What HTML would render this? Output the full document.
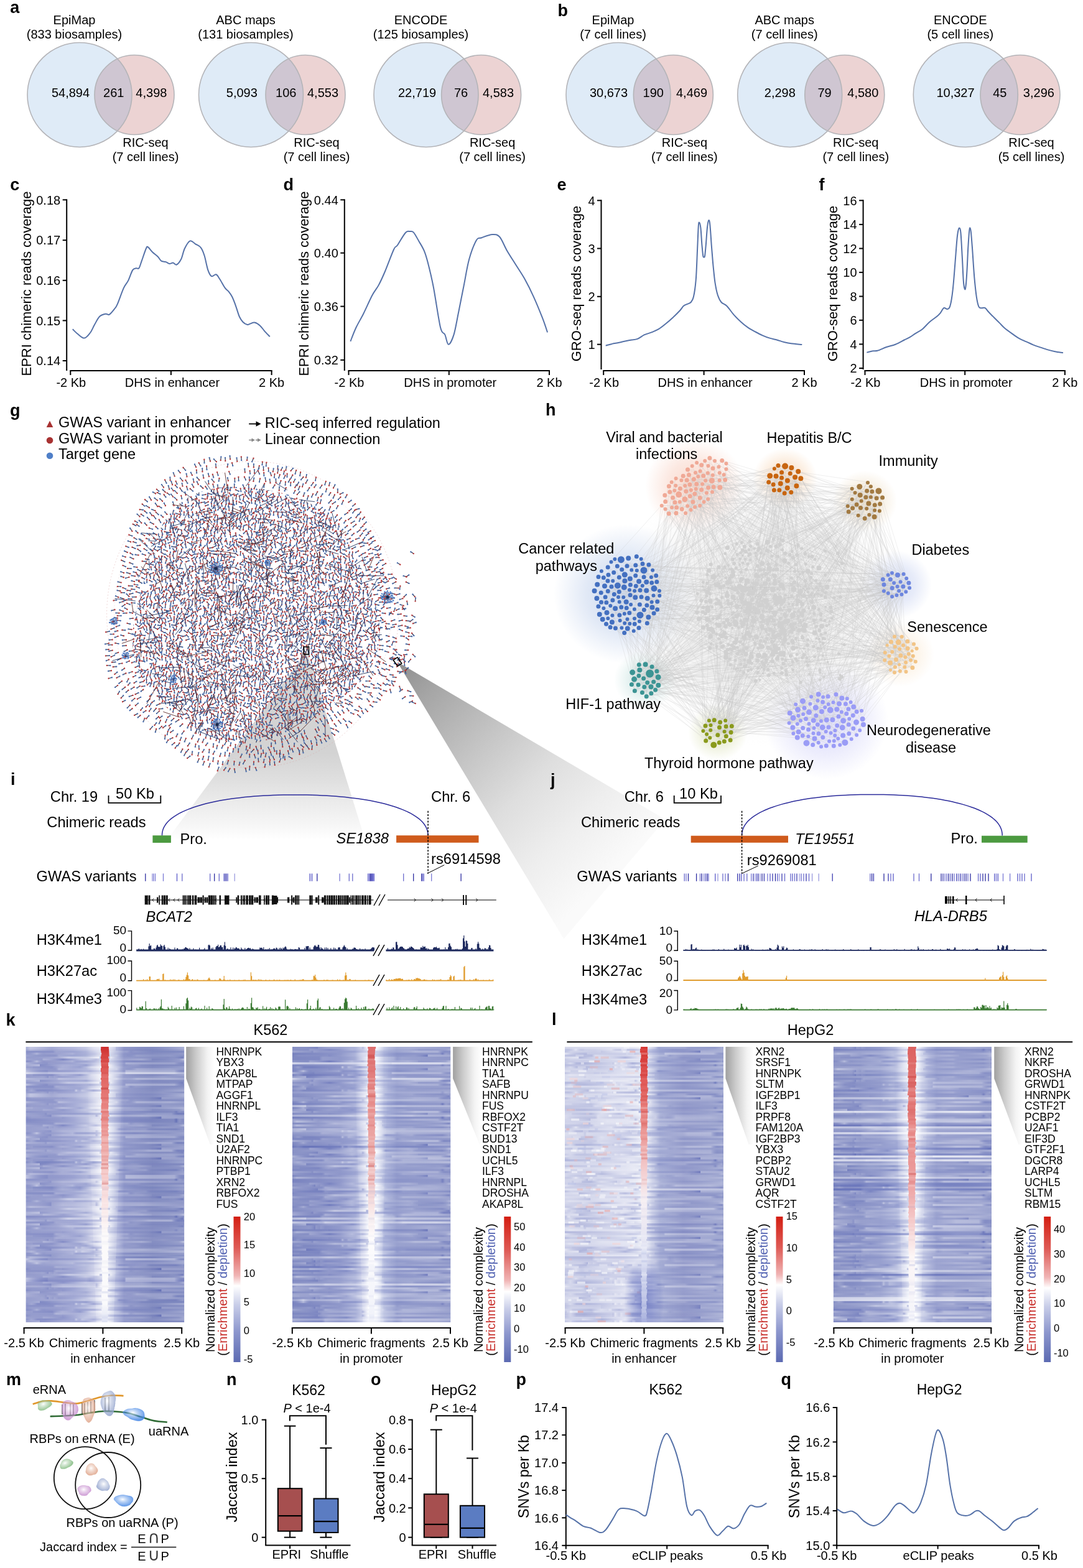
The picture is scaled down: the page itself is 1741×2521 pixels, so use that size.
<!DOCTYPE html>
<html><head><meta charset="utf-8"><title>Figure</title><style>html,body{margin:0;padding:0;background:#fff;}svg{display:block;}</style></head><body>
<svg width="1741" height="2521" viewBox="0 0 1741 2521" font-family='"Liberation Sans", Arial, Helvetica, sans-serif' font-size="20" fill="#000"><defs><linearGradient id="cone1" gradientUnits="userSpaceOnUse" x1="0" y1="1047" x2="0" y2="1350"><stop offset="0" stop-color="#d4d4d4"/><stop offset="0.54" stop-color="#d3d3d3"/><stop offset="0.68" stop-color="#dfdfdf"/><stop offset="0.8" stop-color="#ebebeb"/><stop offset="0.92" stop-color="#f6f6f6"/><stop offset="1" stop-color="#fff"/></linearGradient><linearGradient id="cone2" gradientUnits="userSpaceOnUse" x1="639" y1="1064" x2="985" y2="1400"><stop offset="0" stop-color="#8e8e8e"/><stop offset="0.15" stop-color="#a6a6a6"/><stop offset="0.4" stop-color="#c6c6c6"/><stop offset="0.6" stop-color="#dedede"/><stop offset="0.8" stop-color="#eeeeee"/><stop offset="1" stop-color="#fafafa"/></linearGradient><pattern id="dbA" patternUnits="userSpaceOnUse" width="144" height="126"><path d="M4.1 0.9L3.2 6.1M4.1 126.9L3.2 132.1M3.6 5.5L0.5 8.9M147.6 5.5L144.5 8.9M-0.7 13.3L4.7 14.8M143.3 13.3L148.7 14.8M2.1 17.4L4.8 21.2M3.4 23.3L1.6 28.3M147.4 23.3L145.6 28.3M0.6 31.3L5.3 32.4M144.6 31.3L149.3 32.4M-0.3 42.4L4.2 38.9M143.7 42.4L148.2 38.9M6.2 43.3L1.5 44M150.2 43.3L145.5 44M4 48.2L4.8 53.2M0.1 53.6L5.1 57M144.1 53.6L149.1 57M2 60.6L3.9 65.7M1.1 65.9L2.6 71M145.1 65.9L146.6 71M0.6 75.8L2.6 71.1M144.6 75.8L146.6 71.1M5.7 80.7L1.5 84.1M149.7 80.7L145.5 84.1M2.9 84.2L3 88.9M3.8 96.5L4.1 101.4M4.7 101.9L0.7 105.8M148.7 101.9L144.7 105.8M4.3 113L-0.1 112.3M148.3 113L143.9 112.3M2.3 119.8L6.1 116.3M2.7 120L5.8 124.7M2.7 -6L5.8 -1.3M13 8.9L8.2 5.7M5.9 15.3L10.4 14.1M6.9 37.8L8.5 42.8M9.7 42L5.9 45.7M10.2 55.4L10.5 60.6M7.9 67.3L7.8 72.2M9.1 79.9L7.6 85M10.5 87.5L4.6 87.2M10.7 90.8L8.8 95.4M8.6 95.8L13 99.4M6.3 105.1L11.4 105.8M7.9 107.9L9.3 113.3M10.1 114.2L9.5 119.4M10.2 118.7L11.1 124.3M10.2 -7.3L11.1 -1.7M14.2 5.7L17.7 1.5M14.2 131.7L17.7 127.5M18.7 10.6L14.3 6.6M11.7 12.6L14.8 16.1M11.1 21.2L15.9 19.4M17.1 29.6L14.3 34.3M16.7 36L16.6 40.7M14.8 42.9L13 47.8M13.9 47.5L14.6 52.2M11.2 59L15.4 57.2M14.3 61.3L12.4 65.5M14.9 67.6L14.8 73.3M14.4 70.6L15.8 76.1M14.2 82.1L18.8 82.6M15.7 85.1L16.1 90.8M15.3 90.4L15.5 95.4M13.9 96.3L18.9 98.6M15.1 100.8L13.3 106M11.5 110.7L16.1 108.5M13.7 115.9L17.9 118.2M19.9 1.1L22.3 5.8M19.9 127.1L22.3 131.8M20.3 11.4L24.3 8.8M20.3 16.5L24.6 13.7M21.6 19.4L23.6 24.7M22.1 29.1L17.4 28M21.4 36.5L21 31.5M19.1 42.9L20.6 47.4M22.8 53.2L19.7 57.4M22.4 59.2L19.7 64M21.2 67.2L22.6 71.9M19.6 75.9L22.1 70.8M22.5 80.6L21.2 84.9M21.5 84.4L21.1 90.1M20.8 90.3L18 94.7M22.4 102L20.5 96.7M19.5 108.3L20.7 103.7M23.2 107.3L21.6 111.7M20.5 114.9L19.8 120.4M22.6 120.2L20.7 124.6M22.6 -5.8L20.7 -1.4M26.2 1.6L24.6 5.8M26.2 127.6L24.6 131.8M29.9 8.8L24.8 8.8M29 12.3L25.9 16.8M26.1 17.4L28 22.6M25.4 24.5L26.6 30.1M26.4 29.6L26.4 34.3M26.5 36.5L30 39.5M28.7 46.1L27.2 41.7M26.5 46.8L28.2 52.3M28.4 52.5L26.8 58M27.9 67.1L28.9 72.9M27.2 79.2L28.8 84.4M29.1 83.1L27 87.7M27.4 89.4L28.4 94.1M29.3 101.2L27.4 96.3M25.7 101.5L27.3 106.3M28.9 108.3L28.1 113.2M28.5 116.7L23.5 118.4M24.9 125.6L27.5 121.1M24.9 -0.4L27.5 -4.9M32.7 2L36.1 6.5M34.6 7.9L34.7 12.9M36.7 12.3L32.8 15.3M34.2 24.3L33.9 18.5M36.8 28.7L31.5 28.7M35 30.9L32.1 34.6M31.7 34.5L31.7 39.9M32 48.3L32.5 53.3M32.5 59.3L30.7 53.6M34.2 64.6L32.8 60.1M36.2 70.3L32.9 66.7M31.3 71.6L31.2 77.3M31.7 83.4L34.9 79M34.1 83.1L33.8 88M30.9 96.3L34.3 91.8M35.1 97.1L29.6 99.5M35.3 113.1L33.7 108.6M34.5 115.4L35 121.3M32.4 123.8L33.9 119.5M36.6 0.8L38.8 6.2M36.6 126.8L38.8 132.2M40.5 7.3L37.1 11.2M40.6 11.6L39.2 16.2M37.2 24.4L38.4 28.9M38.2 29.1L36.5 33.8M42.9 39.1L37.5 40M42.1 46.5L36.8 45.3M35.3 52L41 51.2M40.3 62.8L36 65M39.7 67.2L40.9 71.8M42.4 76L37 74.1M39.7 82.9L37.8 78.5M40.6 83.7L36.9 86.8M42.6 96.5L39 92.6M40 95.2L40.9 99.7M41.5 101.3L39.8 106.8M42.3 111.4L37.7 108.3M38.7 124.8L41.8 121.1M38.7 -1.2L41.8 -4.9M46.6 0.2L45.7 5.6M46.6 126.2L45.7 131.6M46 8.7L43.3 12.7M44.9 11.3L42.8 15.9M45 19.3L45.3 24.9M44.2 23.8L45.9 28.4M45.4 43L45.8 37.3M44.9 45.8L46.2 41M46.8 50.8L41.5 53.4M42.3 57.2L46.8 55.6M46.4 61.5L45.7 66.4M49.4 70L43.5 71.2M43.9 71.5L44.1 76.8M46.5 82L41.3 81M44.9 85.9L48 89.9M46.6 90.6L46.8 95.3M45.6 100.9L41.2 97.8M44.9 100.6L43.5 106.4M45.1 109.7L46.3 114.7M46.2 112.4L44.9 118.2M46.1 125.2L44.5 119.5M46.1 -0.8L44.5 -6.5M47.8 2.7L52.5 4.2M49.5 6.8L49.8 11.9M52.2 13.9L51.9 19.6M52.1 18.9L48.8 22.9M52.9 23.4L51.7 28.7M53.4 29.5L51.8 34.1M47.1 37.4L52.4 38.8M51.7 42.7L53.4 48.2M53 47.2L51.6 52.1M51.9 53.2L52.4 58.5M51.8 65L48.5 61.2M47.7 67.6L53 67.9M52.5 74.8L47 76.5M49.2 79.4L52.3 83.6M53.2 92.5L52 96.9M50.6 96.8L51.2 102.4M52.2 104.7L47.4 106.8M50 115.1L52.1 110.3M48.4 117.3L52.7 113.6M53.5 124.4L48.9 125.2M53.5 -1.6L48.9 -0.8M59.8 4.5L54.7 3.8M55.8 9.1L60.3 9.7M54.5 13.9L56.7 18M55.4 21.4L60 23.6M53.2 24L57.8 26.5M56.1 30.7L55.3 36.6M55.8 36.3L59.2 40.6M58.2 43.3L59.4 48.8M58.1 48.4L56.3 53.2M56.3 56.2L55 60.7M58.6 64.7L57.6 60.2M56.1 71.8L56.5 66M59.3 71.2L57.2 76.3M55.5 78.6L57.4 83M56.4 85.9L54.9 91.1M59.4 90.1L58.1 94.9M60 95.5L56.6 99.4M57 100.9L56.8 106M55.3 108.7L57.1 113.7M57.3 115.3L59.4 120.8M54 124.2L59 121.5M54 -1.8L59 -4.5M62.7 4L60.5 -0.1M62.7 130L60.5 125.9M62.9 10.7L62 16M61.1 22.5L62.2 17.5M60.6 29.5L66.3 27.7M61.3 31.6L61.3 36.8M62 34.9L63.6 40.4M65.1 47.4L64.3 41.7M60.2 48.6L62.4 53.9M62.1 53.6L62.9 59.4M65.7 60L62.2 63.7M61.6 72.9L61.8 78.2M62.6 77.5L60.9 82.7M61 88.1L61.4 82.5M62.6 90.7L60.5 95.5M62.3 94.5L61.7 100.4M63.8 108.6L61.9 114M61.2 116.2L64.3 120.8M62.8 121L63.5 125.6M62.8 -5L63.5 -0.4M70.6 2.3L66.8 5.4M67 8.2L70.5 11.9M68.6 12.2L67.5 18.1M71.1 19.4L66.6 19.5M70.8 23.3L69.2 27.9M69.8 29.3L68.4 34.8M71.7 36.7L69.2 42.1M69.1 44.1L71.9 48.7M68.2 53.3L72 49.1M68 53.2L68.9 57.8M72 61.8L69.1 66.1M68.6 66.1L72.5 68.4M70.7 76.2L65 77.2M68 78L69.4 83.7M66.6 85L70.3 87.8M68.8 90.9L65.8 94.8M68.4 95.9L71.1 101.1M68.3 102L66.5 107.3M68.2 109.1L66.5 113.3M66.3 114.5L68.8 119.3M68.2 126.8L70.1 122.7M68.2 0.8L70.1 -3.3M74 7.9L72.5 13.5M78.4 12.9L73.5 14.6M77.4 17.8L75.2 23.1M77.9 26.9L73.4 30.4M73.2 30.8L73.8 36.1M71.9 40.7L76.4 39.6M76.6 44.3L76.7 49M74.8 47.6L75.7 53.4M75.4 54.9L73.7 59.9M70.9 61.7L75.6 62.6M75.3 68L76.2 73.6M73.5 73.1L74.2 78.2M74.8 79.8L74.1 85.4M74.8 84.8L77.6 88.7M76.2 92.5L70.7 93.2M73.5 96.1L74.3 101.4M72.7 101.5L73.9 106.4M73.6 114.5L75.6 110.3M75.9 113.5L77.4 118.8M74.3 121.6L78.5 125.1M74.3 -4.4L78.5 -0.9M83.7 1.4L78.5 3.3M83.7 127.4L78.5 129.3M81.5 6.5L83.1 11.8M81.7 14L80 18.5M80.2 22L84.4 20.6M82.1 31.3L82.3 25.6M76.7 30.9L82.1 32.7M81 36.7L83 41M79.6 41.8L79.2 46.9M81.4 54.5L80.2 49M79.7 53.1L79 58.5M80.4 64.6L80 59M84.5 70.8L78.9 69.4M80.5 75.9L83 71.8M83.3 78L81 83.6M79.6 84.4L81 89.5M81 92.5L81.4 97.1M82.1 100.1L78.4 95.9M82.1 102.7L83 107.5M82.4 114.9L81.3 120M80.1 125.2L83.7 121.3M80.1 -0.8L83.7 -4.7M85.8 -0.2L88.2 4.4M85.8 125.8L88.2 130.4M83.5 13L89.2 13.8M88.3 17.8L86.4 22.2M87.1 23.2L84.3 28M88.1 38.4L83.7 39.7M86.8 48.8L87.4 54.3M84 54.6L88.7 55.9M83.4 68.3L88.6 70M89.3 72.5L85.4 75.6M83.9 82.4L87.8 79.4M88 85.8L84.4 90M88 90L86.3 94.4M91 104.6L86.3 106.6M86.5 109.6L85.8 114.9M88.5 115.9L87.5 120.5M89.3 123.8L85.8 119.4M91.4 -0.5L92.2 5.3M91.4 125.5L92.2 131.3M94.2 10.8L90.1 7.6M94.2 23.3L91.6 27.8M90.8 31.4L95.8 33.8M88.8 40.7L94.2 38.2M92 41.3L91.3 46.4M92.2 49.8L92.1 54.4M93.5 68.4L89.1 71M93.4 77.2L94.4 71.9M92.4 78.2L91.1 83.9M91.5 84.6L91.6 89.8M92.8 93.1L96.2 89.8M90.8 101L91.8 106.3M89.5 112.7L93.5 110.6M92 114L92.7 119.4M95.9 123.2L92.6 120M98.8 4.9L98.4 10.6M102 20.7L98 24M97.9 25.1L102.5 26.4M98.6 29.5L99.4 34.1M102.7 38.9L97.8 40.8M96.7 41.6L97.9 47.4M96.3 51.1L100.4 53.3M102.5 58.5L97.4 59M98.3 65.2L99.9 60.5M102.4 66.6L99.1 70.2M97.3 77.6L99.1 72M99.1 84.5L97.2 79.6M100.2 86.2L98.3 91M99.5 90.5L97.3 95.4M101.2 107L96.9 104.2M102.2 112.1L97.7 110M96.2 116.1L101.8 118M99.7 121.1L98.6 126.4M99.7 -4.9L98.6 0.4M109.2 3.5L104.2 1.1M109.2 129.5L104.2 127.1M102.4 7.7L104.3 12.4M108.5 16L104.3 14.4M105.2 16.9L104.4 21.9M105.7 28.6L106.8 24.1M108.4 33.7L104.4 29.7M106.6 40.4L105.7 35M103.9 42.4L103.1 47.4M102.7 49L106.4 52.5M105.7 60.6L107.3 54.9M103.2 60.9L103.2 66.8M104.9 66.8L105.7 72M107 74.2L104.1 79M106.5 83.3L104 78.8M108.9 87.6L104.2 88.9M102.9 95.9L103.5 90.6M107.1 98.2L103.7 101.7M104.2 118.2L105.2 113.2M103.4 126.5L106 122.2M103.4 0.5L106 -3.8M109.2 3.8L112.9 1.1M109.2 129.8L112.9 127.1M111.3 12.4L112.7 17.2M113.9 22.7L108.7 21.6M111.2 23L112.2 27.5M111.8 29.7L112.1 35.4M111.3 36.5L113.8 40.9M111.8 45.9L108.3 41.2M113.1 52.6L108.9 49.6M106.5 64.2L112 63.1M112 65L113.4 70.6M110.4 73.3L110 79.2M111.3 82.3L108.5 77M111.7 83.2L112.1 87.8M111.5 89.3L111.6 95.1M108.4 97.5L110.7 102.9M109.6 102.3L112.2 107.4M108.7 111.1L114 110.6M112.6 113.3L111.6 118.9M115.3 124.2L110 123.2M115.3 -1.8L110 -2.8M115.5 -0.2L115.1 5.8M115.5 125.8L115.1 131.8M115.7 6.4L120.1 9.1M115.9 12.3L114.6 17.7M115.7 17.3L115.5 22.2M115.4 25.6L116.6 31M115.9 30.3L114.6 35M117.3 34.8L115.8 40.2M116.6 47.2L115.6 42M116.2 48.5L116.6 53M117.3 61.9L115.6 67.5M119.4 67.9L115.9 72M118.8 73.7L118.6 79M117.6 77.2L113.5 81.3M119.8 84.9L116.8 88.3M113.5 91.4L117.3 95.3M115.6 97.3L117.3 102.8M117 103.7L116.2 108.3M114.5 112L119.7 112M117.7 118.4L116.1 113.8M117.3 120.1L113.5 123.7M124.8 4L119.4 1.8M124.8 130L119.4 127.8M126 12.4L121.5 8.9M120.4 13.2L124.3 16.5M123.5 18.4L122 23.4M124.8 25.5L124.5 31M123.5 37.1L123.5 42.2M124.9 46.2L119.5 44.1M122.3 49.3L122.6 54.4M123.3 61.2L125 55.7M122.7 62.1L124.6 66.9M120 69.5L122.5 65.7M124.3 72L122.5 77.2M121.1 78.1L124.5 81.7M124 83.1L122.1 87.3M122.2 89.4L121.5 95.1M120.6 98.8L126.4 99.9M125 106L123.9 101.3M123.3 108L126.1 112.1M121.6 113.7L122.6 118.4M120.6 119.4L122.3 123.6M128.9 10.2L130 5.7M129.1 13.2L130.1 18.8M127.5 23.6L131.4 21.3M128.1 26.4L133.3 27.4M129.9 29.8L128.5 34.7M129.6 39.5L125.8 35.3M128.2 42.8L126.8 47.4M129.3 48L129.7 52.5M130.1 61.1L130.8 56.2M129.4 59.4L126.9 63.5M127.1 66.8L130.1 71M131.2 73.5L130.2 79.3M128.1 78.9L127.4 84.8M131.1 84.6L130.4 89.4M129.4 97.2L129.8 91.6M130.4 99.4L125.3 101.6M131.6 103.7L127 104.1M129.2 107.6L131 112.4M131.7 115L126.5 117.3M128.5 120.6L129.1 125.8M128.5 -5.4L129.1 -0.2M137.2 4.7L134.1 0.3M137.2 130.7L134.1 126.3M135.1 5.2L134.3 10.1M133.8 11.1L135.6 16M135 20L133.6 24.3M133.6 25.8L136.6 30.9M133.1 31L134.6 35.4M135.9 38.7L132.5 42M131.6 44.2L135.1 48.6M134.1 50.2L138.7 49.4M132.1 60.1L135.2 65M134.7 64.7L133.7 70.6M136.4 70.8L136 76M135.6 78.1L137 82.9M134.5 83.4L134.7 88.4M137.5 91.8L132.9 92.6M134.1 95L134.2 100.2M136 101.4L136.5 106M135.9 109.8L135.6 115.7M135.9 113.1L135.5 118.2M137.8 123.4L132.2 122.8M140 -1L139.1 4.4M140 125L139.1 130.4M142.1 13.6L141.6 18.9M-1.9 13.6L-2.4 18.9M142.5 17.3L139.5 21.5M-1.5 17.3L-4.5 21.5M139.3 26.3L141.2 30.8M140.8 33.9L144.7 31.7M-3.2 33.9L0.7 31.7M141.3 35.4L139.5 40.3M140.6 41.7L142.3 47.2M-3.4 41.7L-1.7 47.2M140.5 48.3L142.9 53.2M-3.5 48.3L-1.1 53.2M140.4 55.6L143 60.4M-3.6 55.6L-1 60.4M144.6 62.4L140.6 60.2M0.6 62.4L-3.4 60.2M144.3 70.9L138.8 69.4M0.3 70.9L-5.2 69.4M140.8 73.3L137.7 78.2M140 78.6L143.7 81.9M-4 78.6L-0.3 81.9M140.4 91.3L138.1 95.8M142.7 94.8L140.3 100.2M-1.3 94.8L-3.7 100.2M143 103.9L141.2 108.4M-1 103.9L-2.8 108.4M141.8 109.4L139.6 113.4M140.3 114.5L139.7 119.9M142.8 120.3L138.1 123.6M-1.2 120.3L-5.9 123.6" stroke="#2b3350" stroke-width="1.2" fill="none"/><path d="M4.1 0.9h0M4.1 126.9h0M3.6 5.5h0M147.6 5.5h0M-0.7 13.3h0M143.3 13.3h0M2.1 17.4h0M3.4 23.3h0M147.4 23.3h0M0.6 31.3h0M144.6 31.3h0M-0.3 42.4h0M143.7 42.4h0M6.2 43.3h0M150.2 43.3h0M4 48.2h0M0.1 53.6h0M144.1 53.6h0M2 60.6h0M1.1 65.9h0M145.1 65.9h0M0.6 75.8h0M144.6 75.8h0M5.7 80.7h0M149.7 80.7h0M2.9 84.2h0M3.8 96.5h0M4.7 101.9h0M148.7 101.9h0M4.3 113h0M148.3 113h0M2.3 119.8h0M2.7 120h0M2.7 -6h0M13 8.9h0M5.9 15.3h0M6.9 37.8h0M9.7 42h0M10.2 55.4h0M7.9 67.3h0M9.1 79.9h0M10.5 87.5h0M10.7 90.8h0M8.6 95.8h0M6.3 105.1h0M7.9 107.9h0M10.1 114.2h0M10.2 118.7h0M10.2 -7.3h0M14.2 5.7h0M14.2 131.7h0M18.7 10.6h0M11.7 12.6h0M11.1 21.2h0M17.1 29.6h0M16.7 36h0M14.8 42.9h0M13.9 47.5h0M11.2 59h0M14.3 61.3h0M14.9 67.6h0M14.4 70.6h0M14.2 82.1h0M15.7 85.1h0M15.3 90.4h0M13.9 96.3h0M15.1 100.8h0M11.5 110.7h0M13.7 115.9h0M19.9 1.1h0M19.9 127.1h0M20.3 11.4h0M20.3 16.5h0M21.6 19.4h0M22.1 29.1h0M21.4 36.5h0M19.1 42.9h0M22.8 53.2h0M22.4 59.2h0M21.2 67.2h0M19.6 75.9h0M22.5 80.6h0M21.5 84.4h0M20.8 90.3h0M22.4 102h0M19.5 108.3h0M23.2 107.3h0M20.5 114.9h0M22.6 120.2h0M22.6 -5.8h0M26.2 1.6h0M26.2 127.6h0M29.9 8.8h0M29 12.3h0M26.1 17.4h0M25.4 24.5h0M26.4 29.6h0M26.5 36.5h0M28.7 46.1h0M26.5 46.8h0M28.4 52.5h0M27.9 67.1h0M27.2 79.2h0M29.1 83.1h0M27.4 89.4h0M29.3 101.2h0M25.7 101.5h0M28.9 108.3h0M28.5 116.7h0M24.9 125.6h0M24.9 -0.4h0M32.7 2h0M34.6 7.9h0M36.7 12.3h0M34.2 24.3h0M36.8 28.7h0M35 30.9h0M31.7 34.5h0M32 48.3h0M32.5 59.3h0M34.2 64.6h0M36.2 70.3h0M31.3 71.6h0M31.7 83.4h0M34.1 83.1h0M30.9 96.3h0M35.1 97.1h0M35.3 113.1h0M34.5 115.4h0M32.4 123.8h0M36.6 0.8h0M36.6 126.8h0M40.5 7.3h0M40.6 11.6h0M37.2 24.4h0M38.2 29.1h0M42.9 39.1h0M42.1 46.5h0M35.3 52h0M40.3 62.8h0M39.7 67.2h0M42.4 76h0M39.7 82.9h0M40.6 83.7h0M42.6 96.5h0M40 95.2h0M41.5 101.3h0M42.3 111.4h0M38.7 124.8h0M38.7 -1.2h0M46.6 0.2h0M46.6 126.2h0M46 8.7h0M44.9 11.3h0M45 19.3h0M44.2 23.8h0M45.4 43h0M44.9 45.8h0M46.8 50.8h0M42.3 57.2h0M46.4 61.5h0M49.4 70h0M43.9 71.5h0M46.5 82h0M44.9 85.9h0M46.6 90.6h0M45.6 100.9h0M44.9 100.6h0M45.1 109.7h0M46.2 112.4h0M46.1 125.2h0M46.1 -0.8h0M47.8 2.7h0M49.5 6.8h0M52.2 13.9h0M52.1 18.9h0M52.9 23.4h0M53.4 29.5h0M47.1 37.4h0M51.7 42.7h0M53 47.2h0M51.9 53.2h0M51.8 65h0M47.7 67.6h0M52.5 74.8h0M49.2 79.4h0M53.2 92.5h0M50.6 96.8h0M52.2 104.7h0M50 115.1h0M48.4 117.3h0M53.5 124.4h0M53.5 -1.6h0M59.8 4.5h0M55.8 9.1h0M54.5 13.9h0M55.4 21.4h0M53.2 24h0M56.1 30.7h0M55.8 36.3h0M58.2 43.3h0M58.1 48.4h0M56.3 56.2h0M58.6 64.7h0M56.1 71.8h0M59.3 71.2h0M55.5 78.6h0M56.4 85.9h0M59.4 90.1h0M60 95.5h0M57 100.9h0M55.3 108.7h0M57.3 115.3h0M54 124.2h0M54 -1.8h0M62.7 4h0M62.7 130h0M62.9 10.7h0M61.1 22.5h0M60.6 29.5h0M61.3 31.6h0M62 34.9h0M65.1 47.4h0M60.2 48.6h0M62.1 53.6h0M65.7 60h0M61.6 72.9h0M62.6 77.5h0M61 88.1h0M62.6 90.7h0M62.3 94.5h0M63.8 108.6h0M61.2 116.2h0M62.8 121h0M62.8 -5h0M70.6 2.3h0M67 8.2h0M68.6 12.2h0M71.1 19.4h0M70.8 23.3h0M69.8 29.3h0M71.7 36.7h0M69.1 44.1h0M68.2 53.3h0M68 53.2h0M72 61.8h0M68.6 66.1h0M70.7 76.2h0M68 78h0M66.6 85h0M68.8 90.9h0M68.4 95.9h0M68.3 102h0M68.2 109.1h0M66.3 114.5h0M68.2 126.8h0M68.2 0.8h0M74 7.9h0M78.4 12.9h0M77.4 17.8h0M77.9 26.9h0M73.2 30.8h0M71.9 40.7h0M76.6 44.3h0M74.8 47.6h0M75.4 54.9h0M70.9 61.7h0M75.3 68h0M73.5 73.1h0M74.8 79.8h0M74.8 84.8h0M76.2 92.5h0M73.5 96.1h0M72.7 101.5h0M73.6 114.5h0M75.9 113.5h0M74.3 121.6h0M74.3 -4.4h0M83.7 1.4h0M83.7 127.4h0M81.5 6.5h0M81.7 14h0M80.2 22h0M82.1 31.3h0M76.7 30.9h0M81 36.7h0M79.6 41.8h0M81.4 54.5h0M79.7 53.1h0M80.4 64.6h0M84.5 70.8h0M80.5 75.9h0M83.3 78h0M79.6 84.4h0M81 92.5h0M82.1 100.1h0M82.1 102.7h0M82.4 114.9h0M80.1 125.2h0M80.1 -0.8h0M85.8 -0.2h0M85.8 125.8h0M83.5 13h0M88.3 17.8h0M87.1 23.2h0M88.1 38.4h0M86.8 48.8h0M84 54.6h0M83.4 68.3h0M89.3 72.5h0M83.9 82.4h0M88 85.8h0M88 90h0M91 104.6h0M86.5 109.6h0M88.5 115.9h0M89.3 123.8h0M91.4 -0.5h0M91.4 125.5h0M94.2 10.8h0M94.2 23.3h0M90.8 31.4h0M88.8 40.7h0M92 41.3h0M92.2 49.8h0M93.5 68.4h0M93.4 77.2h0M92.4 78.2h0M91.5 84.6h0M92.8 93.1h0M90.8 101h0M89.5 112.7h0M92 114h0M95.9 123.2h0M98.8 4.9h0M102 20.7h0M97.9 25.1h0M98.6 29.5h0M102.7 38.9h0M96.7 41.6h0M96.3 51.1h0M102.5 58.5h0M98.3 65.2h0M102.4 66.6h0M97.3 77.6h0M99.1 84.5h0M100.2 86.2h0M99.5 90.5h0M101.2 107h0M102.2 112.1h0M96.2 116.1h0M99.7 121.1h0M99.7 -4.9h0M109.2 3.5h0M109.2 129.5h0M102.4 7.7h0M108.5 16h0M105.2 16.9h0M105.7 28.6h0M108.4 33.7h0M106.6 40.4h0M103.9 42.4h0M102.7 49h0M105.7 60.6h0M103.2 60.9h0M104.9 66.8h0M107 74.2h0M106.5 83.3h0M108.9 87.6h0M102.9 95.9h0M107.1 98.2h0M104.2 118.2h0M103.4 126.5h0M103.4 0.5h0M109.2 3.8h0M109.2 129.8h0M111.3 12.4h0M113.9 22.7h0M111.2 23h0M111.8 29.7h0M111.3 36.5h0M111.8 45.9h0M113.1 52.6h0M106.5 64.2h0M112 65h0M110.4 73.3h0M111.3 82.3h0M111.7 83.2h0M111.5 89.3h0M108.4 97.5h0M109.6 102.3h0M108.7 111.1h0M112.6 113.3h0M115.3 124.2h0M115.3 -1.8h0M115.5 -0.2h0M115.5 125.8h0M115.7 6.4h0M115.9 12.3h0M115.7 17.3h0M115.4 25.6h0M115.9 30.3h0M117.3 34.8h0M116.6 47.2h0M116.2 48.5h0M117.3 61.9h0M119.4 67.9h0M118.8 73.7h0M117.6 77.2h0M119.8 84.9h0M113.5 91.4h0M115.6 97.3h0M117 103.7h0M114.5 112h0M117.7 118.4h0M117.3 120.1h0M124.8 4h0M124.8 130h0M126 12.4h0M120.4 13.2h0M123.5 18.4h0M124.8 25.5h0M123.5 37.1h0M124.9 46.2h0M122.3 49.3h0M123.3 61.2h0M122.7 62.1h0M120 69.5h0M124.3 72h0M121.1 78.1h0M124 83.1h0M122.2 89.4h0M120.6 98.8h0M125 106h0M123.3 108h0M121.6 113.7h0M120.6 119.4h0M128.9 10.2h0M129.1 13.2h0M127.5 23.6h0M128.1 26.4h0M129.9 29.8h0M129.6 39.5h0M128.2 42.8h0M129.3 48h0M130.1 61.1h0M129.4 59.4h0M127.1 66.8h0M131.2 73.5h0M128.1 78.9h0M131.1 84.6h0M129.4 97.2h0M130.4 99.4h0M131.6 103.7h0M129.2 107.6h0M131.7 115h0M128.5 120.6h0M128.5 -5.4h0M137.2 4.7h0M137.2 130.7h0M135.1 5.2h0M133.8 11.1h0M135 20h0M133.6 25.8h0M133.1 31h0M135.9 38.7h0M131.6 44.2h0M134.1 50.2h0M132.1 60.1h0M134.7 64.7h0M136.4 70.8h0M135.6 78.1h0M134.5 83.4h0M137.5 91.8h0M134.1 95h0M136 101.4h0M135.9 109.8h0M135.9 113.1h0M137.8 123.4h0M140 -1h0M140 125h0M142.1 13.6h0M-1.9 13.6h0M142.5 17.3h0M-1.5 17.3h0M139.3 26.3h0M140.8 33.9h0M-3.2 33.9h0M141.3 35.4h0M140.6 41.7h0M-3.4 41.7h0M140.5 48.3h0M-3.5 48.3h0M140.4 55.6h0M-3.6 55.6h0M144.6 62.4h0M0.6 62.4h0M144.3 70.9h0M0.3 70.9h0M140.8 73.3h0M140 78.6h0M-4 78.6h0M140.4 91.3h0M142.7 94.8h0M-1.3 94.8h0M143 103.9h0M-1 103.9h0M141.8 109.4h0M140.3 114.5h0M142.8 120.3h0M-1.2 120.3h0" stroke="#bb3a3a" stroke-width="2.4" fill="none" stroke-linecap="round"/><path d="M3.2 6.1h0M3.2 132.1h0M0.5 8.9h0M144.5 8.9h0M4.7 14.8h0M148.7 14.8h0M4.8 21.2h0M1.6 28.3h0M145.6 28.3h0M5.3 32.4h0M149.3 32.4h0M4.2 38.9h0M148.2 38.9h0M1.5 44h0M145.5 44h0M4.8 53.2h0M5.1 57h0M149.1 57h0M3.9 65.7h0M2.6 71h0M146.6 71h0M2.6 71.1h0M146.6 71.1h0M1.5 84.1h0M145.5 84.1h0M3 88.9h0M4.1 101.4h0M0.7 105.8h0M144.7 105.8h0M-0.1 112.3h0M143.9 112.3h0M6.1 116.3h0M5.8 124.7h0M5.8 -1.3h0M8.2 5.7h0M10.4 14.1h0M8.5 42.8h0M5.9 45.7h0M10.5 60.6h0M7.8 72.2h0M7.6 85h0M4.6 87.2h0M8.8 95.4h0M13 99.4h0M11.4 105.8h0M9.3 113.3h0M9.5 119.4h0M11.1 124.3h0M11.1 -1.7h0M17.7 1.5h0M17.7 127.5h0M14.3 6.6h0M14.8 16.1h0M15.9 19.4h0M14.3 34.3h0M16.6 40.7h0M13 47.8h0M14.6 52.2h0M15.4 57.2h0M12.4 65.5h0M14.8 73.3h0M15.8 76.1h0M18.8 82.6h0M16.1 90.8h0M15.5 95.4h0M18.9 98.6h0M13.3 106h0M16.1 108.5h0M17.9 118.2h0M22.3 5.8h0M22.3 131.8h0M24.3 8.8h0M24.6 13.7h0M23.6 24.7h0M17.4 28h0M21 31.5h0M20.6 47.4h0M19.7 57.4h0M19.7 64h0M22.6 71.9h0M22.1 70.8h0M21.2 84.9h0M21.1 90.1h0M18 94.7h0M20.5 96.7h0M20.7 103.7h0M21.6 111.7h0M19.8 120.4h0M20.7 124.6h0M20.7 -1.4h0M24.6 5.8h0M24.6 131.8h0M24.8 8.8h0M25.9 16.8h0M28 22.6h0M26.6 30.1h0M26.4 34.3h0M30 39.5h0M27.2 41.7h0M28.2 52.3h0M26.8 58h0M28.9 72.9h0M28.8 84.4h0M27 87.7h0M28.4 94.1h0M27.4 96.3h0M27.3 106.3h0M28.1 113.2h0M23.5 118.4h0M27.5 121.1h0M27.5 -4.9h0M36.1 6.5h0M34.7 12.9h0M32.8 15.3h0M33.9 18.5h0M31.5 28.7h0M32.1 34.6h0M31.7 39.9h0M32.5 53.3h0M30.7 53.6h0M32.8 60.1h0M32.9 66.7h0M31.2 77.3h0M34.9 79h0M33.8 88h0M34.3 91.8h0M29.6 99.5h0M33.7 108.6h0M35 121.3h0M33.9 119.5h0M38.8 6.2h0M38.8 132.2h0M37.1 11.2h0M39.2 16.2h0M38.4 28.9h0M36.5 33.8h0M37.5 40h0M36.8 45.3h0M41 51.2h0M36 65h0M40.9 71.8h0M37 74.1h0M37.8 78.5h0M36.9 86.8h0M39 92.6h0M40.9 99.7h0M39.8 106.8h0M37.7 108.3h0M41.8 121.1h0M41.8 -4.9h0M45.7 5.6h0M45.7 131.6h0M43.3 12.7h0M42.8 15.9h0M45.3 24.9h0M45.9 28.4h0M45.8 37.3h0M46.2 41h0M41.5 53.4h0M46.8 55.6h0M45.7 66.4h0M43.5 71.2h0M44.1 76.8h0M41.3 81h0M48 89.9h0M46.8 95.3h0M41.2 97.8h0M43.5 106.4h0M46.3 114.7h0M44.9 118.2h0M44.5 119.5h0M44.5 -6.5h0M52.5 4.2h0M49.8 11.9h0M51.9 19.6h0M48.8 22.9h0M51.7 28.7h0M51.8 34.1h0M52.4 38.8h0M53.4 48.2h0M51.6 52.1h0M52.4 58.5h0M48.5 61.2h0M53 67.9h0M47 76.5h0M52.3 83.6h0M52 96.9h0M51.2 102.4h0M47.4 106.8h0M52.1 110.3h0M52.7 113.6h0M48.9 125.2h0M48.9 -0.8h0M54.7 3.8h0M60.3 9.7h0M56.7 18h0M60 23.6h0M57.8 26.5h0M55.3 36.6h0M59.2 40.6h0M59.4 48.8h0M56.3 53.2h0M55 60.7h0M57.6 60.2h0M56.5 66h0M57.2 76.3h0M57.4 83h0M54.9 91.1h0M58.1 94.9h0M56.6 99.4h0M56.8 106h0M57.1 113.7h0M59.4 120.8h0M59 121.5h0M59 -4.5h0M60.5 -0.1h0M60.5 125.9h0M62 16h0M62.2 17.5h0M66.3 27.7h0M61.3 36.8h0M63.6 40.4h0M64.3 41.7h0M62.4 53.9h0M62.9 59.4h0M62.2 63.7h0M61.8 78.2h0M60.9 82.7h0M61.4 82.5h0M60.5 95.5h0M61.7 100.4h0M61.9 114h0M64.3 120.8h0M63.5 125.6h0M63.5 -0.4h0M66.8 5.4h0M70.5 11.9h0M67.5 18.1h0M66.6 19.5h0M69.2 27.9h0M68.4 34.8h0M69.2 42.1h0M71.9 48.7h0M72 49.1h0M68.9 57.8h0M69.1 66.1h0M72.5 68.4h0M65 77.2h0M69.4 83.7h0M70.3 87.8h0M65.8 94.8h0M71.1 101.1h0M66.5 107.3h0M66.5 113.3h0M68.8 119.3h0M70.1 122.7h0M70.1 -3.3h0M72.5 13.5h0M73.5 14.6h0M75.2 23.1h0M73.4 30.4h0M73.8 36.1h0M76.4 39.6h0M76.7 49h0M75.7 53.4h0M73.7 59.9h0M75.6 62.6h0M76.2 73.6h0M74.2 78.2h0M74.1 85.4h0M77.6 88.7h0M70.7 93.2h0M74.3 101.4h0M73.9 106.4h0M75.6 110.3h0M77.4 118.8h0M78.5 125.1h0M78.5 -0.9h0M78.5 3.3h0M78.5 129.3h0M83.1 11.8h0M80 18.5h0M84.4 20.6h0M82.3 25.6h0M82.1 32.7h0M83 41h0M79.2 46.9h0M80.2 49h0M79 58.5h0M80 59h0M78.9 69.4h0M83 71.8h0M81 83.6h0M81 89.5h0M81.4 97.1h0M78.4 95.9h0M83 107.5h0M81.3 120h0M83.7 121.3h0M83.7 -4.7h0M88.2 4.4h0M88.2 130.4h0M89.2 13.8h0M86.4 22.2h0M84.3 28h0M83.7 39.7h0M87.4 54.3h0M88.7 55.9h0M88.6 70h0M85.4 75.6h0M87.8 79.4h0M84.4 90h0M86.3 94.4h0M86.3 106.6h0M85.8 114.9h0M87.5 120.5h0M85.8 119.4h0M92.2 5.3h0M92.2 131.3h0M90.1 7.6h0M91.6 27.8h0M95.8 33.8h0M94.2 38.2h0M91.3 46.4h0M92.1 54.4h0M89.1 71h0M94.4 71.9h0M91.1 83.9h0M91.6 89.8h0M96.2 89.8h0M91.8 106.3h0M93.5 110.6h0M92.7 119.4h0M92.6 120h0M98.4 10.6h0M98 24h0M102.5 26.4h0M99.4 34.1h0M97.8 40.8h0M97.9 47.4h0M100.4 53.3h0M97.4 59h0M99.9 60.5h0M99.1 70.2h0M99.1 72h0M97.2 79.6h0M98.3 91h0M97.3 95.4h0M96.9 104.2h0M97.7 110h0M101.8 118h0M98.6 126.4h0M98.6 0.4h0M104.2 1.1h0M104.2 127.1h0M104.3 12.4h0M104.3 14.4h0M104.4 21.9h0M106.8 24.1h0M104.4 29.7h0M105.7 35h0M103.1 47.4h0M106.4 52.5h0M107.3 54.9h0M103.2 66.8h0M105.7 72h0M104.1 79h0M104 78.8h0M104.2 88.9h0M103.5 90.6h0M103.7 101.7h0M105.2 113.2h0M106 122.2h0M106 -3.8h0M112.9 1.1h0M112.9 127.1h0M112.7 17.2h0M108.7 21.6h0M112.2 27.5h0M112.1 35.4h0M113.8 40.9h0M108.3 41.2h0M108.9 49.6h0M112 63.1h0M113.4 70.6h0M110 79.2h0M108.5 77h0M112.1 87.8h0M111.6 95.1h0M110.7 102.9h0M112.2 107.4h0M114 110.6h0M111.6 118.9h0M110 123.2h0M110 -2.8h0M115.1 5.8h0M115.1 131.8h0M120.1 9.1h0M114.6 17.7h0M115.5 22.2h0M116.6 31h0M114.6 35h0M115.8 40.2h0M115.6 42h0M116.6 53h0M115.6 67.5h0M115.9 72h0M118.6 79h0M113.5 81.3h0M116.8 88.3h0M117.3 95.3h0M117.3 102.8h0M116.2 108.3h0M119.7 112h0M116.1 113.8h0M113.5 123.7h0M119.4 1.8h0M119.4 127.8h0M121.5 8.9h0M124.3 16.5h0M122 23.4h0M124.5 31h0M123.5 42.2h0M119.5 44.1h0M122.6 54.4h0M125 55.7h0M124.6 66.9h0M122.5 65.7h0M122.5 77.2h0M124.5 81.7h0M122.1 87.3h0M121.5 95.1h0M126.4 99.9h0M123.9 101.3h0M126.1 112.1h0M122.6 118.4h0M122.3 123.6h0M130 5.7h0M130.1 18.8h0M131.4 21.3h0M133.3 27.4h0M128.5 34.7h0M125.8 35.3h0M126.8 47.4h0M129.7 52.5h0M130.8 56.2h0M126.9 63.5h0M130.1 71h0M130.2 79.3h0M127.4 84.8h0M130.4 89.4h0M129.8 91.6h0M125.3 101.6h0M127 104.1h0M131 112.4h0M126.5 117.3h0M129.1 125.8h0M129.1 -0.2h0M134.1 0.3h0M134.1 126.3h0M134.3 10.1h0M135.6 16h0M133.6 24.3h0M136.6 30.9h0M134.6 35.4h0M132.5 42h0M135.1 48.6h0M138.7 49.4h0M135.2 65h0M133.7 70.6h0M136 76h0M137 82.9h0M134.7 88.4h0M132.9 92.6h0M134.2 100.2h0M136.5 106h0M135.6 115.7h0M135.5 118.2h0M132.2 122.8h0M139.1 4.4h0M139.1 130.4h0M141.6 18.9h0M-2.4 18.9h0M139.5 21.5h0M-4.5 21.5h0M141.2 30.8h0M144.7 31.7h0M0.7 31.7h0M139.5 40.3h0M142.3 47.2h0M-1.7 47.2h0M142.9 53.2h0M-1.1 53.2h0M143 60.4h0M-1 60.4h0M140.6 60.2h0M-3.4 60.2h0M138.8 69.4h0M-5.2 69.4h0M137.7 78.2h0M143.7 81.9h0M-0.3 81.9h0M138.1 95.8h0M140.3 100.2h0M-3.7 100.2h0M141.2 108.4h0M-2.8 108.4h0M139.6 113.4h0M139.7 119.9h0M138.1 123.6h0M-5.9 123.6h0" stroke="#4a6fb0" stroke-width="2.4" fill="none" stroke-linecap="round"/></pattern><radialGradient id="gl_viral"><stop offset="0" stop-color="#f9d6c9" stop-opacity="0.95"/><stop offset="0.55" stop-color="#f9d6c9" stop-opacity="0.55"/><stop offset="1" stop-color="#f9d6c9" stop-opacity="0"/></radialGradient><radialGradient id="gl_hep"><stop offset="0" stop-color="#f8dcc0" stop-opacity="0.95"/><stop offset="0.55" stop-color="#f8dcc0" stop-opacity="0.55"/><stop offset="1" stop-color="#f8dcc0" stop-opacity="0"/></radialGradient><radialGradient id="gl_imm"><stop offset="0" stop-color="#f1e4cf" stop-opacity="0.95"/><stop offset="0.55" stop-color="#f1e4cf" stop-opacity="0.55"/><stop offset="1" stop-color="#f1e4cf" stop-opacity="0"/></radialGradient><radialGradient id="gl_cancer"><stop offset="0" stop-color="#c8d6ee" stop-opacity="0.95"/><stop offset="0.55" stop-color="#c8d6ee" stop-opacity="0.55"/><stop offset="1" stop-color="#c8d6ee" stop-opacity="0"/></radialGradient><radialGradient id="gl_diab"><stop offset="0" stop-color="#d4dcf4" stop-opacity="0.95"/><stop offset="0.55" stop-color="#d4dcf4" stop-opacity="0.55"/><stop offset="1" stop-color="#d4dcf4" stop-opacity="0"/></radialGradient><radialGradient id="gl_sen"><stop offset="0" stop-color="#fbeedd" stop-opacity="0.95"/><stop offset="0.55" stop-color="#fbeedd" stop-opacity="0.55"/><stop offset="1" stop-color="#fbeedd" stop-opacity="0"/></radialGradient><radialGradient id="gl_hif"><stop offset="0" stop-color="#d2e8e6" stop-opacity="0.95"/><stop offset="0.55" stop-color="#d2e8e6" stop-opacity="0.55"/><stop offset="1" stop-color="#d2e8e6" stop-opacity="0"/></radialGradient><radialGradient id="gl_thy"><stop offset="0" stop-color="#e4e8c8" stop-opacity="0.95"/><stop offset="0.55" stop-color="#e4e8c8" stop-opacity="0.55"/><stop offset="1" stop-color="#e4e8c8" stop-opacity="0"/></radialGradient><radialGradient id="gl_neuro"><stop offset="0" stop-color="#dcdcfa" stop-opacity="0.95"/><stop offset="0.55" stop-color="#dcdcfa" stop-opacity="0.55"/><stop offset="1" stop-color="#dcdcfa" stop-opacity="0"/></radialGradient><radialGradient id="hhaze"><stop offset="0" stop-color="#e6e6e6" stop-opacity="0.9"/><stop offset="0.6" stop-color="#ececec" stop-opacity="0.6"/><stop offset="1" stop-color="#f4f4f4" stop-opacity="0"/></radialGradient><linearGradient id="nz0"><stop offset="0.000" stop-color="#fff" stop-opacity="0.11"/><stop offset="0.087" stop-color="#fff" stop-opacity="0.33"/><stop offset="0.090" stop-color="#2838a0" stop-opacity="0.21"/><stop offset="0.133" stop-color="#2838a0" stop-opacity="0.13"/><stop offset="0.230" stop-color="#fff" stop-opacity="0.10"/><stop offset="0.381" stop-color="#2838a0" stop-opacity="0.25"/><stop offset="0.531" stop-color="#fff" stop-opacity="0.10"/><stop offset="0.599" stop-color="#2838a0" stop-opacity="0.07"/><stop offset="0.624" stop-color="#2838a0" stop-opacity="0.09"/><stop offset="0.700" stop-color="#fff" stop-opacity="0.03"/><stop offset="0.729" stop-color="#2838a0" stop-opacity="0.05"/><stop offset="1.000" stop-color="#2838a0" stop-opacity="0.02"/></linearGradient><linearGradient id="nz1"><stop offset="0.000" stop-color="#fff" stop-opacity="0.20"/><stop offset="0.008" stop-color="#2838a0" stop-opacity="0.02"/><stop offset="0.204" stop-color="#fff" stop-opacity="0.11"/><stop offset="0.269" stop-color="#fff" stop-opacity="0.48"/><stop offset="0.403" stop-color="#fff" stop-opacity="0.21"/><stop offset="0.462" stop-color="#fff" stop-opacity="0.33"/><stop offset="0.469" stop-color="#2838a0" stop-opacity="0.33"/><stop offset="0.529" stop-color="#2838a0" stop-opacity="0.23"/><stop offset="0.534" stop-color="#fff" stop-opacity="0.30"/><stop offset="0.606" stop-color="#2838a0" stop-opacity="0.07"/><stop offset="0.774" stop-color="#fff" stop-opacity="0.05"/><stop offset="0.900" stop-color="#fff" stop-opacity="0.01"/><stop offset="0.990" stop-color="#2838a0" stop-opacity="0.26"/><stop offset="1.000" stop-color="#fff" stop-opacity="0.07"/></linearGradient><linearGradient id="nz2"><stop offset="0.000" stop-color="#fff" stop-opacity="0.48"/><stop offset="0.136" stop-color="#2838a0" stop-opacity="0.22"/><stop offset="0.143" stop-color="#2838a0" stop-opacity="0.10"/><stop offset="0.381" stop-color="#2838a0" stop-opacity="0.12"/><stop offset="0.405" stop-color="#2838a0" stop-opacity="0.25"/><stop offset="0.617" stop-color="#2838a0" stop-opacity="0.07"/><stop offset="0.632" stop-color="#fff" stop-opacity="0.37"/><stop offset="0.937" stop-color="#fff" stop-opacity="0.37"/><stop offset="1.000" stop-color="#2838a0" stop-opacity="0.05"/></linearGradient><linearGradient id="nz3"><stop offset="0.000" stop-color="#fff" stop-opacity="0.01"/><stop offset="0.096" stop-color="#fff" stop-opacity="0.05"/><stop offset="0.144" stop-color="#2838a0" stop-opacity="0.25"/><stop offset="0.146" stop-color="#fff" stop-opacity="0.06"/><stop offset="0.174" stop-color="#2838a0" stop-opacity="0.06"/><stop offset="0.178" stop-color="#fff" stop-opacity="0.06"/><stop offset="0.208" stop-color="#2838a0" stop-opacity="0.08"/><stop offset="0.408" stop-color="#fff" stop-opacity="0.16"/><stop offset="0.561" stop-color="#fff" stop-opacity="0.08"/><stop offset="0.600" stop-color="#2838a0" stop-opacity="0.04"/><stop offset="0.608" stop-color="#2838a0" stop-opacity="0.02"/><stop offset="0.747" stop-color="#fff" stop-opacity="0.05"/><stop offset="0.864" stop-color="#fff" stop-opacity="0.22"/><stop offset="1.000" stop-color="#fff" stop-opacity="0.10"/></linearGradient><linearGradient id="nz4"><stop offset="0.000" stop-color="#2838a0" stop-opacity="0.13"/><stop offset="0.038" stop-color="#2838a0" stop-opacity="0.01"/><stop offset="0.181" stop-color="#2838a0" stop-opacity="0.07"/><stop offset="0.226" stop-color="#2838a0" stop-opacity="0.05"/><stop offset="0.230" stop-color="#2838a0" stop-opacity="0.11"/><stop offset="0.373" stop-color="#fff" stop-opacity="0.03"/><stop offset="0.534" stop-color="#2838a0" stop-opacity="0.22"/><stop offset="0.771" stop-color="#2838a0" stop-opacity="0.03"/><stop offset="0.814" stop-color="#2838a0" stop-opacity="0.13"/><stop offset="0.854" stop-color="#2838a0" stop-opacity="0.33"/><stop offset="0.857" stop-color="#fff" stop-opacity="0.21"/><stop offset="1.000" stop-color="#fff" stop-opacity="0.17"/></linearGradient><linearGradient id="nz5"><stop offset="0.000" stop-color="#2838a0" stop-opacity="0.10"/><stop offset="0.070" stop-color="#fff" stop-opacity="0.40"/><stop offset="0.127" stop-color="#2838a0" stop-opacity="0.05"/><stop offset="0.291" stop-color="#fff" stop-opacity="0.12"/><stop offset="0.293" stop-color="#fff" stop-opacity="0.18"/><stop offset="0.321" stop-color="#2838a0" stop-opacity="0.12"/><stop offset="0.431" stop-color="#2838a0" stop-opacity="0.25"/><stop offset="0.477" stop-color="#2838a0" stop-opacity="0.16"/><stop offset="0.685" stop-color="#2838a0" stop-opacity="0.15"/><stop offset="0.896" stop-color="#fff" stop-opacity="0.07"/><stop offset="1.000" stop-color="#fff" stop-opacity="0.19"/></linearGradient><linearGradient id="nz6"><stop offset="0.000" stop-color="#2838a0" stop-opacity="0.13"/><stop offset="0.172" stop-color="#2838a0" stop-opacity="0.19"/><stop offset="0.193" stop-color="#fff" stop-opacity="0.11"/><stop offset="0.345" stop-color="#2838a0" stop-opacity="0.08"/><stop offset="0.640" stop-color="#fff" stop-opacity="0.13"/><stop offset="0.665" stop-color="#2838a0" stop-opacity="0.10"/><stop offset="0.667" stop-color="#2838a0" stop-opacity="0.06"/><stop offset="0.694" stop-color="#fff" stop-opacity="0.06"/><stop offset="0.965" stop-color="#2838a0" stop-opacity="0.01"/><stop offset="1.000" stop-color="#2838a0" stop-opacity="0.00"/></linearGradient><linearGradient id="nz7"><stop offset="0.000" stop-color="#2838a0" stop-opacity="0.18"/><stop offset="0.264" stop-color="#2838a0" stop-opacity="0.07"/><stop offset="0.417" stop-color="#fff" stop-opacity="0.05"/><stop offset="0.511" stop-color="#2838a0" stop-opacity="0.26"/><stop offset="0.806" stop-color="#2838a0" stop-opacity="0.09"/><stop offset="0.851" stop-color="#2838a0" stop-opacity="0.07"/><stop offset="0.933" stop-color="#2838a0" stop-opacity="0.04"/><stop offset="0.950" stop-color="#2838a0" stop-opacity="0.35"/><stop offset="0.978" stop-color="#fff" stop-opacity="0.03"/><stop offset="0.990" stop-color="#2838a0" stop-opacity="0.05"/><stop offset="1.000" stop-color="#fff" stop-opacity="0.07"/></linearGradient><linearGradient id="nz8"><stop offset="0.000" stop-color="#fff" stop-opacity="0.02"/><stop offset="0.295" stop-color="#fff" stop-opacity="0.11"/><stop offset="0.369" stop-color="#fff" stop-opacity="0.22"/><stop offset="0.398" stop-color="#fff" stop-opacity="0.08"/><stop offset="0.557" stop-color="#fff" stop-opacity="0.08"/><stop offset="0.588" stop-color="#2838a0" stop-opacity="0.26"/><stop offset="0.757" stop-color="#fff" stop-opacity="0.14"/><stop offset="0.794" stop-color="#2838a0" stop-opacity="0.04"/><stop offset="0.948" stop-color="#2838a0" stop-opacity="0.14"/><stop offset="0.992" stop-color="#fff" stop-opacity="0.13"/><stop offset="1.000" stop-color="#2838a0" stop-opacity="0.02"/></linearGradient><linearGradient id="nz9"><stop offset="0.000" stop-color="#fff" stop-opacity="0.28"/><stop offset="0.184" stop-color="#2838a0" stop-opacity="0.10"/><stop offset="0.208" stop-color="#fff" stop-opacity="0.27"/><stop offset="0.463" stop-color="#2838a0" stop-opacity="0.02"/><stop offset="0.573" stop-color="#fff" stop-opacity="0.27"/><stop offset="0.626" stop-color="#2838a0" stop-opacity="0.00"/><stop offset="0.700" stop-color="#fff" stop-opacity="0.29"/><stop offset="0.844" stop-color="#fff" stop-opacity="0.26"/><stop offset="0.913" stop-color="#fff" stop-opacity="0.29"/><stop offset="0.998" stop-color="#fff" stop-opacity="0.14"/><stop offset="1.000" stop-color="#fff" stop-opacity="0.33"/></linearGradient><linearGradient id="nz10"><stop offset="0.000" stop-color="#fff" stop-opacity="0.01"/><stop offset="0.036" stop-color="#fff" stop-opacity="0.00"/><stop offset="0.047" stop-color="#2838a0" stop-opacity="0.08"/><stop offset="0.166" stop-color="#2838a0" stop-opacity="0.20"/><stop offset="0.230" stop-color="#fff" stop-opacity="0.13"/><stop offset="0.342" stop-color="#2838a0" stop-opacity="0.22"/><stop offset="0.414" stop-color="#fff" stop-opacity="0.20"/><stop offset="0.583" stop-color="#fff" stop-opacity="0.10"/><stop offset="0.588" stop-color="#fff" stop-opacity="0.09"/><stop offset="0.634" stop-color="#2838a0" stop-opacity="0.02"/><stop offset="1.000" stop-color="#fff" stop-opacity="0.21"/></linearGradient><linearGradient id="nz11"><stop offset="0.000" stop-color="#fff" stop-opacity="0.26"/><stop offset="0.114" stop-color="#fff" stop-opacity="0.05"/><stop offset="0.126" stop-color="#2838a0" stop-opacity="0.09"/><stop offset="0.137" stop-color="#fff" stop-opacity="0.14"/><stop offset="0.174" stop-color="#fff" stop-opacity="0.03"/><stop offset="0.354" stop-color="#2838a0" stop-opacity="0.10"/><stop offset="0.535" stop-color="#2838a0" stop-opacity="0.29"/><stop offset="0.545" stop-color="#2838a0" stop-opacity="0.23"/><stop offset="0.743" stop-color="#fff" stop-opacity="0.20"/><stop offset="0.776" stop-color="#fff" stop-opacity="0.32"/><stop offset="0.919" stop-color="#fff" stop-opacity="0.31"/><stop offset="0.960" stop-color="#2838a0" stop-opacity="0.16"/><stop offset="1.000" stop-color="#2838a0" stop-opacity="0.11"/></linearGradient><linearGradient id="nz12"><stop offset="0.000" stop-color="#fff" stop-opacity="0.07"/><stop offset="0.013" stop-color="#fff" stop-opacity="0.06"/><stop offset="0.097" stop-color="#2838a0" stop-opacity="0.04"/><stop offset="0.111" stop-color="#fff" stop-opacity="0.18"/><stop offset="0.235" stop-color="#2838a0" stop-opacity="0.26"/><stop offset="0.377" stop-color="#fff" stop-opacity="0.20"/><stop offset="0.444" stop-color="#2838a0" stop-opacity="0.21"/><stop offset="0.497" stop-color="#2838a0" stop-opacity="0.08"/><stop offset="0.682" stop-color="#fff" stop-opacity="0.14"/><stop offset="0.731" stop-color="#fff" stop-opacity="0.21"/><stop offset="0.793" stop-color="#fff" stop-opacity="0.06"/><stop offset="0.795" stop-color="#2838a0" stop-opacity="0.03"/><stop offset="0.967" stop-color="#fff" stop-opacity="0.12"/><stop offset="1.000" stop-color="#fff" stop-opacity="0.43"/></linearGradient><linearGradient id="nz13"><stop offset="0.000" stop-color="#2838a0" stop-opacity="0.10"/><stop offset="0.035" stop-color="#fff" stop-opacity="0.12"/><stop offset="0.072" stop-color="#2838a0" stop-opacity="0.18"/><stop offset="0.124" stop-color="#2838a0" stop-opacity="0.21"/><stop offset="0.296" stop-color="#2838a0" stop-opacity="0.06"/><stop offset="0.317" stop-color="#fff" stop-opacity="0.44"/><stop offset="0.327" stop-color="#fff" stop-opacity="0.05"/><stop offset="0.335" stop-color="#2838a0" stop-opacity="0.03"/><stop offset="0.354" stop-color="#fff" stop-opacity="0.22"/><stop offset="0.427" stop-color="#2838a0" stop-opacity="0.30"/><stop offset="0.606" stop-color="#2838a0" stop-opacity="0.02"/><stop offset="0.829" stop-color="#fff" stop-opacity="0.04"/><stop offset="1.000" stop-color="#fff" stop-opacity="0.27"/></linearGradient><linearGradient id="nz14"><stop offset="0.000" stop-color="#fff" stop-opacity="0.14"/><stop offset="0.029" stop-color="#fff" stop-opacity="0.45"/><stop offset="0.164" stop-color="#fff" stop-opacity="0.08"/><stop offset="0.212" stop-color="#fff" stop-opacity="0.17"/><stop offset="0.435" stop-color="#fff" stop-opacity="0.17"/><stop offset="0.566" stop-color="#2838a0" stop-opacity="0.01"/><stop offset="0.567" stop-color="#2838a0" stop-opacity="0.13"/><stop offset="0.648" stop-color="#2838a0" stop-opacity="0.07"/><stop offset="1.000" stop-color="#fff" stop-opacity="0.32"/></linearGradient><linearGradient id="nz15"><stop offset="0.000" stop-color="#fff" stop-opacity="0.01"/><stop offset="0.160" stop-color="#2838a0" stop-opacity="0.22"/><stop offset="0.166" stop-color="#fff" stop-opacity="0.03"/><stop offset="0.233" stop-color="#fff" stop-opacity="0.24"/><stop offset="0.370" stop-color="#fff" stop-opacity="0.18"/><stop offset="0.396" stop-color="#fff" stop-opacity="0.11"/><stop offset="0.435" stop-color="#2838a0" stop-opacity="0.05"/><stop offset="0.446" stop-color="#2838a0" stop-opacity="0.30"/><stop offset="0.478" stop-color="#fff" stop-opacity="0.07"/><stop offset="0.612" stop-color="#fff" stop-opacity="0.16"/><stop offset="0.734" stop-color="#fff" stop-opacity="0.30"/><stop offset="0.992" stop-color="#fff" stop-opacity="0.13"/><stop offset="1.000" stop-color="#fff" stop-opacity="0.23"/></linearGradient><linearGradient id="hk1" x1="0" y1="0" x2="1" y2="0"><stop offset="0.000" stop-color="#969dcd"/><stop offset="0.200" stop-color="#9da3d0"/><stop offset="0.300" stop-color="#a6acd6"/><stop offset="0.380" stop-color="#babfdf"/><stop offset="0.440" stop-color="#d8daed"/><stop offset="0.475" stop-color="#eeeff7"/><stop offset="0.500" stop-color="#f5f5f9"/><stop offset="0.520" stop-color="#ebedf6"/><stop offset="0.560" stop-color="#c4c9e4"/><stop offset="0.620" stop-color="#989fcd"/><stop offset="0.800" stop-color="#828bc0"/><stop offset="1.000" stop-color="#868fc3"/></linearGradient><clipPath id="chk1"><rect x="41.4" y="1683" width="255" height="443"/></clipPath><rect id="rhk1" x="41.4" width="255" height="3.4"/><linearGradient id="hk1h" x1="0" y1="0" x2="1" y2="0"><stop offset="0.000" stop-color="#fff" stop-opacity="0"/><stop offset="0.350" stop-color="#fff" stop-opacity="0.3"/><stop offset="0.500" stop-color="#fff" stop-opacity="0.4"/><stop offset="0.650" stop-color="#fff" stop-opacity="0.3"/><stop offset="1.000" stop-color="#fff" stop-opacity="0"/></linearGradient><linearGradient id="hk1s" x1="0" y1="0" x2="0" y2="1"><stop offset="0.000" stop-color="#cd2d2d"/><stop offset="0.040" stop-color="#da4b48"/><stop offset="0.120" stop-color="#e26966"/><stop offset="0.250" stop-color="#e98c8a"/><stop offset="0.380" stop-color="#f0b2b0"/><stop offset="0.500" stop-color="#f6d2d2"/><stop offset="0.600" stop-color="#faebeb"/><stop offset="0.680" stop-color="#fcfafa"/><stop offset="0.930" stop-color="#fafafc"/><stop offset="1.000" stop-color="#dee2f3"/></linearGradient><path id="phk1" d="M162.2 1683H162.2V1686.1H162V1689.2H162.4V1692.4H163.2V1695.5H162.5V1698.6H162V1701.7H162.4V1704.8H162.1V1708H162.4V1711.1H162.5V1714.2H163V1717.3H162V1720.4H161.9V1723.6H162.9V1726.7H162.5V1729.8H162.7V1732.9H161.9V1736H162.8V1739.2H162.6V1742.3H162.4V1745.4H163.4V1748.5H162.4V1751.6H162.8V1754.8H162.8V1757.9H162.3V1761H162.4V1764.1H162.2V1767.2H163.4V1770.4H163.6V1773.5H162.9V1776.6H162.6V1779.7H162.5V1782.8H162.7V1786H162.3V1789.1H163.7V1792.2H162.8V1795.3H163V1798.4H162.1V1801.5H163V1804.7H162.7V1807.8H162.9V1810.9H162.7V1814H163.1V1817.1H162.8V1820.3H163.1V1823.4H163.2V1826.5H162.2V1829.6H162.9V1832.7H163.2V1835.9H163.1V1839H162.2V1842.1H163.2V1845.2H163.2V1848.3H162.4V1851.5H162.4V1854.6H163V1857.7H163.1V1860.8H163.1V1863.9H163.2V1867.1H163.3V1870.2H162.8V1873.3H162.9V1876.4H162.3V1879.5H163V1882.7H162.9V1885.8H162.4V1888.9H163.2V1892H163.3V1895.1H163.7V1898.3H163.7V1901.4H163.8V1904.5H163.2V1907.6H163.4V1910.7H164.1V1913.9H163.7V1917H163.6V1920.1H164.1V1923.2H163V1926.3H163V1929.5H163.5V1932.6H163.4V1935.7H163.7V1938.8H162.6V1941.9H163.1V1945.1H163.4V1948.2H163.6V1951.3H162.7V1954.4H163.5V1957.5H162.8V1960.7H163.3V1963.8H163V1966.9H162.9V1970H163.4V1973.1H163.6V1976.3H163.4V1979.4H163.5V1982.5H163.7V1985.6H163.5V1988.7H163V1991.9H163.5V1995H163.1V1998.1H163.5V2001.2H164V2004.3H163.5V2007.5H163.9V2010.6H163.3V2013.7H164.3V2016.8H163.2V2019.9H163.7V2023H164.1V2026.2H163.5V2029.3H163.9V2032.4H163.8V2035.5H163.3V2038.6H162.8V2041.8H164.4V2044.9H163.8V2048H164V2051.1H164.3V2054.2H164.2V2057.4H164.4V2060.5H163.8V2063.6H164.1V2066.7H163.3V2069.8H164.3V2073H163.5V2076.1H163.6V2079.2H163.3V2082.3H162.9V2085.4H163.7V2088.6H163.8V2091.7H163.8V2094.8H164.3V2097.9H163.7V2101H164.3V2104.2H163.2V2107.3H163.9V2110.4H163.5V2113.5H163.5V2116.6H163.6V2119.8H163.7V2122.9H163.7V2126H172.8V2122.9H173.3V2119.8H173.3V2116.6H173.7V2113.5H172.7V2110.4H172.7V2107.3H173.5V2104.2H173.9V2101H172.7V2097.9H173.3V2094.8H173.3V2091.7H174.1V2088.6H173.9V2085.4H173.3V2082.3H173.1V2079.2H174.4V2076.1H173.2V2073H174.3V2069.8H173.6V2066.7H174.2V2063.6H173.4V2060.5H174V2057.4H173.6V2054.2H174V2051.1H174V2048H174.1V2044.9H174V2041.8H173.5V2038.6H174V2035.5H173.8V2032.4H173.6V2029.3H173.8V2026.2H173.7V2023H174.5V2019.9H173.7V2016.8H173.9V2013.7H173.3V2010.6H174.1V2007.5H174.5V2004.3H174.2V2001.2H174.6V1998.1H173.4V1995H173.6V1991.9H174.4V1988.7H173.3V1985.6H174.7V1982.5H173.4V1979.4H172.9V1976.3H173.2V1973.1H174.3V1970H173.8V1966.9H174.4V1963.8H173.5V1960.7H173.8V1957.5H174.4V1954.4H174.1V1951.3H173.9V1948.2H174V1945.1H173.4V1941.9H174V1938.8H174.2V1935.7H174.5V1932.6H174.1V1929.5H173.6V1926.3H173.6V1923.2H174.2V1920.1H173.6V1917H174.2V1913.9H174.4V1910.7H175V1907.6H173.3V1904.5H174.3V1901.4H174.2V1898.3H174.4V1895.1H174.6V1892H173.9V1888.9H173.9V1885.8H174.3V1882.7H174.7V1879.5H174V1876.4H174.9V1873.3H174V1870.2H174.2V1867.1H174V1863.9H174.3V1860.8H174.5V1857.7H175.3V1854.6H174.7V1851.5H174.7V1848.3H174.6V1845.2H174.5V1842.1H174.3V1839H174.4V1835.9H174.3V1832.7H173.9V1829.6H174V1826.5H174.8V1823.4H174.2V1820.3H173.6V1817.1H174.5V1814H173.8V1810.9H174.5V1807.8H173.7V1804.7H174.1V1801.5H174.8V1798.4H173.8V1795.3H175.6V1792.2H174.7V1789.1H174.7V1786H173.9V1782.8H174.2V1779.7H174.5V1776.6H174.1V1773.5H174.8V1770.4H174.6V1767.2H174.7V1764.1H174.6V1761H174.4V1757.9H175.6V1754.8H175.5V1751.6H174.1V1748.5H174.7V1745.4H175.3V1742.3H174.5V1739.2H174.4V1736H174.4V1732.9H174.3V1729.8H174.6V1726.7H174.3V1723.6H174.5V1720.4H174.5V1717.3H174.8V1714.2H174.1V1711.1H174.1V1708H175.3V1704.8H175.3V1701.7H174.3V1698.6H175.6V1695.5H175.4V1692.4H175.3V1689.2H175.1V1686.1H174.8V1683Z"/><rect id="qhk1" x="161.4" width="14.5" height="3.3"/><clipPath id="khk1"><use href="#phk1"/></clipPath><linearGradient id="hk2" x1="0" y1="0" x2="1" y2="0"><stop offset="0.000" stop-color="#868fc4"/><stop offset="0.300" stop-color="#929acb"/><stop offset="0.400" stop-color="#aab1d8"/><stop offset="0.460" stop-color="#dcdff1"/><stop offset="0.485" stop-color="#feffff"/><stop offset="0.510" stop-color="#ffffff"/><stop offset="0.535" stop-color="#f2f5fc"/><stop offset="0.580" stop-color="#bbc2e1"/><stop offset="0.660" stop-color="#9aa2cf"/><stop offset="1.000" stop-color="#9098c9"/></linearGradient><clipPath id="chk2"><rect x="469.8" y="1683" width="254.7" height="443"/></clipPath><rect id="rhk2" x="469.8" width="254.7" height="3.4"/><linearGradient id="hk2h" x1="0" y1="0" x2="1" y2="0"><stop offset="0.000" stop-color="#fff" stop-opacity="0"/><stop offset="0.350" stop-color="#fff" stop-opacity="0.3"/><stop offset="0.500" stop-color="#fff" stop-opacity="0.4"/><stop offset="0.650" stop-color="#fff" stop-opacity="0.3"/><stop offset="1.000" stop-color="#fff" stop-opacity="0"/></linearGradient><linearGradient id="hk2s" x1="0" y1="0" x2="0" y2="1"><stop offset="0.000" stop-color="#de6e6e"/><stop offset="0.200" stop-color="#e68c8a"/><stop offset="0.400" stop-color="#eeb4b2"/><stop offset="0.520" stop-color="#f4d2d2"/><stop offset="0.620" stop-color="#faf0f0"/><stop offset="0.700" stop-color="#fdfcfd"/><stop offset="1.000" stop-color="#f0f2fa"/></linearGradient><path id="phk2" d="M591.2 1683H591.2V1686.1H592V1689.2H591.1V1692.4H591.4V1695.5H591.2V1698.6H591.4V1701.7H591.2V1704.8H590.8V1708H591.4V1711.1H590.4V1714.2H592V1717.3H591.4V1720.4H591.1V1723.6H592.1V1726.7H591.1V1729.8H590.8V1732.9H591.8V1736H591.9V1739.2H592.1V1742.3H591.2V1745.4H590.9V1748.5H591.3V1751.6H591V1754.8H591.1V1757.9H591.8V1761H591.1V1764.1H591.8V1767.2H592.1V1770.4H592.3V1773.5H591.6V1776.6H590.7V1779.7H592V1782.8H591.3V1786H591.5V1789.1H591.4V1792.2H591.5V1795.3H591.5V1798.4H592.6V1801.5H592.1V1804.7H592.5V1807.8H591.2V1810.9H591.7V1814H590.8V1817.1H591.9V1820.3H592V1823.4H591.8V1826.5H591.7V1829.6H592.2V1832.7H591.4V1835.9H592.3V1839H591.4V1842.1H591.7V1845.2H592V1848.3H591.8V1851.5H591.8V1854.6H592.4V1857.7H592.5V1860.8H592V1863.9H591.6V1867.1H591.3V1870.2H592.8V1873.3H591.9V1876.4H592.3V1879.5H592.3V1882.7H591.5V1885.8H591.3V1888.9H592.9V1892H591.7V1895.1H591.6V1898.3H591.7V1901.4H592.3V1904.5H592.1V1907.6H592.2V1910.7H592.3V1913.9H592.4V1917H591.9V1920.1H591.5V1923.2H592V1926.3H592V1929.5H591.7V1932.6H591.7V1935.7H591.8V1938.8H592V1941.9H591.8V1945.1H592.1V1948.2H592.1V1951.3H592.5V1954.4H592.2V1957.5H591.7V1960.7H592.7V1963.8H592.6V1966.9H592V1970H591.9V1973.1H592.1V1976.3H593.1V1979.4H592.7V1982.5H592.3V1985.6H591.9V1988.7H591.6V1991.9H592.3V1995H593V1998.1H592.1V2001.2H591.8V2004.3H591.5V2007.5H592.5V2010.6H591.6V2013.7H593.3V2016.8H593.1V2019.9H592.5V2023H592.6V2026.2H592.4V2029.3H591.9V2032.4H592.5V2035.5H592.6V2038.6H592.7V2041.8H591.5V2044.9H592.6V2048H591.8V2051.1H591.8V2054.2H591.9V2057.4H592.7V2060.5H592V2063.6H591.9V2066.7H592.6V2069.8H591.5V2073H593V2076.1H591.9V2079.2H592.3V2082.3H592.6V2085.4H592.7V2088.6H592.4V2091.7H592.7V2094.8H592.9V2097.9H592.7V2101H593.5V2104.2H592.9V2107.3H592.8V2110.4H592.1V2113.5H593.1V2116.6H593.6V2119.8H592.7V2122.9H593.1V2126H601.8V2122.9H601.4V2119.8H601.7V2116.6H601.8V2113.5H601.8V2110.4H602.2V2107.3H601.4V2104.2H601.8V2101H602.2V2097.9H601.9V2094.8H602.7V2091.7H602.5V2088.6H601V2085.4H600.8V2082.3H602.1V2079.2H602V2076.1H601.9V2073H601.9V2069.8H602.8V2066.7H602.3V2063.6H602.2V2060.5H602.3V2057.4H601.7V2054.2H601.7V2051.1H602.1V2048H601.3V2044.9H602V2041.8H601.3V2038.6H602.8V2035.5H601.4V2032.4H601.6V2029.3H602.9V2026.2H601.7V2023H601.5V2019.9H601.9V2016.8H602.1V2013.7H602.1V2010.6H601.7V2007.5H602V2004.3H601.5V2001.2H602.7V1998.1H602.4V1995H601.3V1991.9H602.2V1988.7H601.9V1985.6H601.6V1982.5H602.7V1979.4H602.4V1976.3H602.5V1973.1H602.8V1970H601.4V1966.9H602.7V1963.8H602.3V1960.7H602V1957.5H601.7V1954.4H602V1951.3H602.6V1948.2H603.3V1945.1H601.8V1941.9H602.3V1938.8H603V1935.7H602.3V1932.6H601.9V1929.5H601.7V1926.3H602.3V1923.2H602.1V1920.1H603V1917H603.2V1913.9H602.7V1910.7H602.7V1907.6H603.4V1904.5H602V1901.4H601.7V1898.3H602.1V1895.1H603.1V1892H602.6V1888.9H602.7V1885.8H602.7V1882.7H603.3V1879.5H602.9V1876.4H601.7V1873.3H602.7V1870.2H602.4V1867.1H603.2V1863.9H601.9V1860.8H602.9V1857.7H602.9V1854.6H603.6V1851.5H602.7V1848.3H602.6V1845.2H602.5V1842.1H602V1839H602.3V1835.9H602.2V1832.7H602.8V1829.6H603.3V1826.5H603.2V1823.4H602.6V1820.3H602.8V1817.1H602.9V1814H603.5V1810.9H602.4V1807.8H603V1804.7H602.6V1801.5H602.9V1798.4H601.9V1795.3H602.4V1792.2H603.4V1789.1H603.3V1786H603.1V1782.8H603.1V1779.7H603V1776.6H603.1V1773.5H602.8V1770.4H603.3V1767.2H603.4V1764.1H603.4V1761H603.4V1757.9H603.4V1754.8H602.4V1751.6H602.8V1748.5H602.3V1745.4H603.5V1742.3H603.1V1739.2H602.8V1736H603.6V1732.9H603V1729.8H603.4V1726.7H603.2V1723.6H602.9V1720.4H604V1717.3H603.3V1714.2H603.1V1711.1H603.2V1708H603.3V1704.8H602.3V1701.7H602.5V1698.6H602.2V1695.5H602.8V1692.4H602.9V1689.2H603.2V1686.1H604.2V1683Z"/><rect id="qhk2" x="590.2" width="14" height="3.3"/><clipPath id="khk2"><use href="#phk2"/></clipPath><linearGradient id="hl1" x1="0" y1="0" x2="1" y2="0"><stop offset="0.000" stop-color="#d1d4ea"/><stop offset="0.200" stop-color="#d5d8ec"/><stop offset="0.380" stop-color="#dfe1f1"/><stop offset="0.460" stop-color="#e8eaf5"/><stop offset="0.500" stop-color="#f2f2f8"/><stop offset="0.530" stop-color="#dbdeef"/><stop offset="0.600" stop-color="#adb4d8"/><stop offset="0.750" stop-color="#939aca"/><stop offset="1.000" stop-color="#98a0cd"/></linearGradient><clipPath id="chl1"><rect x="908" y="1683" width="255" height="443"/></clipPath><rect id="rhl1" x="908" width="255" height="3.4"/><linearGradient id="hl1h" x1="0" y1="0" x2="1" y2="0"><stop offset="0.000" stop-color="#fff" stop-opacity="0"/><stop offset="0.350" stop-color="#fff" stop-opacity="0.2"/><stop offset="0.500" stop-color="#fff" stop-opacity="0.3"/><stop offset="0.650" stop-color="#fff" stop-opacity="0.2"/><stop offset="1.000" stop-color="#fff" stop-opacity="0"/></linearGradient><rect id="sphl15" width="5" height="3.4"/><rect id="sphl19" width="9" height="3.4"/><rect id="sphl113" width="13" height="3.4"/><radialGradient id="hl1b"><stop offset="0" stop-color="#4050b0" stop-opacity="0.7"/><stop offset="1" stop-color="#4050b0" stop-opacity="0"/></radialGradient><linearGradient id="hl1s" x1="0" y1="0" x2="0" y2="1"><stop offset="0.000" stop-color="#d73734"/><stop offset="0.120" stop-color="#e15a58"/><stop offset="0.280" stop-color="#e88784"/><stop offset="0.420" stop-color="#f2c3c4"/><stop offset="0.550" stop-color="#f6eef2"/><stop offset="0.750" stop-color="#e1e4f4"/><stop offset="1.000" stop-color="#aab2de"/></linearGradient><path id="phl1" d="M1030.1 1683H1030.1V1686.1H1029V1689.2H1028.9V1692.4H1029.9V1695.5H1030.6V1698.6H1030.4V1701.7H1029.7V1704.8H1029V1708H1030.2V1711.1H1029.7V1714.2H1030.4V1717.3H1030V1720.4H1030.3V1723.6H1030V1726.7H1029V1729.8H1029.8V1732.9H1030V1736H1029.3V1739.2H1030.7V1742.3H1029.6V1745.4H1029.6V1748.5H1030.2V1751.6H1029.9V1754.8H1030.8V1757.9H1029.8V1761H1030.4V1764.1H1029.9V1767.2H1029.3V1770.4H1030.1V1773.5H1029.8V1776.6H1030V1779.7H1029.9V1782.8H1029.7V1786H1030.4V1789.1H1030.2V1792.2H1030.3V1795.3H1030.3V1798.4H1029.2V1801.5H1029.7V1804.7H1030.6V1807.8H1030.7V1810.9H1030.5V1814H1030.3V1817.1H1030V1820.3H1029.4V1823.4H1030V1826.5H1029.4V1829.6H1030.2V1832.7H1030.9V1835.9H1030.3V1839H1029.4V1842.1H1030.5V1845.2H1030V1848.3H1030.1V1851.5H1030.8V1854.6H1029.4V1857.7H1030.7V1860.8H1030.9V1863.9H1031V1867.1H1030.4V1870.2H1030.2V1873.3H1030V1876.4H1030V1879.5H1031.1V1882.7H1030.2V1885.8H1030.3V1888.9H1030.6V1892H1030.3V1895.1H1031.4V1898.3H1030.9V1901.4H1031.2V1904.5H1030.2V1907.6H1030.4V1910.7H1030.6V1913.9H1029.8V1917H1030.6V1920.1H1030.5V1923.2H1029.6V1926.3H1030.9V1929.5H1030V1932.6H1030.1V1935.7H1031V1938.8H1030.1V1941.9H1030.3V1945.1H1030.7V1948.2H1031V1951.3H1030.8V1954.4H1030.5V1957.5H1030.1V1960.7H1031.4V1963.8H1030.9V1966.9H1031V1970H1031.3V1973.1H1030.6V1976.3H1031.2V1979.4H1030.2V1982.5H1030.2V1985.6H1030.9V1988.7H1031.1V1991.9H1030.6V1995H1031.7V1998.1H1031.5V2001.2H1030V2004.3H1030.1V2007.5H1031.8V2010.6H1030.7V2013.7H1030.8V2016.8H1030.9V2019.9H1031.6V2023H1031V2026.2H1031.2V2029.3H1031.3V2032.4H1031.3V2035.5H1031.6V2038.6H1030.9V2041.8H1031.3V2044.9H1031.3V2048H1030.9V2051.1H1032.1V2054.2H1030.4V2057.4H1030.3V2060.5H1031V2063.6H1031.3V2066.7H1031.7V2069.8H1031.3V2073H1031.4V2076.1H1031V2079.2H1031.1V2082.3H1031.3V2085.4H1031.5V2088.6H1031.4V2091.7H1031.8V2094.8H1031.3V2097.9H1031.1V2101H1032.1V2104.2H1031.1V2107.3H1031.5V2110.4H1031.3V2113.5H1030.4V2116.6H1031.3V2119.8H1031.2V2122.9H1031.5V2126H1039.8V2122.9H1039.2V2119.8H1039.6V2116.6H1039.2V2113.5H1040V2110.4H1039.1V2107.3H1038.5V2104.2H1039.5V2101H1039.8V2097.9H1039.3V2094.8H1039.2V2091.7H1040.6V2088.6H1039.5V2085.4H1039.3V2082.3H1039.8V2079.2H1040.2V2076.1H1040.4V2073H1039V2069.8H1040.1V2066.7H1039V2063.6H1040.4V2060.5H1039.4V2057.4H1039.4V2054.2H1039.7V2051.1H1040.2V2048H1039.2V2044.9H1039.7V2041.8H1039.7V2038.6H1039.7V2035.5H1040.6V2032.4H1039.5V2029.3H1040.4V2026.2H1039.8V2023H1040V2019.9H1039.3V2016.8H1039V2013.7H1039.6V2010.6H1039.8V2007.5H1039.8V2004.3H1039.9V2001.2H1040.4V1998.1H1040V1995H1039.1V1991.9H1040.2V1988.7H1039.5V1985.6H1039.5V1982.5H1039.7V1979.4H1039.7V1976.3H1039.7V1973.1H1040.6V1970H1039.9V1966.9H1040.9V1963.8H1040.1V1960.7H1039.8V1957.5H1039.6V1954.4H1040V1951.3H1040.1V1948.2H1039.7V1945.1H1040.4V1941.9H1039.9V1938.8H1040.5V1935.7H1039.8V1932.6H1039.8V1929.5H1040.9V1926.3H1040V1923.2H1040.4V1920.1H1040.3V1917H1040.3V1913.9H1040.8V1910.7H1040V1907.6H1040V1904.5H1040V1901.4H1040.3V1898.3H1040.3V1895.1H1039.7V1892H1040.6V1888.9H1040.5V1885.8H1040.2V1882.7H1040.3V1879.5H1040.3V1876.4H1040.6V1873.3H1040.6V1870.2H1040.4V1867.1H1040.4V1863.9H1040.9V1860.8H1040.6V1857.7H1040.3V1854.6H1040.1V1851.5H1040.8V1848.3H1039.6V1845.2H1041V1842.1H1040.5V1839H1040.4V1835.9H1041V1832.7H1040.7V1829.6H1040.5V1826.5H1040.6V1823.4H1040.7V1820.3H1039.6V1817.1H1040.1V1814H1040.9V1810.9H1040.5V1807.8H1040.6V1804.7H1041V1801.5H1040.4V1798.4H1041V1795.3H1041.1V1792.2H1040.9V1789.1H1041.4V1786H1041.1V1782.8H1040.8V1779.7H1040.9V1776.6H1041.3V1773.5H1040.6V1770.4H1040.4V1767.2H1040.9V1764.1H1041.4V1761H1040.1V1757.9H1041V1754.8H1041.8V1751.6H1041.7V1748.5H1040.6V1745.4H1040.6V1742.3H1041.3V1739.2H1040.8V1736H1040.3V1732.9H1040.3V1729.8H1041V1726.7H1041V1723.6H1041.2V1720.4H1040.4V1717.3H1041.3V1714.2H1040.1V1711.1H1041.1V1708H1041V1704.8H1040.7V1701.7H1041.6V1698.6H1041V1695.5H1041.6V1692.4H1040.8V1689.2H1041V1686.1H1041V1683Z"/><rect id="qhl1" x="1028.7" width="13.5" height="3.3"/><clipPath id="khl1"><use href="#phl1"/></clipPath><linearGradient id="hl2" x1="0" y1="0" x2="1" y2="0"><stop offset="0.000" stop-color="#8e96c7"/><stop offset="0.300" stop-color="#9aa2cf"/><stop offset="0.400" stop-color="#b2b9dc"/><stop offset="0.460" stop-color="#dfe2f2"/><stop offset="0.490" stop-color="#ffffff"/><stop offset="0.520" stop-color="#fcfdff"/><stop offset="0.560" stop-color="#cbd0e8"/><stop offset="0.650" stop-color="#9fa6d1"/><stop offset="1.000" stop-color="#929aca"/></linearGradient><clipPath id="chl2"><rect x="1339.6" y="1683" width="254.5" height="443"/></clipPath><rect id="rhl2" x="1339.6" width="254.5" height="3.4"/><linearGradient id="hl2h" x1="0" y1="0" x2="1" y2="0"><stop offset="0.000" stop-color="#fff" stop-opacity="0"/><stop offset="0.350" stop-color="#fff" stop-opacity="0.3"/><stop offset="0.500" stop-color="#fff" stop-opacity="0.4"/><stop offset="0.650" stop-color="#fff" stop-opacity="0.3"/><stop offset="1.000" stop-color="#fff" stop-opacity="0"/></linearGradient><linearGradient id="hl2s" x1="0" y1="0" x2="0" y2="1"><stop offset="0.000" stop-color="#dc6260"/><stop offset="0.250" stop-color="#e5807e"/><stop offset="0.500" stop-color="#eda2a2"/><stop offset="0.660" stop-color="#f6d2d2"/><stop offset="0.760" stop-color="#fcf6f6"/><stop offset="1.000" stop-color="#f4f5fb"/></linearGradient><path id="phl2" d="M1460 1683H1460V1686.1H1459.4V1689.2H1459.2V1692.4H1459V1695.5H1459.5V1698.6H1459.5V1701.7H1460V1704.8H1459.6V1708H1459.2V1711.1H1460.1V1714.2H1459.9V1717.3H1459.5V1720.4H1460.3V1723.6H1459.8V1726.7H1459.8V1729.8H1459.4V1732.9H1460.4V1736H1460V1739.2H1459.6V1742.3H1460V1745.4H1459.5V1748.5H1460.4V1751.6H1460V1754.8H1459.4V1757.9H1458.9V1761H1460.8V1764.1H1459.9V1767.2H1460.3V1770.4H1460V1773.5H1459.6V1776.6H1458.9V1779.7H1459.2V1782.8H1458.9V1786H1460.2V1789.1H1459.2V1792.2H1459.3V1795.3H1459.5V1798.4H1460.1V1801.5H1459.5V1804.7H1460.8V1807.8H1460.2V1810.9H1460.5V1814H1460.2V1817.1H1460.3V1820.3H1459.8V1823.4H1459.5V1826.5H1459.7V1829.6H1460.7V1832.7H1459.8V1835.9H1460.2V1839H1460.2V1842.1H1460.5V1845.2H1459.7V1848.3H1459.1V1851.5H1460.1V1854.6H1460.9V1857.7H1460V1860.8H1460V1863.9H1459.9V1867.1H1459.9V1870.2H1460V1873.3H1460.8V1876.4H1460.9V1879.5H1460.2V1882.7H1460.4V1885.8H1460.5V1888.9H1460.8V1892H1461.1V1895.1H1460.1V1898.3H1461.2V1901.4H1460.3V1904.5H1459.5V1907.6H1459.9V1910.7H1459.7V1913.9H1460.8V1917H1460.8V1920.1H1460.4V1923.2H1460.8V1926.3H1460.9V1929.5H1460.4V1932.6H1460.8V1935.7H1460.9V1938.8H1459.7V1941.9H1460.9V1945.1H1460.6V1948.2H1460V1951.3H1461V1954.4H1460.2V1957.5H1460.9V1960.7H1459.9V1963.8H1460.5V1966.9H1460.8V1970H1459.9V1973.1H1460.6V1976.3H1461V1979.4H1461V1982.5H1461.3V1985.6H1460.9V1988.7H1460.1V1991.9H1460.3V1995H1460.6V1998.1H1460.5V2001.2H1460.3V2004.3H1460.2V2007.5H1460.3V2010.6H1460.8V2013.7H1460.8V2016.8H1461.7V2019.9H1461.4V2023H1460.8V2026.2H1461.8V2029.3H1461.7V2032.4H1461.3V2035.5H1460.2V2038.6H1460.2V2041.8H1461.1V2044.9H1460.9V2048H1460.5V2051.1H1460.9V2054.2H1460.7V2057.4H1460.8V2060.5H1461V2063.6H1461.7V2066.7H1461.4V2069.8H1460.9V2073H1461.3V2076.1H1461.1V2079.2H1461V2082.3H1461.3V2085.4H1461.8V2088.6H1461.3V2091.7H1461.4V2094.8H1461.1V2097.9H1460.7V2101H1461.2V2104.2H1461.9V2107.3H1461.9V2110.4H1461.1V2113.5H1461.5V2116.6H1460.8V2119.8H1460.9V2122.9H1461.3V2126H1471.2V2122.9H1470.4V2119.8H1470.1V2116.6H1470.4V2113.5H1469.7V2110.4H1471V2107.3H1471V2104.2H1471V2101H1470V2097.9H1469.5V2094.8H1470.5V2091.7H1469.8V2088.6H1471.2V2085.4H1470.1V2082.3H1470.3V2079.2H1471.4V2076.1H1470.5V2073H1470V2069.8H1470.3V2066.7H1470.7V2063.6H1469.8V2060.5H1470.8V2057.4H1471.3V2054.2H1470.5V2051.1H1470.6V2048H1471V2044.9H1470.1V2041.8H1470.8V2038.6H1470.7V2035.5H1471.3V2032.4H1470.6V2029.3H1471.1V2026.2H1470V2023H1470.4V2019.9H1471.2V2016.8H1471.2V2013.7H1470.7V2010.6H1470.8V2007.5H1470.9V2004.3H1471.4V2001.2H1471.1V1998.1H1471.2V1995H1471.1V1991.9H1471.1V1988.7H1471.8V1985.6H1470.6V1982.5H1470.6V1979.4H1470.6V1976.3H1471.1V1973.1H1470.9V1970H1470.8V1966.9H1471.3V1963.8H1471.1V1960.7H1470.8V1957.5H1470.8V1954.4H1471.1V1951.3H1471V1948.2H1470.8V1945.1H1471.9V1941.9H1470.9V1938.8H1470.8V1935.7H1471V1932.6H1471.8V1929.5H1471V1926.3H1471.2V1923.2H1470.9V1920.1H1471.6V1917H1470.9V1913.9H1471.4V1910.7H1471.2V1907.6H1471.3V1904.5H1471.1V1901.4H1471.5V1898.3H1472V1895.1H1471.7V1892H1472.1V1888.9H1472.5V1885.8H1471.7V1882.7H1471.9V1879.5H1471.8V1876.4H1471.8V1873.3H1471.9V1870.2H1471V1867.1H1471V1863.9H1471.6V1860.8H1472.4V1857.7H1471.5V1854.6H1470.6V1851.5H1471.6V1848.3H1472.2V1845.2H1471V1842.1H1471.7V1839H1472.7V1835.9H1471.5V1832.7H1471.8V1829.6H1471.7V1826.5H1471.2V1823.4H1471.5V1820.3H1472.1V1817.1H1472.3V1814H1472.2V1810.9H1472.7V1807.8H1472.2V1804.7H1471.9V1801.5H1472.5V1798.4H1471.2V1795.3H1471.6V1792.2H1471.5V1789.1H1471.4V1786H1471.7V1782.8H1471.4V1779.7H1471.7V1776.6H1472.4V1773.5H1471.9V1770.4H1472.4V1767.2H1471.2V1764.1H1472.2V1761H1472V1757.9H1471.7V1754.8H1471.4V1751.6H1472.4V1748.5H1471.2V1745.4H1472.7V1742.3H1473V1739.2H1471.6V1736H1472.4V1732.9H1472.8V1729.8H1472.8V1726.7H1472V1723.6H1472V1720.4H1472V1717.3H1472.5V1714.2H1472.6V1711.1H1472.4V1708H1473.3V1704.8H1472.8V1701.7H1472.9V1698.6H1472.4V1695.5H1472.3V1692.4H1472V1689.2H1472.1V1686.1H1472.9V1683Z"/><rect id="qhl2" x="1458.4" width="15" height="3.3"/><clipPath id="khl2"><use href="#phl2"/></clipPath><linearGradient id="wk1" x1="0" y1="0" x2="1" y2="0"><stop offset="0.000" stop-color="#a0a0a0"/><stop offset="0.350" stop-color="#cbcbcb"/><stop offset="0.750" stop-color="#f3f3f3"/><stop offset="1.000" stop-color="#ffffff"/></linearGradient><linearGradient id="wk2" x1="0" y1="0" x2="1" y2="0"><stop offset="0.000" stop-color="#a0a0a0"/><stop offset="0.350" stop-color="#cbcbcb"/><stop offset="0.750" stop-color="#f3f3f3"/><stop offset="1.000" stop-color="#ffffff"/></linearGradient><linearGradient id="wl1" x1="0" y1="0" x2="1" y2="0"><stop offset="0.000" stop-color="#a0a0a0"/><stop offset="0.350" stop-color="#cbcbcb"/><stop offset="0.750" stop-color="#f3f3f3"/><stop offset="1.000" stop-color="#ffffff"/></linearGradient><linearGradient id="wl2" x1="0" y1="0" x2="1" y2="0"><stop offset="0.000" stop-color="#a0a0a0"/><stop offset="0.350" stop-color="#cbcbcb"/><stop offset="0.750" stop-color="#f3f3f3"/><stop offset="1.000" stop-color="#ffffff"/></linearGradient><linearGradient id="cb1" x1="0" y1="0" x2="0" y2="1"><stop offset="0.000" stop-color="#d41e12"/><stop offset="0.214" stop-color="#de5a55"/><stop offset="0.405" stop-color="#f0b4b4"/><stop offset="0.476" stop-color="#ffffff"/><stop offset="0.607" stop-color="#c8cde8"/><stop offset="0.790" stop-color="#8c96cd"/><stop offset="1.000" stop-color="#5c6ab2"/></linearGradient><linearGradient id="cb2" x1="0" y1="0" x2="0" y2="1"><stop offset="0.000" stop-color="#d41e12"/><stop offset="0.232" stop-color="#de5a55"/><stop offset="0.438" stop-color="#f0b4b4"/><stop offset="0.515" stop-color="#ffffff"/><stop offset="0.636" stop-color="#c8cde8"/><stop offset="0.806" stop-color="#8c96cd"/><stop offset="1.000" stop-color="#5c6ab2"/></linearGradient><linearGradient id="cb3" x1="0" y1="0" x2="0" y2="1"><stop offset="0.000" stop-color="#d41e12"/><stop offset="0.211" stop-color="#de5a55"/><stop offset="0.399" stop-color="#f0b4b4"/><stop offset="0.470" stop-color="#ffffff"/><stop offset="0.603" stop-color="#c8cde8"/><stop offset="0.788" stop-color="#8c96cd"/><stop offset="1.000" stop-color="#5c6ab2"/></linearGradient><linearGradient id="cb4" x1="0" y1="0" x2="0" y2="1"><stop offset="0.000" stop-color="#d41e12"/><stop offset="0.221" stop-color="#de5a55"/><stop offset="0.416" stop-color="#f0b4b4"/><stop offset="0.490" stop-color="#ffffff"/><stop offset="0.617" stop-color="#c8cde8"/><stop offset="0.796" stop-color="#8c96cd"/><stop offset="1.000" stop-color="#5c6ab2"/></linearGradient><radialGradient id="bg1" cx="0.45" cy="0.4" r="0.65"><stop offset="0" stop-color="#fff" stop-opacity="0.7"/><stop offset="0.55" stop-color="#8cc08a" stop-opacity="0.55"/><stop offset="1" stop-color="#8cc08a" stop-opacity="0.95"/></radialGradient><radialGradient id="bp1" cx="0.45" cy="0.4" r="0.65"><stop offset="0" stop-color="#fff" stop-opacity="0.7"/><stop offset="0.55" stop-color="#c890d0" stop-opacity="0.55"/><stop offset="1" stop-color="#c890d0" stop-opacity="0.95"/></radialGradient><radialGradient id="bo1" cx="0.45" cy="0.4" r="0.65"><stop offset="0" stop-color="#fff" stop-opacity="0.7"/><stop offset="0.55" stop-color="#e0a88e" stop-opacity="0.55"/><stop offset="1" stop-color="#e0a88e" stop-opacity="0.95"/></radialGradient><radialGradient id="bb1" cx="0.45" cy="0.4" r="0.65"><stop offset="0" stop-color="#fff" stop-opacity="0.7"/><stop offset="0.55" stop-color="#98a8d0" stop-opacity="0.55"/><stop offset="1" stop-color="#98a8d0" stop-opacity="0.95"/></radialGradient><radialGradient id="bu1" cx="0.45" cy="0.4" r="0.65"><stop offset="0" stop-color="#fff" stop-opacity="0.7"/><stop offset="0.55" stop-color="#4a8ae6" stop-opacity="0.55"/><stop offset="1" stop-color="#4a8ae6" stop-opacity="0.95"/></radialGradient><radialGradient id="bg2" cx="0.45" cy="0.4" r="0.65"><stop offset="0" stop-color="#fff" stop-opacity="0.7"/><stop offset="0.55" stop-color="#8cc08a" stop-opacity="0.55"/><stop offset="1" stop-color="#8cc08a" stop-opacity="0.95"/></radialGradient><radialGradient id="bo2" cx="0.45" cy="0.4" r="0.65"><stop offset="0" stop-color="#fff" stop-opacity="0.7"/><stop offset="0.55" stop-color="#e0a88e" stop-opacity="0.55"/><stop offset="1" stop-color="#e0a88e" stop-opacity="0.95"/></radialGradient><radialGradient id="bb2" cx="0.45" cy="0.4" r="0.65"><stop offset="0" stop-color="#fff" stop-opacity="0.7"/><stop offset="0.55" stop-color="#98a8d0" stop-opacity="0.55"/><stop offset="1" stop-color="#98a8d0" stop-opacity="0.95"/></radialGradient><radialGradient id="bp2" cx="0.45" cy="0.4" r="0.65"><stop offset="0" stop-color="#fff" stop-opacity="0.7"/><stop offset="0.55" stop-color="#c890d0" stop-opacity="0.55"/><stop offset="1" stop-color="#c890d0" stop-opacity="0.95"/></radialGradient><radialGradient id="bu2" cx="0.45" cy="0.4" r="0.65"><stop offset="0" stop-color="#fff" stop-opacity="0.7"/><stop offset="0.55" stop-color="#4a8ae6" stop-opacity="0.55"/><stop offset="1" stop-color="#4a8ae6" stop-opacity="0.95"/></radialGradient></defs><rect width="100%" height="100%" fill="#fff"/><path d="M493 1047L268.8 1350L586.9 1350Z" fill="url(#cone1)"/>
<path d="M638.5 1064L906.3 1509.6L1069.5 1317.5Z" fill="url(#cone2)"/>
<path d="M607.7 988L610.3 1006.8L610.3 1025.8L607.3 1044.7L601.3 1062.7L592.5 1079.3L581.2 1094.3L568.2 1107.3L554.2 1118.7L539.9 1128.6L525.6 1137.7L511.6 1146.4L497.8 1154.9L483.9 1163.5L469.7 1171.9L454.9 1179.8L439.3 1186.6L423 1191.7L406 1194.7L388.7 1195.3L371.5 1193.4L354.7 1189.2L338.4 1183.2L322.7 1175.6L307.7 1166.9L293.1 1157.3L279.1 1146.9L265.5 1135.5L252.7 1123.1L241 1109.4L230.8 1094.3L222.6 1077.8L216.8 1060.3L213.6 1042.1L212.9 1023.8L214.4 1005.6L217.4 988L221.5 971L225.9 954.6L230.3 938.6L234.5 922.4L238.7 906.1L243.2 889.3L248.5 872.2L255.2 855.1L263.9 838.7L274.7 823.7L287.7 810.5L302.6 799.9L319 791.9L336.2 786.7L353.9 783.8L371.6 782.8L388.9 783.3L406 784.7L422.8 786.8L439.3 789.6L455.7 793.2L471.9 797.9L487.7 804L502.8 811.8L517 821.5L530 832.8L541.5 845.6L551.7 859.6L560.7 874.2L568.8 889.3L576.4 904.5L583.6 920.1L590.7 936L597.3 952.6L603.2 969.9Z" fill="url(#dbA)"/>
<ellipse cx="406" cy="988" rx="234.4" ry="246.2" fill="none" stroke="#d89a9a" stroke-width="0.8" stroke-dasharray="2 3" opacity="0.5"/>
<ellipse cx="406" cy="988" rx="222.5" ry="233.8" fill="none" stroke="#d89a9a" stroke-width="0.8" stroke-dasharray="2 3" opacity="0.3"/>
<path d="M483.5 1105.5L497.1 1101M448.9 1076.6L428.3 1109M396.3 985.8L372.2 1013.7M542.1 868.3L527.3 884M244.3 1083L259.9 1085.1M374.6 834.5L374.2 798.7M526.7 1036.5L537.7 1034.9M505.1 1053.1L516.5 1062.7M240.5 913.5L239.5 901.8M603.5 1018.4L613 1030.3M365.1 1072.7L336.3 1059.1M319.5 1116.8L317.3 1145M576.3 982.4L570.3 1019.6M371.1 1023.9L382.9 993.3M579.1 938.6L602.1 931.2M471.1 926.3L471.3 960.7M395.5 781.4L417.4 751.9M389.1 972.5L382.9 941.3M406.1 906.2L425.6 938.6M535.1 1053.4L500.2 1046.1M551.5 1079L550.9 1062M493.5 1015.1L481.1 1023.5M391.9 984.6L389.5 1005.5M530.7 1032.7L549.8 1063.8M234.8 1029.1L255.9 1024.7M469.8 1009.6L489.3 986.7M365.9 1189.3L336.5 1170.7M587.1 995.8L569.7 1030.7M464.7 1064.7L481.5 1091.7M448.1 1138.4L461.6 1159.6M434.8 944.3L424.7 941.5M395.3 931.8L378.4 960.1M455.5 828.5L466.8 833.7M369.6 892.3L331.6 889.4M476.5 816.3L468.2 808M374.3 1068.6L405.4 1088.8M407.1 982.2L417.5 1010.5M553 884L584.5 870.1M445.5 1099.5L427.7 1124.7M507 876.5L529.9 873.3M222.8 928.3L218.1 919.4M437.3 836.3L413 833.4M345.9 993.2L331.7 984.5M407.4 989.9L381.3 1004.6M414.3 862.5L436.9 851.1M306.2 939L297.4 905.6M516 844.5L496.2 850.6M339.1 1115.4L337.4 1099.2M518.9 981.8L506.5 995.1M377.1 948.6L361.7 984.7M243.1 878.5L274.5 861.7M371.4 834.2L374.4 813.1M597.7 957.8L575.5 974.5M446.9 1025.3L442.1 1035.3M474.7 1039L461.1 1038.1M316.2 946.2L292 974.3M296.1 1126.1L256.9 1131.3M429 931.6L433 919.1M526.3 958.2L539 957.7M338.3 905.7L318.1 888M343.8 795.2L329.4 773.6M380.5 940.9L384.1 974.4M564 925.5L562.9 914.7M489.6 986.5L473.9 989.3M475.1 1084.9L473.5 1114.2M459.8 823.8L440.4 822.7M231.8 979.7L221.3 970.3M491 1011.1L466.2 988.7M591.8 958L606.6 931.2M465.1 798.4L475.2 814.2M516.5 851.8L548.2 872.4M459.5 1169L478.7 1193.3M542.2 966L554.9 1002.5M522.5 1153.6L523 1184.5M274.7 846.6L294.8 840.6M526.7 1110.6L541.4 1096M333.4 1104.1L321.3 1085.5M397.6 926.4L383.1 918.6M375.9 1074.7L390.8 1070.1M352.7 812.5L363.9 837.4M400.9 863.2L393.5 885.9M543.3 1099.4L555.9 1110.3M499.8 1128.2L516.1 1127.7M528.3 943.9L548.1 934.7M394.6 827.1L364 847.5M482.6 1017.9L456.2 1024.4M466.5 1054L479.8 1033.9M480.6 1066.9L503.6 1070.1M452.3 906.4L473.1 928.1M544.4 890.9L511.5 881.1M512.6 922.4L522 942.1M350.4 955.7L355.7 994.4M475.6 1154.3L450 1174.6M346.7 801.3L336.4 803.1M414.4 806.5L424.1 786.2M362.3 1036.8L370.8 1027M498.1 1031.8L494.8 1013.8M256.8 956.5L251.4 983.6M298.8 1059.2L328 1076.7M410.2 989.9L406.1 969.1M251.5 867.6L239.7 857M394.4 1062.7L390.1 1052.3M295.4 1131.7L276.3 1134.7M570.1 1072.7L577.1 1085.6M324.6 1162.4L318.8 1179.5M578.1 925.6L616.9 925.7M241.5 1007.9L239.3 1029.8M505.2 1024.6L510.4 996.2M437.8 901.1L456.8 891.8M380 968.9L381.2 949.4M402.7 905.2L440.6 892.7M545.5 1053.9L563.6 1088.6M364.9 1162.9L370 1135.8M313.1 983.7L289.9 1001.7M321.8 1041.4L337.8 1041.1M566.2 1086.9L600.5 1079.4M350.6 868.8L341.9 860.6M461.5 903.9L425 893.8M602.8 1021L613.7 1020.5M430.9 1101.4L459 1095.8M469.9 1004.7L459.2 967.8M320.5 1176.2L351.9 1188.5M476.5 1138.2L478.1 1159.5M503.5 1002.4L487.9 990.2M413.6 930.8L394.3 958.9M433.9 1125L443.6 1120.9M357.1 1011.9L367.8 1006.7M409.5 809.6L424.3 778.3M536 1054.9L555.6 1020.5M317.2 1079.7L303 1047.3M302.2 1123.8L268.4 1131M483.9 1174.8L464.1 1187.5M421.1 1087.7L436.1 1103.1M302.3 1107.6L306.7 1126.9M437.8 1169.3L437.1 1187M397 929.2L416.6 898.1M314.5 995.5L309 1018.2M342 791.7L365.2 802.4M449.3 1009.4L433.7 1017.2M402.9 961.1L429.6 957.7M378.2 1006.8L367.2 1004.4M431.4 1065.2L433.2 1076.3M465.7 877.6L449.7 883.3M383.8 1095.7L364.1 1123.7M488 1004.2L479.6 994.3M510.2 888.8L513.6 919.7M427.5 932.1L430 912.8M541.2 1013.2L542.1 988.5M535.1 847.1L525.2 848.8M262.1 893.4L255 904.1M515.3 1026.8L530.1 1055.1M413.1 873L441.6 847.6M342.8 797.8L350.3 813.6M544.6 1018.9L525 1021.9M281.4 1005.8L291.7 988.1M257.3 1093.5L274.9 1098.2M238.9 1002.1L254.4 1032.2M351 1139.6L317.2 1145.7M376.7 1035.5L384 1018.7M445.5 803.6L412.7 823.5M499 984.5L484.7 985.3M585 948L583.3 965.1M476.2 1022.9L495.7 1006.8M311.6 1102.6L318.8 1128.2M331.8 1150.1L345 1113.1M512.5 1110.7L492.5 1083.9M440.5 802.5L420.3 812.7M435 918.9L417.4 933.3M356.1 962.5L338.5 951M282.7 865.4L271.9 833.3M222.4 1034.9L253.8 1032M461.5 787.8L442.3 775.9M471.8 909.3L485.2 912.2M249.5 891L222.2 866M289.2 1030.9L283.9 1064M292.7 957.3L305.3 949.2M326.1 935.5L327.5 913.5M418.1 1079L404.7 1091.3M589.4 917.8L581.9 895.2M291.7 843.8L303.4 820M543.3 1087.1L565.5 1067.5M290.8 1002.2L302.9 977.4M526.6 908.6L564.4 919.9M478.9 916.2L493.3 904.1M334.6 831.4L299.7 846.2M246.4 1052.7L232.4 1031.6M250.9 858.9L226.7 856.8M319.4 809.5L292.6 789.5M546 942.3L562.7 966.9M359.6 801.5L339.7 819M532.3 1005.9L538.6 979.5M584.6 899L562.7 913.4M504 1135.8L514.4 1100.9M387.3 1144L376.8 1160.6M419.8 1015L398.1 1009.5M242.4 1001.7L268.7 982.8M312.8 1103.9L279 1106.7M507.9 982.7L516.4 971M273.5 848.9L291.5 851.6M419.4 888.3L407 864.5M310.7 1105.4L299 1076.2M334.2 1036.8L361.1 1059.7M441.6 811.2L462.1 800.2M363.9 1033.7L354.8 1038M289.6 1141.8L313.1 1113.9M453.1 920.3L475.9 922.9M274.1 957.6L293.8 955.9M394.2 819.2L368.8 837M216.3 1051.6L180.4 1062.5M324.4 849.4L302.5 825.9M375.8 1064.1L386.6 1052.1M418.4 1054.3L428.9 1088.4M463.1 1008.9L460.4 1042.2M286.8 898.4L305.3 881.5M413.7 855.3L422.2 844.7M404.2 1088.9L371.4 1084.8M364.8 1110.2L354.1 1075.2M440.9 942.1L429.6 937M462.7 851.7L442.7 843.1M249.9 870.1L238.2 869.4M481.2 803.5L505.9 806.6M291.2 929.1L294 938.8M284 900.1L266.2 910.8M385.6 840.7L401.3 807.4M488.6 1052.2L473.1 1037.6M564.3 928.7L580.7 921.8M526.2 842.9L511.4 839.6M334.7 1181.2L327.7 1170.7M449.6 1002.9L462.2 1005M535.8 858.2L513.9 844.4M529.8 846.2L508.7 836.5M540 848.6L533.8 824.7M293.6 1072.6L255.4 1073.7M391.8 1004.2L387.1 1016.5M379.3 912.1L353.4 912.1M301.9 913.9L288.3 943.1M343.6 937.7L314.3 963.4M473.5 1035.3L483 1017.7M343.6 875.8L356.7 865.5M365.2 1129.5L357.4 1096.7M395.5 866.9L410.1 887.1M441.1 1169.6L455.4 1189.4M410.3 1042.7L435 1013.1M233.2 994.1L212.5 982.3M234 991.1L269.9 983.6M217.8 966.2L184.5 962.4M336.9 1096.4L361.8 1101.8M530.8 974.4L558.8 973.6M458.6 1050.1L465 1042M460.2 1123.5L446.8 1122.1M547.1 1011.2L522.9 1041.7M281.6 1020.7L294.5 1004.1M472 828.6L454.9 818.9M409.6 895.1L381.5 874.9M467.8 882.4L466.8 907.6M274.3 1120.5L253.6 1120.6M491.2 906.5L462.8 917.4" stroke="#26345e" stroke-width="0.9" fill="none"/>
<path d="M359.6 829.2L387.2 853.7M472.2 976.5L461.5 995.2M602.6 1007.5L599.3 1027.2M293.6 1104.7L286.6 1068.1M458 1074.2L478.4 1070.3M374.8 933.4L374.4 950.4M377.2 1133.5L356.3 1122.7M454.1 906.5L423.7 929.8M549.8 1131L539.7 1130M318.6 926.3L314.2 963.2M440.9 1191.6L421.4 1179.8M378.3 1101.2L377 1133.1M214.4 984.9L211.6 968.8M300.3 923.3L333.8 904.8M542.1 863.1L556.3 854.4M303.3 1052.7L267.8 1037.9M455.9 888.1L472.9 884.8M431.3 840.9L417.8 840.2M486.5 1080.1L522.1 1062.4M341.4 1068.9L379.5 1057.5M369.2 856.4L369.9 839.1M486.9 1155.4L462.9 1162.7M241.6 890.7L224.9 924M372.1 821L385.2 824.8M521.4 1096.4L506.4 1095.4M274 937.2L278 949.2M294.7 1073.3L298.5 1095M373 815.9L396.8 827.1M235.3 979.8L256.6 1001.7M579.6 1056.4L599.9 1086.3M336.3 1175.3L355.9 1174.9M421.2 875.9L425.1 845M541.4 1065.3L528.4 1039.3M550.9 852.7L544 864M345 1118.6L329.8 1145M489 1043.5L484.6 1058.9M447.5 926.6L480.5 934.6M349 851.9L325.4 828.4M343.6 954.3L325 953.4M248.6 993.3L227.4 994.1M324.3 1160.5L312.4 1179.6M339.8 939L355.5 964.4M273.8 959.3L286.8 935.6M341.3 962.2L375.3 955.7M218.7 1043.9L255.9 1051.8M514.6 871.8L523.2 859.2M377.5 1135.9L370.2 1173M392.6 991.4L396.3 975.9M336.2 1144.2L351.3 1154.4M288.9 1153.4L262.3 1144.3M307 1169.4L313.9 1139.8M364.1 992.8L373.9 1006.2M394.1 1006.9L370.8 1016.2M533.4 1023L517.3 1019.1M313.8 1101.5L317.5 1128.4M344.9 978L371.8 989.6M241 1013.3L239.6 1000.4M411.8 958.3L381.3 971.1M433.3 1170.4L451.8 1180.5M310.9 1094.4L308.7 1078.4M365.5 799.2L346.7 796.5M381.7 1175L388.5 1197.2M299.5 814.3L276.9 811.6M435 946.1L457.8 951M312.1 1031.1L309.2 1019.5M290.4 1145.2L278.1 1134.7M476.3 1142.8L464.7 1138.4M370.2 925.3L359.5 894.9M359.5 1022.8L344 1021.3M521.5 1095.5L554 1082.3M268.9 906.3L280.6 915.1M445 990L445.5 1008.6M506.4 1142.8L497.5 1117.8M326.6 1091.2L353.3 1078.9M463 1142.5L463.3 1173M346.8 984L336 991.4M549 1037.1L569.9 1055.7M484.5 876.3L515 859.5M285.8 1026.5L272.1 1039.5M312.5 1088.4L300.6 1081.8M299.2 863.8L285.6 860.1M499.9 1074.6L523.9 1097.7M330.2 859L337.7 828.5M579.3 1057.2L558 1059.8M406.9 1122.2L419.7 1141.4M226.8 1056.3L224.5 1018.6M583.3 944.7L594 944.1M558.1 925.1L565.9 910.7M391 943.6L402.2 975.7M273.3 925.6L249.9 939.6M364.9 913.5L351.7 921M332.6 1129.2L345.7 1118.3M485.8 1082.6L458.3 1108.2M479.3 934.4L464.8 928.4M512.2 913L514 885.9M484.8 1120.1L469.6 1102.5M486.4 841L459.1 834.9M525 1085.8L508.6 1079.2M325.1 898.5L332.4 920.2M380.4 890.5L347.6 885.1M589.5 1042.2L620.3 1064.1M484.7 834.2L468.7 817.9M464.5 1168.5L476.1 1180.3M328.9 937L348.5 931.6M536.5 1112.7L526 1105M512.3 896.7L503.4 876.2M577 1076.7L542 1094.4M503.2 1101.8L494.9 1095.3M317.1 800L307.5 805.4M398.6 1177.4L388.2 1147.2M476.6 1066L455.5 1052.9M389.4 899.9L423.8 913.1M352.4 854.8L363.2 820.5M553.1 1070.8L516.8 1076.9M331.1 1024.5L320.6 1045.1M254.5 1098.1L235.9 1131.6M323.9 1041L341 1055.3M356.7 1125.1L375.4 1112.1M328.1 1078.8L318.4 1076M286.3 883.6L282.5 903.6M492.5 879L490.8 891.5M308.1 1163.5L303.2 1151.2M360.2 1138.1L377.1 1148.5M498 923.8L489.9 935.9M336.1 1084.7L306.7 1105.1M432.3 919.3L426.9 955.4M488.1 1058.4L498.9 1029.6M280.8 1127.5L295.7 1148.7M396 876.9L428.4 868.7M382.5 1019.4L391.3 995M507.8 1149.7L480 1178.2M321.2 868.6L309.5 872.5M567 1017.3L548.9 1023.9M226.9 910.8L242.8 926.9M388.8 881L412 887M556.5 982.2L564.6 998.4M313.3 825.9L340.4 820M434.9 918.3L401.3 900.5M289.2 921.6L274.3 913.2M499.6 912.2L507.2 921.9M548.6 967.4L559.5 929.8M421.5 875.5L382.3 870.9M486.8 1159.5L464.3 1174M523.2 1072.9L513.7 1083M528.9 974.3L498.8 979.6M369.5 831L343.7 837M313.7 976.2L312.8 947.3M310.3 1042.8L315.1 1030.4M353.9 1000.1L333.5 1011.1M518.2 1088.1L525.2 1096.7M488.4 1053.3L481.4 1070M330.1 912.4L365.9 928.7M366.7 793.8L361.5 759.9M365.5 1123.6L374.3 1097.6M525.3 851.1L516.1 869.2M516.1 1045.9L524.8 1076.3M425.1 978.9L448.1 964.2M446.5 1130.7L439.8 1138.1M519.4 984.4L536.4 984.8M406.5 1018.6L421 1031.8M249.8 911.1L260.8 945.2M488.5 854.8L478.9 863.6M300.3 1058.1L283.5 1038.6M369.4 1008.1L390.6 974.6M424.4 1096.4L399.3 1066.8M504.4 1100.4L544.3 1097.8M522.6 924.9L511.1 910.4M591.6 916.5L601.1 894.3M423.9 892.5L443 859.5M353 963L351.6 995.3M214.6 1027.9L195.9 1034.5M293.4 1056.3L331.7 1048.6M594.8 1019.1L586.9 1012.7" stroke="#5a2a2a" stroke-width="0.9" fill="none"/>
<path d="M347 914L358 913.7M347 914L356.6 916.7M347 914L354.6 917.2M347 914L352.7 918.6M347 914L352.4 922.3M347 914L349.7 923.5M347 914L347.4 923.4M347 914L345.9 922.5M347 914L342.9 925M347 914L342.9 919.9M347 914L341.1 919.6M347 914L338.4 918.3M347 914L335.7 916.8M347 914L339.4 913.6M347 914L336.6 912.4M347 914L337.9 909M347 914L341.5 909.1M347 914L340.5 904.8M347 914L344.5 907M347 914L344.8 902.7M347 914L348 906.1M347 914L351.6 903.3M347 914L353.5 906M347 914L353 909.3M347 914L356.8 908.8M347 914L354.6 911.9M623 960L632.7 960.7M623 960L629.8 961.1M623 960L632.3 965.5M623 960L630.2 967.6M623 960L628.2 967.5M623 960L625.6 967.6M623 960L623.6 968.6M623 960L621.4 969.4M623 960L617.4 969M623 960L617.8 964.6M623 960L614.9 963.9M623 960L614.4 961.5M623 960L613.3 960.8M623 960L612.3 957.9M623 960L613.9 954.6M623 960L617.3 954.3M623 960L618.4 951.4M623 960L620.9 952.5M623 960L622.8 950.3M623 960L624.5 952.9M623 960L627.7 951.8M623 960L628 954M623 960L630.1 956.8M623 960L630.8 958.4M349 1165L356.9 1164.3M349 1165L357.5 1168.2M349 1165L356.8 1169.1M349 1165L354 1171.1M349 1165L352.1 1172.5M349 1165L350.8 1173.6M349 1165L348.5 1172.2M349 1165L345 1172.3M349 1165L343.2 1171.7M349 1165L342.7 1169.1M349 1165L343.1 1166.7M349 1165L342.8 1165.2M349 1165L340.1 1161.4M349 1165L343.5 1161.2M349 1165L344.7 1159.3M349 1165L345.9 1157M349 1165L347.9 1156.1M349 1165L349.9 1155.7M349 1165L352.8 1156.8M349 1165L353.9 1160M349 1165L355.2 1160.9M349 1165L357.9 1161.6M183 999L187.8 999.2M183 999L188 1001.7M183 999L185.8 1002.4M183 999L183.4 1003.9M183 999L181.5 1002.9M183 999L179.3 1002.7M183 999L177.4 1000.6M183 999L177.4 997.1M183 999L179.2 996M183 999L181.1 995M183 999L183.2 994.2M183 999L186.5 994.8M183 999L186.7 996.9M202 1054L205.7 1054.3M202 1054L206.8 1057M202 1054L205.7 1058.5M202 1054L202.4 1058.5M202 1054L200.3 1058.8M202 1054L197.7 1057.7M202 1054L197.7 1054.7M202 1054L196.6 1053.2M202 1054L198.2 1050.5M202 1054L200.4 1050.6M202 1054L202.9 1049.6M202 1054L205.3 1049.1M202 1054L206.4 1051.3M279 1092L283.9 1091.6M279 1092L282.4 1094M279 1092L282.1 1097M279 1092L279.3 1097.5M279 1092L276.7 1096.8M279 1092L274.8 1095.7M279 1092L274 1092.9M279 1092L275.1 1090.9M279 1092L275.6 1089.2M279 1092L277.4 1086.8M279 1092L279.5 1086M279 1092L280.8 1088.7M279 1092L282.3 1090.1M520 1000L523.7 1000.3M520 1000L524 1002.5M520 1000L521.7 1003.9M520 1000L519.5 1003.9M520 1000L517.4 1002.5M520 1000L516.2 1001.1M520 1000L516.8 999.3M520 1000L517 996.5M520 1000L519.5 996.9M520 1000L521.6 997.2M520 1000L522.7 998.5M430 905L433.3 905.1M430 905L433.3 906.9M430 905L431.4 908.6M430 905L429.5 908.8M430 905L427.7 907.7M430 905L426.7 905.7M430 905L426 904.1M430 905L427 901.7M430 905L429 900.8M430 905L431.9 900.5M430 905L433.2 902.8" stroke="#2a4a8a" stroke-width="0.8" fill="none"/>
<path d="M611 989.1L606.5 990.1M607.6 998.1L612.2 998.1M609.1 1010.8L614.2 1009.1M609.6 1029L614.1 1027.8M610.3 1037.6L615.6 1038M610 1044.2L615.1 1044.5M611.4 1056L606.9 1054M610.7 1064.2L605.8 1064.3M607.6 1072.7L603.7 1070.4M603 1083.8L599.1 1080.7M596.9 1090.7L593.3 1087M594.5 1095L588.5 1095M583.3 1100.8L586.6 1104.3M575.3 1105.7L579.2 1108.5M562.5 1118.7L565.6 1122.5M554.7 1124.7L559.3 1126M546.5 1127L550.3 1129.5M543.9 1135.6L539.6 1132M532.3 1138.1L530.2 1132.7M522.7 1137.4L527.1 1140.6M517.5 1140.8L520.4 1144.2M513.4 1148.5L510.4 1143.5M507.6 1153.6L504.1 1149M497.2 1153.2L499.1 1157.4M492.8 1157.1L492.2 1162.4M479.3 1169.8L481 1175.1M472 1174.9L475.6 1178.4M466.9 1185.2L464.7 1180M457.8 1183.5L459.2 1187.8M453.4 1193.2L452.4 1188.1M442.2 1190.7L442.9 1195.4M436 1200L436.2 1194.8M419.7 1203.6L419.4 1198.8M411.5 1200.3L413.1 1205.2M401.5 1202.7L402.2 1196.9M396.4 1200L395.6 1205.4M385.4 1200.1L387.8 1195.3M378.6 1197.1L378.2 1201.9M370.4 1199L371.2 1194.4M363.9 1191.8L361.2 1197M353.4 1188.5L352.3 1193.5M347.5 1190.4L349 1185.4M338.5 1188L338.2 1183.4M330.6 1186.5L331.8 1181.4M321.9 1181.5L322.9 1176.3M314.8 1179L316.4 1173.3M307 1168.4L307.2 1174.1M303 1165.7L301.4 1170.3M293.4 1164L289.4 1167.8M287.4 1157.2L282.5 1160.6M279.4 1155.1L275.5 1158.7M269.7 1153.3L273.3 1150.7M255.7 1140L261.4 1139.3M256.9 1131.4L251.8 1133.9M244.2 1129.5L248 1126.8M240.8 1119.5L243.9 1116.2M228 1103.6L232.5 1103M230.6 1095.6L225 1097.2M227.8 1087.9L223.5 1089.6M217.9 1081.8L222.6 1080.1M217.5 1072.9L222.6 1070.7M211.9 1065.5L216.4 1064M209.7 1056.6L214.4 1053.7M213.4 1046.4L208 1046.9M206.7 1018L212.4 1019.5M211.6 1012.1L206.4 1011.4M204.5 1002.1L209.2 1003.3M213.8 994.1L208.7 994.6M213 985.7L208.5 984.8M211.5 969L216.7 969.5M218.8 959.8L212.8 959.9M218.9 951.4L224.4 953.2M219.1 943.2L223.9 945.3M222.9 934.8L228 937.6M228.1 928.6L232.3 930.7M233.1 923.2L228.3 920.4M235.1 915.9L229.6 915.5M235.7 905.9L240.2 907.9M234.2 898.6L239.3 899.8M242.7 891.1L238.7 888.8M245.6 885.3L241.6 883M243 872.2L247.1 874.9M246.8 865L251.2 869.1M251.6 859.8L246.5 856.7M250.4 846.7L253.7 850M255.7 835.4L258.2 840M262.2 831.5L258.9 828.4M268.4 826.9L265.1 823.1M279.6 812.7L277.9 807.1M284.3 803.7L280.5 799.9M291.3 797L292.3 801.8M298.6 795.8L297.4 791.2M305.7 785.7L310.1 789.6M326.4 785L322.4 781.2M330.3 782.2L333 786.3M342.3 778.5L343.6 783.3M350.5 785L349.8 779.8M359.6 783.2L361 778.7M365.8 779.7L366.8 785M376.6 783.8L376.8 778.5M392.9 785.1L390.5 779.8M399.7 778.9L399.9 784.1M408.6 785.8L410.9 780.4M425.2 777.5L424.2 783.2M441.7 779.7L438.8 784.4M448.7 788.6L449.1 783M459.8 784.2L457.6 789.2M474.5 788.6L472.3 792.9M477.7 795.1L481.5 790.8M487.7 797.7L489.5 792.4M495.6 797.2L494 802.5M510.9 808.1L508 812M513.8 819.8L517.9 815.9M519.3 824.5L522.6 819.6M526.2 829.6L527.9 825.2M531.7 836.5L532.6 832M538.2 840.9L541.8 836.3M544.5 842.5L544.8 847M547.3 854.3L551 851.1M555.4 860.5L559.2 857.5M562.8 865.6L558.1 867.5M563.6 871.6L567.5 869.3M566 882.2L571.3 879.5M576.1 885.8L571.8 888.2M581.2 891.9L577.4 894.3M582.4 901.5L586.8 900.4M585.6 908.5L590 905.8M594.2 915.9L588.7 917.2M590.2 925.7L595.4 923.4M592.5 930.9L597.1 930.6M598.3 938.6L602.9 940.1M599.7 948L603.7 944.7M601.4 956.3L606.8 955.4M608.2 964.4L604 967.3M603.7 971.8L608.9 972.9M611.3 982.6L606.8 980.7M620.7 1002.5L625.6 1003.1M620.4 1010.7L626.3 1011.1M625.4 1023.1L620.9 1021.9M621.6 1031.9L625.9 1030.1M626.9 1039.8L622 1038.6M624.5 1048.6L619 1047M616.1 1065.8L621 1068.3M618.5 1076.8L614 1074.6M613.3 1085.5L609.5 1082.6M601.2 1101.6L596.7 1099.2M588.1 1103.6L593.9 1104.8M583.2 1110.6L587.4 1112.7M574.3 1115.6L580.2 1116.6M571.7 1120.9L575.7 1124.2M565.9 1129.6L561.4 1127.9M555.5 1130.6L560.8 1133M551.8 1136.7L548 1133.7M532 1140.4L535.4 1145.1M526.5 1146.9L530.2 1150.8M522.1 1154.8L520.3 1150.6M514.7 1156L517.2 1160.1M508.2 1159.3L511.6 1162.4M489.9 1179.4L489.1 1174.4M486.1 1185L484.4 1179.7M477.2 1187.6L478 1182.9M461.4 1190.1L463.9 1195.4M454.3 1200.8L453.9 1195.9M441.5 1207.7L440.1 1202.3M433.5 1206.1L431.2 1201.6M423.6 1210.9L422.9 1206.3M414.4 1206.5L415 1211.8M407.9 1205L404 1209.1M398.4 1206.1L396.4 1211.3M383 1209.2L383.4 1204M375.3 1203.8L374.5 1208.8M366.6 1201.7L365.5 1207M358.4 1198.5L356.5 1202.8M349.3 1198.6L348.3 1203.6M342.7 1201.1L343.2 1196M330.9 1198.4L333.6 1194.8M325.5 1193.5L327.6 1188.6M317.8 1192.8L319.7 1188M308.2 1187.7L310.7 1182.5M295.7 1175.5L292.4 1180.1M271.8 1166.7L275.6 1163.6M266.2 1161.2L268.1 1156.6M256.6 1154.2L260.5 1151.4M256.1 1143.1L251.9 1147.1M250.9 1139L247.1 1143.6M240.2 1135.8L242.7 1131.3M240.8 1123.8L236.5 1127.7M230.3 1108.8L226.7 1111.5M224.9 1103.1L220.3 1106M215.6 1098.1L219.4 1095.6M214 1088.2L218.1 1086.3M212.6 1080L207.5 1081.7M207.9 1062.8L203.4 1064.7M200.3 1056.3L206 1054.6M204.6 1044.8L199.6 1047.5M202.9 1037.9L197.2 1038.4M202.9 1028.7L196.9 1029M198.9 1022.3L194.3 1021.1M196.4 1012.9L201.2 1013.3M203.7 985.6L198.3 985.9M204.5 979.7L200.5 977.5M204 970L208.8 971.8M211.7 963.3L206.3 962.6M208.2 955.3L213.5 953.9M211.3 947.2L216.5 947.6M215.9 939.5L221.3 940.5M223.8 933.2L219.1 932.5M220.4 923.4L224.3 925.9M226 918.1L221.4 915.8M228.7 902.3L233.8 902.6M233.9 892.6L228.8 890.8M231.6 882.2L236.1 885M232.7 873.4L236.3 877.7M235.2 865.8L240 867.3M240.4 860.3L236.3 857.8M239.9 849L245.1 850.8M246.9 842.6L241.6 839.8M246.8 829.1L250.2 833.9M250.7 823.6L254.7 827.3M255.4 814L259.5 816.5M265.9 813L263.8 808.9M278.1 798.6L275.1 794.6M284.8 793.1L280.9 788.9M289.3 784.6L292.4 789.4M300 782.1L301.5 787.4M311.3 783.4L308.8 778.7M318.7 778.8L316.7 774.4M335.5 777.9L335.1 773M344.1 775.1L340.5 770.6M352.5 768.9L351.7 773.6M366.8 772.9L365.9 768.3M377.4 769L377.5 774.8M383.4 766.9L383.6 772.7M392.9 766.7L395 771.6M401 771.9L400.8 767.2M407.4 773.8L408.3 768.7M418.1 769.5L417 774.7M427.2 774.1L426.4 768.2M434.5 776.4L433.6 770.6M443.7 776.1L443.4 770.3M451.6 772.9L449.7 777.8M459 774.6L458.6 779.7M467.4 775.8L467.1 780.7M474.2 783.8L476.6 779.4M481.8 782.1L479.7 787.2M503.2 794.1L501 799.1M511.6 799.9L510.2 805.1M514.6 809.3L516.2 803.8M531.1 814.7L529.2 820M532.4 823.7L536.7 821.1M542 828L539.1 831.7M545.7 836L548.8 832.7M555.7 836.9L553.2 840.8M558.2 845.3L554.7 848.2M563.6 851.3L559.8 853.9M569 857.6L565.6 860.8M571.9 866.9L577.3 865.2M577.6 874.3L582.8 872.2M579.8 879.1L585 877.2M587.4 888.6L582.7 890.5M590.8 894.6L585.8 896.7M596.2 900.4L591.4 904M591.7 911.5L597.4 911.6M597.7 919.6L602.7 917.5M603.7 925.3L598.4 927.7M609.3 940.5L604.3 943.4M612.3 949.3L607.4 949.2M611.1 961L615.8 959.2M615.2 967.8L610.4 968.2M617.2 975.5L613.2 978.4M619.4 986.3L614.6 985.6M629.3 998.4L634.4 996.5M636.6 1003.7L631.5 1004.5M636.7 1026.5L631.7 1024.4M637.4 1032.1L632.8 1031.5M637.4 1044.5L632.6 1043.5M632.3 1050.6L636.5 1053M632 1058.6L627.6 1059.9M626.3 1070.3L631.2 1072.5M626 1077.2L621 1075.5M620.5 1087.9L614.8 1086.3M612 1102L607 1099M600.7 1106.1L605.3 1106.4M596.7 1114.1L591.8 1114.1M577.6 1121.8L581.9 1124.1M562.1 1131.4L566.5 1135.4M560.5 1142.7L557.8 1138.9M552.7 1146.2L550.1 1141.9M546.8 1149.2L543.1 1145M538.1 1149.4L541.1 1153.5M534.3 1158.7L531.8 1154.4M527.6 1162.8L525.4 1157.4M522 1167.8L519.1 1163.7M512.8 1173.7L511 1169.1M507 1172.5L509.7 1177.6M494.2 1187.7L492 1183.1M487.4 1185.8L488.6 1191.3M472.9 1200.1L473.2 1195.3M465 1199.8L466.5 1205.2M450 1206.6L450.7 1212.4M444.9 1212.1L444.6 1207.3M434.9 1209L436.4 1214.2M426.6 1216.6L427.7 1211M420.3 1211.6L419.1 1217.1M408.9 1213.3L410.6 1218.4M401.2 1212.7L401.2 1217.4M386.6 1217.6L388.8 1212.7M369.2 1210.9L368.3 1215.4M361.5 1215.2L362 1209.8M353.4 1216L354.9 1211.5M342.6 1212.5L344.8 1207.9M336.5 1205L336.1 1210M325.5 1209.2L327.9 1205.3M320 1204.4L319.7 1199.2M314.6 1196.4L313.9 1200.8M301.8 1199.3L304.8 1194.8M298.8 1187.3L296.7 1192.4M289.5 1190.2L291.4 1185.7M283.4 1184.3L285.4 1180.1M274.1 1177.4L278.4 1174.4M273.5 1169.7L270.8 1173.8M262 1170L266.4 1166.8M258 1158.3L255.8 1163.2M255 1152.3L251 1155.8M240 1143.4L242.7 1139.2M234.6 1136.4L237.8 1133.1M220.9 1123.7L226.1 1121M217.6 1116.3L222.5 1113.9M215.6 1104.7L210.8 1107.7M205.9 1101.6L208.8 1097.9M206.6 1091.5L204.2 1096.2M202.4 1082.5L197.7 1084.6M200.1 1074.5L196 1077.5M196.4 1066.5L191.3 1067.2M194.3 1058.9L188.9 1061.2M190.1 1049.1L185.6 1050.6M185.3 1034L190.5 1034.9M189.6 1023L184.8 1024.8M189.2 1014.2L184.7 1015.4M186.8 1007.5L192.2 1005.5M188.5 997L193.7 998M188.8 990L194.6 990M197.9 982.8L192.5 980.8M200.8 971.9L196.5 975M203.7 964.4L198.7 966.4M207.4 958.9L203.5 955M204.4 949.2L209.6 949.7M206.8 941.8L212.8 942.2M216 935L211.5 933.7M217.1 926.4L211.5 925.4M219.2 920.8L214.6 919.5M220.3 912L215.3 911.3M222.5 892.5L217.6 891.8M221.4 883L226.1 886.5M225.3 876.8L220.4 877.3M229.5 869.9L224.6 866.7M232.3 861.1L227.1 858.2M235.8 844.4L232.6 841M240.3 835.5L236.9 832M244.4 828.7L241.1 824.2M249.4 821L244.1 819.1M253.1 814.2L249.8 809.2M261.1 805.7L257.1 801.9M263.6 795.3L266.5 799.3M268.6 792.6L272.5 795.4M278.7 789L275.8 785M281.8 780.2L284.8 783.7M293.5 781.6L292.6 777.1M298.4 772L301.4 777M311.6 775.2L310.7 770.3M320.2 771.7L316.6 767.5M327.3 768.5L326.5 763.8M336 766.1L334.8 761.5M341.8 762.7L343.2 767.5M349.1 759.2L350.6 764.2M368.2 758.2L369.8 762.5M393.8 759.4L393.4 753.9M401.6 757L402.1 761.6M409.1 760.8L409 755.3M415 757.3L417.1 762.1M424.2 759.9L424.4 764.8M436.1 764.6L434.6 759.9M441.5 762.2L440.9 767.7M449.8 763.3L448.1 768.2M458.6 764.5L456.4 769.1M466.5 770.1L463.8 774.9M472.1 775.1L474.4 770.6M477.5 780.4L480.1 775.4M486.1 782.5L487.4 778.1M497.4 784.3L494.5 789M510.3 790.7L507.6 795.9M516 798.2L518.5 794M532.5 804.5L528.5 808.7M534.5 810.1L539.1 807M543.3 813.1L541 817.6M559 824.3L554.3 827.3M560.2 835.3L564.5 832.1M564.5 841.1L569.6 838M572.3 843.2L567.9 846.9M578.7 852.1L574.4 855.4M578.9 861.7L582.7 857.3M583.7 868.3L586.5 864.1M591.1 873.3L585.3 873.3M595.9 881.7L592.1 884.2M593.2 890.5L598.6 889.5M598.8 896.8L594.6 899.1M602.4 915.2L606.8 912.2M605.2 919.9L610.5 919.1M610.9 929.5L606.2 931.8M613.2 935.8L608.1 937.2M615.3 942.4L611.1 945.6M617.3 962.9L623 963.4M621 968.8L626.7 968.4M622 978L627.3 977M631.7 987.1L626.1 985.6M646.8 997.2L641.9 998.2M646.4 1005.4L640.7 1006.7M646.8 1014L641.9 1011.9M649.7 1023.2L644.5 1022.5M645.3 1054.1L640.8 1052.1M644.8 1060.6L639.1 1061.1M639.1 1068L634 1066.8M631.8 1085.4L627.1 1084.6M621.6 1091.8L625.4 1094.5M616.1 1098.4L620.2 1101.3M612.3 1108.3L608.5 1106M595.2 1116.9L598.6 1120.4M593.4 1127.8L590.2 1123.6M577.2 1135.7L581.2 1139.4M576.1 1143.3L570.6 1141.1M568.6 1148L564 1146M552.1 1155.9L555.7 1159.7M544.2 1158.4L547.9 1162.9M537.6 1163.8L540.5 1167.6M536.3 1172.4L531.7 1170.6M523.6 1183.3L520.2 1179.6M510.7 1182L514.9 1184.5M506.4 1185L508.8 1190.1M500.9 1195.9L499.9 1191.2M492.8 1198.6L489.2 1194.2M488 1201.3L483.8 1197.8M478.6 1202.6L481 1207.5M469.3 1203.7L471.2 1208.8M463 1207.2L464.2 1212.3M455.7 1213.1L455.1 1218.6M449.3 1211.4L449.8 1217M440.9 1221.2L438.7 1216.2M434.1 1221.9L432.5 1216.6M423.7 1225.8L424.6 1221M415.6 1224.6L415.1 1219.4M408 1224.7L407.7 1229.3M393.7 1222.7L390.9 1228M384.5 1230.1L385.5 1225.6M376.6 1224.2L376.2 1229.6M367 1222.9L365.5 1228.3M357.7 1229.1L358.3 1224.6M350.7 1223.5L350.1 1228.3M342.3 1224L343.2 1218.4M334.6 1221.9L335.6 1216.2M327.1 1216.3L325.7 1221M318.2 1215.1L319.4 1210.1M308.6 1213.4L309.2 1208.4M302.9 1204.9L300.1 1208.4M288.5 1194.6L286.1 1198.6M277.5 1186.2L273.4 1188.2M269.8 1175.9L268.8 1181.1M259.9 1167.9L256.2 1171.6M248.5 1165.9L251.4 1162.2M235.4 1155.2L239.3 1150.7M234.6 1142.6L230.5 1145.2M226.2 1141.8L229 1138.2M217.9 1134.2L222 1130.6M216.5 1122.9L212 1126.8M213.5 1117.9L207.8 1119.8M206.4 1109.8L202.7 1113M201.2 1104.8L196.5 1108.4M196 1095.1L191.3 1098.7M187.6 1089.8L192.4 1087.3M184.4 1083.9L188.4 1080.8M181.8 1072.2L187.2 1071.8M180 1064.8L185.5 1064.4M178.7 1056L184.1 1053.5M180.8 1045.6L175.2 1046.9M180.4 1036.7L174.6 1037M180.6 1028.5L175.7 1028.8M182.8 1019.5L177.6 1019.6M178.4 1011.6L183.7 1009.6M186.6 1002.7L181.3 1002.5M189 993.7L183.7 992.9M191.5 985.7L186.5 985.5M197.5 967.2L192.3 968.8M198.9 962.9L193.6 961.1M194.7 952.8L200 952.9M197.4 944.9L202.1 946.8M207.4 928L202 929.5M209.2 922.4L203.7 920.6M205.1 913.9L210.8 914.1M208.3 904.6L213.4 906.8M214.5 898.5L209.3 896.1M209.4 889.3L213.3 891.7M212.5 879.8L217.5 881.9M214.1 871.1L218.9 872.6M215.4 864.6L219.6 867.1M221.5 856.8L218.3 853.4M219.9 843.2L223.6 845.9M227.4 840.8L223.8 836.8M226.8 826.7L230.8 829.6M232.3 821.5L236.1 824.8M240 816.2L234.9 813.1M253 804.4L248.5 800.7M252.8 791.9L257.5 794.3M265.7 791.3L261.6 787.3M272.2 786.6L270.7 780.9M277.1 779.2L275.3 774M282.6 773.8L284.6 778.2M293.6 773.2L289.9 768.6M300.5 766.2L299.6 761.8M308.9 763.9L306.8 759.7M315.9 755.8L316.1 760.4M325.4 758.2L325.2 753.2M332.1 749.2L332.5 755M347.3 751.8L346.8 746.1M365.5 750.8L366.3 746.3M373 744.2L374.2 748.8M399.5 750.3L399 745.1M407.8 751.3L407.9 746.2M416.8 748.9L415.4 754.4M423.6 756.3L423.5 750.5M431.5 752.5L431.7 757.8M438.8 758.3L439.7 753.5M446.2 760.5L447.4 754.7M456.9 757.5L456 762.2M461.6 761.8L461.5 766.8M470.4 763.7L467.9 768.5M487.6 767L484 771.2M491.5 776.7L494.3 771.6M503.6 776L500.4 780.6M505.3 783.5L507.9 779.5M517.5 780.1L514.6 784.5M525 785.9L523.7 790.6M531.4 792.1L529 796.1M537.9 795.4L535.6 800.7M547.5 799.3L543.9 802.9M551.8 805L549.5 810.5M561.2 821.3L564.9 818.2M570.4 820.2L567.1 824.6M572.4 832.1L575.6 827.4M579.2 833.4L577.6 838.1M583.5 845.7L579.9 848.7M584.4 853.7L588.4 850.8M592.6 857.8L588.6 860.7M596.9 865.8L592.6 867.8M593.4 876L597.5 873.1M599.4 883.2L604.4 884M607.6 890.8L603 892M609.5 896.4L604.4 896.2M605.4 908L609 904.1M615.1 914L611 916.1M616.7 920.4L612.2 922.8M620.6 928.6L616.3 931.2M624.2 934.3L619.2 936.9M621.2 946.8L626 945.4M625.6 955.7L629.8 953.8M628.6 963L634 961.5M634.4 970.7L639.6 968.8M637.1 981L641.6 979.1M644.7 987.3L639.4 987.7M649.4 990.1L654 990.6M652.8 997.9L658.7 998.6M651.3 1006.5L656 1007.8M657.4 1017.4L652.4 1016M656.7 1028.5L653 1025.5M657.9 1036.3L652.9 1035.4M656.1 1045.3L651.2 1045.2M649.1 1052.8L654 1052.2M647.4 1059.8L651.4 1063.5M639.4 1079.4L645 1080M636.7 1089.1L631.7 1088.5M634.9 1095.8L629.4 1095.1M626.9 1101.8L622.1 1099.8M621.3 1111.4L616.5 1110.2M613.8 1118.3L609.7 1114.6M611.1 1125.2L606.5 1122.3M600.2 1128.3L605.6 1129M595.1 1133.5L599.1 1136.2M590.8 1143.9L587.5 1140.1M581.7 1143L584 1147.1M575 1149.1L579.2 1153M565.1 1162.6L561.2 1159.7M556.7 1165L559 1169.8M539.9 1173.4L544.2 1176.6M538 1181.7L533.4 1178.2M527.2 1182.7L529.6 1187.4M521.9 1187.7L524.6 1192.1M515.3 1189.5L517.2 1194.4M509.4 1197.9L508.9 1193.1M501.4 1204.7L501.9 1199.1M496.8 1204.3L493.6 1199.5M486.4 1204.4L487.5 1210.3M481.5 1212.8L481.3 1207M469.5 1219.5L464.5 1216.4M458 1221.2L457.6 1216.5M449.3 1224.9L451.2 1219.6M441.7 1229.9L441.2 1224.9M433.6 1224.4L433.8 1229.5M425.5 1233.3L426.5 1228.9M410.6 1234.1L412.4 1238.6M401.4 1232.3L401.1 1237.7M394.7 1235.2L395.7 1240.3M376.8 1236.3L377.8 1241.8M369.6 1235.6L367 1240.3M360 1238.3L362.9 1234.2M349.7 1239.3L351.7 1233.7M335.8 1233.1L337.6 1227.8M328.4 1224.5L326.4 1229.7M319.9 1220.1L317.6 1225.4M301.2 1218.9L305.4 1215.7M298.8 1209.5L296.1 1214.6M293.5 1204.4L290.9 1209.4M281.7 1202.8L284.2 1198.9M280.6 1194.2L276.7 1197.4M270.4 1189.8L267.9 1193.8M265.6 1182.3L265 1187.9M251.2 1172L249.8 1177M241.3 1172.6L245.1 1168.1M232.6 1154.9L230.4 1160.3M225.5 1150.2L221.7 1153.5M216.2 1149.9L221.1 1147.4M212.6 1139.3L208.7 1142.2M208.8 1133.8L204.7 1138.1M197.1 1128.2L201.3 1126.1M194.7 1122.2L198.2 1118.3M189.5 1116.1L192 1111.6M189.1 1102.1L185.1 1104.9M174.6 1090.8L179.9 1089.2M178.9 1078.3L174.1 1078.9M171.8 1069.9L177.2 1070M175.1 1060.5L170.9 1062.2M170 1054.4L176 1054.1M174.9 1044.2L170.3 1044.4M174.9 1034.3L169.1 1035.5M170.2 1016.3L175.8 1015M181.5 999.6L176.2 1000.9M184.5 980.3L179.3 981.6M182.6 965.5L187.3 964.7M190.3 960.2L186 958.3M193.3 950.2L188.6 949.3M188.9 942.9L194.1 943M194.7 936.6L189.6 935.4M198.8 928.3L194.4 926.8M199 921L194.3 919.2M197.5 909.1L201.9 911M195.1 900.6L200.4 903.1M201.7 895.5L197.1 894M204.8 888.1L200.1 885.9M202.3 878.2L206.7 879.9M210.1 871.2L205.8 869.7M207.4 860L212.4 861.6M212.4 854L209.1 849.2M213.7 842.6L218.4 845.1M216.9 837.7L221 840.1M224.6 830.4L220.5 826.6M224.7 819.2L229.9 819.8M228.7 810.5L232.3 813.6M233 803.3L236.9 806.5M243 803.9L240.1 798.9M250 793.5L245.9 791.2M251.9 786.6L255.3 789.8M263 783.5L259.9 779.1M265.1 771.5L267.6 776.7M273.6 772.2L273.4 767.5M280.7 765.6L278.7 760.1M289.7 760.1L286.8 756.5M294.5 751.7L298.2 756.1M315.1 750.9L313 746.5M319.7 744.2L322.6 749.1M328.3 738.7L328.5 744.3M338 741.5L336.6 736M347.9 742.3L343.8 738.2M354.7 740.1L355.4 734.5M362.3 741L362 735.9M370.1 738.3L369.5 732.9M381.3 741.7L380.5 736.3M387.8 734.4L388.2 740.1M397.1 740L397.6 735.1M407.5 736.8L405.2 742.2M421.9 742.6L421.5 747.3M428.3 743.7L427.7 749.3M446.5 754.3L446.6 749.3M451.8 756L453.9 751.8M459.4 756L460.5 750.5M467.5 756.9L471 752.9M476.1 756.2L474.6 761.7M483.1 759.2L482.2 764.7M491.9 767.7L492.9 763.1M508 767.5L507.1 772.6M523.8 774L522.3 779.2M529 780.7L530.2 775.9M536 784.5L538.5 779.4M542.8 791.9L542.9 786.5M546.7 794.5L551.4 792.2M557.7 795.5L555.4 800M560.4 807.4L564.7 804.4M571 810.3L567 813.6M572.2 819.2L577.4 817.9M579.8 823.2L577.3 827M585.8 831.5L582.8 835M585.2 843L588.8 839.4M595.8 853.6L591.7 856M595.5 865.4L600.4 862.7M603 869.1L598.5 871M608 877.5L602.8 880.3M610.8 883.2L606.5 885.3M608.2 893.2L612.4 890.6M615.7 900.2L611.1 901.3M620.1 906L615.1 908.9M630.1 923.2L624.4 923.5M625.9 930.8L630.7 929.3M636.4 935.5L631.3 938.3M640.5 945.5L634.5 945.4M637 956.4L642.6 954.8M647.5 962.3L642.7 963.8M648.7 973.8L643.5 972.1M647 979.3L652.1 978.4M652.5 1077.5L656.1 1073.7M618.5 962.5L618.5 967.7M608.8 961.4L613.9 962.2M652.8 935.7L657.5 937.9M608.4 1062.8L610.1 1067.7M633.3 982.9L635 978M666.9 959.4L663.4 955.5M659.3 999.2L663.5 996.1M649.4 959.7L653.1 956M643.3 907.8L638.9 905.1M659.8 1009.4L654.7 1009.9M632.6 1102.4L629.9 1097.9M619.8 968.6L616.4 972.6M663.6 1052.1L667.2 1055.8M664.8 890.1L660.4 887.3M634.6 1058.3L629.9 1060.5M609.7 1013.3L611.9 1008.6M654.2 966.6L655.1 971.7M651.4 1077.9L652.4 1083M663 1127.1L658.3 1129.2M626.6 1058.6L631.3 1056.4M618.9 953.2L616.5 957.7M653.6 927.5L648.6 925.9M634.9 1045.1L638.1 1049.1M667.7 1131L662.9 1129M652.9 927.2L657.3 924.4M638 1071.8L641.5 1068M627.1 1108.5L628.5 1113.5M604.4 1007.1L608.6 1004.1M664.3 1118.9L659.1 1118.6M662.1 1018L665.4 1022M647.1 1079.7L642.4 1082M643.4 942.2L642.5 947.4M634 1007.8L628.9 1008.8M612.2 879.2L609.4 883.6M650 1064.5L650.4 1069.7M619.9 1006.8L622.3 1011.5M642.2 1103.6L643.8 1108.5M641.9 1062.8L641.9 1057.6M650.2 1055.1L649.5 1060.2M655.4 1110.4L660.3 1112.1M662.3 989.3L666.7 992M610.5 1081.6L608.2 1076.9M615.6 997L612.3 993M667.6 966.6L668.1 961.4M619.1 927.5L621.8 931.9M631.7 1032.1L630 1037M613 933.3L617.4 936M619.8 959L614.6 958.9M619 999L614.2 1000.9M663.9 1002.4L668.7 1000.7M636.9 930.9L632.5 928.1M611.8 921.1L616.4 923.5M651.3 1120.3L647 1123.2M628.9 984.2L625.8 988.4M647 975.9L650 980.1M656.9 1023L662.1 1023.2M660.1 1060.1L656.9 1064.2M646.8 1108.6L642.6 1111.6M634.7 955.4L629.8 953.7" stroke="#2b3350" stroke-width="1.2" fill="none"/><path d="M611 989.1h0M607.6 998.1h0M609.1 1010.8h0M609.6 1029h0M610.3 1037.6h0M610 1044.2h0M611.4 1056h0M610.7 1064.2h0M607.6 1072.7h0M603 1083.8h0M596.9 1090.7h0M594.5 1095h0M583.3 1100.8h0M575.3 1105.7h0M562.5 1118.7h0M554.7 1124.7h0M546.5 1127h0M543.9 1135.6h0M532.3 1138.1h0M522.7 1137.4h0M517.5 1140.8h0M513.4 1148.5h0M507.6 1153.6h0M497.2 1153.2h0M492.8 1157.1h0M479.3 1169.8h0M472 1174.9h0M466.9 1185.2h0M457.8 1183.5h0M453.4 1193.2h0M442.2 1190.7h0M436 1200h0M419.7 1203.6h0M411.5 1200.3h0M401.5 1202.7h0M396.4 1200h0M385.4 1200.1h0M378.6 1197.1h0M370.4 1199h0M363.9 1191.8h0M353.4 1188.5h0M347.5 1190.4h0M338.5 1188h0M330.6 1186.5h0M321.9 1181.5h0M314.8 1179h0M307 1168.4h0M303 1165.7h0M293.4 1164h0M287.4 1157.2h0M279.4 1155.1h0M269.7 1153.3h0M255.7 1140h0M256.9 1131.4h0M244.2 1129.5h0M240.8 1119.5h0M228 1103.6h0M230.6 1095.6h0M227.8 1087.9h0M217.9 1081.8h0M217.5 1072.9h0M211.9 1065.5h0M209.7 1056.6h0M213.4 1046.4h0M206.7 1018h0M211.6 1012.1h0M204.5 1002.1h0M213.8 994.1h0M213 985.7h0M211.5 969h0M218.8 959.8h0M218.9 951.4h0M219.1 943.2h0M222.9 934.8h0M228.1 928.6h0M233.1 923.2h0M235.1 915.9h0M235.7 905.9h0M234.2 898.6h0M242.7 891.1h0M245.6 885.3h0M243 872.2h0M246.8 865h0M251.6 859.8h0M250.4 846.7h0M255.7 835.4h0M262.2 831.5h0M268.4 826.9h0M279.6 812.7h0M284.3 803.7h0M291.3 797h0M298.6 795.8h0M305.7 785.7h0M326.4 785h0M330.3 782.2h0M342.3 778.5h0M350.5 785h0M359.6 783.2h0M365.8 779.7h0M376.6 783.8h0M392.9 785.1h0M399.7 778.9h0M408.6 785.8h0M425.2 777.5h0M441.7 779.7h0M448.7 788.6h0M459.8 784.2h0M474.5 788.6h0M477.7 795.1h0M487.7 797.7h0M495.6 797.2h0M510.9 808.1h0M513.8 819.8h0M519.3 824.5h0M526.2 829.6h0M531.7 836.5h0M538.2 840.9h0M544.5 842.5h0M547.3 854.3h0M555.4 860.5h0M562.8 865.6h0M563.6 871.6h0M566 882.2h0M576.1 885.8h0M581.2 891.9h0M582.4 901.5h0M585.6 908.5h0M594.2 915.9h0M590.2 925.7h0M592.5 930.9h0M598.3 938.6h0M599.7 948h0M601.4 956.3h0M608.2 964.4h0M603.7 971.8h0M611.3 982.6h0M620.7 1002.5h0M620.4 1010.7h0M625.4 1023.1h0M621.6 1031.9h0M626.9 1039.8h0M624.5 1048.6h0M616.1 1065.8h0M618.5 1076.8h0M613.3 1085.5h0M601.2 1101.6h0M588.1 1103.6h0M583.2 1110.6h0M574.3 1115.6h0M571.7 1120.9h0M565.9 1129.6h0M555.5 1130.6h0M551.8 1136.7h0M532 1140.4h0M526.5 1146.9h0M522.1 1154.8h0M514.7 1156h0M508.2 1159.3h0M489.9 1179.4h0M486.1 1185h0M477.2 1187.6h0M461.4 1190.1h0M454.3 1200.8h0M441.5 1207.7h0M433.5 1206.1h0M423.6 1210.9h0M414.4 1206.5h0M407.9 1205h0M398.4 1206.1h0M383 1209.2h0M375.3 1203.8h0M366.6 1201.7h0M358.4 1198.5h0M349.3 1198.6h0M342.7 1201.1h0M330.9 1198.4h0M325.5 1193.5h0M317.8 1192.8h0M308.2 1187.7h0M295.7 1175.5h0M271.8 1166.7h0M266.2 1161.2h0M256.6 1154.2h0M256.1 1143.1h0M250.9 1139h0M240.2 1135.8h0M240.8 1123.8h0M230.3 1108.8h0M224.9 1103.1h0M215.6 1098.1h0M214 1088.2h0M212.6 1080h0M207.9 1062.8h0M200.3 1056.3h0M204.6 1044.8h0M202.9 1037.9h0M202.9 1028.7h0M198.9 1022.3h0M196.4 1012.9h0M203.7 985.6h0M204.5 979.7h0M204 970h0M211.7 963.3h0M208.2 955.3h0M211.3 947.2h0M215.9 939.5h0M223.8 933.2h0M220.4 923.4h0M226 918.1h0M228.7 902.3h0M233.9 892.6h0M231.6 882.2h0M232.7 873.4h0M235.2 865.8h0M240.4 860.3h0M239.9 849h0M246.9 842.6h0M246.8 829.1h0M250.7 823.6h0M255.4 814h0M265.9 813h0M278.1 798.6h0M284.8 793.1h0M289.3 784.6h0M300 782.1h0M311.3 783.4h0M318.7 778.8h0M335.5 777.9h0M344.1 775.1h0M352.5 768.9h0M366.8 772.9h0M377.4 769h0M383.4 766.9h0M392.9 766.7h0M401 771.9h0M407.4 773.8h0M418.1 769.5h0M427.2 774.1h0M434.5 776.4h0M443.7 776.1h0M451.6 772.9h0M459 774.6h0M467.4 775.8h0M474.2 783.8h0M481.8 782.1h0M503.2 794.1h0M511.6 799.9h0M514.6 809.3h0M531.1 814.7h0M532.4 823.7h0M542 828h0M545.7 836h0M555.7 836.9h0M558.2 845.3h0M563.6 851.3h0M569 857.6h0M571.9 866.9h0M577.6 874.3h0M579.8 879.1h0M587.4 888.6h0M590.8 894.6h0M596.2 900.4h0M591.7 911.5h0M597.7 919.6h0M603.7 925.3h0M609.3 940.5h0M612.3 949.3h0M611.1 961h0M615.2 967.8h0M617.2 975.5h0M619.4 986.3h0M629.3 998.4h0M636.6 1003.7h0M636.7 1026.5h0M637.4 1032.1h0M637.4 1044.5h0M632.3 1050.6h0M632 1058.6h0M626.3 1070.3h0M626 1077.2h0M620.5 1087.9h0M612 1102h0M600.7 1106.1h0M596.7 1114.1h0M577.6 1121.8h0M562.1 1131.4h0M560.5 1142.7h0M552.7 1146.2h0M546.8 1149.2h0M538.1 1149.4h0M534.3 1158.7h0M527.6 1162.8h0M522 1167.8h0M512.8 1173.7h0M507 1172.5h0M494.2 1187.7h0M487.4 1185.8h0M472.9 1200.1h0M465 1199.8h0M450 1206.6h0M444.9 1212.1h0M434.9 1209h0M426.6 1216.6h0M420.3 1211.6h0M408.9 1213.3h0M401.2 1212.7h0M386.6 1217.6h0M369.2 1210.9h0M361.5 1215.2h0M353.4 1216h0M342.6 1212.5h0M336.5 1205h0M325.5 1209.2h0M320 1204.4h0M314.6 1196.4h0M301.8 1199.3h0M298.8 1187.3h0M289.5 1190.2h0M283.4 1184.3h0M274.1 1177.4h0M273.5 1169.7h0M262 1170h0M258 1158.3h0M255 1152.3h0M240 1143.4h0M234.6 1136.4h0M220.9 1123.7h0M217.6 1116.3h0M215.6 1104.7h0M205.9 1101.6h0M206.6 1091.5h0M202.4 1082.5h0M200.1 1074.5h0M196.4 1066.5h0M194.3 1058.9h0M190.1 1049.1h0M185.3 1034h0M189.6 1023h0M189.2 1014.2h0M186.8 1007.5h0M188.5 997h0M188.8 990h0M197.9 982.8h0M200.8 971.9h0M203.7 964.4h0M207.4 958.9h0M204.4 949.2h0M206.8 941.8h0M216 935h0M217.1 926.4h0M219.2 920.8h0M220.3 912h0M222.5 892.5h0M221.4 883h0M225.3 876.8h0M229.5 869.9h0M232.3 861.1h0M235.8 844.4h0M240.3 835.5h0M244.4 828.7h0M249.4 821h0M253.1 814.2h0M261.1 805.7h0M263.6 795.3h0M268.6 792.6h0M278.7 789h0M281.8 780.2h0M293.5 781.6h0M298.4 772h0M311.6 775.2h0M320.2 771.7h0M327.3 768.5h0M336 766.1h0M341.8 762.7h0M349.1 759.2h0M368.2 758.2h0M393.8 759.4h0M401.6 757h0M409.1 760.8h0M415 757.3h0M424.2 759.9h0M436.1 764.6h0M441.5 762.2h0M449.8 763.3h0M458.6 764.5h0M466.5 770.1h0M472.1 775.1h0M477.5 780.4h0M486.1 782.5h0M497.4 784.3h0M510.3 790.7h0M516 798.2h0M532.5 804.5h0M534.5 810.1h0M543.3 813.1h0M559 824.3h0M560.2 835.3h0M564.5 841.1h0M572.3 843.2h0M578.7 852.1h0M578.9 861.7h0M583.7 868.3h0M591.1 873.3h0M595.9 881.7h0M593.2 890.5h0M598.8 896.8h0M602.4 915.2h0M605.2 919.9h0M610.9 929.5h0M613.2 935.8h0M615.3 942.4h0M617.3 962.9h0M621 968.8h0M622 978h0M631.7 987.1h0M646.8 997.2h0M646.4 1005.4h0M646.8 1014h0M649.7 1023.2h0M645.3 1054.1h0M644.8 1060.6h0M639.1 1068h0M631.8 1085.4h0M621.6 1091.8h0M616.1 1098.4h0M612.3 1108.3h0M595.2 1116.9h0M593.4 1127.8h0M577.2 1135.7h0M576.1 1143.3h0M568.6 1148h0M552.1 1155.9h0M544.2 1158.4h0M537.6 1163.8h0M536.3 1172.4h0M523.6 1183.3h0M510.7 1182h0M506.4 1185h0M500.9 1195.9h0M492.8 1198.6h0M488 1201.3h0M478.6 1202.6h0M469.3 1203.7h0M463 1207.2h0M455.7 1213.1h0M449.3 1211.4h0M440.9 1221.2h0M434.1 1221.9h0M423.7 1225.8h0M415.6 1224.6h0M408 1224.7h0M393.7 1222.7h0M384.5 1230.1h0M376.6 1224.2h0M367 1222.9h0M357.7 1229.1h0M350.7 1223.5h0M342.3 1224h0M334.6 1221.9h0M327.1 1216.3h0M318.2 1215.1h0M308.6 1213.4h0M302.9 1204.9h0M288.5 1194.6h0M277.5 1186.2h0M269.8 1175.9h0M259.9 1167.9h0M248.5 1165.9h0M235.4 1155.2h0M234.6 1142.6h0M226.2 1141.8h0M217.9 1134.2h0M216.5 1122.9h0M213.5 1117.9h0M206.4 1109.8h0M201.2 1104.8h0M196 1095.1h0M187.6 1089.8h0M184.4 1083.9h0M181.8 1072.2h0M180 1064.8h0M178.7 1056h0M180.8 1045.6h0M180.4 1036.7h0M180.6 1028.5h0M182.8 1019.5h0M178.4 1011.6h0M186.6 1002.7h0M189 993.7h0M191.5 985.7h0M197.5 967.2h0M198.9 962.9h0M194.7 952.8h0M197.4 944.9h0M207.4 928h0M209.2 922.4h0M205.1 913.9h0M208.3 904.6h0M214.5 898.5h0M209.4 889.3h0M212.5 879.8h0M214.1 871.1h0M215.4 864.6h0M221.5 856.8h0M219.9 843.2h0M227.4 840.8h0M226.8 826.7h0M232.3 821.5h0M240 816.2h0M253 804.4h0M252.8 791.9h0M265.7 791.3h0M272.2 786.6h0M277.1 779.2h0M282.6 773.8h0M293.6 773.2h0M300.5 766.2h0M308.9 763.9h0M315.9 755.8h0M325.4 758.2h0M332.1 749.2h0M347.3 751.8h0M365.5 750.8h0M373 744.2h0M399.5 750.3h0M407.8 751.3h0M416.8 748.9h0M423.6 756.3h0M431.5 752.5h0M438.8 758.3h0M446.2 760.5h0M456.9 757.5h0M461.6 761.8h0M470.4 763.7h0M487.6 767h0M491.5 776.7h0M503.6 776h0M505.3 783.5h0M517.5 780.1h0M525 785.9h0M531.4 792.1h0M537.9 795.4h0M547.5 799.3h0M551.8 805h0M561.2 821.3h0M570.4 820.2h0M572.4 832.1h0M579.2 833.4h0M583.5 845.7h0M584.4 853.7h0M592.6 857.8h0M596.9 865.8h0M593.4 876h0M599.4 883.2h0M607.6 890.8h0M609.5 896.4h0M605.4 908h0M615.1 914h0M616.7 920.4h0M620.6 928.6h0M624.2 934.3h0M621.2 946.8h0M625.6 955.7h0M628.6 963h0M634.4 970.7h0M637.1 981h0M644.7 987.3h0M649.4 990.1h0M652.8 997.9h0M651.3 1006.5h0M657.4 1017.4h0M656.7 1028.5h0M657.9 1036.3h0M656.1 1045.3h0M649.1 1052.8h0M647.4 1059.8h0M639.4 1079.4h0M636.7 1089.1h0M634.9 1095.8h0M626.9 1101.8h0M621.3 1111.4h0M613.8 1118.3h0M611.1 1125.2h0M600.2 1128.3h0M595.1 1133.5h0M590.8 1143.9h0M581.7 1143h0M575 1149.1h0M565.1 1162.6h0M556.7 1165h0M539.9 1173.4h0M538 1181.7h0M527.2 1182.7h0M521.9 1187.7h0M515.3 1189.5h0M509.4 1197.9h0M501.4 1204.7h0M496.8 1204.3h0M486.4 1204.4h0M481.5 1212.8h0M469.5 1219.5h0M458 1221.2h0M449.3 1224.9h0M441.7 1229.9h0M433.6 1224.4h0M425.5 1233.3h0M410.6 1234.1h0M401.4 1232.3h0M394.7 1235.2h0M376.8 1236.3h0M369.6 1235.6h0M360 1238.3h0M349.7 1239.3h0M335.8 1233.1h0M328.4 1224.5h0M319.9 1220.1h0M301.2 1218.9h0M298.8 1209.5h0M293.5 1204.4h0M281.7 1202.8h0M280.6 1194.2h0M270.4 1189.8h0M265.6 1182.3h0M251.2 1172h0M241.3 1172.6h0M232.6 1154.9h0M225.5 1150.2h0M216.2 1149.9h0M212.6 1139.3h0M208.8 1133.8h0M197.1 1128.2h0M194.7 1122.2h0M189.5 1116.1h0M189.1 1102.1h0M174.6 1090.8h0M178.9 1078.3h0M171.8 1069.9h0M175.1 1060.5h0M170 1054.4h0M174.9 1044.2h0M174.9 1034.3h0M170.2 1016.3h0M181.5 999.6h0M184.5 980.3h0M182.6 965.5h0M190.3 960.2h0M193.3 950.2h0M188.9 942.9h0M194.7 936.6h0M198.8 928.3h0M199 921h0M197.5 909.1h0M195.1 900.6h0M201.7 895.5h0M204.8 888.1h0M202.3 878.2h0M210.1 871.2h0M207.4 860h0M212.4 854h0M213.7 842.6h0M216.9 837.7h0M224.6 830.4h0M224.7 819.2h0M228.7 810.5h0M233 803.3h0M243 803.9h0M250 793.5h0M251.9 786.6h0M263 783.5h0M265.1 771.5h0M273.6 772.2h0M280.7 765.6h0M289.7 760.1h0M294.5 751.7h0M315.1 750.9h0M319.7 744.2h0M328.3 738.7h0M338 741.5h0M347.9 742.3h0M354.7 740.1h0M362.3 741h0M370.1 738.3h0M381.3 741.7h0M387.8 734.4h0M397.1 740h0M407.5 736.8h0M421.9 742.6h0M428.3 743.7h0M446.5 754.3h0M451.8 756h0M459.4 756h0M467.5 756.9h0M476.1 756.2h0M483.1 759.2h0M491.9 767.7h0M508 767.5h0M523.8 774h0M529 780.7h0M536 784.5h0M542.8 791.9h0M546.7 794.5h0M557.7 795.5h0M560.4 807.4h0M571 810.3h0M572.2 819.2h0M579.8 823.2h0M585.8 831.5h0M585.2 843h0M595.8 853.6h0M595.5 865.4h0M603 869.1h0M608 877.5h0M610.8 883.2h0M608.2 893.2h0M615.7 900.2h0M620.1 906h0M630.1 923.2h0M625.9 930.8h0M636.4 935.5h0M640.5 945.5h0M637 956.4h0M647.5 962.3h0M648.7 973.8h0M647 979.3h0M652.5 1077.5h0M618.5 962.5h0M608.8 961.4h0M652.8 935.7h0M608.4 1062.8h0M633.3 982.9h0M666.9 959.4h0M659.3 999.2h0M649.4 959.7h0M643.3 907.8h0M659.8 1009.4h0M632.6 1102.4h0M619.8 968.6h0M663.6 1052.1h0M664.8 890.1h0M634.6 1058.3h0M609.7 1013.3h0M654.2 966.6h0M651.4 1077.9h0M663 1127.1h0M626.6 1058.6h0M618.9 953.2h0M653.6 927.5h0M634.9 1045.1h0M667.7 1131h0M652.9 927.2h0M638 1071.8h0M627.1 1108.5h0M604.4 1007.1h0M664.3 1118.9h0M662.1 1018h0M647.1 1079.7h0M643.4 942.2h0M634 1007.8h0M612.2 879.2h0M650 1064.5h0M619.9 1006.8h0M642.2 1103.6h0M641.9 1062.8h0M650.2 1055.1h0M655.4 1110.4h0M662.3 989.3h0M610.5 1081.6h0M615.6 997h0M667.6 966.6h0M619.1 927.5h0M631.7 1032.1h0M613 933.3h0M619.8 959h0M619 999h0M663.9 1002.4h0M636.9 930.9h0M611.8 921.1h0M651.3 1120.3h0M628.9 984.2h0M647 975.9h0M656.9 1023h0M660.1 1060.1h0M646.8 1108.6h0M634.7 955.4h0" stroke="#bb3a3a" stroke-width="2.4" fill="none" stroke-linecap="round"/><path d="M606.5 990.1h0M612.2 998.1h0M614.2 1009.1h0M614.1 1027.8h0M615.6 1038h0M615.1 1044.5h0M606.9 1054h0M605.8 1064.3h0M603.7 1070.4h0M599.1 1080.7h0M593.3 1087h0M588.5 1095h0M586.6 1104.3h0M579.2 1108.5h0M565.6 1122.5h0M559.3 1126h0M550.3 1129.5h0M539.6 1132h0M530.2 1132.7h0M527.1 1140.6h0M520.4 1144.2h0M510.4 1143.5h0M504.1 1149h0M499.1 1157.4h0M492.2 1162.4h0M481 1175.1h0M475.6 1178.4h0M464.7 1180h0M459.2 1187.8h0M452.4 1188.1h0M442.9 1195.4h0M436.2 1194.8h0M419.4 1198.8h0M413.1 1205.2h0M402.2 1196.9h0M395.6 1205.4h0M387.8 1195.3h0M378.2 1201.9h0M371.2 1194.4h0M361.2 1197h0M352.3 1193.5h0M349 1185.4h0M338.2 1183.4h0M331.8 1181.4h0M322.9 1176.3h0M316.4 1173.3h0M307.2 1174.1h0M301.4 1170.3h0M289.4 1167.8h0M282.5 1160.6h0M275.5 1158.7h0M273.3 1150.7h0M261.4 1139.3h0M251.8 1133.9h0M248 1126.8h0M243.9 1116.2h0M232.5 1103h0M225 1097.2h0M223.5 1089.6h0M222.6 1080.1h0M222.6 1070.7h0M216.4 1064h0M214.4 1053.7h0M208 1046.9h0M212.4 1019.5h0M206.4 1011.4h0M209.2 1003.3h0M208.7 994.6h0M208.5 984.8h0M216.7 969.5h0M212.8 959.9h0M224.4 953.2h0M223.9 945.3h0M228 937.6h0M232.3 930.7h0M228.3 920.4h0M229.6 915.5h0M240.2 907.9h0M239.3 899.8h0M238.7 888.8h0M241.6 883h0M247.1 874.9h0M251.2 869.1h0M246.5 856.7h0M253.7 850h0M258.2 840h0M258.9 828.4h0M265.1 823.1h0M277.9 807.1h0M280.5 799.9h0M292.3 801.8h0M297.4 791.2h0M310.1 789.6h0M322.4 781.2h0M333 786.3h0M343.6 783.3h0M349.8 779.8h0M361 778.7h0M366.8 785h0M376.8 778.5h0M390.5 779.8h0M399.9 784.1h0M410.9 780.4h0M424.2 783.2h0M438.8 784.4h0M449.1 783h0M457.6 789.2h0M472.3 792.9h0M481.5 790.8h0M489.5 792.4h0M494 802.5h0M508 812h0M517.9 815.9h0M522.6 819.6h0M527.9 825.2h0M532.6 832h0M541.8 836.3h0M544.8 847h0M551 851.1h0M559.2 857.5h0M558.1 867.5h0M567.5 869.3h0M571.3 879.5h0M571.8 888.2h0M577.4 894.3h0M586.8 900.4h0M590 905.8h0M588.7 917.2h0M595.4 923.4h0M597.1 930.6h0M602.9 940.1h0M603.7 944.7h0M606.8 955.4h0M604 967.3h0M608.9 972.9h0M606.8 980.7h0M625.6 1003.1h0M626.3 1011.1h0M620.9 1021.9h0M625.9 1030.1h0M622 1038.6h0M619 1047h0M621 1068.3h0M614 1074.6h0M609.5 1082.6h0M596.7 1099.2h0M593.9 1104.8h0M587.4 1112.7h0M580.2 1116.6h0M575.7 1124.2h0M561.4 1127.9h0M560.8 1133h0M548 1133.7h0M535.4 1145.1h0M530.2 1150.8h0M520.3 1150.6h0M517.2 1160.1h0M511.6 1162.4h0M489.1 1174.4h0M484.4 1179.7h0M478 1182.9h0M463.9 1195.4h0M453.9 1195.9h0M440.1 1202.3h0M431.2 1201.6h0M422.9 1206.3h0M415 1211.8h0M404 1209.1h0M396.4 1211.3h0M383.4 1204h0M374.5 1208.8h0M365.5 1207h0M356.5 1202.8h0M348.3 1203.6h0M343.2 1196h0M333.6 1194.8h0M327.6 1188.6h0M319.7 1188h0M310.7 1182.5h0M292.4 1180.1h0M275.6 1163.6h0M268.1 1156.6h0M260.5 1151.4h0M251.9 1147.1h0M247.1 1143.6h0M242.7 1131.3h0M236.5 1127.7h0M226.7 1111.5h0M220.3 1106h0M219.4 1095.6h0M218.1 1086.3h0M207.5 1081.7h0M203.4 1064.7h0M206 1054.6h0M199.6 1047.5h0M197.2 1038.4h0M196.9 1029h0M194.3 1021.1h0M201.2 1013.3h0M198.3 985.9h0M200.5 977.5h0M208.8 971.8h0M206.3 962.6h0M213.5 953.9h0M216.5 947.6h0M221.3 940.5h0M219.1 932.5h0M224.3 925.9h0M221.4 915.8h0M233.8 902.6h0M228.8 890.8h0M236.1 885h0M236.3 877.7h0M240 867.3h0M236.3 857.8h0M245.1 850.8h0M241.6 839.8h0M250.2 833.9h0M254.7 827.3h0M259.5 816.5h0M263.8 808.9h0M275.1 794.6h0M280.9 788.9h0M292.4 789.4h0M301.5 787.4h0M308.8 778.7h0M316.7 774.4h0M335.1 773h0M340.5 770.6h0M351.7 773.6h0M365.9 768.3h0M377.5 774.8h0M383.6 772.7h0M395 771.6h0M400.8 767.2h0M408.3 768.7h0M417 774.7h0M426.4 768.2h0M433.6 770.6h0M443.4 770.3h0M449.7 777.8h0M458.6 779.7h0M467.1 780.7h0M476.6 779.4h0M479.7 787.2h0M501 799.1h0M510.2 805.1h0M516.2 803.8h0M529.2 820h0M536.7 821.1h0M539.1 831.7h0M548.8 832.7h0M553.2 840.8h0M554.7 848.2h0M559.8 853.9h0M565.6 860.8h0M577.3 865.2h0M582.8 872.2h0M585 877.2h0M582.7 890.5h0M585.8 896.7h0M591.4 904h0M597.4 911.6h0M602.7 917.5h0M598.4 927.7h0M604.3 943.4h0M607.4 949.2h0M615.8 959.2h0M610.4 968.2h0M613.2 978.4h0M614.6 985.6h0M634.4 996.5h0M631.5 1004.5h0M631.7 1024.4h0M632.8 1031.5h0M632.6 1043.5h0M636.5 1053h0M627.6 1059.9h0M631.2 1072.5h0M621 1075.5h0M614.8 1086.3h0M607 1099h0M605.3 1106.4h0M591.8 1114.1h0M581.9 1124.1h0M566.5 1135.4h0M557.8 1138.9h0M550.1 1141.9h0M543.1 1145h0M541.1 1153.5h0M531.8 1154.4h0M525.4 1157.4h0M519.1 1163.7h0M511 1169.1h0M509.7 1177.6h0M492 1183.1h0M488.6 1191.3h0M473.2 1195.3h0M466.5 1205.2h0M450.7 1212.4h0M444.6 1207.3h0M436.4 1214.2h0M427.7 1211h0M419.1 1217.1h0M410.6 1218.4h0M401.2 1217.4h0M388.8 1212.7h0M368.3 1215.4h0M362 1209.8h0M354.9 1211.5h0M344.8 1207.9h0M336.1 1210h0M327.9 1205.3h0M319.7 1199.2h0M313.9 1200.8h0M304.8 1194.8h0M296.7 1192.4h0M291.4 1185.7h0M285.4 1180.1h0M278.4 1174.4h0M270.8 1173.8h0M266.4 1166.8h0M255.8 1163.2h0M251 1155.8h0M242.7 1139.2h0M237.8 1133.1h0M226.1 1121h0M222.5 1113.9h0M210.8 1107.7h0M208.8 1097.9h0M204.2 1096.2h0M197.7 1084.6h0M196 1077.5h0M191.3 1067.2h0M188.9 1061.2h0M185.6 1050.6h0M190.5 1034.9h0M184.8 1024.8h0M184.7 1015.4h0M192.2 1005.5h0M193.7 998h0M194.6 990h0M192.5 980.8h0M196.5 975h0M198.7 966.4h0M203.5 955h0M209.6 949.7h0M212.8 942.2h0M211.5 933.7h0M211.5 925.4h0M214.6 919.5h0M215.3 911.3h0M217.6 891.8h0M226.1 886.5h0M220.4 877.3h0M224.6 866.7h0M227.1 858.2h0M232.6 841h0M236.9 832h0M241.1 824.2h0M244.1 819.1h0M249.8 809.2h0M257.1 801.9h0M266.5 799.3h0M272.5 795.4h0M275.8 785h0M284.8 783.7h0M292.6 777.1h0M301.4 777h0M310.7 770.3h0M316.6 767.5h0M326.5 763.8h0M334.8 761.5h0M343.2 767.5h0M350.6 764.2h0M369.8 762.5h0M393.4 753.9h0M402.1 761.6h0M409 755.3h0M417.1 762.1h0M424.4 764.8h0M434.6 759.9h0M440.9 767.7h0M448.1 768.2h0M456.4 769.1h0M463.8 774.9h0M474.4 770.6h0M480.1 775.4h0M487.4 778.1h0M494.5 789h0M507.6 795.9h0M518.5 794h0M528.5 808.7h0M539.1 807h0M541 817.6h0M554.3 827.3h0M564.5 832.1h0M569.6 838h0M567.9 846.9h0M574.4 855.4h0M582.7 857.3h0M586.5 864.1h0M585.3 873.3h0M592.1 884.2h0M598.6 889.5h0M594.6 899.1h0M606.8 912.2h0M610.5 919.1h0M606.2 931.8h0M608.1 937.2h0M611.1 945.6h0M623 963.4h0M626.7 968.4h0M627.3 977h0M626.1 985.6h0M641.9 998.2h0M640.7 1006.7h0M641.9 1011.9h0M644.5 1022.5h0M640.8 1052.1h0M639.1 1061.1h0M634 1066.8h0M627.1 1084.6h0M625.4 1094.5h0M620.2 1101.3h0M608.5 1106h0M598.6 1120.4h0M590.2 1123.6h0M581.2 1139.4h0M570.6 1141.1h0M564 1146h0M555.7 1159.7h0M547.9 1162.9h0M540.5 1167.6h0M531.7 1170.6h0M520.2 1179.6h0M514.9 1184.5h0M508.8 1190.1h0M499.9 1191.2h0M489.2 1194.2h0M483.8 1197.8h0M481 1207.5h0M471.2 1208.8h0M464.2 1212.3h0M455.1 1218.6h0M449.8 1217h0M438.7 1216.2h0M432.5 1216.6h0M424.6 1221h0M415.1 1219.4h0M407.7 1229.3h0M390.9 1228h0M385.5 1225.6h0M376.2 1229.6h0M365.5 1228.3h0M358.3 1224.6h0M350.1 1228.3h0M343.2 1218.4h0M335.6 1216.2h0M325.7 1221h0M319.4 1210.1h0M309.2 1208.4h0M300.1 1208.4h0M286.1 1198.6h0M273.4 1188.2h0M268.8 1181.1h0M256.2 1171.6h0M251.4 1162.2h0M239.3 1150.7h0M230.5 1145.2h0M229 1138.2h0M222 1130.6h0M212 1126.8h0M207.8 1119.8h0M202.7 1113h0M196.5 1108.4h0M191.3 1098.7h0M192.4 1087.3h0M188.4 1080.8h0M187.2 1071.8h0M185.5 1064.4h0M184.1 1053.5h0M175.2 1046.9h0M174.6 1037h0M175.7 1028.8h0M177.6 1019.6h0M183.7 1009.6h0M181.3 1002.5h0M183.7 992.9h0M186.5 985.5h0M192.3 968.8h0M193.6 961.1h0M200 952.9h0M202.1 946.8h0M202 929.5h0M203.7 920.6h0M210.8 914.1h0M213.4 906.8h0M209.3 896.1h0M213.3 891.7h0M217.5 881.9h0M218.9 872.6h0M219.6 867.1h0M218.3 853.4h0M223.6 845.9h0M223.8 836.8h0M230.8 829.6h0M236.1 824.8h0M234.9 813.1h0M248.5 800.7h0M257.5 794.3h0M261.6 787.3h0M270.7 780.9h0M275.3 774h0M284.6 778.2h0M289.9 768.6h0M299.6 761.8h0M306.8 759.7h0M316.1 760.4h0M325.2 753.2h0M332.5 755h0M346.8 746.1h0M366.3 746.3h0M374.2 748.8h0M399 745.1h0M407.9 746.2h0M415.4 754.4h0M423.5 750.5h0M431.7 757.8h0M439.7 753.5h0M447.4 754.7h0M456 762.2h0M461.5 766.8h0M467.9 768.5h0M484 771.2h0M494.3 771.6h0M500.4 780.6h0M507.9 779.5h0M514.6 784.5h0M523.7 790.6h0M529 796.1h0M535.6 800.7h0M543.9 802.9h0M549.5 810.5h0M564.9 818.2h0M567.1 824.6h0M575.6 827.4h0M577.6 838.1h0M579.9 848.7h0M588.4 850.8h0M588.6 860.7h0M592.6 867.8h0M597.5 873.1h0M604.4 884h0M603 892h0M604.4 896.2h0M609 904.1h0M611 916.1h0M612.2 922.8h0M616.3 931.2h0M619.2 936.9h0M626 945.4h0M629.8 953.8h0M634 961.5h0M639.6 968.8h0M641.6 979.1h0M639.4 987.7h0M654 990.6h0M658.7 998.6h0M656 1007.8h0M652.4 1016h0M653 1025.5h0M652.9 1035.4h0M651.2 1045.2h0M654 1052.2h0M651.4 1063.5h0M645 1080h0M631.7 1088.5h0M629.4 1095.1h0M622.1 1099.8h0M616.5 1110.2h0M609.7 1114.6h0M606.5 1122.3h0M605.6 1129h0M599.1 1136.2h0M587.5 1140.1h0M584 1147.1h0M579.2 1153h0M561.2 1159.7h0M559 1169.8h0M544.2 1176.6h0M533.4 1178.2h0M529.6 1187.4h0M524.6 1192.1h0M517.2 1194.4h0M508.9 1193.1h0M501.9 1199.1h0M493.6 1199.5h0M487.5 1210.3h0M481.3 1207h0M464.5 1216.4h0M457.6 1216.5h0M451.2 1219.6h0M441.2 1224.9h0M433.8 1229.5h0M426.5 1228.9h0M412.4 1238.6h0M401.1 1237.7h0M395.7 1240.3h0M377.8 1241.8h0M367 1240.3h0M362.9 1234.2h0M351.7 1233.7h0M337.6 1227.8h0M326.4 1229.7h0M317.6 1225.4h0M305.4 1215.7h0M296.1 1214.6h0M290.9 1209.4h0M284.2 1198.9h0M276.7 1197.4h0M267.9 1193.8h0M265 1187.9h0M249.8 1177h0M245.1 1168.1h0M230.4 1160.3h0M221.7 1153.5h0M221.1 1147.4h0M208.7 1142.2h0M204.7 1138.1h0M201.3 1126.1h0M198.2 1118.3h0M192 1111.6h0M185.1 1104.9h0M179.9 1089.2h0M174.1 1078.9h0M177.2 1070h0M170.9 1062.2h0M176 1054.1h0M170.3 1044.4h0M169.1 1035.5h0M175.8 1015h0M176.2 1000.9h0M179.3 981.6h0M187.3 964.7h0M186 958.3h0M188.6 949.3h0M194.1 943h0M189.6 935.4h0M194.4 926.8h0M194.3 919.2h0M201.9 911h0M200.4 903.1h0M197.1 894h0M200.1 885.9h0M206.7 879.9h0M205.8 869.7h0M212.4 861.6h0M209.1 849.2h0M218.4 845.1h0M221 840.1h0M220.5 826.6h0M229.9 819.8h0M232.3 813.6h0M236.9 806.5h0M240.1 798.9h0M245.9 791.2h0M255.3 789.8h0M259.9 779.1h0M267.6 776.7h0M273.4 767.5h0M278.7 760.1h0M286.8 756.5h0M298.2 756.1h0M313 746.5h0M322.6 749.1h0M328.5 744.3h0M336.6 736h0M343.8 738.2h0M355.4 734.5h0M362 735.9h0M369.5 732.9h0M380.5 736.3h0M388.2 740.1h0M397.6 735.1h0M405.2 742.2h0M421.5 747.3h0M427.7 749.3h0M446.6 749.3h0M453.9 751.8h0M460.5 750.5h0M471 752.9h0M474.6 761.7h0M482.2 764.7h0M492.9 763.1h0M507.1 772.6h0M522.3 779.2h0M530.2 775.9h0M538.5 779.4h0M542.9 786.5h0M551.4 792.2h0M555.4 800h0M564.7 804.4h0M567 813.6h0M577.4 817.9h0M577.3 827h0M582.8 835h0M588.8 839.4h0M591.7 856h0M600.4 862.7h0M598.5 871h0M602.8 880.3h0M606.5 885.3h0M612.4 890.6h0M611.1 901.3h0M615.1 908.9h0M624.4 923.5h0M630.7 929.3h0M631.3 938.3h0M634.5 945.4h0M642.6 954.8h0M642.7 963.8h0M643.5 972.1h0M652.1 978.4h0M656.1 1073.7h0M618.5 967.7h0M613.9 962.2h0M657.5 937.9h0M610.1 1067.7h0M635 978h0M663.4 955.5h0M663.5 996.1h0M653.1 956h0M638.9 905.1h0M654.7 1009.9h0M629.9 1097.9h0M616.4 972.6h0M667.2 1055.8h0M660.4 887.3h0M629.9 1060.5h0M611.9 1008.6h0M655.1 971.7h0M652.4 1083h0M658.3 1129.2h0M631.3 1056.4h0M616.5 957.7h0M648.6 925.9h0M638.1 1049.1h0M662.9 1129h0M657.3 924.4h0M641.5 1068h0M628.5 1113.5h0M608.6 1004.1h0M659.1 1118.6h0M665.4 1022h0M642.4 1082h0M642.5 947.4h0M628.9 1008.8h0M609.4 883.6h0M650.4 1069.7h0M622.3 1011.5h0M643.8 1108.5h0M641.9 1057.6h0M649.5 1060.2h0M660.3 1112.1h0M666.7 992h0M608.2 1076.9h0M612.3 993h0M668.1 961.4h0M621.8 931.9h0M630 1037h0M617.4 936h0M614.6 958.9h0M614.2 1000.9h0M668.7 1000.7h0M632.5 928.1h0M616.4 923.5h0M647 1123.2h0M625.8 988.4h0M650 980.1h0M662.1 1023.2h0M656.9 1064.2h0M642.6 1111.6h0M629.8 953.7h0" stroke="#4a6fb0" stroke-width="2.4" fill="none" stroke-linecap="round"/>
<path d="M358 913.7h0M356.6 916.7h0M354.6 917.2h0M352.7 918.6h0M352.4 922.3h0M349.7 923.5h0M347.4 923.4h0M345.9 922.5h0M342.9 925h0M342.9 919.9h0M341.1 919.6h0M338.4 918.3h0M335.7 916.8h0M339.4 913.6h0M336.6 912.4h0M337.9 909h0M341.5 909.1h0M340.5 904.8h0M344.5 907h0M344.8 902.7h0M348 906.1h0M351.6 903.3h0M353.5 906h0M353 909.3h0M356.8 908.8h0M354.6 911.9h0M632.7 960.7h0M629.8 961.1h0M632.3 965.5h0M630.2 967.6h0M628.2 967.5h0M625.6 967.6h0M623.6 968.6h0M621.4 969.4h0M617.4 969h0M617.8 964.6h0M614.9 963.9h0M614.4 961.5h0M613.3 960.8h0M612.3 957.9h0M613.9 954.6h0M617.3 954.3h0M618.4 951.4h0M620.9 952.5h0M622.8 950.3h0M624.5 952.9h0M627.7 951.8h0M628 954h0M630.1 956.8h0M630.8 958.4h0M356.9 1164.3h0M357.5 1168.2h0M356.8 1169.1h0M354 1171.1h0M352.1 1172.5h0M350.8 1173.6h0M348.5 1172.2h0M345 1172.3h0M343.2 1171.7h0M342.7 1169.1h0M343.1 1166.7h0M342.8 1165.2h0M340.1 1161.4h0M343.5 1161.2h0M344.7 1159.3h0M345.9 1157h0M347.9 1156.1h0M349.9 1155.7h0M352.8 1156.8h0M353.9 1160h0M355.2 1160.9h0M357.9 1161.6h0M187.8 999.2h0M188 1001.7h0M185.8 1002.4h0M183.4 1003.9h0M181.5 1002.9h0M179.3 1002.7h0M177.4 1000.6h0M177.4 997.1h0M179.2 996h0M181.1 995h0M183.2 994.2h0M186.5 994.8h0M186.7 996.9h0M205.7 1054.3h0M206.8 1057h0M205.7 1058.5h0M202.4 1058.5h0M200.3 1058.8h0M197.7 1057.7h0M197.7 1054.7h0M196.6 1053.2h0M198.2 1050.5h0M200.4 1050.6h0M202.9 1049.6h0M205.3 1049.1h0M206.4 1051.3h0M283.9 1091.6h0M282.4 1094h0M282.1 1097h0M279.3 1097.5h0M276.7 1096.8h0M274.8 1095.7h0M274 1092.9h0M275.1 1090.9h0M275.6 1089.2h0M277.4 1086.8h0M279.5 1086h0M280.8 1088.7h0M282.3 1090.1h0M523.7 1000.3h0M524 1002.5h0M521.7 1003.9h0M519.5 1003.9h0M517.4 1002.5h0M516.2 1001.1h0M516.8 999.3h0M517 996.5h0M519.5 996.9h0M521.6 997.2h0M522.7 998.5h0M433.3 905.1h0M433.3 906.9h0M431.4 908.6h0M429.5 908.8h0M427.7 907.7h0M426.7 905.7h0M426 904.1h0M427 901.7h0M429 900.8h0M431.9 900.5h0M433.2 902.8h0" stroke="#4f7fc8" stroke-width="2.4" fill="none" stroke-linecap="round"/>
<circle cx="347" cy="914" r="2.5" fill="#1a2a4a"/>
<circle cx="623" cy="960" r="2.5" fill="#1a2a4a"/>
<circle cx="349" cy="1165" r="2.5" fill="#1a2a4a"/>
<rect x="488.5" y="1040" width="8" height="12" fill="none" stroke="#000" stroke-width="1.6"/>
<rect x="-4" y="-6" width="8" height="12" fill="none" stroke="#000" stroke-width="1.6" transform="translate(639 1064) rotate(-35)"/>
<path d="M74.7 687.1L80 676.5L85.3 687.1Z" fill="#a83232"/>
<circle cx="80" cy="708" r="5.3" fill="#a83232"/>
<circle cx="80" cy="732.7" r="5.3" fill="#4f7fc8"/>
<text x="94" y="687.1" font-size="23.5">GWAS variant in enhancer</text>
<text x="94" y="713.2" font-size="23.5">GWAS variant in promoter</text>
<text x="94" y="737.8" font-size="23.5">Target gene</text>
<line x1="400.2" y1="681.5" x2="414" y2="681.5" stroke="#000" stroke-width="1.8"/>
<path d="M419.6 681.5L411.5 677.3L411.5 685.7Z" fill="#000"/>
<line x1="400.2" y1="707.5" x2="406" y2="707.5" stroke="#888" stroke-width="1.6"/>
<path d="M410 707.5L404.5 704.6L404.5 710.4Z" fill="#888"/>
<line x1="411" y1="707.5" x2="415" y2="707.5" stroke="#888" stroke-width="1.6"/>
<path d="M419.6 707.5L414 704.6L414 710.4Z" fill="#888"/>
<text x="425.8" y="687.9" font-size="23.5">RIC-seq inferred regulation</text>
<text x="425.8" y="713.5" font-size="23.5">Linear connection</text>
<ellipse cx="1117" cy="782" rx="80" ry="76" fill="url(#gl_viral)"/>
<ellipse cx="1262" cy="770" rx="52" ry="49.4" fill="url(#gl_hep)"/>
<ellipse cx="1390" cy="806" rx="52" ry="49.4" fill="url(#gl_imm)"/>
<ellipse cx="1008" cy="955" rx="118" ry="112.1" fill="url(#gl_cancer)"/>
<ellipse cx="1440" cy="940" rx="58" ry="55.1" fill="url(#gl_diab)"/>
<ellipse cx="1447" cy="1052" rx="55" ry="52.2" fill="url(#gl_sen)"/>
<ellipse cx="1037" cy="1093" rx="50" ry="47.5" fill="url(#gl_hif)"/>
<ellipse cx="1154" cy="1177" rx="48" ry="45.6" fill="url(#gl_thy)"/>
<ellipse cx="1328" cy="1158" rx="100" ry="95" fill="url(#gl_neuro)"/>
<ellipse cx="1228" cy="975" rx="235" ry="225" fill="url(#hhaze)"/>
<path d="M1046 1114L1107 763M1231 1061L1058 1088M1451 943L1026 1086M1028 1077L1347 1187M1040 961L1353 1122M1248 1049L1164 1176M1438 1039L1290 1182M1257 1059L1437 1081M1051 946L1363 1139M1119 778L1134 1167M1014 972L1266 998M1275 1179L1053 1109M1119 778L1420 940M1445 1068L1369 802M1026 1100L1364 1164M1008 1010L1153 1181M1473 1042L1247 765M1281 1164L1027 1068M1326 1137L1391 799M1146 1015L1355 1182M1434 945L1175 1177M1048 1072L1315 1193M1125 812L1473 1042M1015 1100L1420 940M1235 1020L1456 1064M1218 926L1265 784M1394 775L1262 1061M1208 964L1133 740M1348 1152L1134 1167M1215 922L1286 1158M1212 944L1015 1100M1193 893L1441 957M995 928L1156 1169M1355 1158L1244 787M1437 1023L1019 1092M1322 1169L1142 1174M1394 775L1142 1174M1434 945L1156 1169M1170 908L1035 1104M1140 736L1445 949M1254 979L1447 935M1442 943L1019 1092M1068 796L1311 1150M1462 945L1105 813M1287 951L977 934M1120 744L1464 1061M977 912L1046 1114M1245 1004L1019 1092M1278 767L1266 998M1250 946L1004 934M1021 960L1115 770M1086 769L1364 822M1462 945L1105 813M1322 1169L1063 813M974 1003L1446 1043M1418 800L1134 772M1462 945L1093 785M1119 778L1406 820M1039 1119L977 950M1252 1021L1142 1165M1282 1141L1449 955M1271 1015L1167 1167M1134 1167L1446 1079M1153 1181L1412 789M1069 818L1352 1144M1451 943L995 989M1164 1176L1447 935M1156 760L1371 1150M1445 1068L1244 1025M1348 1131L1413 821M1302 1131L1466 1046M1406 812L1354 1169M1055 1079L1430 1065M1256 759L1456 951M1247 963L1156 1169M1015 916L1307 1158M1272 929L1056 979M1155 966L1079 816M1437 1023L1110 819M1104 772L1237 764M1252 787L1027 934M1046 927L1433 921M1364 1164L1233 885M1173 1043L1156 1169M955 949L1157 1161M1305 894L1272 752M1300 946L1015 1100M1051 985L1449 1023M1344 1116L1261 793M1166 1158L1328 1157M1014 972L1311 1150M1314 954L1026 1086M1272 752L968 995M1210 1006L1035 1104M1275 1011L1130 1175M1256 768L1473 1042M1452 923L1235 775M1466 1073L1161 1021M1235 775L1399 782M981 974L1141 1186M1352 1144L1175 1177M1298 951L1247 765M1112 749L1311 1137M1034 1090L1287 968M999 915L1390 833M1166 929L1326 1137M1130 936L1420 940M1243 866L1429 1054M1138 802L1235 775M1184 1027L1134 1167M1457 930L1167 745M1433 921L1362 813M1020 1110L1462 945M1164 1176L1434 945M1134 1167L1458 1031M1244 1047L1101 780M1439 1072L1244 787M1350 1085L1034 1090M1247 765L1107 763M1271 791L1026 1100M1110 787L1167 1167M1003 1017L1420 940M1027 1068L1086 769M1030 959L1430 1065M1133 740L1230 1032M1434 959L1339 1129M1133 986L1420 940M1434 1048L1322 1054M1281 957L1316 1179M982 903L1142 1174M1035 927L1469 1035M1032 1113L1422 1061M1271 791L1035 916M1213 1033L1105 754M1451 943L1381 782M1215 925L1393 789M1093 785L1456 1080M1120 744L1292 1052M1383 816L1462 945M1027 1068L1139 1158M1163 763L1459 1042M1079 816L1369 785M1168 952L1056 967M1202 984L1427 953M1239 1043L1283 758M1244 787L1420 950M1272 957L1406 812M1393 789L1466 1073M1379 828L1261 988M1163 763L1433 921M1394 775L984 964M1129 778L1350 1197M1460 937L1413 821M1452 923L983 1000M1251 748L1125 812M1237 764L1308 1170M1027 1068L1376 1161M1102 789L1278 767M1186 952L1406 820M1322 1128L1130 1175M1254 777L1167 745M1304 1120L1180 1041M1358 1193L1142 1174M1166 1158L1347 1187M1327 975L1452 923M1305 894L1134 1167M1471 1063L1240 1031M1352 1144L1048 976M1458 1031L1420 940M1445 949L1393 789M1214 889L1323 1120M1058 1088L1340 1199M1316 979L1419 931M1008 909L1427 924M1118 760L1434 1048M1235 775L1175 1177M1237 764L1420 950M1167 1183L1237 764M1037 1068L1141 1186M1434 959L1361 1123M1198 970L1028 949M1063 813L982 903M1167 1183L1125 812M1123 995L1096 818M1444 1032L1451 943M1030 898L1145 764M1257 1059L1287 769M1280 781L1308 986M1431 1077L1138 802M1278 767L1164 1176M1281 1164L1326 1027M1455 1056L1245 925M1134 1167L1265 784M1167 1183L1247 765M1350 1197L1464 1061M983 1000L1107 763M1390 833L1050 1096M1008 909L1224 1006M1352 1144L1466 1046M1236 914L1134 1190M1440 1060L1350 1197M1026 1009L1451 943M1306 1197L1439 1072M1446 1079L1039 1119M1307 1179L1142 1174M1384 805L1004 1001M1333 1191L1003 944M1456 951L1175 1177M1007 977L1320 1200M1193 884L1026 1100M1455 1056L1254 777M1026 1009L1163 763M1205 1023L1419 931M1157 1021L1252 787M1047 967L1441 957M1434 945L1252 1021M1217 910L1439 1072M1177 899L1377 811M1058 1088L1379 828M1003 986L1473 1042M1110 819L1136 1180M1156 1169L1247 963M1256 768L1141 955M1125 757L1050 1096M1314 1126L1381 782M1441 957L1046 1114M1167 1050L1446 1079M1202 1078L1098 765M977 934L1164 1176M1418 800L1460 937M1283 982L1399 799M1224 1039L1016 1080M999 1009L1247 765M1144 772L1184 975M1361 1123L1174 1190M1281 1164L1199 1051M1050 957L1157 783M1240 1031L1256 759M1462 945L1050 1096M1101 780L1441 957M1283 758L1174 1190M1063 813L1456 1064M1437 937L1028 1077M1430 1065L1300 978M1046 1114L1144 772M999 915L1175 1177M1283 1150L1037 1068M1316 1179L1028 949M1137 995L1015 1100M1202 984L1156 1169M1193 884L1119 778M1137 760L1030 959M1382 796L1182 1076M1206 878L1167 1167M1032 1113L1462 945M1042 992L1339 1129M1026 1100L1134 1190M1447 1054L1047 936M1442 943L1247 765M1460 937L1105 754M1133 740L996 997M1377 1181L1169 880M1176 970L1430 1065M1261 988L1466 1073M1265 784L1129 778M1427 953L1454 1072M1166 1047L1039 949M1456 1080L1451 943M1133 740L1427 924M1148 1157L1353 906M1406 820L1221 1036M1244 753L1462 945M1318 938L1464 1061M1115 770L1434 959M1273 886L1467 1054M1134 1167L1445 949M1451 1037L1142 1165M1039 973L1086 769M1279 907L1035 1104M1020 1110L1004 934M1369 802L1160 740M1308 1170L1196 1061M1178 993L1456 951M1125 812L1130 1175M1447 1054L1280 781M1434 945L1147 782M1270 761L1454 1072M1092 806L1251 748M1127 787L1422 1049M1431 931L1118 760M1202 977L1282 1141M1015 916L1148 1157M1315 1193L1048 1072M1369 785L1181 947M1397 827L1227 1067M992 941L1020 1110M1167 1167L1469 1035M1166 1158L1419 931M1046 1104L1273 1030M1469 1035L1010 897M1148 1157L1434 945M1167 1183L1452 923M1327 1176L1055 1079M1020 1110L1427 953M1034 1090L1466 1046M1163 763L1156 1193M1204 988L983 1000M1442 924L1364 1179M1040 1097L1379 828M1455 1056L1165 771M1256 759L1311 1137M1118 786L1046 1104M1210 1006L1075 825M1125 812L1418 800M1419 931L1369 785M1383 816L1317 1077M1439 1072L1256 768M1115 770L1449 955M1164 1176L966 952M1153 1181L1053 1109M994 960L1442 924M1147 1197L1418 800M1125 800L1434 959M1040 1097L1361 1123M1153 1181L1027 934M1141 1186L1434 1048M1026 1086L1384 805M1272 752L1086 780M1348 1131L1141 1186M1252 787L1471 1063M1256 759L1254 979M1447 1054L1340 1191M1456 951L1412 789M1314 1126L1153 1181M1427 953L1270 1054M1134 1190L1149 741M1191 944L1093 785M1437 1081L1108 778M1166 1007L1382 796M1274 896L1405 830M1247 908L1256 768M1177 945L1432 1031M1361 1123L1254 777M1227 998L1434 1048M1144 772L1019 1092M1442 943L1042 992M1107 763L1328 1157M1283 1150L1110 819M1164 1176L1381 782M1155 911L1377 1181M1022 942L1093 785M1444 1032L1247 765M1420 940L995 951M1075 781L1028 972M1308 976L1134 1190M1374 792L1459 1042M1460 937L1016 1080M1188 1046L1384 1142M1235 775L1197 1025M1272 752L1013 940M1223 1029L1030 959M1139 946L1157 1161M1256 768L1434 1048M1164 1191L1008 1010M992 910L1142 1165M1181 1000L1290 1182M1008 995L1391 799M1242 948L1130 1175M1419 931L1412 789M1145 764L1420 940M1243 866L1020 1110M1224 1039L1422 1049M984 989L1270 761M1231 976L1079 775M1441 957L1308 1170M1058 1101L1412 789M1217 874L1382 796M1151 1019L1446 1043M1431 931L1185 1050M1457 930L1382 1174M1251 748L1437 1023M1265 784L1032 1113M1026 1086L1265 772M1141 1186L1456 951M1134 967L1334 1141M1243 779L1274 1076M1132 948L1412 789M1349 1091L1388 1165M1369 785L1302 1131M1322 1054L1256 768M1261 1022L1237 764M1432 1031L1153 1181M1256 768L995 967M1455 1056L1270 761M1153 1181L1167 754M1285 923L1164 1191M1430 1065L1283 758M1249 1059L1434 959M1119 778L1309 1056M1281 1052L1418 800M1272 929L1390 833M1280 781L1286 1158M1282 1141L1437 1023M1460 937L1020 950M1076 790L1258 868M1220 973L1287 769M1286 1158L1391 799M1466 1046L1290 1170M1050 1096L1272 1005M1326 959L1039 949M1362 813L1136 1180M1063 813L1246 915M1293 1138L1138 784M1156 1169L1430 1065M1016 1080L1368 1188M1447 1054L1174 1190M1442 924L1028 988M1297 1058L1434 945M1286 1158L1280 781M1456 1080L1252 787M1275 1041L1399 782M1460 937L1125 757M1420 950L1027 1068M1247 908L1451 943M1401 790L1084 807M1442 924L992 910M1019 1092L1118 786M1174 1190L1237 764M1053 1109L1199 915M1004 1001L1447 935M1027 998L1370 816M1311 1150L1053 1109M1383 816L1020 1110M1374 792L1446 1079M1200 947L1419 931M1281 892L1452 923M1207 1056L1142 1174M1086 780L1037 1068M1046 1104L1256 759M1164 1191L1032 1113M961 975L1406 812M1244 1024L1427 924M1306 1197L1167 1050M1058 1088L1434 945M1032 1113L1156 772M1374 792L1139 1158M1367 1129L1414 810M1142 1165L1414 810M1141 1042L1440 1060M1364 1179L1252 787M1419 931L1289 989M1044 1082L1262 749M1140 736L1449 955M1028 1077L1382 796M1431 931L1282 1141M1427 953L1049 916M1055 1079L1459 1042M1177 945L1019 994M1286 954L1079 816M1176 926L1176 1167M1438 1039L1035 1104M1046 1104L1405 830M1198 970L1445 1068M1252 787L1422 1061M1252 787L1413 821M1271 791L1437 1081M1262 749L1211 975M1433 921L1134 772M1324 1088L1042 992M1446 1079L1420 940M1153 1181L1419 931M1227 998L1244 787M1130 1175L1412 789M1234 972L1251 748M1176 1167L1441 957M1039 1119L1049 916M1449 955L1013 940M1305 968L999 915M1163 941L1175 1177M1192 930L1458 1031M1167 1183L966 918M1374 792L1032 1113M1165 889L1286 1158M1444 1032L1287 769M1168 952L1278 767M1244 753L1394 775M1432 1031L966 952M1331 1119L1467 1054M1164 1191L1364 822M1283 1176L1035 1104M972 942L1439 1072M1156 1193L1295 1155M1287 769L989 1010M1167 1183L1439 1072M1125 800L1471 1063M1277 984L1464 1061M1287 769L1021 908M1164 1017L1119 778M1262 749L1471 1063M1157 1161L1406 812M1280 781L1164 1176M1020 950L1284 1014M1213 997L1069 818M1451 1037L1287 769M1246 958L1166 1158M1180 906L1322 1128M1039 1119L1050 957M1184 973L1444 1032M1283 1176L1164 1176M966 968L1391 799M1445 1068L1040 1002M1235 775L1081 800M1427 953L1004 934M1399 799L1157 783M1263 1079L966 968M1427 953L1244 787M1469 1035L1319 1159M1244 1047L1157 1161M1377 1144L1147 782M1322 1185L1130 1175M1168 952L1243 779M1275 1011L1434 945M1362 813L1244 787M1318 1093L1383 816M1151 1019L1015 1100M1012 930L1331 1169M1451 1037L1051 985M1391 799L1118 760M1053 1109L1069 818M1173 928L1134 1190M1167 754L1418 800M1281 892L1456 951M1147 1197L1032 1113M1294 890L1442 924M1086 780L1427 953M1237 764L1427 924M1419 931L1252 787M1191 962L1270 761M1271 791L1125 812M1235 775L1274 1169M1004 934L1125 800M1157 1161L1046 1114M1331 1132L998 899M1133 986L1164 1191M1449 955L1184 973M1202 977L1019 1092M1265 772L1316 1179M968 995L1202 906M1251 748L1364 822M1151 1003L1156 1193M1462 945L1160 740M1047 936L1116 793M1445 1068L1039 1119M977 994L1167 1183M1393 817L1105 754M1167 1183L989 1010M1235 931L1134 1190M1247 765L1406 812M1003 944L1130 1175M1182 1004L1283 758M1107 763L1269 1146M1449 955L1394 775M973 959L1256 768M1137 977L1397 827M1115 770L1431 931M1271 1015L1028 988M1182 1004L1108 778M1369 802L1044 1082M1459 1042L1287 769M1281 957L1441 957M1129 943L955 949M1434 959L1331 1132M1042 908L1046 1104M1336 983L1028 972M1187 987L1135 792M1371 1150L1456 951M1254 960L1374 792M1004 924L1427 953M1319 996L977 994M1451 943L1049 916M1037 1068L1049 916M1327 1176L1141 1042M1406 820L1460 937M1164 1176L1390 833M1364 822L1026 1100M1179 1032L1377 811M1027 1068L1166 1158M1434 945L1020 1110M1377 1181L974 1003M1422 1061L1170 970M1032 1113L1244 1025M1167 1183L1269 1146M1280 781L1156 1169M1140 736L1174 1190M1019 1092L1252 787M1016 1080L1147 1197M1256 759L1166 1158M1247 765L1390 833M1095 772L1284 1014M1026 1009L1391 799M1055 1079L1176 1167M1445 949L1315 1116M1286 1158L1136 1180M1046 1114L1129 778M1247 908L1287 769M1207 977L1449 1023M1027 1068L1300 1145M1422 1061L1146 752M1265 784L1020 1003M1326 1137L1142 1165M1379 828L1147 782M1050 1096L1184 874M1431 931L1239 1043M1209 992L1153 1181M1154 941L1011 985M1254 777L1316 979M1251 748L1167 1183M1224 924L1020 1110M1283 758L1053 1109M1374 792L1055 1079M1166 1158L955 949M1140 736L1322 1185M1399 799L1251 748M1466 1073L1270 761M1204 988L1405 830M1308 976L1437 1081M1199 1069L1412 789M1315 1042L1138 802M1044 1082L1164 1176M1167 1167L1369 802M1354 1169L1190 888M1442 924L1275 1154M1123 995L1429 1054M1102 789L1021 925M1130 1175L1360 1147M1427 924L1426 1037M1268 1162L1369 785M1109 797L1314 1165M1055 1079L1129 778M1270 761L1015 1100M1118 760L1341 961M1046 927L1420 950M1386 1155L1278 767M1434 945L966 952M1117 815L1194 1035M1174 1190L1406 812M1139 1158L1235 1085M1447 1054L1335 1178M1334 1141L1148 1157M966 952L1399 782M1142 1174L1191 1067M1164 1176L1256 759M1021 960L1028 1077M1445 949L992 941M1369 785L1254 777M1420 950L1231 1061M1434 1048L1053 1109M1252 935L1331 1169M1430 1065L1141 1186M1184 990L1434 959M1035 1104L1133 740M1256 759L1419 931M1244 753L1058 1101M1020 950L1050 1096M1437 1081L1405 830M1396 809L1323 1120M1102 825L1328 1157M1451 943L1287 1097M1166 1158L1075 781M1444 1032L1016 1080M1122 766L1464 1061M1401 790L1261 793M1039 1119L1287 769M1320 957L1084 788M1204 949L1136 1180M1384 805L1115 770M1263 1079L1256 759M1265 999L1237 764M1217 874L1471 1063M1287 769L992 941M1137 951L1165 771M1300 978L1370 816M1412 789L1098 765M1141 966L1122 766M1187 987L1125 800M1464 1061L1055 1079M1234 1076L1110 819M1019 1092L1438 1039M1272 752L1166 1158M1383 816L1079 816M1409 801L1311 1137M1174 1190L1396 809M1307 1179L1149 741M1019 1092L1384 1142M1204 1063L1019 994M1406 812L1020 950M1376 1161L1440 1060M1142 1174L1271 791M1053 1109L1396 809M1125 800L1247 765M1015 1100L1164 1191M1265 784L1026 1086M1319 996L1028 1077M1235 775L1319 1159M988 898L1026 1086M1471 1063L1342 1174M1256 972L1134 1190M1169 1044L1270 761M1353 1122L1437 1023M1160 740L1307 1179M1348 1152L1164 1176M1058 1088L1135 792M1282 940L1452 923M1198 886L1464 1061M1245 937L1274 1169M1034 1090L1399 782M1155 939L1447 1054M1243 866L1396 809M1204 988L1247 765M1092 806L995 928M1063 813L1049 916M1144 772L1133 986M1198 970L1032 1113M1456 1064L1300 1145M1384 805L1268 1162M1221 1093L1156 1193M1414 810L1156 1169M1237 764L1460 1051M1157 988L1270 761M1273 992L1023 917M1142 1174L1420 950M1174 1190L1283 758M1272 752L1134 1190M1054 925L1166 1158M1458 1031L1091 795M1293 1138L1016 1080M1455 1056L1364 822M1371 1150L1105 813M1252 787L1460 1051M1207 977L1393 789M1262 749L1176 1167M1291 1148L1382 796M1422 1061L1110 819M1268 981L1053 1109M1406 820L1283 982M1027 1068L1109 797M1238 878L1084 807M1355 1158L1237 764M1283 991L1405 830M1420 950L1193 956M1300 946L982 903M1331 1119L1134 1167M1431 1077L1142 1165M1459 1042L1271 791M1433 921L1432 1031M1244 1082L1342 1174M1399 782L1430 1065M1452 923L1396 809M1134 1167L1271 791M1053 1109L1467 1054M1322 1128L1287 769M1182 1061L977 924M1273 1030L1155 750M1118 760L1298 1036M1274 1063L1015 1100M1163 763L1460 1051M1467 1054L1368 1188M1012 1002L1139 1158M1016 1080L1383 816M1442 924L1174 1190M1105 813L1176 1167M1460 937L1216 967M1116 793L1466 1073M1235 907L1265 772M1176 926L1004 1001M1446 1043L1165 889M1399 799L960 939M1440 1060L1420 950M1214 889L1464 1061M1102 825L1320 1144M1021 908L1226 952M1355 1182L1050 957M1372 1136L1449 955M1130 1175L962 927M1337 993L1040 1097M1274 1169L1105 754M1223 889L1451 943M1294 1005L977 950M1381 782L1447 935M1167 1183L1265 784M1176 1167L1360 1147M1466 1073L1121 954M1193 956L1156 760M1136 1180L966 968M1016 1080L1237 764M1357 1036L1422 1061M963 987L1434 945M973 959L1026 1086M1300 978L1004 1001M1348 1152L1157 1161M1015 1100L1287 769M1167 1183L1179 917M1256 941L1032 1113M1462 945L982 903M1427 953L1254 777M1440 1060L1251 748M1413 821L1420 950M1414 810L1338 1157M1471 1063L1287 769M1142 1021L1166 1158M1372 1136L1027 1068M1320 1144L1458 1031M1256 759L1409 801M1384 805L1444 1032M1274 971L1262 749M1192 872L1055 1079M1379 828L1040 1097M1437 937L1213 881M1370 816L1322 1169M1294 890L1369 802M1039 973L1235 775M1289 989L1394 775M1379 828L1104 772M994 960L1053 1109M1251 748L1418 800M1216 967L1401 790M1399 799L1289 1023M1280 781L1086 780M1026 1009L1015 1100M1393 789L1466 1073M961 975L1445 1068M1235 775L1253 875M1063 813L1369 802M1093 785L1459 1042M1189 898L1176 1167M1377 811L1125 800M1452 923L1377 811M1251 748L1322 1185M1144 790L1157 1161M1134 772L1261 793M1141 955L1015 916M1237 764L1069 818M1254 960L1167 745M1127 787L1419 931M1282 1141L1069 818M1311 1137L1434 945M1434 945L1396 809M1311 1150L1420 950M1383 816L1333 1191M1283 758L1166 1158M1176 1044L1384 805M1449 955L1342 1182M1251 962L1272 752M1258 1035L1455 1056M1454 1072L1338 1157M1016 1080L1170 908M1063 813L1379 828M1247 765L968 995M1027 1068L1256 759M1457 930L1322 1185M1148 1157L1459 1042M1015 1100L1473 1042M1220 881L1427 924M1281 1062L1442 924M1433 921L1340 1191M1050 1096L1110 819M1156 1193L1406 820M1058 1101L1401 790M1058 1101L1238 878M1240 894L1362 813M1369 785L1035 1104M1292 982L1156 1169M1254 960L1127 747M1449 955L1032 1113M1040 1097L1273 886M1028 972L1148 1157M1026 1100L1444 1032M1345 1166L1166 929M1231 1012L1039 949M1328 1199L1035 1104M1008 909L1442 924M977 912L1326 1137M1026 1086L1283 982M1130 765L1042 992M1414 810L1262 749M1440 1060L1211 975M1393 817L1444 1032M1251 748L1040 1002M1451 943L1348 1152M1040 1097L1118 786M1046 927L1146 752M1307 1158L1437 937M1406 820L1252 787M1422 1061L1109 797M1246 1040L1146 752M1019 1092L1466 1073M1104 772L1308 997M973 959L1251 748M1401 790L1294 942M1345 1140L1020 1110M1302 1131L1272 752M1254 777L1335 976M1457 930L1364 1164M1413 821L1271 791M1457 930L981 1008M1452 923L1355 1182M1460 1051L1016 1080M1193 884L1274 1169M1432 1031L1100 802M1028 949L1174 1190M1451 943L1446 1079M984 989L1364 822M1281 957L1281 1164M970 978L1053 1109M1039 1119L1426 1037M1319 1159L1053 1109M1039 973L1265 784M1427 953L1382 1174M1134 1167L1034 1090M1422 1049L1434 945M1046 927L1254 777M1076 790L1039 1119M1377 811L1058 1088M1021 908L1321 1007M1439 1072L1442 943M1161 1021L1101 780M1279 1026L1406 812M1283 1150L1125 812M1278 767L1160 1039M1116 793L1446 1043M1262 749L1076 790M1445 1068L1268 1162M1261 793L999 1009M1377 1181L1364 822M1422 1049L1040 1097M1160 740L1003 1017M1359 1131L1397 827M1420 950L1286 1000M970 928L1020 1110M1176 915L963 987M1166 1158L1046 1104M1303 928L1434 1048M1413 821L1439 1072M1130 1008L1051 946M1251 962L1034 1090M1230 1032L1272 752M1160 740L1459 1042M1431 1077L1050 1096M1290 1170L1130 1175M1068 796L1457 930M1199 915L1142 1165M1130 1175L1405 830M1282 1141L983 943M1306 1197L1431 931M1184 1027L1413 821M1434 959L1287 769M1274 1063L1280 781M1451 943L1046 1114M1051 946L1144 772M1199 1041L1055 935M1244 753L1298 951M1412 789L1056 979M1397 827L1447 1054M1285 951L1164 1191M1142 1165L1059 950M1353 906L1032 1113M1058 1101L1369 785M1217 1062L1290 1170M1037 1068L1147 1197M1326 1137L1035 916M1109 797L1405 830M1153 1181L1399 782M1130 1175L961 975M1084 807L1361 1123M1048 1072L1265 772M1055 1079L1086 780M1174 1190L1262 749M1223 1029L1422 1049M1261 793L1334 1141M1283 991L1434 959M1445 1068L1431 931M1182 1032L1420 950M1449 955L1437 1081M1469 1035L1365 1155M1157 783L1242 948M1223 942L1167 1167M1439 1072L1363 1139M1137 977L1040 1097M1256 1073L1399 799M1364 822L1035 916M1422 1049L1300 1163M1340 1199L977 912M1245 988L1167 1183M1032 1113L1075 825M1155 939L1413 821M1414 810L1433 921M1053 1109L1469 1035M995 967L1256 768" stroke="#c8c8c8" stroke-width="0.6" fill="none" opacity="0.5"/>
<path d="M1233.6 966.8h0M1213 881.7h0M1129.7 943.1h0M1214.9 894.1h0M1285.9 923.2h0M1171 908.7h0M1215.6 922.4h0M1327.1 975.8h0M1282.7 927.5h0M1260.2 976.3h0M1177.2 1009.8h0M1182.6 1076h0M1300.2 978.1h0M1226.8 1082.8h0M1260 1011.5h0M1132.1 948.7h0M1242.1 984.1h0M1211 1006.9h0M1193.6 893.2h0M1318.2 1093.2h0M1212.6 944.6h0M1326.3 1027.5h0M1221.4 1093h0M1199.7 1069.2h0M1210.7 1027.5h0M1330.4 1064.5h0M1350.6 1085.3h0M1322.6 1054.4h0M1352.6 904.6h0M1324.8 1088.3h0M1179 917.4h0M1318.6 1032h0M1176.6 970.9h0M1203.1 893.3h0M1301 1083.7h0M1312.5 1026.3h0M1318.3 1081.3h0M1304.8 937.1h0M1315.8 949.6h0M1333.7 998.7h0M1211.3 975.8h0M1332.9 1004.1h0M1189.2 908.1h0M1292.1 1042.4h0" stroke="#d0d0d0" stroke-width="4" fill="none" stroke-linecap="round"/>
<path d="M1223.3 889.2h0M1191.1 1067.9h0M1283.2 876.6h0M1287.3 968.3h0M1256.2 972.1h0M1174.2 1069h0M1272.6 957.7h0M1273.3 886.4h0M1277.4 918.5h0M1282.7 940.5h0M1310.2 899.3h0M1316.3 979.8h0M1293.2 1013.7h0M1322 949.6h0M1157.6 988.7h0M1144.8 976.1h0M1184.1 874.2h0M1155.5 1026.9h0M1206.6 878.3h0M1243.4 924.6h0M1283.5 982.9h0M1257.7 1059.4h0M1201.1 1010.1h0M1308.8 986.8h0M1298.5 1028.7h0M1240.7 894.3h0M1198.2 950.2h0M1257.6 884h0M1272.4 929.3h0M1281.1 1052.3h0M1191.4 919.4h0M1173.2 1059.6h0M1176.4 1045h0M1179.7 1032.7h0M1213.5 1033.8h0M1225.3 966.4h0M1281.1 972.3h0M1197.3 1025.6h0M1312.3 945h0M1316.7 1027.5h0M1230.7 1032.3h0M1174.2 936.8h0M1232.9 1026.4h0M1258.3 1035.7h0M1250.3 946.7h0M1315.7 1042.5h0M1312.6 1006.9h0M1327 1017.8h0M1243.4 866.7h0M1261.1 964.5h0M1219.3 1042.3h0M1262.6 1019.7h0M1139.5 946.8h0M1221.5 1036.5h0M1228.8 1070.2h0M1290.7 920.3h0M1260.2 1053.9h0M1163.1 1038.5h0M1247.9 908.6h0M1243.1 916.5h0M1239.4 1043.6h0M1323.3 1034.2h0M1226.8 982.3h0M1245.6 1004.6h0M1268.4 971h0M1278.2 1002.7h0M1314.5 955h0M1235.4 1020.2h0M1198.1 898.9h0M1281.3 1062.2h0M1179.1 984.9h0M1325.8 997.9h0M1256.5 1073.8h0M1305.2 954h0M1207.4 977.5h0M1191.2 998h0M1295.2 906.8h0M1308 1039.4h0M1152.1 1039.5h0M1195.7 1080.9h0M1195.7 1047.3h0M1189.7 898.5h0M1151.8 1019.6h0M1245.7 958.7h0M1274.6 1076.9h0M1170.3 965.7h0M1151.7 1003.3h0M1320 1019.9h0M1244.6 1025.9h0M1183.3 913.3h0M1274.4 971.4h0M1273.3 992.6h0M1165.1 911.5h0M1300.1 946.2h0M1252.9 1021.6h0M1176.1 915.3h0M1208.5 984h0M1185.1 891.6h0M1225.3 1010.6h0M1207.3 1076.2h0M1341 961.1h0M1273.5 1012.4h0M1216.7 967.6h0M1198.5 939.8h0M1206.3 900.2h0M1248.6 1049.9h0M1194.3 905.2h0M1160.4 960.8h0M1173.5 928.9h0M1166.9 929h0M1250.5 1055.5h0M1152.5 994.8h0M1267.7 905.4h0M1290 989.7h0M1298.9 951.8h0M1289.7 1023.2h0M1190.6 888.7h0M1165.8 889.9h0M1277.4 984.3h0M1303.5 928.2h0M1199.4 915.4h0M1222.3 957.5h0M1205.1 1060.9h0M1319.6 989.2h0M1182.2 1061.7h0M1267.3 1034.7h0M1204 883.7h0M1218.8 1074.3h0M1143.2 1035.1h0M1274.2 1064h0M1329.1 1006.1h0M1185.4 1041h0M1121.2 954.6h0M1242.1 1015.9h0M1202.3 906.5h0M1304.8 922.3h0M1297.1 1058.1h0M1192.3 872.3h0M1318 938.3h0M1244.3 1082.2h0M1289 881.8h0M1152.2 963.2h0M1280.8 1041.1h0M1142.6 1021.1h0M1160.1 975.3h0M1146.4 994.5h0M1196.8 1061.1h0M1204.7 988.5h0M1166 1047.3h0M1252.4 935.3h0M1226.6 1040.2h0M1300.4 894.7h0M1279.4 907.8h0M1178.9 993.2h0M1320.2 957.3h0M1250.8 894.5h0M1319.6 996h0M1157.3 1021.3h0M1139.1 996.2h0M1208.4 1066.5h0M1225 924.6h0M1141.3 955h0M1326.6 924.6h0M1323.1 1026.6h0M1231.9 976.4h0M1137.1 924.3h0M1136 957.9h0M1205.4 870.5h0M1170.9 1035.9h0M1281.8 957.3h0M1225.5 1056.7h0M1238.5 878.6h0M1163.9 941.4h0M1136.4 937.4h0M1311.8 933.4h0M1262.7 957h0M1187.1 987.8h0M1218.4 1080.9h0M1228.4 915.7h0M1130.3 936.2h0M1190 1031.9h0M1158.8 1033.4h0M1146.7 1015.1h0M1333.1 932.9h0M1209.6 992.3h0M1283.3 991.1h0M1294.9 942.5h0M1187.4 1009.1h0M1327.1 953h0M1224.8 1064.2h0M1224.5 1000.3h0M1168.7 952.3h0M1223.2 1029.8h0M1262.3 991.5h0M1337.4 993.9h0M1263.5 1079h0M1279.5 1026.2h0M1306.5 911.4h0M1317.8 1077.3h0M1326.6 886h0M1246.1 915.8h0M1202.8 1078.5h0M1194.4 1035.7h0M1173.7 1043.1h0M1309.7 1056.1h0M1261.8 1022.7h0M1279.2 1059.3h0M1201.2 977.4h0M1231.7 1064.2h0M1353.8 906.1h0M1214.7 889.2h0M1289.8 1057.6h0M1350.1 959.7h0M1263 1061.5h0M1275.5 897.2h0M1287.1 1097.3h0M1192.6 1007.2h0M1228.4 1075.6h0M1298.8 1069.8h0M1248.4 1045h0M1348.5 1050.9h0M1357 1036.5h0M1218.5 885.1h0M1351.5 959.7h0" stroke="#d0d0d0" stroke-width="5" fill="none" stroke-linecap="round"/>
<path d="M1271 1054.5h0M1292.5 982.2h0M1130.5 976.6h0M1249.4 915.4h0M1190.5 933.8h0M1262.2 889.8h0M1235.9 1085.5h0M1265.5 999h0M1177.1 945.9h0M1186.3 952.9h0M1234.6 1076.5h0M1127.3 965.4h0M1184.1 1027.4h0M1274.7 1033h0M1213.3 998h0M1241.8 1063.5h0M1197.3 1071.3h0M1224.6 989.7h0M1269.7 892.1h0M1214 938.1h0M1233.9 1002.7h0M1259.6 946.1h0M1135 967.6h0M1233.3 885.5h0M1308.4 997.4h0M1197.4 983.1h0M1298 1036.9h0M1214.7 948.9h0M1205.7 1023h0M1258.6 869h0M1175.5 970.4h0M1231.8 1061.1h0M1254.8 994.3h0M1317.3 1013.8h0M1335.3 976.7h0M1163.6 1001.2h0M1155.5 911.6h0M1207.7 1050.6h0M1274.5 896.6h0M1150.5 940.2h0M1247.4 878.4h0M1231.5 1012.2h0M1201.7 933h0M1272.7 939.9h0M1184.4 973.9h0M1240.8 1031.4h0M1177.9 899.4h0M1120.6 985.1h0M1171.4 1002.3h0M1294.3 890.5h0M1138.4 980.3h0M1191.2 945.2h0M1196.8 878.7h0M1284.2 1014.1h0M1305.5 968h0M1217.6 874.6h0M1199.9 1042h0M1245.7 932.9h0M1336.4 983.3h0M1326.8 959.9h0M1259.2 1067h0M1294.5 934.1h0M1220.3 881.7h0M1134 986.2h0M1180.1 906.1h0M1217.9 910.1h0M1292.4 1052.9h0M1253.4 875.6h0M1235.1 907.3h0M1256.7 1082.2h0M1136.7 1005.8h0M1281.3 892.2h0M1244 998.5h0M1185.7 1050.9h0M1222.5 916.2h0M1251.9 1043.1h0M1205.8 890.8h0M1141.5 1042.1h0M1167.3 1025h0M1151.8 970.6h0M1142.5 907.5h0M1244.3 1038.1h0M1285.6 951.6h0M1193.8 884.4h0M1264.3 1084.7h0M1289.3 1012.4h0M1214.7 1094.8h0M1319.5 987h0M1272.6 1008.3h0M1350 1091.4h0M1346.8 889.4h0M1204.6 949.5h0M1275.7 1011.7h0M1192.7 949.8h0M1198.6 886.9h0M1252.9 1007h0M1229.1 955.8h0M1353 1088.4h0M1245.3 989h0M1305.5 894.8h0M1155.3 966.3h0M1169.7 1044.8h0M1160.1 1023.2h0M1155.2 992.7h0M1254.6 979.9h0M1242.9 1021.5h0M1193.6 947.8h0M1286.6 1000.1h0M1209 964.3h0M1223.9 942h0M1189 1046.7h0M1176.9 1037.4h0M1290.2 1025.2h0M1218.6 926.7h0M1173 931.2h0M1254.2 960.2h0M1200.3 947.9h0M1170.9 970.8h0M1231.1 922.6h0M1129.9 983.9h0M1160.9 1039.8h0M1205.8 971h0M1292 981.2h0M1286.2 954.5h0" stroke="#d0d0d0" stroke-width="6" fill="none" stroke-linecap="round"/>
<path d="M1169.4 880.8h0M1139.8 917.5h0M1123.4 995.3h0M1257.5 1002.7h0M1235.2 931.7h0M1220.2 973.8h0M1201.7 970.4h0M1271.6 1015.1h0M1178.5 924.4h0M1146.7 1015.9h0M1249.5 1059.1h0M1166.5 1007.1h0M1247.5 970.5h0M1217.6 1062.1h0M1193.3 968.2h0M1247.3 963.8h0M1176.5 926.3h0M1192.1 930.9h0M1203.5 955.4h0M1184.1 990.7h0M1289.8 971.4h0M1157.4 970.5h0M1228.7 1052.7h0M1230.7 1054.2h0M1167.5 1050.8h0M1142.1 1023.5h0M1245 1024.1h0M1273.6 1030.8h0M1215.7 925.8h0M1199.2 1051.4h0M1234.9 1041.4h0M1246.1 958.1h0M1269 981.1h0M1234.2 972.5h0M1155.2 939.4h0M1261.7 988.3h0M1227.2 998.3h0M1224.9 1006.5h0M1292.2 957.8h0M1251.3 967.6h0M1216.1 939.1h0M1173.3 1004.3h0M1231.1 948.9h0M1259.6 1049.7h0M1154.6 941.3h0M1178.3 920.1h0M1227.6 1067.4h0M1224.7 972.7h0M1169.2 996.8h0M1227 952.3h0M1130.5 1008.7h0M1247.1 1022.9h0M1182.3 1033h0M1243.7 1015.6h0M1239.7 992.4h0M1207.5 1056.2h0M1164.6 1017.8h0M1193.7 956.5h0M1245.5 925.9h0M1158 944.5h0M1238.2 1012.2h0M1138.9 1011.3h0M1180 1041.4h0M1239.4 977.2h0M1276.7 936.6h0" stroke="#d0d0d0" stroke-width="7" fill="none" stroke-linecap="round"/>
<path d="M1225.2 906h0M1309.6 1017.4h0M1316.4 913.2h0M1329.5 943.8h0M1287 951h0M1308.1 976.6h0M1298.7 918.6h0M1321 1007h0M1233.6 871.4h0M1219 983.4h0M1215.5 1023.9h0M1261.3 901.4h0M1204.2 1063.5h0M1246.6 1047.3h0M1252.1 1021.7h0M1197 945.6h0M1242.3 1052h0M1207.8 1055.5h0M1245.7 937.7h0M1169.7 936.7h0M1253.7 1002.6h0M1185 975.2h0M1167.1 1056.7h0M1266.3 998.4h0M1246 1040.8h0M1236.6 914.1h0M1198.8 970.1h0M1137.9 981.4h0M1137.2 995.9h0M1256.4 1008.6h0M1234.8 998h0M1137.4 951.8h0M1245.9 985.2h0M1198 996.8h0M1182.9 1004.1h0M1196.4 1025.3h0M1202.2 1018.1h0M1209.6 953.8h0M1272.4 1005.5h0M1178.4 959.7h0M1288.5 986.6h0M1137.4 977.1h0M1143 1011.6h0M1168.9 957.6h0M1261.6 1028.8h0M1181.9 947.1h0M1224.5 1039.6h0M1202.8 984.2h0M1141.8 966.2h0M1224.9 992.1h0M1156 1005.6h0M1294.3 1005.3h0M1262.6 999.7h0M1275.2 1041.9h0M1191.9 962h0M1282.6 966.6h0M1162 1022h0M1144 1012h0M1292.8 1013.5h0M1213.5 979.6h0M1181.3 1000.1h0M1251.4 962.1h0M1229.9 938.2h0M1191.6 944.4h0M1202.4 977.4h0" stroke="#d0d0d0" stroke-width="8" fill="none" stroke-linecap="round"/>
<path d="M1182.8 1001.8h0M1242.3 948.1h0M1147 927.5h0M1201.1 934.3h0M1219.4 1053.9h0M1189 943h0M1256.2 941.2h0M1257.2 1016.1h0M1246.1 961.7h0M1211.2 998.2h0M1276 947.5h0M1255.4 1051h0M1274.3 989.1h0M1257.9 967h0M1194.4 1002.8h0M1231.2 966.2h0M1244 1047.7h0M1260.2 1014.1h0" stroke="#d0d0d0" stroke-width="9" fill="none" stroke-linecap="round"/>
<path d="M1167.4 754.3h0M1110.6 819.7h0M1133.2 740.9h0M1149 741.1h0M1117 815.3h0M1086.2 780.7h0M1167.4 745.3h0M1069.6 818.5h0M1112.7 749.3h0M1086.6 769.3h0M1122.3 766.2h0M1080 816.1h0M1145 790.9h0M1120.1 744.1h0M1095.4 772.2h0M1129.1 778.3h0M1155.5 750.4h0M1125.1 812.9h0M1145.8 764h0M1118 760h0M1138.2 802.4h0M1156.8 760.2h0M1105.2 813.5h0M1101.2 780.9h0M1156.7 772.3h0M1138.5 749.1h0M1137.8 760.6h0M1163.7 763.3h0M1131.5 807h0M1125.6 757.6h0M1110.9 788h0M1118.8 786h0M1135.9 792.4h0M1102.1 825.1h0M1092.8 806.9h0M1063.7 813.1h0M1079.7 775.3h0M1134.2 772.8h0M1084.4 788.8h0" stroke="#f0a996" stroke-width="6" fill="none" stroke-linecap="round"/>
<path d="M1138.6 784.1h0M1104.2 772.1h0M1076.8 791h0M1127.7 787.6h0M1093.4 785.5h0M1096.2 818.4h0M1086.9 825h0M1069.7 806.4h0M1113.9 806.9h0M1125.3 800.4h0M1127.7 747.8h0M1130.7 765.1h0M1116.8 794h0M1108.9 778.9h0M1115.4 770.6h0M1146 752.9h0M1098.2 765.2h0M1085 807.7h0M1109.3 797.8h0M1075.4 781.8h0M1107.5 763.5h0M1102.8 789.9h0M1068.8 796.3h0M1119.7 778.2h0M1165.7 771.6h0M1075.2 825.8h0M1081.6 800.2h0M1160.7 740.6h0M1147.1 782.9h0M1105.5 755h0M1140.9 736.6h0M1087.6 815.9h0" stroke="#f0a996" stroke-width="7" fill="none" stroke-linecap="round"/>
<path d="M1157.3 783.7h0" stroke="#f0a996" stroke-width="8" fill="none" stroke-linecap="round"/>
<path d="M1100.9 802.7h0M1144.4 772.8h0" stroke="#f0a996" stroke-width="9" fill="none" stroke-linecap="round"/>
<path d="M1091.2 795.1h0" stroke="#f0a996" stroke-width="10" fill="none" stroke-linecap="round"/>
<path d="M1244.9 753.6h0" stroke="#c8650f" stroke-width="6" fill="none" stroke-linecap="round"/>
<path d="M1252.8 787.9h0M1270.2 761.3h0M1243.2 779.1h0M1256.6 759.4h0M1271.8 791.6h0M1235.7 775.3h0M1261.2 793.1h0M1244.4 787.9h0M1256.6 768.2h0M1251 748.6h0" stroke="#c8650f" stroke-width="7" fill="none" stroke-linecap="round"/>
<path d="M1287.3 769.3h0M1272.4 752.1h0M1265.8 784.4h0M1247.5 765.6h0M1265.9 772.8h0M1278.1 767.3h0M1280.4 781.2h0M1283.2 758.1h0M1254.8 777.5h0" stroke="#c8650f" stroke-width="8" fill="none" stroke-linecap="round"/>
<path d="M1237.7 765h0" stroke="#c8650f" stroke-width="9" fill="none" stroke-linecap="round"/>
<path d="M1262.1 749.5h0" stroke="#c8650f" stroke-width="10" fill="none" stroke-linecap="round"/>
<path d="M1399.9 799.3h0M1374.6 792.3h0M1399.9 782.3h0M1369.8 802.8h0M1406.1 820.4h0M1362.8 813.7h0M1395 775.9h0M1379.7 828.8h0M1413.9 821.6h0M1393.2 817.7h0M1397.3 827.7h0M1369.7 785.7h0M1384.7 805.4h0" stroke="#a27a42" stroke-width="6" fill="none" stroke-linecap="round"/>
<path d="M1414.7 810.3h0M1370.6 816.9h0M1383.5 816.6h0M1393.6 789.2h0M1364.2 822.7h0M1409.1 801.1h0M1418.6 800.1h0M1390.2 833.6h0M1391.9 799.4h0M1406.3 812.1h0M1377.1 811.3h0M1401.9 790.3h0" stroke="#a27a42" stroke-width="7" fill="none" stroke-linecap="round"/>
<path d="M1396.4 809.5h0M1405.7 830.9h0M1382.7 796h0" stroke="#a27a42" stroke-width="8" fill="none" stroke-linecap="round"/>
<path d="M1381.8 782.5h0" stroke="#a27a42" stroke-width="9" fill="none" stroke-linecap="round"/>
<path d="M1412.5 789.4h0" stroke="#a27a42" stroke-width="10" fill="none" stroke-linecap="round"/>
<path d="M984.4 989.5h0M999.4 1009.6h0M1027.9 998.9h0M1014.1 972.1h0M982.5 903.4h0M1019.9 979.4h0M966.9 918.2h0M1002.3 960.3h0M1015.3 916.4h0M985.2 933.9h0M1046.9 927.9h0M1008.5 995.5h0M995.7 967.7h0M996.7 997.8h0M1020 994.5h0M1049.1 916.7h0M1060.3 957.7h0M1050.5 957.5h0M1020.1 950.1h0M981.3 974.1h0M1004.2 1002h0M1018.7 1014.4h0M970.4 978.1h0M1047.7 968h0M1023.8 917.3h0M1003.8 986.8h0M1012 948.4h0M1030.7 898.8h0M1032.8 941.8h0M988.4 898.9h0M994 960.1h0M1060 950.1h0M1012.4 1002.8h0M977.3 994.2h0" stroke="#4470c0" stroke-width="6" fill="none" stroke-linecap="round"/>
<path d="M999.7 915.8h0M974.8 968.8h0M1008 909.9h0M995.9 989h0M1021.7 925.5h0M977.9 924.2h0M1028.4 972.1h0M995.3 928.2h0M961.9 975.1h0M1021.8 908.7h0M1013.4 940.3h0M1056.7 967.3h0M977.3 950.4h0M1029 949.1h0M1020.2 1003.3h0M1027 1009.6h0M986.7 920.6h0M1013.1 956.7h0M1033 906.4h0M1011.8 985.4h0M989.4 1010h0M998.8 976.3h0M984.9 964.9h0M966.2 952.9h0M987.3 955.6h0M1035.1 927.7h0M962 927.4h0M1039.9 973.2h0M1023.3 894.8h0M1031 959.7h0M977.2 912.1h0M1040.3 1002.1h0M992.3 910.3h0M973.1 959.9h0M1042.9 908.1h0M1035.4 980.4h0M983 943.2h0M1055.8 935.5h0M970.3 928.7h0M995.3 951.4h0M1054.7 925.4h0M1051.1 985.9h0M1056.6 979.9h0M1003.7 1017.6h0M974.5 1003.2h0M981.1 1008.6h0M1022.3 942.3h0M1047.7 937h0M1007.2 977.6h0M966.5 968.2h0M977 934h0" stroke="#4470c0" stroke-width="7" fill="none" stroke-linecap="round"/>
<path d="M989.1 978.3h0M1039.2 935.7h0M983.9 1000.2h0M1040.7 961.9h0M1008.8 1010.4h0M972 942.2h0M1042.4 992.3h0M955.6 949.9h0M959.4 961.9h0M1048.5 976.5h0M975.5 985.1h0M1027.1 934.7h0M968.7 995.8h0M1039.2 949.6h0M1010.2 897.4h0M960.2 939.7h0M1021.3 960.5h0M1004.4 934.1h0M1012.9 930.5h0M963.8 987.8h0M1006.7 967.7h0" stroke="#4470c0" stroke-width="8" fill="none" stroke-linecap="round"/>
<path d="M1004.3 924h0M1003.3 944.3h0" stroke="#4470c0" stroke-width="9" fill="none" stroke-linecap="round"/>
<path d="M992.9 941.5h0M1051.5 946.2h0" stroke="#4470c0" stroke-width="10" fill="none" stroke-linecap="round"/>
<path d="M998.4 899.7h0M1035 916.9h0M1029 988.9h0" stroke="#4470c0" stroke-width="11" fill="none" stroke-linecap="round"/>
<path d="M1457.2 930h0M1447.6 935.5h0M1434.1 959.2h0M1427.8 953.7h0M1449.5 955.8h0M1442.6 943h0M1441.5 957h0M1456.3 951.5h0M1437.1 937.2h0M1427.6 924.5h0M1420.9 950.3h0M1452.6 923.1h0M1462.1 945.2h0M1434 921.3h0M1445.1 950h0" stroke="#6d86de" stroke-width="6" fill="none" stroke-linecap="round"/>
<path d="M1421 940h0M1451.9 943.1h0M1434.2 945.6h0M1431.4 931.5h0M1419.4 931.5h0M1460.9 937.3h0" stroke="#6d86de" stroke-width="7" fill="none" stroke-linecap="round"/>
<path d="M1443 924.4h0" stroke="#6d86de" stroke-width="8" fill="none" stroke-linecap="round"/>
<path d="M1445.7 1068.5h0M1426.2 1037.4h0M1466.3 1046.5h0M1431.5 1077.3h0" stroke="#f2c486" stroke-width="5" fill="none" stroke-linecap="round"/>
<path d="M1446.2 1043.6h0M1434.3 1048.1h0M1456.1 1064.9h0M1469 1035.5h0M1422.8 1049.2h0M1429.3 1054.7h0M1449.7 1023.8h0M1422.2 1061.4h0M1473.6 1042.7h0M1438 1081.2h0M1446.9 1079h0M1467.8 1054.8h0M1471.8 1063.8h0M1455.3 1056.4h0M1454.4 1072.5h0M1438 1023.4h0M1464.2 1061.5h0M1439 1072.6h0M1460.8 1051.6h0M1452 1037.6h0M1438.8 1039.8h0M1456.5 1080h0" stroke="#f2c486" stroke-width="6" fill="none" stroke-linecap="round"/>
<path d="M1458.9 1031.2h0M1459.1 1042.4h0M1447.9 1054.1h0M1440.5 1060.5h0M1432.5 1031.9h0M1466.9 1073.6h0" stroke="#f2c486" stroke-width="7" fill="none" stroke-linecap="round"/>
<path d="M1431 1065.8h0" stroke="#f2c486" stroke-width="8" fill="none" stroke-linecap="round"/>
<path d="M1444.3 1032.6h0" stroke="#f2c486" stroke-width="9" fill="none" stroke-linecap="round"/>
<path d="M1032.4 1113.4h0M1034.6 1090.8h0M1026.1 1100.9h0M1040.7 1097.6h0M1046.9 1114.7h0M1048.1 1072h0M1055.9 1079.3h0M1015.4 1100.6h0M1020.4 1110.7h0M1050.7 1096.2h0M1035.8 1104.6h0M1053.6 1109.3h0M1039.2 1119.7h0M1026.9 1086.4h0M1027.3 1068.7h0" stroke="#3c9494" stroke-width="7" fill="none" stroke-linecap="round"/>
<path d="M1028.3 1077.3h0M1058.3 1101.7h0M1037.6 1068.2h0M1046.5 1104.2h0" stroke="#3c9494" stroke-width="8" fill="none" stroke-linecap="round"/>
<path d="M1019.6 1092.1h0M1058.1 1088.7h0M1016.7 1081h0" stroke="#3c9494" stroke-width="9" fill="none" stroke-linecap="round"/>
<path d="M1044.6 1082.9h0" stroke="#3c9494" stroke-width="13" fill="none" stroke-linecap="round"/>
<path d="M1142.5 1165.9h0M1136.1 1180.5h0M1141.3 1186.3h0M1142.3 1174h0M1166.2 1158.5h0M1130.4 1175.2h0M1164.6 1176.2h0M1139.9 1158.6h0" stroke="#8a9a1c" stroke-width="6" fill="none" stroke-linecap="round"/>
<path d="M1174.1 1190h0M1153.8 1181.8h0M1175.1 1177.5h0M1157.6 1161.2h0M1164.3 1191.9h0M1156.5 1169.6h0M1134.7 1190.9h0M1167.1 1167.9h0M1167.3 1183.7h0M1134 1167.1h0M1156.2 1193.9h0M1148.2 1157.7h0M1176.3 1167.4h0" stroke="#8a9a1c" stroke-width="7" fill="none" stroke-linecap="round"/>
<path d="M1147.3 1197.7h0" stroke="#8a9a1c" stroke-width="10" fill="none" stroke-linecap="round"/>
<path d="M1339.5 1129.2h0M1299.4 1184h0M1335.6 1178.4h0M1302.4 1131.7h0M1347.3 1187.6h0M1307.5 1179.1h0M1342.4 1174.4h0M1368.7 1188.3h0M1385 1142.8h0M1308.5 1170.5h0M1319.9 1159.3h0M1382.2 1174.2h0M1352.8 1144.8h0M1350.3 1197.8h0M1287 1158.8h0M1315.7 1194h0M1314.5 1126.5h0M1333.1 1191.7h0M1367.6 1129h0M1304.1 1120.3h0M1300.5 1163.7h0M1281.8 1164h0M1268.6 1162.6h0M1291.2 1148.2h0M1279.2 1132.6h0M1377.1 1181.7h0M1365.2 1155.8h0M1331.7 1132.2h0M1327.7 1176.3h0M1275.4 1179.2h0M1342.2 1182.5h0M1283.4 1150.8h0M1340.8 1191.2h0M1323.1 1120.7h0M1361.8 1123.2h0M1326.2 1137.2h0M1320.1 1200.5h0" stroke="#9a9cf6" stroke-width="6" fill="none" stroke-linecap="round"/>
<path d="M1295.5 1155.7h0M1306.7 1197.4h0M1364.8 1179.6h0M1290.3 1182.7h0M1328.3 1199.1h0M1322.6 1128.8h0M1331.1 1119.7h0M1311.9 1150.6h0M1322.8 1185.5h0M1290.7 1170.6h0M1371.3 1150.2h0M1340.3 1199.2h0M1316 1179.5h0M1364.3 1165h0M1360.8 1147.4h0M1359.4 1131.7h0M1299.6 1173h0M1345.7 1166.4h0M1344 1116.6h0M1371.8 1171.3h0M1377.2 1144.2h0M1348 1152.1h0M1293.1 1138.3h0M1363.9 1140h0M1331.9 1169.2h0M1314.4 1165.1h0" stroke="#9a9cf6" stroke-width="7" fill="none" stroke-linecap="round"/>
<path d="M1328.8 1157.4h0M1349 1131.5h0M1315.8 1116.2h0M1307.8 1158.3h0M1386.6 1156h0M1274.4 1169.8h0M1372.2 1136.5h0M1355.1 1182.6h0M1320.9 1144.1h0M1338.4 1157.2h0M1353.4 1122.6h0M1345.3 1140.5h0M1269.7 1146.5h0M1283.7 1176.7h0M1309.5 1187.5h0M1388 1165h0M1281.8 1185.7h0" stroke="#9a9cf6" stroke-width="8" fill="none" stroke-linecap="round"/>
<path d="M1282.6 1141.1h0M1355.6 1158.7h0M1275.1 1154.3h0M1322.3 1169.4h0M1300.6 1145.1h0M1376.5 1161.2h0M1290.5 1127.2h0M1311.3 1137.8h0M1354.2 1169.7h0" stroke="#9a9cf6" stroke-width="9" fill="none" stroke-linecap="round"/>
<path d="M1358.4 1193.9h0M1334.7 1141.6h0M1296.5 1194.7h0" stroke="#9a9cf6" stroke-width="10" fill="none" stroke-linecap="round"/>
<text x="1068" y="710.7" font-size="23.5" text-anchor="middle">Viral and bacterial</text>
<text x="1071.7" y="737.5" font-size="23.5" text-anchor="middle">infections</text>
<text x="1301" y="711.6" font-size="23.5" text-anchor="middle">Hepatitis B/C</text>
<text x="1460.2" y="749.1" font-size="23.5" text-anchor="middle">Immunity</text>
<text x="987.3" y="890" font-size="23.5" text-anchor="end">Cancer related</text>
<text x="960" y="918.3" font-size="23.5" text-anchor="end">pathways</text>
<text x="1511.8" y="892" font-size="23.5" text-anchor="middle">Diabetes</text>
<text x="1523" y="1015.5" font-size="23.5" text-anchor="middle">Senescence</text>
<text x="985.7" y="1140" font-size="23.5" text-anchor="middle">HIF-1 pathway</text>
<text x="1171.8" y="1234.9" font-size="23.5" text-anchor="middle">Thyroid hormone pathway</text>
<text x="1493" y="1182" font-size="23.5" text-anchor="middle">Neurodegenerative</text>
<text x="1496.5" y="1210.3" font-size="23.5" text-anchor="middle">disease</text>
<circle cx="128" cy="152.5" r="84" fill="#dfebf7"/>
<circle cx="216" cy="152.5" r="64" fill="#ecd3d3"/>
<clipPath id="vc128"><circle cx="128" cy="152.5" r="84"/></clipPath>
<circle cx="216" cy="152.5" r="64" fill="#cfc6d2" clip-path="url(#vc128)"/>
<circle cx="128" cy="152.5" r="84" fill="none" stroke="#b4b4b8" stroke-width="1.6"/>
<circle cx="216" cy="152.5" r="64" fill="none" stroke="#b4b4b8" stroke-width="1.6"/>
<text x="119.5" y="39" text-anchor="middle">EpiMap</text>
<text x="119.5" y="62" text-anchor="middle">(833 biosamples)</text>
<text x="113.5" y="156" text-anchor="middle">54,894</text>
<text x="182.8" y="156" text-anchor="middle">261</text>
<text x="243.4" y="156" text-anchor="middle">4,398</text>
<text x="234" y="236" text-anchor="middle">RIC-seq</text>
<text x="234" y="259" text-anchor="middle">(7 cell lines)</text>
<circle cx="403.5" cy="152.5" r="84" fill="#dfebf7"/>
<circle cx="491" cy="152.5" r="64" fill="#ecd3d3"/>
<clipPath id="vc403"><circle cx="403.5" cy="152.5" r="84"/></clipPath>
<circle cx="491" cy="152.5" r="64" fill="#cfc6d2" clip-path="url(#vc403)"/>
<circle cx="403.5" cy="152.5" r="84" fill="none" stroke="#b4b4b8" stroke-width="1.6"/>
<circle cx="491" cy="152.5" r="64" fill="none" stroke="#b4b4b8" stroke-width="1.6"/>
<text x="395" y="39" text-anchor="middle">ABC maps</text>
<text x="395" y="62" text-anchor="middle">(131 biosamples)</text>
<text x="388.8" y="156" text-anchor="middle">5,093</text>
<text x="459.8" y="156" text-anchor="middle">106</text>
<text x="519" y="156" text-anchor="middle">4,553</text>
<text x="509" y="236" text-anchor="middle">RIC-seq</text>
<text x="509" y="259" text-anchor="middle">(7 cell lines)</text>
<circle cx="685" cy="152.5" r="84" fill="#dfebf7"/>
<circle cx="773.6" cy="152.5" r="64" fill="#ecd3d3"/>
<clipPath id="vc685"><circle cx="685" cy="152.5" r="84"/></clipPath>
<circle cx="773.6" cy="152.5" r="64" fill="#cfc6d2" clip-path="url(#vc685)"/>
<circle cx="685" cy="152.5" r="84" fill="none" stroke="#b4b4b8" stroke-width="1.6"/>
<circle cx="773.6" cy="152.5" r="64" fill="none" stroke="#b4b4b8" stroke-width="1.6"/>
<text x="676.5" y="39" text-anchor="middle">ENCODE</text>
<text x="676.5" y="62" text-anchor="middle">(125 biosamples)</text>
<text x="670.6" y="156" text-anchor="middle">22,719</text>
<text x="741" y="156" text-anchor="middle">76</text>
<text x="801" y="156" text-anchor="middle">4,583</text>
<text x="791.6" y="236" text-anchor="middle">RIC-seq</text>
<text x="791.6" y="259" text-anchor="middle">(7 cell lines)</text>
<circle cx="994" cy="152.5" r="84" fill="#dfebf7"/>
<circle cx="1082.4" cy="152.5" r="64" fill="#ecd3d3"/>
<clipPath id="vc994"><circle cx="994" cy="152.5" r="84"/></clipPath>
<circle cx="1082.4" cy="152.5" r="64" fill="#cfc6d2" clip-path="url(#vc994)"/>
<circle cx="994" cy="152.5" r="84" fill="none" stroke="#b4b4b8" stroke-width="1.6"/>
<circle cx="1082.4" cy="152.5" r="64" fill="none" stroke="#b4b4b8" stroke-width="1.6"/>
<text x="985.5" y="39" text-anchor="middle">EpiMap</text>
<text x="985.5" y="62" text-anchor="middle">(7 cell lines)</text>
<text x="978.5" y="156" text-anchor="middle">30,673</text>
<text x="1050.3" y="156" text-anchor="middle">190</text>
<text x="1112" y="156" text-anchor="middle">4,469</text>
<text x="1100.4" y="236" text-anchor="middle">RIC-seq</text>
<text x="1100.4" y="259" text-anchor="middle">(7 cell lines)</text>
<circle cx="1269.7" cy="152.5" r="84" fill="#dfebf7"/>
<circle cx="1357.8" cy="152.5" r="64" fill="#ecd3d3"/>
<clipPath id="vc1269"><circle cx="1269.7" cy="152.5" r="84"/></clipPath>
<circle cx="1357.8" cy="152.5" r="64" fill="#cfc6d2" clip-path="url(#vc1269)"/>
<circle cx="1269.7" cy="152.5" r="84" fill="none" stroke="#b4b4b8" stroke-width="1.6"/>
<circle cx="1357.8" cy="152.5" r="64" fill="none" stroke="#b4b4b8" stroke-width="1.6"/>
<text x="1261.2" y="39" text-anchor="middle">ABC maps</text>
<text x="1261.2" y="62" text-anchor="middle">(7 cell lines)</text>
<text x="1253.8" y="156" text-anchor="middle">2,298</text>
<text x="1325.6" y="156" text-anchor="middle">79</text>
<text x="1387.3" y="156" text-anchor="middle">4,580</text>
<text x="1375.8" y="236" text-anchor="middle">RIC-seq</text>
<text x="1375.8" y="259" text-anchor="middle">(7 cell lines)</text>
<circle cx="1552.3" cy="152.5" r="84" fill="#dfebf7"/>
<circle cx="1640" cy="152.5" r="64" fill="#ecd3d3"/>
<clipPath id="vc1552"><circle cx="1552.3" cy="152.5" r="84"/></clipPath>
<circle cx="1640" cy="152.5" r="64" fill="#cfc6d2" clip-path="url(#vc1552)"/>
<circle cx="1552.3" cy="152.5" r="84" fill="none" stroke="#b4b4b8" stroke-width="1.6"/>
<circle cx="1640" cy="152.5" r="64" fill="none" stroke="#b4b4b8" stroke-width="1.6"/>
<text x="1543.8" y="39" text-anchor="middle">ENCODE</text>
<text x="1543.8" y="62" text-anchor="middle">(5 cell lines)</text>
<text x="1536" y="156" text-anchor="middle">10,327</text>
<text x="1607.3" y="156" text-anchor="middle">45</text>
<text x="1669.9" y="156" text-anchor="middle">3,296</text>
<text x="1658" y="236" text-anchor="middle">RIC-seq</text>
<text x="1658" y="259" text-anchor="middle">(5 cell lines)</text>
<line x1="107.2" y1="320.3" x2="107.2" y2="596" stroke="#000" stroke-width="2"/>
<line x1="100.7" y1="321.3" x2="107.2" y2="321.3" stroke="#000" stroke-width="2"/>
<text x="97.2" y="328.5" text-anchor="end">0.18</text>
<line x1="100.7" y1="386.2" x2="107.2" y2="386.2" stroke="#000" stroke-width="2"/>
<text x="97.2" y="393.4" text-anchor="end">0.17</text>
<line x1="100.7" y1="450.8" x2="107.2" y2="450.8" stroke="#000" stroke-width="2"/>
<text x="97.2" y="458" text-anchor="end">0.16</text>
<line x1="100.7" y1="515.4" x2="107.2" y2="515.4" stroke="#000" stroke-width="2"/>
<text x="97.2" y="522.6" text-anchor="end">0.15</text>
<line x1="100.7" y1="580" x2="107.2" y2="580" stroke="#000" stroke-width="2"/>
<text x="97.2" y="587.2" text-anchor="end">0.14</text>
<line x1="112.3" y1="596" x2="437.6" y2="596" stroke="#000" stroke-width="2"/>
<line x1="113.3" y1="596" x2="113.3" y2="603" stroke="#000" stroke-width="2"/>
<line x1="274.9" y1="596" x2="274.9" y2="603" stroke="#000" stroke-width="2"/>
<line x1="436.6" y1="596" x2="436.6" y2="603" stroke="#000" stroke-width="2"/>
<text x="114.3" y="621.5" text-anchor="middle">-2 Kb</text>
<text x="436.6" y="621.5" text-anchor="middle">2 Kb</text>
<text x="276.9" y="621.5" text-anchor="middle">DHS in enhancer</text>
<text transform="translate(49.5 456) rotate(-90)" font-size="22" text-anchor="middle">EPRI chimeric reads coverage</text>
<path d="M116.7 529.2C118.1 530.5 121.9 534.6 125 537C128.1 539.4 132.2 543.9 135.5 543.6C138.8 543.3 142.2 538.6 145 535C147.8 531.4 149.5 526.3 152 522C154.5 517.7 157 511.9 160 509C163 506.1 167.4 505.3 170 504.7C172.6 504.1 173.4 507.1 175.8 505.6C178.2 504.2 182.3 498.8 184.5 496C186.7 493.2 186.4 494.4 188.8 488.9C191.2 483.4 196 469.1 198.9 462.9C201.8 456.6 203.6 456.2 206 451.4C208.4 446.6 211.1 437.5 213.3 434.1C215.5 430.7 217.3 431.7 219 431.2C220.7 430.7 222 433.1 223.4 431.2C224.8 429.3 225.8 425 227.7 419.7C229.6 414.4 233.2 403.2 234.9 399.5C236.6 395.8 236.1 396.2 237.8 397.2C239.5 398.2 242.4 402.8 245 405.3C247.6 407.9 251.2 410.1 253.6 412.5C256 414.9 257.2 418.3 259.4 419.7C261.6 421.1 264.4 420.4 266.6 421.1C268.8 421.8 270.5 423.8 272.4 424C274.3 424.2 276.2 422.4 278.1 422.6C280 422.9 281.7 426.5 283.9 425.5C286.1 424.5 288.9 421.1 291.1 416.8C293.3 412.5 294.5 404.4 296.9 399.5C299.3 394.6 302.6 388.6 305.5 387.4C308.4 386.2 311.3 390.5 314.2 392.3C317.1 394.1 320.4 395 322.8 398.1C325.2 401.2 326.7 405 328.6 411C330.5 417 332.4 428.6 334.3 434.1C336.2 439.6 337.9 443 340.1 444.2C342.3 445.4 345.1 440.6 347.3 441.3C349.5 442 350.7 444.9 353.1 448.5C355.5 452.1 359.3 459.5 361.7 462.9C364.1 466.3 365.6 466.3 367.5 468.7C369.4 471.1 371.3 473.4 373.2 477.3C375.1 481.2 377.1 486.5 379 491.8C380.9 497.1 382.9 504.7 384.8 509C386.7 513.3 388.4 515.5 390.5 517.7C392.6 519.9 395.8 521.5 397.7 522C399.6 522.5 400.1 521.2 402 520.6C403.9 520 406.7 518 409.3 518.5C411.9 519 415.3 521.1 417.9 523.4C420.5 525.7 422.5 529.1 425.1 532.1C427.8 535.1 432.4 539.8 433.8 541.3" stroke="#5672a8" stroke-width="2" fill="none" stroke-linejoin="round"/>
<line x1="553.8" y1="320.3" x2="553.8" y2="596" stroke="#000" stroke-width="2"/>
<line x1="547.3" y1="321.3" x2="553.8" y2="321.3" stroke="#000" stroke-width="2"/>
<text x="543.8" y="328.5" text-anchor="end">0.44</text>
<line x1="547.3" y1="406.7" x2="553.8" y2="406.7" stroke="#000" stroke-width="2"/>
<text x="543.8" y="413.9" text-anchor="end">0.40</text>
<line x1="547.3" y1="492.6" x2="553.8" y2="492.6" stroke="#000" stroke-width="2"/>
<text x="543.8" y="499.8" text-anchor="end">0.36</text>
<line x1="547.3" y1="578.8" x2="553.8" y2="578.8" stroke="#000" stroke-width="2"/>
<text x="543.8" y="586" text-anchor="end">0.32</text>
<line x1="559.5" y1="596" x2="884" y2="596" stroke="#000" stroke-width="2"/>
<line x1="560.5" y1="596" x2="560.5" y2="603" stroke="#000" stroke-width="2"/>
<line x1="721.8" y1="596" x2="721.8" y2="603" stroke="#000" stroke-width="2"/>
<line x1="883" y1="596" x2="883" y2="603" stroke="#000" stroke-width="2"/>
<text x="561.5" y="621.5" text-anchor="middle">-2 Kb</text>
<text x="883" y="621.5" text-anchor="middle">2 Kb</text>
<text x="723.8" y="621.5" text-anchor="middle">DHS in promoter</text>
<text transform="translate(496 456) rotate(-90)" font-size="22" text-anchor="middle">EPRI chimeric reads coverage</text>
<path d="M563.4 548.8C564.9 545 569.1 533.6 572.6 526.3C576.1 518.9 579.8 513.3 584.1 504.7C588.4 496.1 594.4 482.2 598.5 474.5C602.6 466.8 605.2 464.9 608.6 458.6C612 452.4 614.6 446.6 618.7 437C622.8 427.4 629.7 408.1 633.1 401C636.5 393.9 635.8 398.8 638.9 394.3C642 389.8 648.4 377.9 651.8 374.2C655.1 370.5 656.8 372.2 659 372.1C661.2 372 662.4 371 664.8 373.6C667.2 376.2 670.6 383 673.5 388C676.4 393 679.7 398 682.1 403.8C684.5 409.6 685.5 413.2 687.9 422.6C690.3 432 693.1 442.7 696.5 460C699.9 477.3 704.9 513.3 708 526.3C711.1 539.3 713 533.3 715.2 537.9C717.4 542.5 718.6 553.7 721 553.7C723.4 553.7 727 546.3 729.6 537.9C732.2 529.5 734.2 516.3 736.9 503.3C739.5 490.3 742.6 474.4 745.5 460C748.4 445.6 750.8 429 754.2 416.8C757.6 404.6 762.4 392.4 765.7 386.6C769.1 380.8 770 383.8 774.3 382.2C778.6 380.6 786.8 377.2 791.6 377C796.4 376.8 799.2 376.6 803.1 380.8C807 385 810.4 394.9 814.7 402.4C819 409.8 824.3 417.8 829.1 425.5C833.9 433.2 838.7 439.9 843.5 448.5C848.3 457.1 853.1 466.7 857.9 477.3C862.7 487.9 868.6 502.4 872.3 511.9C876 521.4 878.8 530.6 880.1 534.4" stroke="#5672a8" stroke-width="2" fill="none" stroke-linejoin="round"/>
<line x1="966.5" y1="321.3" x2="966.5" y2="594" stroke="#000" stroke-width="2"/>
<line x1="960" y1="322.3" x2="966.5" y2="322.3" stroke="#000" stroke-width="2"/>
<text x="956.5" y="329.5" text-anchor="end">4</text>
<line x1="960" y1="399.5" x2="966.5" y2="399.5" stroke="#000" stroke-width="2"/>
<text x="956.5" y="406.7" text-anchor="end">3</text>
<line x1="960" y1="476.8" x2="966.5" y2="476.8" stroke="#000" stroke-width="2"/>
<text x="956.5" y="484" text-anchor="end">2</text>
<line x1="960" y1="553.7" x2="966.5" y2="553.7" stroke="#000" stroke-width="2"/>
<text x="956.5" y="560.9" text-anchor="end">1</text>
<line x1="969.2" y1="596" x2="1294" y2="596" stroke="#000" stroke-width="2"/>
<line x1="970.2" y1="596" x2="970.2" y2="603" stroke="#000" stroke-width="2"/>
<line x1="1131.6" y1="596" x2="1131.6" y2="603" stroke="#000" stroke-width="2"/>
<line x1="1293" y1="596" x2="1293" y2="603" stroke="#000" stroke-width="2"/>
<text x="971.2" y="621.5" text-anchor="middle">-2 Kb</text>
<text x="1293" y="621.5" text-anchor="middle">2 Kb</text>
<text x="1133.6" y="621.5" text-anchor="middle">DHS in enhancer</text>
<text transform="translate(933.5 456) rotate(-90)" font-size="22" text-anchor="middle">GRO-seq reads coverage</text>
<path d="M973.7 555.7C975.4 555.3 980.2 553.7 983.8 552.9C987.4 552 991 551.7 995.3 550.8C999.6 549.9 1004.9 548.3 1009.7 547.4C1014.5 546.4 1019.8 546.6 1024.1 545.1C1028.4 543.6 1031.8 540.2 1035.6 538.4C1039.5 536.7 1043.3 535.9 1047.2 534.4C1051 532.9 1054.9 531.5 1058.7 529.2C1062.5 526.9 1066.4 523.7 1070.2 520.6C1074.1 517.5 1077.9 514.1 1081.8 510.5C1085.6 506.9 1090.4 502.1 1093.3 499C1096.2 495.8 1097.1 493.4 1099 491.8C1101 490.1 1102.9 489.8 1104.8 488.9C1106.7 487.9 1108.9 487.9 1110.6 486C1112.3 484.1 1113.6 483.1 1114.9 477.3C1116.2 471.6 1117.6 463.4 1118.6 451.4C1119.7 439.4 1120.3 419.7 1120.9 405.3C1121.6 390.9 1122.2 372.9 1122.7 364.9C1123.2 357 1123.5 357.5 1124.1 357.7C1124.7 358 1125.7 360.4 1126.4 366.4C1127.1 372.4 1127.8 386.3 1128.4 393.8C1129.1 401.2 1129.6 407.8 1130.2 411.1C1130.7 414.3 1131.1 413.4 1131.6 413.4C1132.1 413.4 1132.5 414.3 1133.1 411.1C1133.6 407.8 1134.1 401.4 1134.8 393.8C1135.5 386.1 1136.3 371.6 1137.1 364.9C1137.9 358.3 1138.7 354.5 1139.4 354C1140.1 353.5 1140.7 355.4 1141.4 362.1C1142.1 368.7 1142.9 382.7 1143.7 393.8C1144.6 404.8 1145.6 418.3 1146.6 428.3C1147.6 438.4 1148.3 446.6 1149.5 454.3C1150.7 462 1152.1 469.2 1153.8 474.5C1155.5 479.7 1157.2 483.1 1159.6 486C1162 488.9 1164.9 488.4 1168.2 491.8C1171.6 495.1 1175.9 501.8 1179.7 506.2C1183.6 510.5 1187.4 514.2 1191.3 517.7C1195.1 521.2 1199 524.3 1202.8 526.9C1206.6 529.6 1210.5 531.5 1214.3 533.5C1218.2 535.6 1222 537.6 1225.9 539.3C1229.7 541 1233.5 542.4 1237.4 543.6C1241.2 544.8 1245.1 545.5 1248.9 546.5C1252.8 547.6 1256.6 549 1260.4 550C1264.3 550.9 1267.2 551.6 1272 552.3C1276.8 553 1286.4 553.7 1289.3 554" stroke="#5672a8" stroke-width="2" fill="none" stroke-linejoin="round"/>
<line x1="1387.6" y1="321.3" x2="1387.6" y2="594" stroke="#000" stroke-width="2"/>
<line x1="1381.1" y1="322.3" x2="1387.6" y2="322.3" stroke="#000" stroke-width="2"/>
<text x="1377.6" y="329.5" text-anchor="end">16</text>
<line x1="1381.1" y1="360.9" x2="1387.6" y2="360.9" stroke="#000" stroke-width="2"/>
<text x="1377.6" y="368.1" text-anchor="end">14</text>
<line x1="1381.1" y1="399.5" x2="1387.6" y2="399.5" stroke="#000" stroke-width="2"/>
<text x="1377.6" y="406.7" text-anchor="end">12</text>
<line x1="1381.1" y1="437.9" x2="1387.6" y2="437.9" stroke="#000" stroke-width="2"/>
<text x="1377.6" y="445.1" text-anchor="end">10</text>
<line x1="1381.1" y1="476.5" x2="1387.6" y2="476.5" stroke="#000" stroke-width="2"/>
<text x="1377.6" y="483.7" text-anchor="end">8</text>
<line x1="1381.1" y1="514.8" x2="1387.6" y2="514.8" stroke="#000" stroke-width="2"/>
<text x="1377.6" y="522" text-anchor="end">6</text>
<line x1="1381.1" y1="553.4" x2="1387.6" y2="553.4" stroke="#000" stroke-width="2"/>
<text x="1377.6" y="560.6" text-anchor="end">4</text>
<line x1="1381.1" y1="592" x2="1387.6" y2="592" stroke="#000" stroke-width="2"/>
<text x="1377.6" y="599.2" text-anchor="end">2</text>
<line x1="1389.5" y1="596" x2="1712.9" y2="596" stroke="#000" stroke-width="2"/>
<line x1="1390.5" y1="596" x2="1390.5" y2="603" stroke="#000" stroke-width="2"/>
<line x1="1551.2" y1="596" x2="1551.2" y2="603" stroke="#000" stroke-width="2"/>
<line x1="1711.9" y1="596" x2="1711.9" y2="603" stroke="#000" stroke-width="2"/>
<text x="1391.5" y="621.5" text-anchor="middle">-2 Kb</text>
<text x="1711.9" y="621.5" text-anchor="middle">2 Kb</text>
<text x="1553.2" y="621.5" text-anchor="middle">DHS in promoter</text>
<text transform="translate(1346 456) rotate(-90)" font-size="22" text-anchor="middle">GRO-seq reads coverage</text>
<path d="M1393.4 566.7C1394.8 566.3 1399.2 564.9 1402.1 564.4C1404.9 563.9 1406.9 564.9 1410.7 563.8C1414.5 562.7 1420.3 559.7 1425.1 558C1429.9 556.4 1434.7 555.6 1439.5 553.7C1444.3 551.8 1450.1 548.4 1453.9 546.5C1457.8 544.6 1459.7 543.9 1462.6 542.2C1465.5 540.5 1467.9 538.6 1471.2 536.4C1474.6 534.3 1478.9 532.3 1482.8 529.2C1486.6 526.1 1490.4 521.1 1494.3 517.7C1498.1 514.3 1502.9 511.4 1505.8 509C1508.7 506.6 1509.7 505.6 1511.6 503.3C1513.5 501 1515.4 496.3 1517.3 495.2C1519.3 494.2 1521.4 497.5 1523.1 496.9C1524.8 496.4 1526 496.9 1527.4 491.8C1528.9 486.6 1530.5 476.9 1531.7 465.8C1533 454.8 1534.1 438.9 1535.2 425.5C1536.3 412 1537.5 394.2 1538.4 385.1C1539.2 376 1539.7 373.8 1540.4 370.7C1541.1 367.6 1541.7 366.2 1542.4 366.7C1543.1 367.1 1543.7 366.2 1544.4 373.6C1545.2 381 1546 398.1 1546.7 411.1C1547.5 424 1548.1 442.6 1548.8 451.4C1549.4 460.2 1549.9 461.9 1550.5 463.8C1551.1 465.7 1551.6 466.9 1552.2 462.9C1552.8 458.9 1553.6 450.4 1554.2 439.9C1554.9 429.3 1555.6 410.6 1556.2 399.5C1556.9 388.5 1557.4 379.1 1558 373.6C1558.5 368.1 1558.9 366.1 1559.4 366.4C1559.9 366.6 1560.5 368.5 1561.1 375C1561.8 381.5 1562.6 393.5 1563.5 405.3C1564.3 417.1 1565.3 433.6 1566.3 445.6C1567.4 457.6 1568.6 469.4 1569.8 477.3C1571 485.3 1572.2 490.2 1573.5 493.2C1574.9 496.2 1576.2 494.9 1577.9 495.2C1579.5 495.5 1581.7 494.1 1583.6 495.2C1585.5 496.3 1587 499.3 1589.4 501.8C1591.8 504.4 1595.2 507.6 1598 510.5C1600.9 513.4 1603.8 516.3 1606.7 519.1C1609.6 522 1612 524.9 1615.3 527.8C1618.7 530.7 1623 533.7 1626.9 536.4C1630.7 539.2 1634.5 542 1638.4 544.2C1642.2 546.4 1646.1 547.7 1649.9 549.4C1653.8 551.1 1657.6 553 1661.4 554.6C1665.3 556.1 1669.1 557.3 1673 558.6C1676.8 559.9 1680.7 561.3 1684.5 562.4C1688.3 563.5 1692 564.4 1696 565.2C1700.1 566.1 1706.8 566.9 1709 567.3" stroke="#5672a8" stroke-width="2" fill="none" stroke-linejoin="round"/>
<text x="80.8" y="1289.4" font-size="23.7">Chr. 19</text>
<path d="M174.5 1279V1290.8H258.3V1279" stroke="#000" stroke-width="1.8" fill="none"/>
<text x="186" y="1284" font-size="23.7">50 Kb</text>
<text x="693.1" y="1288.6" font-size="23.7">Chr. 6</text>
<text x="75.3" y="1330" font-size="23.7">Chimeric reads</text>
<path d="M260.5 1343.5L260.6 1340.4L261 1337.7L261.6 1335.1L262.4 1332.6L263.5 1330.2L264.8 1327.8L266.3 1325.5L268 1323.2L270 1321L272.3 1318.8L274.7 1316.7L277.4 1314.6L280.3 1312.6L283.4 1310.6L286.7 1308.6L290.2 1306.7L294 1304.9L298 1303.1L302.1 1301.4L306.5 1299.7L311.1 1298L315.8 1296.5L320.8 1295L325.9 1293.5L331.2 1292.1L336.7 1290.8L342.4 1289.5L348.2 1288.3L354.2 1287.1L360.4 1286L366.8 1285L373.3 1284.1L379.9 1283.2L386.7 1282.4L393.7 1281.6L400.8 1280.9L408 1280.3L415.4 1279.8L423 1279.3L430.7 1278.9L438.7 1278.6L446.8 1278.3L455.3 1278.1L464.1 1278L474.2 1278L484.4 1278L493.2 1278.1L501.7 1278.3L509.8 1278.6L517.8 1278.9L525.5 1279.3L533.1 1279.8L540.5 1280.3L547.7 1280.9L554.8 1281.6L561.8 1282.4L568.6 1283.2L575.2 1284.1L581.7 1285L588.1 1286L594.3 1287.1L600.3 1288.3L606.1 1289.5L611.8 1290.8L617.3 1292.1L622.6 1293.5L627.7 1295L632.7 1296.5L637.4 1298L642 1299.7L646.4 1301.4L650.5 1303.1L654.5 1304.9L658.3 1306.7L661.8 1308.6L665.1 1310.6L668.2 1312.6L671.1 1314.6L673.8 1316.7L676.2 1318.8L678.5 1321L680.5 1323.2L682.2 1325.5L683.7 1327.8L685 1330.2L686.1 1332.6L686.9 1335.1L687.5 1337.7L687.9 1340.4L688 1343.5" stroke="#2a2a9a" stroke-width="1.5" fill="none"/>
<rect x="245.4" y="1343.2" width="29.5" height="11.8" fill="#4c9a40"/>
<text x="289.5" y="1357" font-size="23.7">Pro.</text>
<rect x="637.1" y="1343.2" width="132.4" height="11.6" fill="#cf5b1c"/>
<text x="540.6" y="1356" font-size="23.7" font-style="italic">SE1838</text>
<line x1="688.1" y1="1303.8" x2="688.1" y2="1404.4" stroke="#000" stroke-width="1.5" stroke-dasharray="3 2.2"/>
<text x="693" y="1389.2" font-size="23.7">rs6914598</text>
<line x1="686.8" y1="1404.4" x2="714.3" y2="1390.6" stroke="#000" stroke-width="1"/>
<text x="58.5" y="1417.4" font-size="23.7">GWAS variants</text>
<path d="M233.8 1404.4V1416.8" stroke="#2c2ca0" stroke-width="1.3"/>
<path d="M244.8 1404.4V1416.8" stroke="#9a9ade" stroke-width="1.3"/>
<path d="M246.8 1404.4V1416.8" stroke="#7878d4" stroke-width="1.3"/>
<path d="M249.5 1404.4V1416.8" stroke="#7878d4" stroke-width="1.3"/>
<path d="M262.5 1404.4V1416.8" stroke="#7878d4" stroke-width="1.3"/>
<path d="M284.5 1404.4V1416.8" stroke="#5a5ac8" stroke-width="1.3"/>
<path d="M292.8 1404.4V1416.8" stroke="#6a6acc" stroke-width="1.3"/>
<path d="M337.7 1404.4V1416.8" stroke="#6a6acc" stroke-width="1.3"/>
<path d="M344.7 1404.4V1416.8" stroke="#2c2ca0" stroke-width="1.3"/>
<path d="M352.3 1404.4V1416.8" stroke="#6a6acc" stroke-width="1.3"/>
<path d="M359.8 1404.4V1416.8" stroke="#7878d4" stroke-width="1.3"/>
<path d="M361.7 1404.4V1416.8" stroke="#3a3ab0" stroke-width="1.3"/>
<path d="M363.9 1404.4V1416.8" stroke="#3a3ab0" stroke-width="1.3"/>
<path d="M366.1 1404.4V1416.8" stroke="#5a5ac8" stroke-width="1.3"/>
<path d="M377.2 1404.4V1416.8" stroke="#9a9ade" stroke-width="1.3"/>
<path d="M497.9 1404.4V1416.8" stroke="#6a6acc" stroke-width="1.3"/>
<path d="M500.1 1404.4V1416.8" stroke="#9a9ade" stroke-width="1.3"/>
<path d="M502 1404.4V1416.8" stroke="#7878d4" stroke-width="1.3"/>
<path d="M509.8 1404.4V1416.8" stroke="#2c2ca0" stroke-width="1.3"/>
<path d="M546.1 1404.4V1416.8" stroke="#7878d4" stroke-width="1.3"/>
<path d="M561.3 1404.4V1416.8" stroke="#6a6acc" stroke-width="1.3"/>
<path d="M566.8 1404.4V1416.8" stroke="#6a6acc" stroke-width="1.3"/>
<path d="M591.6 1404.4V1416.8" stroke="#6a6acc" stroke-width="1.3"/>
<path d="M593 1404.4V1416.8" stroke="#9a9ade" stroke-width="1.3"/>
<path d="M594.4 1404.4V1416.8" stroke="#5a5ac8" stroke-width="1.3"/>
<path d="M595.8 1404.4V1416.8" stroke="#2c2ca0" stroke-width="1.3"/>
<path d="M597.2 1404.4V1416.8" stroke="#3a3ab0" stroke-width="1.3"/>
<path d="M598.5 1404.4V1416.8" stroke="#5a5ac8" stroke-width="1.3"/>
<path d="M599.9 1404.4V1416.8" stroke="#5a5ac8" stroke-width="1.3"/>
<path d="M601.3 1404.4V1416.8" stroke="#5a5ac8" stroke-width="1.3"/>
<path d="M648.7 1404.4V1416.8" stroke="#6a6acc" stroke-width="1.3"/>
<path d="M664.7 1404.4V1416.8" stroke="#2c2ca0" stroke-width="1.3"/>
<path d="M677.7 1404.4V1416.8" stroke="#2c2ca0" stroke-width="1.3"/>
<path d="M679.3 1404.4V1416.8" stroke="#6a6acc" stroke-width="1.3"/>
<path d="M681.2 1404.4V1416.8" stroke="#5a5ac8" stroke-width="1.3"/>
<path d="M693.7 1404.4V1416.8" stroke="#7878d4" stroke-width="1.3"/>
<path d="M741.1 1404.4V1416.8" stroke="#2c2ca0" stroke-width="1.3"/>
<line x1="232.7" y1="1447" x2="600.5" y2="1447" stroke="#000" stroke-width="1.2"/>
<line x1="623" y1="1447" x2="797.8" y2="1447" stroke="#000" stroke-width="1.2"/>
<path d="M232.7 1439.5h1.8v15h-1.8ZM235.2 1439.5h2.6v15h-2.6ZM238.6 1439.5h2.9v15h-2.9ZM252 1442.5h2.4v9h-2.4ZM255.4 1439.5h1.6v15h-1.6ZM259.7 1439.5h2.4v15h-2.4ZM262.6 1439.5h3.5v15h-3.5ZM266.7 1439.5h3.1v15h-3.1ZM293.6 1439.5h2v15h-2ZM296.1 1439.5h1.7v15h-1.7ZM298.4 1439.5h1.6v15h-1.6ZM301.1 1439.5h2.5v15h-2.5ZM304.1 1439.5h3.1v15h-3.1ZM308.8 1439.5h2.6v15h-2.6ZM312.7 1439.5h3.6v15h-3.6ZM317.5 1442.5h3.5v9h-3.5ZM321.4 1442.5h3.5v9h-3.5ZM325.5 1439.5h2.2v15h-2.2ZM328.7 1442.5h2.2v9h-2.2ZM331.6 1442.5h2.6v9h-2.6ZM334.8 1439.5h3.5v15h-3.5ZM338.6 1439.5h3.4v15h-3.4ZM342.5 1439.5h2.4v15h-2.4ZM345.6 1439.5h2v15h-2ZM352.5 1439.5h2.6v15h-2.6ZM361 1439.5h1.9v15h-1.9ZM363.5 1439.5h1.9v15h-1.9ZM366.1 1439.5h2.4v15h-2.4ZM379.3 1442.5h1.9v9h-1.9ZM381.6 1439.5h2.7v15h-2.7ZM386.9 1439.5h2.2v15h-2.2ZM390.1 1439.5h1.5v15h-1.5ZM392.2 1439.5h1.9v15h-1.9ZM395.3 1439.5h3.6v15h-3.6ZM400.1 1439.5h3.3v15h-3.3ZM403.8 1439.5h3.5v15h-3.5ZM408.6 1442.5h2.1v9h-2.1ZM411.5 1442.5h3.6v9h-3.6ZM416 1439.5h3.6v15h-3.6ZM424.1 1439.5h1.7v15h-1.7ZM427 1439.5h3.2v15h-3.2ZM430.6 1439.5h2.4v15h-2.4ZM436.9 1439.5h3.1v15h-3.1ZM441.2 1442.5h3.1v9h-3.1ZM445.3 1442.5h1.8v9h-1.8ZM462 1442.5h3.3v9h-3.3ZM468.1 1439.5h2v15h-2ZM470.9 1442.5h2.6v9h-2.6ZM474.2 1439.5h2.6v15h-2.6ZM477.4 1439.5h1.7v15h-1.7ZM479.6 1439.5h1.6v15h-1.6ZM497.3 1439.5h2.5v15h-2.5ZM500.3 1439.5h2.3v15h-2.3ZM507 1442.5h3.6v9h-3.6ZM511.2 1439.5h2v15h-2ZM517 1442.5h3.5v9h-3.5ZM520.9 1439.5h3.3v15h-3.3ZM525.2 1439.5h2.3v15h-2.3ZM528.3 1439.5h3.1v15h-3.1ZM531.9 1439.5h3.3v15h-3.3ZM535.7 1439.5h3.1v15h-3.1ZM539.7 1439.5h2.2v15h-2.2ZM542.9 1439.5h3v15h-3ZM546.4 1439.5h2.4v15h-2.4ZM549.5 1439.5h2.2v15h-2.2ZM552.4 1439.5h2.3v15h-2.3ZM555 1439.5h1.7v15h-1.7ZM557.1 1439.5h3.6v15h-3.6ZM561.1 1442.5h1.8v9h-1.8ZM563.5 1439.5h1.6v15h-1.6ZM566.1 1439.5h2.6v15h-2.6ZM569.8 1439.5h1.6v15h-1.6ZM572 1439.5h2.8v15h-2.8ZM575.4 1439.5h2.2v15h-2.2ZM578.4 1439.5h1.6v15h-1.6ZM581.1 1439.5h3.6v15h-3.6ZM585.6 1439.5h3.2v15h-3.2ZM589.9 1439.5h1.7v15h-1.7ZM592.7 1439.5h3.5v15h-3.5ZM232.7 1440h2.8v14h-2.8ZM361.5 1440h5v14h-5ZM593 1440h3.6v14h-3.6ZM497.3 1440h2.7v14h-2.7ZM440 1440h5.5v14h-5.5Z" stroke="none" stroke-width="1" fill="#111"/>
<path d="M247.2 1444.5l-2.5 2.5l2.5 2.5M273.2 1444.5l-2.5 2.5l2.5 2.5M281.2 1444.5l-2.5 2.5l2.5 2.5M288.2 1444.5l-2.5 2.5l2.5 2.5M331.2 1444.5l-2.5 2.5l2.5 2.5M348.2 1444.5l-2.5 2.5l2.5 2.5M393.2 1444.5l-2.5 2.5l2.5 2.5M411.2 1444.5l-2.5 2.5l2.5 2.5M426.2 1444.5l-2.5 2.5l2.5 2.5M471.2 1444.5l-2.5 2.5l2.5 2.5M521.2 1444.5l-2.5 2.5l2.5 2.5M546.2 1444.5l-2.5 2.5l2.5 2.5M566.2 1444.5l-2.5 2.5l2.5 2.5M665.8 1444.5l2.5 2.5l-2.5 2.5M693.6 1444.5l2.5 2.5l-2.5 2.5M710.1 1444.5l2.5 2.5l-2.5 2.5M765.2 1444.5l2.5 2.5l-2.5 2.5" stroke="#000" stroke-width="1" fill="none"/>
<rect x="744.2" y="1439" width="1.8" height="16" fill="#000"/>
<rect x="748.4" y="1439" width="1.8" height="16" fill="#000"/>
<path d="M601 1456L611 1438M609 1456L619 1438" stroke="#000" stroke-width="1.4" fill="none"/>
<text x="234.4" y="1481.6" font-size="23.7" font-style="italic">BCAT2</text>
<text x="58.7" y="1519" font-size="23.7">H3K4me1</text>
<text x="203.2" y="1502.4" font-size="19" text-anchor="end">50</text>
<text x="203.2" y="1530" font-size="19" text-anchor="end">0</text>
<path d="M205.5 1496.9H211.5V1528H205.5" stroke="#000" stroke-width="1.4" fill="none"/>
<text x="58.7" y="1568.6" font-size="23.7">H3K27ac</text>
<text x="203.2" y="1550.1" font-size="19" text-anchor="end">100</text>
<text x="203.2" y="1578.2" font-size="19" text-anchor="end">0</text>
<path d="M205.5 1545H211.5V1576.8H205.5" stroke="#000" stroke-width="1.4" fill="none"/>
<text x="58.7" y="1614" font-size="23.7">H3K4me3</text>
<text x="203.2" y="1601.7" font-size="19" text-anchor="end">100</text>
<text x="203.2" y="1629.2" font-size="19" text-anchor="end">0</text>
<path d="M205.5 1592.6H211.5V1624.5H205.5" stroke="#000" stroke-width="1.4" fill="none"/>
<path d="M219.2 1528.3V1527.4h1.2V1527.8h1.2V1526.6h1.2V1525h1.2V1528.3h1.2V1527.2h1.2V1525.8h1.2V1528.3h1.2V1528.2h1.2V1525.6h1.2V1528.2h1.2V1527.1h1.2V1527.4h1.2V1527.8h1.2V1528h1.2V1526.9h1.2V1521.5h1.2V1517h1.2V1520.7h1.2V1520.1h1.2V1527.7h1.2V1527.1h1.2V1528.3h1.2V1524.7h1.2V1525.1h1.2V1528.3h1.2V1523.5h1.2V1520.3h1.2V1519h1.2V1522.1h1.2V1522.6h1.2V1522.3h1.2V1518.2h1.2V1520.2h1.2V1520.9h1.2V1527.2h1.2V1520.8h1.2V1519.1h1.2V1522.4h1.2V1528.2h1.2V1528.1h1.2V1528.1h1.2V1523.8h1.2V1527h1.2V1525.1h1.2V1526h1.2V1527.7h1.2V1527.8h1.2V1528h1.2V1527.8h1.2V1528.3h1.2V1523.4h1.2V1528.2h1.2V1528.2h1.2V1524.4h1.2V1524.7h1.2V1528h1.2V1527.9h1.2V1526.4h1.2V1527.5h1.2V1527.5h1.2V1525.8h1.2V1528.3h1.2V1525.3h1.2V1524.9h1.2V1522.9h1.2V1523.1h1.2V1524.1h1.2V1524.7h1.2V1525.3h1.2V1528.3h1.2V1524.3h1.2V1527.8h1.2V1528.3h1.2V1527.8h1.2V1527.2h1.2V1524.4h1.2V1528.3h1.2V1528h1.2V1526.4h1.2V1528.3h1.2V1528.3h1.2V1528.3h1.2V1528.3h1.2V1523.7h1.2V1527.7h1.2V1528.3h1.2V1528.2h1.2V1527.9h1.2V1528h1.2V1526.3h1.2V1524.3h1.2V1527.7h1.2V1528.3h1.2V1528.2h1.2V1528.2h1.2V1519.5h1.2V1518.8h1.2V1520.2h1.2V1527.8h1.2V1524.3h1.2V1526h1.2V1523.5h1.2V1528.2h1.2V1528.3h1.2V1528h1.2V1522.7h1.2V1521.1h1.2V1521.1h1.2V1518.8h1.2V1523.1h1.2V1521.9h1.2V1519.8h1.2V1519.9h1.2V1522.7h1.2V1522.8h1.2V1528.3h1.2V1519.8h1.2V1514.4h1.2V1520.8h1.2V1528.2h1.2V1525.4h1.2V1525.1h1.2V1528.3h1.2V1526.2h1.2V1528.1h1.2V1523.2h1.2V1527.7h1.2V1527.3h1.2V1523.4h1.2V1528.2h1.2V1524.5h1.2V1525h1.2V1522.7h1.2V1523.5h1.2V1524.9h1.2V1524.4h1.2V1525h1.2V1528.1h1.2V1528.3h1.2V1523.4h1.2V1525.6h1.2V1528.3h1.2V1527.2h1.2V1527.6h1.2V1524h1.2V1528.3h1.2V1525.9h1.2V1524.9h1.2V1523.9h1.2V1523.7h1.2V1524.9h1.2V1523.9h1.2V1525.8h1.2V1527.4h1.2V1525.2h1.2V1525.8h1.2V1526.8h1.2V1527.9h1.2V1528.2h1.2V1528.2h1.2V1528.2h1.2V1528.3h1.2V1527.8h1.2V1526.7h1.2V1523.4h1.2V1524.3h1.2V1523.5h1.2V1524.2h1.2V1525.9h1.2V1523h1.2V1528.1h1.2V1528.2h1.2V1526h1.2V1527.7h1.2V1528.3h1.2V1525.4h1.2V1526.9h1.2V1524.2h1.2V1527.6h1.2V1526.4h1.2V1526.5h1.2V1526.6h1.2V1525.3h1.2V1524.8h1.2V1524.9h1.2V1526.6h1.2V1523.4h1.2V1524.3h1.2V1526.8h1.2V1528.2h1.2V1524h1.2V1528.2h1.2V1523.8h1.2V1525.3h1.2V1528.3h1.2V1523.6h1.2V1525h1.2V1523h1.2V1521.4h1.2V1522.6h1.2V1525.4h1.2V1527h1.2V1527.1h1.2V1528.3h1.2V1528.2h1.2V1525.5h1.2V1528.2h1.2V1526.1h1.2V1527.6h1.2V1528h1.2V1528.3h1.2V1525.8h1.2V1526h1.2V1526.7h1.2V1526.2h1.2V1527.3h1.2V1523h1.2V1523.8h1.2V1527.6h1.2V1528h1.2V1527.2h1.2V1527h1.2V1528.2h1.2V1527.3h1.2V1524h1.2V1527.8h1.2V1521.3h1.2V1521.5h1.2V1521h1.2V1521.1h1.2V1528.2h1.2V1523.5h1.2V1528.3h1.2V1527.9h1.2V1527.4h1.2V1527.2h1.2V1522.4h1.2V1520.4h1.2V1519.4h1.2V1521.2h1.2V1522.5h1.2V1522h1.2V1519.1h1.2V1519.3h1.2V1523.4h1.2V1526.3h1.2V1523.1h1.2V1525.1h1.2V1525h1.2V1526.7h1.2V1528.3h1.2V1523.5h1.2V1528h1.2V1523.3h1.2V1526.7h1.2V1524h1.2V1528.1h1.2V1528.3h1.2V1526.9h1.2V1524.3h1.2V1526.9h1.2V1527.9h1.2V1527.9h1.2V1523.6h1.2V1527.2h1.2V1524.3h1.2V1526.4h1.2V1528.2h1.2V1528.2h1.2V1523.5h1.2V1523.1h1.2V1523.3h1.2V1528.3h1.2V1527.1h1.2V1526.9h1.2V1523.2h1.2V1521.4h1.2V1519.5h1.2V1521.8h1.2V1523.1h1.2V1528.2h1.2V1524.4h1.2V1528.2h1.2V1527h1.2V1527.3h1.2V1527.9h1.2V1528.2h1.2V1528.1h1.2V1525.5h1.2V1525.6h1.2V1523.6h1.2V1523.5h1.2V1524h1.2V1525.8h1.2V1525.9h1.2V1528.1h1.2V1528.3h1.2V1528.2h1.2V1524.7h1.2V1527.9h1.2V1526.4h1.2V1528.3h1.2V1525.8h1.2V1528.2h1.2V1528.3h1.2V1525.1h1.2V1528h1.2V1528.2h1.2V1528.3h1.2V1527.7h1.2V1528.3h1.2V1528.3h1.2V1526.3h1.2V1525.2h1.2V1523.7h1.2V1522.7h1.2V1523.2h1.2V1523.6h1.2V1528.3Z" stroke="none" stroke-width="1" fill="#1e2a5e"/>
<line x1="219.2" y1="1528" x2="601.2" y2="1528" stroke="#1e2a5e" stroke-width="3"/>
<path d="M620.4 1528.3V1528.3h1.2V1527h1.2V1524.2h1.2V1527.2h1.2V1527.2h1.2V1528.1h1.2V1528.3h1.2V1525.2h1.2V1526.1h1.2V1523.3h1.2V1523.6h1.2V1527.1h1.2V1528.3h1.2V1514.5h1.2V1514.2h1.2V1519.2h1.2V1525.4h1.2V1524.8h1.2V1523h1.2V1522h1.2V1521.7h1.2V1522h1.2V1522.4h1.2V1524.3h1.2V1525.1h1.2V1528h1.2V1526.3h1.2V1527h1.2V1525.8h1.2V1524.9h1.2V1524.9h1.2V1522.4h1.2V1523.8h1.2V1521.8h1.2V1522.1h1.2V1523h1.2V1524.1h1.2V1525.2h1.2V1528.1h1.2V1528.3h1.2V1526.3h1.2V1528.2h1.2V1528.3h1.2V1528.3h1.2V1527.2h1.2V1527.5h1.2V1523.4h1.2V1523.1h1.2V1523.9h1.2V1520.7h1.2V1522.7h1.2V1522h1.2V1521.7h1.2V1525.1h1.2V1524.2h1.2V1527.5h1.2V1524.8h1.2V1526.2h1.2V1527.5h1.2V1527.8h1.2V1528.2h1.2V1528.3h1.2V1528.1h1.2V1524.3h1.2V1522.7h1.2V1523.1h1.2V1523.3h1.2V1522.1h1.2V1523.9h1.2V1524.8h1.2V1524.3h1.2V1523.7h1.2V1528.3h1.2V1528.3h1.2V1528.3h1.2V1527.5h1.2V1527.9h1.2V1526.6h1.2V1528.3h1.2V1522.9h1.2V1528h1.2V1525.8h1.2V1528.3h1.2V1523h1.2V1517h1.2V1516.8h1.2V1520.6h1.2V1522.5h1.2V1528.2h1.2V1528.1h1.2V1528.3h1.2V1528.1h1.2V1528.2h1.2V1525.8h1.2V1527.4h1.2V1525.6h1.2V1528.3h1.2V1527.8h1.2V1527.9h1.2V1527.5h1.2V1528.3h1.2V1528.2h1.2V1524.9h1.2V1508.6h1.2V1503.9h1.2V1513.5h1.2V1521.9h1.2V1512.3h1.2V1512.8h1.2V1517.1h1.2V1526.8h1.2V1528.2h1.2V1527.3h1.2V1528.1h1.2V1524.3h1.2V1524.1h1.2V1528.3h1.2V1527.3h1.2V1527.8h1.2V1528.2h1.2V1524.9h1.2V1528.2h1.2V1517.4h1.2V1514.3h1.2V1517.3h1.2V1523.7h1.2V1524.6h1.2V1528.1h1.2V1528.3h1.2V1525.2h1.2V1528.2h1.2V1526.8h1.2V1524.2h1.2V1524.8h1.2V1528.3h1.2V1525.4h1.2V1527.1h1.2V1523.3h1.2V1519.4h1.2V1520.1h1.2V1524h1.2V1528.3h1.2V1528.2h1.2V1528.1h1.2V1528.3h1.2V1528.3Z" stroke="none" stroke-width="1" fill="#1e2a5e"/>
<line x1="620.4" y1="1528" x2="793.4" y2="1528" stroke="#1e2a5e" stroke-width="3"/>
<path d="M219.2 1576.9V1575.9h1.2V1576.6h1.2V1576.9h1.2V1576.8h1.2V1576.3h1.2V1576.5h1.2V1576.9h1.2V1576.9h1.2V1576.9h1.2V1574.2h1.2V1576.9h1.2V1576.8h1.2V1575.6h1.2V1576.9h1.2V1574.2h1.2V1576.8h1.2V1576.8h1.2V1570h1.2V1570h1.2V1576.9h1.2V1576.8h1.2V1576.7h1.2V1576.7h1.2V1576.8h1.2V1576.9h1.2V1576.9h1.2V1576.2h1.2V1574.6h1.2V1574h1.2V1574.4h1.2V1573.6h1.2V1576.5h1.2V1576.9h1.2V1576.4h1.2V1576.1h1.2V1566h1.2V1565.3h1.2V1576.6h1.2V1575.3h1.2V1576.8h1.2V1576.9h1.2V1576.9h1.2V1576h1.2V1576.9h1.2V1576.6h1.2V1574.6h1.2V1575.9h1.2V1575.2h1.2V1576.8h1.2V1574.6h1.2V1576.6h1.2V1574.5h1.2V1576.9h1.2V1576.9h1.2V1576.8h1.2V1576.7h1.2V1575h1.2V1575.4h1.2V1576.5h1.2V1576.9h1.2V1576.3h1.2V1576.7h1.2V1576.2h1.2V1574.3h1.2V1576.9h1.2V1574.8h1.2V1570.8h1.2V1567.5h1.2V1563.5h1.2V1568.2h1.2V1574.2h1.2V1574.1h1.2V1576.7h1.2V1576.9h1.2V1574.7h1.2V1574.2h1.2V1576.2h1.2V1576.3h1.2V1575.3h1.2V1576.9h1.2V1576.1h1.2V1574.6h1.2V1575.3h1.2V1576.9h1.2V1576.6h1.2V1576.3h1.2V1576.2h1.2V1576.6h1.2V1576.7h1.2V1576.6h1.2V1575.4h1.2V1576.8h1.2V1576.1h1.2V1576.9h1.2V1576.9h1.2V1575.3h1.2V1573h1.2V1571.5h1.2V1573.4h1.2V1576.9h1.2V1576h1.2V1576.6h1.2V1576.8h1.2V1576.9h1.2V1576.9h1.2V1575.3h1.2V1576.9h1.2V1576.4h1.2V1576.6h1.2V1576.7h1.2V1575.4h1.2V1573.1h1.2V1573.2h1.2V1574.7h1.2V1576.4h1.2V1576.9h1.2V1574.7h1.2V1568.9h1.2V1575.1h1.2V1576.9h1.2V1576.7h1.2V1576.7h1.2V1575.6h1.2V1576.9h1.2V1576.9h1.2V1574.7h1.2V1576h1.2V1576.2h1.2V1576.1h1.2V1576.9h1.2V1576.3h1.2V1575.5h1.2V1576.8h1.2V1576.2h1.2V1576.9h1.2V1576.6h1.2V1576.7h1.2V1575.3h1.2V1576.6h1.2V1576.5h1.2V1576.5h1.2V1576.9h1.2V1576.9h1.2V1575.3h1.2V1576.9h1.2V1574.8h1.2V1576.9h1.2V1576.1h1.2V1576.8h1.2V1576.1h1.2V1576.5h1.2V1576h1.2V1576.9h1.2V1563.2h1.2V1569.2h1.2V1576.6h1.2V1575h1.2V1575.7h1.2V1575.5h1.2V1575.4h1.2V1575.5h1.2V1576.1h1.2V1576.9h1.2V1574.3h1.2V1576.9h1.2V1574.6h1.2V1576.6h1.2V1575h1.2V1576.9h1.2V1576.8h1.2V1576.6h1.2V1576.9h1.2V1576.9h1.2V1575h1.2V1576.6h1.2V1576.8h1.2V1576.3h1.2V1576.8h1.2V1575.3h1.2V1576.7h1.2V1576.1h1.2V1576.7h1.2V1576.4h1.2V1575.8h1.2V1574.7h1.2V1575.7h1.2V1576.8h1.2V1576.9h1.2V1575.2h1.2V1575.9h1.2V1576.1h1.2V1575h1.2V1575.8h1.2V1576.9h1.2V1576.3h1.2V1576.9h1.2V1576.8h1.2V1576.4h1.2V1575.5h1.2V1576.3h1.2V1575.5h1.2V1576.9h1.2V1575.4h1.2V1575.5h1.2V1576.9h1.2V1576.8h1.2V1575h1.2V1575.7h1.2V1576.7h1.2V1576.8h1.2V1576.5h1.2V1576.9h1.2V1574.6h1.2V1576.9h1.2V1576.5h1.2V1576.4h1.2V1576.6h1.2V1576.8h1.2V1575.4h1.2V1576.7h1.2V1575.1h1.2V1576.1h1.2V1574.8h1.2V1574.1h1.2V1575.6h1.2V1576.5h1.2V1576.9h1.2V1576.7h1.2V1576.9h1.2V1576.9h1.2V1576.2h1.2V1576.9h1.2V1576.1h1.2V1576.9h1.2V1576.9h1.2V1574.9h1.2V1575.7h1.2V1568.7h1.2V1569.5h1.2V1566.9h1.2V1571.7h1.2V1574.7h1.2V1575.6h1.2V1576.6h1.2V1576.9h1.2V1576.7h1.2V1576.8h1.2V1576.7h1.2V1576.9h1.2V1576.3h1.2V1576.9h1.2V1575.1h1.2V1576.5h1.2V1576.9h1.2V1575.6h1.2V1575.6h1.2V1575.3h1.2V1576.9h1.2V1576.8h1.2V1576.9h1.2V1576.6h1.2V1575.9h1.2V1575.4h1.2V1575.8h1.2V1576.8h1.2V1576.9h1.2V1576.9h1.2V1576.1h1.2V1576.8h1.2V1574.5h1.2V1576.6h1.2V1576.8h1.2V1574.8h1.2V1576.9h1.2V1576.9h1.2V1576.8h1.2V1576.9h1.2V1575.3h1.2V1576.9h1.2V1568.4h1.2V1563.6h1.2V1567.9h1.2V1576.9h1.2V1575.1h1.2V1576.8h1.2V1574.2h1.2V1574.1h1.2V1576.9h1.2V1576.8h1.2V1576.1h1.2V1576.6h1.2V1575.8h1.2V1576.8h1.2V1575.3h1.2V1576.5h1.2V1576.6h1.2V1576.9h1.2V1576.9h1.2V1576.9h1.2V1576.8h1.2V1576.9h1.2V1576.8h1.2V1576.9h1.2V1576.9h1.2V1576.9h1.2V1576.9h1.2V1575.4h1.2V1575.9h1.2V1576.8h1.2V1576.9h1.2V1575.7h1.2V1575.1h1.2V1576.9h1.2V1576.9h1.2V1576.9h1.2V1576.5h1.2V1576.9h1.2V1576.8h1.2V1576.6h1.2V1576.9Z" stroke="none" stroke-width="1" fill="#e09c2e"/>
<line x1="219.2" y1="1576.6" x2="601.2" y2="1576.6" stroke="#e09c2e" stroke-width="1.8"/>
<path d="M620.4 1576.9V1575.1h1.2V1576.5h1.2V1575.9h1.2V1576.9h1.2V1574.1h1.2V1576.8h1.2V1576.9h1.2V1574.6h1.2V1575.1h1.2V1576.5h1.2V1574.3h1.2V1574.1h1.2V1574.2h1.2V1573.1h1.2V1573.4h1.2V1573.6h1.2V1572.9h1.2V1573h1.2V1572.7h1.2V1572.8h1.2V1574.2h1.2V1573.8h1.2V1573.8h1.2V1576.3h1.2V1575.9h1.2V1576.9h1.2V1576.2h1.2V1575.5h1.2V1576.9h1.2V1575.4h1.2V1575.3h1.2V1575.2h1.2V1576.2h1.2V1576.8h1.2V1574.2h1.2V1576.8h1.2V1576.7h1.2V1574.6h1.2V1574h1.2V1574.7h1.2V1572.3h1.2V1573.1h1.2V1572h1.2V1573.2h1.2V1572.9h1.2V1573.8h1.2V1574.3h1.2V1576.9h1.2V1575.7h1.2V1575.7h1.2V1575h1.2V1574.6h1.2V1575.1h1.2V1576.9h1.2V1575.3h1.2V1576.7h1.2V1576h1.2V1576.4h1.2V1576.8h1.2V1576.9h1.2V1576.2h1.2V1576.6h1.2V1574.5h1.2V1576.9h1.2V1575.2h1.2V1575.6h1.2V1576.9h1.2V1576.4h1.2V1575.2h1.2V1576.9h1.2V1575.5h1.2V1575.3h1.2V1575.8h1.2V1574.1h1.2V1576.9h1.2V1576.9h1.2V1576.9h1.2V1576.9h1.2V1576.9h1.2V1576.8h1.2V1576.9h1.2V1576.9h1.2V1575.6h1.2V1575.1h1.2V1575.8h1.2V1571.1h1.2V1567.8h1.2V1569.5h1.2V1576.6h1.2V1576.9h1.2V1570h1.2V1568.8h1.2V1576.6h1.2V1575.9h1.2V1576.9h1.2V1575.9h1.2V1575.7h1.2V1575.4h1.2V1576.9h1.2V1574.7h1.2V1575.7h1.2V1575.8h1.2V1576.9h1.2V1576.8h1.2V1554.5h1.2V1553h1.2V1576.9h1.2V1576.8h1.2V1576.9h1.2V1576.7h1.2V1576.7h1.2V1576.9h1.2V1574.4h1.2V1576.9h1.2V1576.9h1.2V1576.2h1.2V1576.9h1.2V1574.2h1.2V1576.5h1.2V1574.1h1.2V1572.8h1.2V1573.7h1.2V1576.5h1.2V1574.6h1.2V1576.9h1.2V1576.9h1.2V1576.5h1.2V1575.8h1.2V1576.7h1.2V1576.7h1.2V1575.2h1.2V1576h1.2V1576.9h1.2V1576.9h1.2V1575.7h1.2V1576.9h1.2V1576.9h1.2V1576.9h1.2V1574.4h1.2V1576.4h1.2V1576.6h1.2V1576.4h1.2V1576.9h1.2V1574.8h1.2V1576.9h1.2V1576.9Z" stroke="none" stroke-width="1" fill="#e09c2e"/>
<line x1="620.4" y1="1576.6" x2="793.4" y2="1576.6" stroke="#e09c2e" stroke-width="1.8"/>
<path d="M219.2 1623.9V1620.2h1.2V1623.8h1.2V1623.8h1.2V1623.1h1.2V1618.7h1.2V1619.5h1.2V1621h1.2V1618h1.2V1618h1.2V1623.9h1.2V1623.8h1.2V1623.8h1.2V1609.7h1.2V1621.1h1.2V1623.5h1.2V1623.1h1.2V1623.7h1.2V1622.3h1.2V1621.4h1.2V1623.7h1.2V1623.7h1.2V1623.5h1.2V1623.7h1.2V1621.1h1.2V1621.6h1.2V1623.9h1.2V1621.3h1.2V1623.8h1.2V1623.9h1.2V1621.3h1.2V1623.9h1.2V1619.8h1.2V1617.7h1.2V1606.8h1.2V1621.2h1.2V1621.6h1.2V1622.4h1.2V1622.6h1.2V1623.9h1.2V1623.2h1.2V1622.7h1.2V1623.9h1.2V1618.8h1.2V1621h1.2V1623.9h1.2V1622.7h1.2V1623.9h1.2V1617.1h1.2V1623.8h1.2V1623.3h1.2V1623h1.2V1620.4h1.2V1623.9h1.2V1619.7h1.2V1623.9h1.2V1623.8h1.2V1623.6h1.2V1619.1h1.2V1623.9h1.2V1623.9h1.2V1623.8h1.2V1623.7h1.2V1623.2h1.2V1617.8h1.2V1622.7h1.2V1623.5h1.2V1613.2h1.2V1605.6h1.2V1604.1h1.2V1608.5h1.2V1623.7h1.2V1620.6h1.2V1621.9h1.2V1618.6h1.2V1619.4h1.2V1623.7h1.2V1623.2h1.2V1623.9h1.2V1623.9h1.2V1621.2h1.2V1620.6h1.2V1623.7h1.2V1622.8h1.2V1620.5h1.2V1623.9h1.2V1623.7h1.2V1622.6h1.2V1621.4h1.2V1623.8h1.2V1623.5h1.2V1623.9h1.2V1617h1.2V1623.8h1.2V1623.8h1.2V1620.3h1.2V1623.9h1.2V1623.9h1.2V1617.8h1.2V1623.5h1.2V1623.7h1.2V1623.9h1.2V1621.1h1.2V1622.1h1.2V1623.7h1.2V1623.5h1.2V1623.9h1.2V1623.8h1.2V1623.5h1.2V1623.4h1.2V1623.6h1.2V1623.8h1.2V1623.9h1.2V1623.3h1.2V1623.9h1.2V1622.9h1.2V1622.9h1.2V1615.2h1.2V1606.1h1.2V1621.6h1.2V1623.4h1.2V1619.3h1.2V1620h1.2V1623.9h1.2V1621.7h1.2V1618.1h1.2V1622h1.2V1623.9h1.2V1623.8h1.2V1621.5h1.2V1623.9h1.2V1623.9h1.2V1622.4h1.2V1622.8h1.2V1622.4h1.2V1623.8h1.2V1622.1h1.2V1623.8h1.2V1621.3h1.2V1623.2h1.2V1623.9h1.2V1621.7h1.2V1620.3h1.2V1619.6h1.2V1620.7h1.2V1623.8h1.2V1622.1h1.2V1623.9h1.2V1622.7h1.2V1619h1.2V1623.9h1.2V1621.8h1.2V1621.9h1.2V1623.8h1.2V1612.7h1.2V1604.3h1.2V1619.2h1.2V1619.8h1.2V1622.3h1.2V1623.7h1.2V1623.1h1.2V1620h1.2V1621.3h1.2V1619.3h1.2V1623.8h1.2V1621.9h1.2V1622.5h1.2V1623.8h1.2V1623.8h1.2V1623.9h1.2V1617.6h1.2V1623.8h1.2V1621.3h1.2V1623.1h1.2V1621.5h1.2V1618.8h1.2V1623.9h1.2V1623.8h1.2V1622.2h1.2V1622.3h1.2V1619.3h1.2V1623.3h1.2V1620.8h1.2V1623.9h1.2V1621.9h1.2V1623.7h1.2V1623.5h1.2V1619.7h1.2V1621.3h1.2V1623h1.2V1623.9h1.2V1618.5h1.2V1618.3h1.2V1618.5h1.2V1623.6h1.2V1622.9h1.2V1622.7h1.2V1622.7h1.2V1623.2h1.2V1623.5h1.2V1607.2h1.2V1623.9h1.2V1617.8h1.2V1617h1.2V1618.4h1.2V1623.8h1.2V1621.1h1.2V1623.9h1.2V1623.1h1.2V1623.6h1.2V1623.9h1.2V1623.9h1.2V1623.9h1.2V1623.7h1.2V1619.4h1.2V1623.8h1.2V1621.1h1.2V1623.9h1.2V1622h1.2V1620.9h1.2V1623.6h1.2V1623.4h1.2V1622.1h1.2V1623.8h1.2V1623.9h1.2V1623.9h1.2V1623.9h1.2V1622.3h1.2V1623.9h1.2V1613.2h1.2V1607.1h1.2V1623.3h1.2V1623.9h1.2V1621.3h1.2V1617.1h1.2V1623.3h1.2V1623.8h1.2V1622.4h1.2V1621.8h1.2V1623.8h1.2V1623.9h1.2V1620.2h1.2V1623.6h1.2V1608.5h1.2V1605.5h1.2V1622.6h1.2V1619.8h1.2V1619.2h1.2V1623.6h1.2V1622h1.2V1622.8h1.2V1623.1h1.2V1623.7h1.2V1623.8h1.2V1623.3h1.2V1623.8h1.2V1623.1h1.2V1622.8h1.2V1622.9h1.2V1617.6h1.2V1619.6h1.2V1623.8h1.2V1623.9h1.2V1622.8h1.2V1623.3h1.2V1620.2h1.2V1623.9h1.2V1622.6h1.2V1622.1h1.2V1622h1.2V1623.9h1.2V1623.9h1.2V1620.4h1.2V1617.9h1.2V1617.9h1.2V1621.7h1.2V1622.5h1.2V1620.9h1.2V1622.7h1.2V1612.2h1.2V1606.2h1.2V1603.9h1.2V1605.3h1.2V1610.4h1.2V1623.5h1.2V1620.2h1.2V1623.7h1.2V1623.1h1.2V1620.3h1.2V1621.6h1.2V1623.7h1.2V1623.8h1.2V1623.8h1.2V1623.6h1.2V1622.8h1.2V1616.9h1.2V1622.1h1.2V1623.4h1.2V1621.1h1.2V1623.9h1.2V1622.5h1.2V1622.9h1.2V1620.1h1.2V1622.5h1.2V1623h1.2V1618.9h1.2V1622.6h1.2V1618.3h1.2V1618.3h1.2V1623.9h1.2V1623.9h1.2V1623.7h1.2V1621.6h1.2V1622.8h1.2V1623.9h1.2V1622.2h1.2V1623.9h1.2V1621.2h1.2V1621.8h1.2V1622.9h1.2V1623.9Z" stroke="none" stroke-width="1" fill="#3a7a32"/>
<line x1="219.2" y1="1623.6" x2="601.2" y2="1623.6" stroke="#3a7a32" stroke-width="1.8"/>
<path d="M620.4 1623.9V1623.9h1.2V1620.3h1.2V1623.8h1.2V1623.9h1.2V1619.4h1.2V1623.9h1.2V1623.8h1.2V1621.2h1.2V1619.5h1.2V1623.5h1.2V1616.9h1.2V1622.8h1.2V1623.1h1.2V1618h1.2V1623.6h1.2V1619.4h1.2V1617.8h1.2V1622.5h1.2V1622.1h1.2V1619.1h1.2V1622.9h1.2V1623.6h1.2V1623.7h1.2V1620.9h1.2V1623.6h1.2V1623.9h1.2V1623.9h1.2V1619.6h1.2V1619.9h1.2V1623.6h1.2V1620.8h1.2V1623.9h1.2V1623.8h1.2V1623.7h1.2V1623.8h1.2V1623.4h1.2V1623.9h1.2V1619.8h1.2V1619.1h1.2V1622.8h1.2V1620.7h1.2V1617.9h1.2V1623.8h1.2V1623.8h1.2V1623.4h1.2V1623.6h1.2V1623.9h1.2V1623.9h1.2V1623.9h1.2V1623.9h1.2V1620.1h1.2V1621.9h1.2V1623.9h1.2V1622.4h1.2V1623.3h1.2V1621.3h1.2V1623.9h1.2V1623.4h1.2V1620.5h1.2V1621h1.2V1623.1h1.2V1622.5h1.2V1623.6h1.2V1621.5h1.2V1621.3h1.2V1620.2h1.2V1623.2h1.2V1622.7h1.2V1620.5h1.2V1623.8h1.2V1623.9h1.2V1622.9h1.2V1623.4h1.2V1623.9h1.2V1623h1.2V1620.8h1.2V1617.7h1.2V1617h1.2V1623.9h1.2V1623.2h1.2V1617.3h1.2V1623.9h1.2V1623.7h1.2V1622.1h1.2V1623.8h1.2V1623.9h1.2V1623h1.2V1623.7h1.2V1622h1.2V1623.6h1.2V1622.5h1.2V1622.8h1.2V1618.9h1.2V1623.3h1.2V1623.9h1.2V1623.6h1.2V1623.4h1.2V1623.9h1.2V1617.5h1.2V1623.7h1.2V1620.4h1.2V1621.2h1.2V1623h1.2V1623.7h1.2V1623.5h1.2V1623.5h1.2V1623.9h1.2V1623.9h1.2V1623.2h1.2V1623.9h1.2V1623.9h1.2V1623.9h1.2V1623.8h1.2V1620h1.2V1622.9h1.2V1620h1.2V1623.3h1.2V1623.9h1.2V1622.2h1.2V1620.7h1.2V1623.8h1.2V1623h1.2V1623.5h1.2V1623.5h1.2V1623.1h1.2V1617.1h1.2V1623.8h1.2V1623.9h1.2V1622.6h1.2V1623.9h1.2V1623.9h1.2V1623.9h1.2V1623.8h1.2V1620.1h1.2V1618.8h1.2V1618.2h1.2V1623.9h1.2V1617.3h1.2V1617.3h1.2V1621.6h1.2V1621.6h1.2V1623.3h1.2V1618.2h1.2V1617.8h1.2V1623.2h1.2V1623.9Z" stroke="none" stroke-width="1" fill="#3a7a32"/>
<line x1="620.4" y1="1623.6" x2="793.4" y2="1623.6" stroke="#3a7a32" stroke-width="1.8"/>
<path d="M600 1537L610 1519M608 1537L618 1519M600 1585L610 1567M608 1585L618 1567M600 1632L610 1614M608 1632L618 1614" stroke="#000" stroke-width="1.5" fill="none"/>
<text x="1003.7" y="1289.4" font-size="23.7">Chr. 6</text>
<path d="M1083.7 1279V1290.8H1159V1279" stroke="#000" stroke-width="1.8" fill="none"/>
<text x="1092" y="1284" font-size="23.7">10 Kb</text>
<text x="934" y="1330" font-size="23.7">Chimeric reads</text>
<path d="M1192.6 1343.5L1192.7 1340.4L1193.1 1337.6L1193.6 1335L1194.5 1332.5L1195.5 1330.1L1196.8 1327.7L1198.3 1325.3L1200 1323L1201.9 1320.8L1204.1 1318.6L1206.5 1316.5L1209.1 1314.4L1211.9 1312.3L1215 1310.3L1218.3 1308.4L1221.7 1306.4L1225.4 1304.6L1229.3 1302.8L1233.4 1301L1237.6 1299.3L1242.1 1297.7L1246.8 1296.1L1251.6 1294.6L1256.6 1293.1L1261.8 1291.7L1267.2 1290.4L1272.8 1289.1L1278.5 1287.8L1284.4 1286.7L1290.4 1285.6L1296.6 1284.6L1303 1283.6L1309.5 1282.7L1316.2 1281.9L1323 1281.1L1329.9 1280.4L1337 1279.8L1344.3 1279.3L1351.7 1278.8L1359.3 1278.4L1367.1 1278.1L1375 1277.8L1383.3 1277.6L1392 1277.5L1401.9 1277.5L1411.8 1277.5L1420.5 1277.6L1428.8 1277.8L1436.7 1278.1L1444.5 1278.4L1452.1 1278.8L1459.5 1279.3L1466.8 1279.8L1473.9 1280.4L1480.8 1281.1L1487.6 1281.9L1494.3 1282.7L1500.8 1283.6L1507.2 1284.6L1513.4 1285.6L1519.4 1286.7L1525.3 1287.8L1531 1289.1L1536.6 1290.4L1542 1291.7L1547.2 1293.1L1552.2 1294.6L1557 1296.1L1561.7 1297.7L1566.2 1299.3L1570.4 1301L1574.5 1302.8L1578.4 1304.6L1582.1 1306.4L1585.5 1308.4L1588.8 1310.3L1591.9 1312.3L1594.7 1314.4L1597.3 1316.5L1599.7 1318.6L1601.9 1320.8L1603.8 1323L1605.5 1325.3L1607 1327.7L1608.3 1330.1L1609.3 1332.5L1610.2 1335L1610.7 1337.6L1611.1 1340.4L1611.2 1343.5" stroke="#2a2a9a" stroke-width="1.5" fill="none"/>
<rect x="1110.7" y="1343.7" width="156.3" height="11.1" fill="#cf5b1c"/>
<text x="1278.2" y="1357" font-size="23.7" font-style="italic">TE19551</text>
<rect x="1578" y="1343.7" width="73.7" height="11.1" fill="#4c9a40"/>
<text x="1528.5" y="1356" font-size="23.7">Pro.</text>
<line x1="1192.6" y1="1303.8" x2="1192.6" y2="1404.4" stroke="#000" stroke-width="1.5" stroke-dasharray="3 2.2"/>
<text x="1200.8" y="1390.6" font-size="23.7">rs9269081</text>
<line x1="1192.6" y1="1404.4" x2="1218.8" y2="1392" stroke="#000" stroke-width="1"/>
<text x="927.3" y="1417.4" font-size="23.7">GWAS variants</text>
<path d="M1100.2 1404.4V1416.8" stroke="#6a6acc" stroke-width="1.3"/>
<path d="M1103 1404.4V1416.8" stroke="#7878d4" stroke-width="1.3"/>
<path d="M1106.5 1404.4V1416.8" stroke="#2c2ca0" stroke-width="1.3"/>
<path d="M1119.6 1404.4V1416.8" stroke="#2c2ca0" stroke-width="1.3"/>
<path d="M1125 1404.4V1416.8" stroke="#9a9ade" stroke-width="1.3"/>
<path d="M1127.5 1404.4V1416.8" stroke="#2c2ca0" stroke-width="1.3"/>
<path d="M1130 1404.4V1416.8" stroke="#9a9ade" stroke-width="1.3"/>
<path d="M1132.5 1404.4V1416.8" stroke="#9a9ade" stroke-width="1.3"/>
<path d="M1134.5 1404.4V1416.8" stroke="#6a6acc" stroke-width="1.3"/>
<path d="M1137 1404.4V1416.8" stroke="#2c2ca0" stroke-width="1.3"/>
<path d="M1139 1404.4V1416.8" stroke="#7878d4" stroke-width="1.3"/>
<path d="M1149.8 1404.4V1416.8" stroke="#5a5ac8" stroke-width="1.3"/>
<path d="M1154 1404.4V1416.8" stroke="#9a9ade" stroke-width="1.3"/>
<path d="M1162 1404.4V1416.8" stroke="#6a6acc" stroke-width="1.3"/>
<path d="M1166 1404.4V1416.8" stroke="#7878d4" stroke-width="1.3"/>
<path d="M1170.5 1404.4V1416.8" stroke="#2c2ca0" stroke-width="1.3"/>
<path d="M1185.7 1404.4V1416.8" stroke="#3a3ab0" stroke-width="1.3"/>
<path d="M1189 1404.4V1416.8" stroke="#3a3ab0" stroke-width="1.3"/>
<path d="M1192 1404.4V1416.8" stroke="#5a5ac8" stroke-width="1.3"/>
<path d="M1196 1404.4V1416.8" stroke="#6a6acc" stroke-width="1.3"/>
<path d="M1200.8 1404.4V1416.8" stroke="#6a6acc" stroke-width="1.3"/>
<path d="M1207.7 1404.4V1416.8" stroke="#7878d4" stroke-width="1.3"/>
<path d="M1211 1404.4V1416.8" stroke="#3a3ab0" stroke-width="1.3"/>
<path d="M1214 1404.4V1416.8" stroke="#9a9ade" stroke-width="1.3"/>
<path d="M1216.5 1404.4V1416.8" stroke="#5a5ac8" stroke-width="1.3"/>
<path d="M1219 1404.4V1416.8" stroke="#3a3ab0" stroke-width="1.3"/>
<path d="M1222 1404.4V1416.8" stroke="#9a9ade" stroke-width="1.3"/>
<path d="M1225 1404.4V1416.8" stroke="#2c2ca0" stroke-width="1.3"/>
<path d="M1228.4 1404.4V1416.8" stroke="#3a3ab0" stroke-width="1.3"/>
<path d="M1234 1404.4V1416.8" stroke="#7878d4" stroke-width="1.3"/>
<path d="M1238 1404.4V1416.8" stroke="#5a5ac8" stroke-width="1.3"/>
<path d="M1242 1404.4V1416.8" stroke="#3a3ab0" stroke-width="1.3"/>
<path d="M1246.5 1404.4V1416.8" stroke="#2c2ca0" stroke-width="1.3"/>
<path d="M1250 1404.4V1416.8" stroke="#5a5ac8" stroke-width="1.3"/>
<path d="M1253 1404.4V1416.8" stroke="#9a9ade" stroke-width="1.3"/>
<path d="M1257 1404.4V1416.8" stroke="#3a3ab0" stroke-width="1.3"/>
<path d="M1261.5 1404.4V1416.8" stroke="#6a6acc" stroke-width="1.3"/>
<path d="M1271 1404.4V1416.8" stroke="#6a6acc" stroke-width="1.3"/>
<path d="M1274 1404.4V1416.8" stroke="#5a5ac8" stroke-width="1.3"/>
<path d="M1277.5 1404.4V1416.8" stroke="#6a6acc" stroke-width="1.3"/>
<path d="M1281 1404.4V1416.8" stroke="#3a3ab0" stroke-width="1.3"/>
<path d="M1285 1404.4V1416.8" stroke="#9a9ade" stroke-width="1.3"/>
<path d="M1288 1404.4V1416.8" stroke="#6a6acc" stroke-width="1.3"/>
<path d="M1292 1404.4V1416.8" stroke="#6a6acc" stroke-width="1.3"/>
<path d="M1296 1404.4V1416.8" stroke="#3a3ab0" stroke-width="1.3"/>
<path d="M1300.5 1404.4V1416.8" stroke="#6a6acc" stroke-width="1.3"/>
<path d="M1305.6 1404.4V1416.8" stroke="#9a9ade" stroke-width="1.3"/>
<path d="M1316.2 1404.4V1416.8" stroke="#9a9ade" stroke-width="1.3"/>
<path d="M1338.2 1404.4V1416.8" stroke="#3a3ab0" stroke-width="1.3"/>
<path d="M1398.9 1404.4V1416.8" stroke="#6a6acc" stroke-width="1.3"/>
<path d="M1401.6 1404.4V1416.8" stroke="#2c2ca0" stroke-width="1.3"/>
<path d="M1404.4 1404.4V1416.8" stroke="#3a3ab0" stroke-width="1.3"/>
<path d="M1421 1404.4V1416.8" stroke="#2c2ca0" stroke-width="1.3"/>
<path d="M1428 1404.4V1416.8" stroke="#3a3ab0" stroke-width="1.3"/>
<path d="M1432 1404.4V1416.8" stroke="#6a6acc" stroke-width="1.3"/>
<path d="M1436 1404.4V1416.8" stroke="#5a5ac8" stroke-width="1.3"/>
<path d="M1469 1404.4V1416.8" stroke="#6a6acc" stroke-width="1.3"/>
<path d="M1477.5 1404.4V1416.8" stroke="#6a6acc" stroke-width="1.3"/>
<path d="M1496.8 1404.4V1416.8" stroke="#2c2ca0" stroke-width="1.3"/>
<path d="M1513 1404.4V1416.8" stroke="#2c2ca0" stroke-width="1.3"/>
<path d="M1516 1404.4V1416.8" stroke="#3a3ab0" stroke-width="1.3"/>
<path d="M1519 1404.4V1416.8" stroke="#7878d4" stroke-width="1.3"/>
<path d="M1522 1404.4V1416.8" stroke="#6a6acc" stroke-width="1.3"/>
<path d="M1525 1404.4V1416.8" stroke="#2c2ca0" stroke-width="1.3"/>
<path d="M1528 1404.4V1416.8" stroke="#6a6acc" stroke-width="1.3"/>
<path d="M1531 1404.4V1416.8" stroke="#2c2ca0" stroke-width="1.3"/>
<path d="M1534 1404.4V1416.8" stroke="#7878d4" stroke-width="1.3"/>
<path d="M1538 1404.4V1416.8" stroke="#3a3ab0" stroke-width="1.3"/>
<path d="M1541 1404.4V1416.8" stroke="#6a6acc" stroke-width="1.3"/>
<path d="M1544 1404.4V1416.8" stroke="#3a3ab0" stroke-width="1.3"/>
<path d="M1547 1404.4V1416.8" stroke="#7878d4" stroke-width="1.3"/>
<path d="M1550 1404.4V1416.8" stroke="#3a3ab0" stroke-width="1.3"/>
<path d="M1553 1404.4V1416.8" stroke="#2c2ca0" stroke-width="1.3"/>
<path d="M1556 1404.4V1416.8" stroke="#6a6acc" stroke-width="1.3"/>
<path d="M1560 1404.4V1416.8" stroke="#2c2ca0" stroke-width="1.3"/>
<path d="M1572.6 1404.4V1416.8" stroke="#6a6acc" stroke-width="1.3"/>
<path d="M1576 1404.4V1416.8" stroke="#5a5ac8" stroke-width="1.3"/>
<path d="M1580 1404.4V1416.8" stroke="#2c2ca0" stroke-width="1.3"/>
<path d="M1584 1404.4V1416.8" stroke="#2c2ca0" stroke-width="1.3"/>
<path d="M1589 1404.4V1416.8" stroke="#2c2ca0" stroke-width="1.3"/>
<path d="M1598.8 1404.4V1416.8" stroke="#5a5ac8" stroke-width="1.3"/>
<path d="M1601.5 1404.4V1416.8" stroke="#7878d4" stroke-width="1.3"/>
<path d="M1604.3 1404.4V1416.8" stroke="#5a5ac8" stroke-width="1.3"/>
<path d="M1612.5 1404.4V1416.8" stroke="#7878d4" stroke-width="1.3"/>
<path d="M1623.6 1404.4V1416.8" stroke="#7878d4" stroke-width="1.3"/>
<path d="M1636 1404.4V1416.8" stroke="#5a5ac8" stroke-width="1.3"/>
<path d="M1639.5 1404.4V1416.8" stroke="#6a6acc" stroke-width="1.3"/>
<path d="M1643 1404.4V1416.8" stroke="#5a5ac8" stroke-width="1.3"/>
<path d="M1647 1404.4V1416.8" stroke="#6a6acc" stroke-width="1.3"/>
<path d="M1658 1404.4V1416.8" stroke="#5a5ac8" stroke-width="1.3"/>
<line x1="1520" y1="1447" x2="1614" y2="1447" stroke="#000" stroke-width="1.2"/>
<line x1="1614" y1="1440" x2="1614" y2="1454" stroke="#000" stroke-width="1.6"/>
<path d="M1519 1441h4v12h-4ZM1524.5 1441h1.6v12h-1.6ZM1527.5 1441h1.6v12h-1.6ZM1531 1441h2.5v12h-2.5ZM1552 1440h2.4v14h-2.4Z" stroke="none" stroke-width="1" fill="#000"/>
<path d="M1537 1447l2.5 -2.5M1537 1447l2.5 2.5M1568 1447l2.5 -2.5M1568 1447l2.5 2.5M1592 1447l2.5 -2.5M1592 1447l2.5 2.5" stroke="#000" stroke-width="1" fill="none"/>
<text x="1469.7" y="1481" font-size="23.7" font-style="italic">HLA-DRB5</text>
<text x="934.8" y="1518.6" font-size="23.7">H3K4me1</text>
<text x="1081" y="1503.4" font-size="19" text-anchor="end">10</text>
<text x="1081" y="1529.6" font-size="19" text-anchor="end">0</text>
<path d="M1083.3 1497H1089.3V1528.2H1083.3" stroke="#000" stroke-width="1.4" fill="none"/>
<text x="934.8" y="1568.8" font-size="23.7">H3K27ac</text>
<text x="1081" y="1551" font-size="19" text-anchor="end">50</text>
<text x="1081" y="1577.9" font-size="19" text-anchor="end">0</text>
<path d="M1083.3 1545.3H1089.3V1576.5H1083.3" stroke="#000" stroke-width="1.4" fill="none"/>
<text x="934.8" y="1615.1" font-size="23.7">H3K4me3</text>
<text x="1081" y="1602.7" font-size="19" text-anchor="end">20</text>
<text x="1081" y="1630.3" font-size="19" text-anchor="end">0</text>
<path d="M1083.3 1592.5H1089.3V1623.9H1083.3" stroke="#000" stroke-width="1.4" fill="none"/>
<path d="M1098.4 1528.2V1527.4h1.2V1528.2h1.2V1527.6h1.2V1525.7h1.2V1528.2h1.2V1526.5h1.2V1528.2h1.2V1527.1h1.2V1528.1h1.2V1528.1h1.2V1518.4h1.2V1518h1.2V1526.6h1.2V1525.9h1.2V1526.2h1.2V1526.3h1.2V1524.6h1.2V1523.6h1.2V1526.8h1.2V1526.3h1.2V1528.1h1.2V1528.2h1.2V1528h1.2V1528.2h1.2V1526.6h1.2V1527.9h1.2V1528.1h1.2V1528.1h1.2V1527.8h1.2V1527.9h1.2V1527.3h1.2V1528.2h1.2V1527.5h1.2V1527.6h1.2V1528.2h1.2V1527.7h1.2V1528.2h1.2V1527.2h1.2V1527.9h1.2V1526.4h1.2V1526.7h1.2V1526.6h1.2V1527.7h1.2V1528.2h1.2V1528.2h1.2V1527.8h1.2V1528.1h1.2V1525.9h1.2V1528.2h1.2V1528.2h1.2V1528.1h1.2V1528.2h1.2V1528.1h1.2V1527.8h1.2V1525.6h1.2V1528h1.2V1527h1.2V1527.1h1.2V1528.2h1.2V1528.1h1.2V1526.6h1.2V1527h1.2V1528.2h1.2V1528.2h1.2V1527.2h1.2V1528.2h1.2V1528.2h1.2V1528.2h1.2V1524.3h1.2V1524.9h1.2V1525.1h1.2V1523.6h1.2V1526.9h1.2V1527.8h1.2V1527.8h1.2V1518.8h1.2V1522.9h1.2V1518.9h1.2V1527.8h1.2V1527.6h1.2V1519.7h1.2V1518.7h1.2V1521h1.2V1528.2h1.2V1520.3h1.2V1520.9h1.2V1518.9h1.2V1522.7h1.2V1527.8h1.2V1528.2h1.2V1527.2h1.2V1525.6h1.2V1527.9h1.2V1526.2h1.2V1528.2h1.2V1528.2h1.2V1527.3h1.2V1527.6h1.2V1527.7h1.2V1528h1.2V1527.8h1.2V1527.1h1.2V1527h1.2V1528.2h1.2V1528.2h1.2V1528.1h1.2V1526.5h1.2V1528.1h1.2V1527.9h1.2V1528.1h1.2V1526.8h1.2V1528.2h1.2V1526.6h1.2V1526.8h1.2V1528.2h1.2V1523.9h1.2V1524.5h1.2V1524.9h1.2V1526.4h1.2V1528.2h1.2V1528.2h1.2V1527h1.2V1528.2h1.2V1525.7h1.2V1527h1.2V1523.5h1.2V1518.7h1.2V1520.5h1.2V1526.5h1.2V1528.1h1.2V1528.2h1.2V1528h1.2V1521.4h1.2V1523.7h1.2V1521.3h1.2V1528.2h1.2V1527.3h1.2V1525.7h1.2V1523.4h1.2V1524.3h1.2V1527h1.2V1527.1h1.2V1528.2h1.2V1528h1.2V1528.2h1.2V1527.1h1.2V1528.2h1.2V1526.3h1.2V1528.1h1.2V1527.3h1.2V1526.9h1.2V1527.8h1.2V1527.6h1.2V1528.1h1.2V1528.1h1.2V1526.2h1.2V1525.9h1.2V1528.2h1.2V1527.5h1.2V1527.9h1.2V1528.2h1.2V1528.2h1.2V1526.5h1.2V1527.5h1.2V1528.2h1.2V1528.1h1.2V1528.2h1.2V1528h1.2V1527h1.2V1526.5h1.2V1528.2h1.2V1526.6h1.2V1526.2h1.2V1528.2h1.2V1527.7h1.2V1528.2h1.2V1526.3h1.2V1528.1h1.2V1527h1.2V1528.2h1.2V1528.1h1.2V1527.8h1.2V1528.2h1.2V1527.7h1.2V1527.1h1.2V1528.2h1.2V1526.1h1.2V1528.2h1.2V1528.2h1.2V1528.1h1.2V1528.2h1.2V1526h1.2V1526.9h1.2V1526.6h1.2V1526.8h1.2V1528.2h1.2V1527.6h1.2V1528.2h1.2V1527.7h1.2V1527.1h1.2V1528h1.2V1528.2h1.2V1527.9h1.2V1526.6h1.2V1526.9h1.2V1527.8h1.2V1527.4h1.2V1528.2h1.2V1527.8h1.2V1527.7h1.2V1527.4h1.2V1528.2h1.2V1528.1h1.2V1527.5h1.2V1525.9h1.2V1526.9h1.2V1527.2h1.2V1528.2h1.2V1528.2h1.2V1527.3h1.2V1528.2h1.2V1528h1.2V1527.6h1.2V1528.2h1.2V1525.9h1.2V1528.1h1.2V1528.1h1.2V1527.6h1.2V1527.3h1.2V1527.6h1.2V1527.6h1.2V1527.6h1.2V1528.1h1.2V1527h1.2V1526.2h1.2V1527.3h1.2V1528.2h1.2V1528.2h1.2V1528h1.2V1528.2h1.2V1527.8h1.2V1527.8h1.2V1528.1h1.2V1528.2h1.2V1528.2h1.2V1528h1.2V1527.9h1.2V1528.2h1.2V1528.2h1.2V1527.6h1.2V1523h1.2V1523h1.2V1527.9h1.2V1527.3h1.2V1527.6h1.2V1528.2h1.2V1527.8h1.2V1528h1.2V1527.5h1.2V1528h1.2V1528.2h1.2V1528.1h1.2V1527h1.2V1526.3h1.2V1526.4h1.2V1527.4h1.2V1528h1.2V1527.6h1.2V1528h1.2V1527.4h1.2V1526.4h1.2V1528.2h1.2V1528.1h1.2V1527.1h1.2V1528.1h1.2V1527.4h1.2V1527.9h1.2V1528h1.2V1527.8h1.2V1528.1h1.2V1528.2h1.2V1528.2h1.2V1526.1h1.2V1528.2h1.2V1528.1h1.2V1526.6h1.2V1526.5h1.2V1528.2h1.2V1528h1.2V1527.6h1.2V1528.1h1.2V1526.9h1.2V1528.2h1.2V1528.2h1.2V1528.2h1.2V1528.2h1.2V1525.7h1.2V1528.2h1.2V1528.2h1.2V1528.1h1.2V1528.2h1.2V1527.9h1.2V1528.1h1.2V1528.2h1.2V1526.8h1.2V1526.2h1.2V1526.6h1.2V1528.2h1.2V1527.8h1.2V1526.6h1.2V1527h1.2V1528.2h1.2V1528.2h1.2V1526.8h1.2V1521.6h1.2V1524.3h1.2V1527.9h1.2V1527.6h1.2V1526.2h1.2V1527.4h1.2V1528.1h1.2V1526h1.2V1528.1h1.2V1528.2h1.2V1528.2h1.2V1527.9h1.2V1527.8h1.2V1528.2h1.2V1526.5h1.2V1528.2h1.2V1528.2h1.2V1528h1.2V1528.2h1.2V1526h1.2V1526.2h1.2V1528.2h1.2V1528.1h1.2V1527.3h1.2V1526.6h1.2V1528h1.2V1528.2h1.2V1528.2h1.2V1527.8h1.2V1528.2h1.2V1525.8h1.2V1527.9h1.2V1528.1h1.2V1528h1.2V1527.8h1.2V1528.2h1.2V1528.2h1.2V1528.2h1.2V1528.2h1.2V1525h1.2V1525.4h1.2V1526.2h1.2V1525.1h1.2V1526.7h1.2V1526.8h1.2V1527.9h1.2V1528.2h1.2V1528.1h1.2V1526.1h1.2V1523.2h1.2V1523.4h1.2V1528.1h1.2V1528h1.2V1527.6h1.2V1527.9h1.2V1528.2h1.2V1526.9h1.2V1528.1h1.2V1527.7h1.2V1528.1h1.2V1526.1h1.2V1527.2h1.2V1527.6h1.2V1526.3h1.2V1527.8h1.2V1526.9h1.2V1527.5h1.2V1528h1.2V1528.1h1.2V1526.3h1.2V1528.2h1.2V1528.2h1.2V1527.1h1.2V1528.2h1.2V1526.2h1.2V1528.2h1.2V1526.9h1.2V1525.7h1.2V1525.6h1.2V1524.8h1.2V1525.2h1.2V1527h1.2V1528.2h1.2V1527.3h1.2V1527.8h1.2V1528.2h1.2V1528.2h1.2V1527h1.2V1527.3h1.2V1527.1h1.2V1528.2h1.2V1527.8h1.2V1527.2h1.2V1528.2h1.2V1527.9h1.2V1528.1h1.2V1527.5h1.2V1527.8h1.2V1528.1h1.2V1528h1.2V1526.6h1.2V1528.2h1.2V1527.2h1.2V1528.1h1.2V1527h1.2V1528.2h1.2V1526h1.2V1519.4h1.2V1520.8h1.2V1526.1h1.2V1528h1.2V1528.2h1.2V1523.5h1.2V1519.6h1.2V1520.2h1.2V1521.2h1.2V1528.2h1.2V1525.9h1.2V1521.6h1.2V1519.4h1.2V1519.7h1.2V1528.2h1.2V1527.2h1.2V1527.3h1.2V1527h1.2V1528.2h1.2V1528.1h1.2V1527.9h1.2V1528.2h1.2V1525.9h1.2V1526.4h1.2V1528.2h1.2V1528.2h1.2V1527.8h1.2V1528.1h1.2V1527.9h1.2V1528h1.2V1528.2h1.2V1528.1h1.2V1527.2h1.2V1526.9h1.2V1528.2h1.2V1527.6h1.2V1528.2h1.2V1528.1h1.2V1528h1.2V1526.7h1.2V1528.2h1.2V1527.9h1.2V1528.2h1.2V1528.2h1.2V1525.6h1.2V1527.7h1.2V1526.7h1.2V1526.7h1.2V1528.2h1.2V1528.2h1.2V1528.1h1.2V1528.2h1.2V1526.9h1.2V1526.9h1.2V1527.8h1.2V1527.9h1.2V1527.7h1.2V1527.7h1.2V1528.2h1.2V1527.7h1.2V1525.7h1.2V1526.1h1.2V1528h1.2V1526.3h1.2V1528.2h1.2V1527h1.2V1528.2Z" stroke="none" stroke-width="1" fill="#1e2a5e"/>
<line x1="1098.4" y1="1527.9" x2="1682.5" y2="1527.9" stroke="#1e2a5e" stroke-width="1.6"/>
<path d="M1098.4 1576.2V1576.2h1.2V1576.2h1.2V1576.1h1.2V1576h1.2V1576.2h1.2V1576h1.2V1576.2h1.2V1576.2h1.2V1575.9h1.2V1575.8h1.2V1576.2h1.2V1575.9h1.2V1576.1h1.2V1575.9h1.2V1576.1h1.2V1576h1.2V1576.2h1.2V1576.1h1.2V1576.2h1.2V1576.2h1.2V1576.2h1.2V1576.1h1.2V1576.2h1.2V1575.8h1.2V1575.9h1.2V1576.1h1.2V1576.2h1.2V1576.1h1.2V1576h1.2V1576.2h1.2V1575.9h1.2V1576.2h1.2V1576.2h1.2V1576.2h1.2V1576.2h1.2V1576.1h1.2V1576.2h1.2V1576.1h1.2V1576.2h1.2V1576.1h1.2V1576h1.2V1576.2h1.2V1576.2h1.2V1576.2h1.2V1576.2h1.2V1575.8h1.2V1576.2h1.2V1576h1.2V1576.2h1.2V1575.9h1.2V1576.2h1.2V1576h1.2V1576.2h1.2V1575.8h1.2V1576.2h1.2V1576h1.2V1576.2h1.2V1576.2h1.2V1576.2h1.2V1576.2h1.2V1576.2h1.2V1576.2h1.2V1575.9h1.2V1576.2h1.2V1576.2h1.2V1576.2h1.2V1575.9h1.2V1575.9h1.2V1576.1h1.2V1576.2h1.2V1576.2h1.2V1576.2h1.2V1576.2h1.2V1572.5h1.2V1571h1.2V1569.1h1.2V1570.4h1.2V1573h1.2V1576.2h1.2V1565.1h1.2V1559.7h1.2V1563.7h1.2V1568.7h1.2V1570.7h1.2V1570.3h1.2V1570.3h1.2V1569.7h1.2V1576.1h1.2V1575.8h1.2V1576.2h1.2V1576.2h1.2V1576.2h1.2V1576.2h1.2V1576.2h1.2V1575.8h1.2V1576.2h1.2V1575.9h1.2V1575.9h1.2V1576.2h1.2V1576h1.2V1576h1.2V1575.8h1.2V1575.9h1.2V1576h1.2V1575.8h1.2V1576.2h1.2V1576.1h1.2V1576.1h1.2V1575.9h1.2V1575.8h1.2V1576h1.2V1575.8h1.2V1576.2h1.2V1576.2h1.2V1576.2h1.2V1576.2h1.2V1576.2h1.2V1576.2h1.2V1576h1.2V1576.1h1.2V1575.9h1.2V1576h1.2V1576.1h1.2V1576.2h1.2V1575.9h1.2V1576.2h1.2V1576.1h1.2V1575.9h1.2V1576.2h1.2V1575.8h1.2V1575.8h1.2V1576h1.2V1576.1h1.2V1575.8h1.2V1575.9h1.2V1576.1h1.2V1576h1.2V1571.9h1.2V1568.8h1.2V1576.2h1.2V1576.2h1.2V1575.8h1.2V1575.8h1.2V1576h1.2V1576.2h1.2V1576.1h1.2V1576h1.2V1576.2h1.2V1575.8h1.2V1576.2h1.2V1576.2h1.2V1576.2h1.2V1575.8h1.2V1575.9h1.2V1576.2h1.2V1576h1.2V1576.2h1.2V1576.2h1.2V1576.2h1.2V1576.2h1.2V1576.2h1.2V1576.2h1.2V1575.9h1.2V1576h1.2V1576.2h1.2V1576.1h1.2V1576.1h1.2V1576.2h1.2V1576.2h1.2V1576.1h1.2V1576.2h1.2V1576.2h1.2V1575.9h1.2V1576h1.2V1576.2h1.2V1576.2h1.2V1576.1h1.2V1576.1h1.2V1576.1h1.2V1576h1.2V1576.2h1.2V1576.1h1.2V1576.2h1.2V1575.9h1.2V1576.2h1.2V1576h1.2V1576.2h1.2V1575.9h1.2V1576h1.2V1576.2h1.2V1576.2h1.2V1576.2h1.2V1576.2h1.2V1576h1.2V1575.8h1.2V1576.2h1.2V1576h1.2V1576.1h1.2V1575.8h1.2V1576.2h1.2V1576.1h1.2V1575.8h1.2V1576.1h1.2V1575.9h1.2V1576h1.2V1576.2h1.2V1576.2h1.2V1575.8h1.2V1576.1h1.2V1576.2h1.2V1576.2h1.2V1575.9h1.2V1576.2h1.2V1576.1h1.2V1576.2h1.2V1576.2h1.2V1576.2h1.2V1576.1h1.2V1576.2h1.2V1575.9h1.2V1576.2h1.2V1576.2h1.2V1576.2h1.2V1576.2h1.2V1576.1h1.2V1576.2h1.2V1576.2h1.2V1576.2h1.2V1576.2h1.2V1576.2h1.2V1575.9h1.2V1576.2h1.2V1575.8h1.2V1576.1h1.2V1575.9h1.2V1576h1.2V1576h1.2V1576.2h1.2V1575.8h1.2V1576.1h1.2V1576.2h1.2V1575.9h1.2V1576h1.2V1575.9h1.2V1576h1.2V1576.1h1.2V1576.1h1.2V1576.2h1.2V1575.9h1.2V1576.1h1.2V1576.2h1.2V1576.1h1.2V1576.2h1.2V1575.9h1.2V1576.2h1.2V1576.1h1.2V1576.2h1.2V1576.2h1.2V1576.1h1.2V1576.2h1.2V1576.2h1.2V1576h1.2V1576.1h1.2V1575.9h1.2V1576.1h1.2V1576.2h1.2V1576.1h1.2V1576.2h1.2V1575.9h1.2V1575.9h1.2V1575.8h1.2V1576.1h1.2V1576.2h1.2V1576.1h1.2V1576.2h1.2V1576h1.2V1576h1.2V1576.2h1.2V1576.1h1.2V1576.2h1.2V1576.1h1.2V1576.1h1.2V1576.2h1.2V1576.1h1.2V1576.2h1.2V1576.1h1.2V1576.1h1.2V1576.2h1.2V1576.1h1.2V1576h1.2V1575.8h1.2V1576.2h1.2V1576.2h1.2V1576.2h1.2V1576.1h1.2V1576.1h1.2V1576.1h1.2V1576h1.2V1575.9h1.2V1576.1h1.2V1576.2h1.2V1575.9h1.2V1576h1.2V1576.2h1.2V1576.1h1.2V1576.2h1.2V1576.1h1.2V1576.2h1.2V1576.2h1.2V1576.2h1.2V1575.9h1.2V1575.8h1.2V1576.2h1.2V1575.9h1.2V1576.2h1.2V1576.2h1.2V1575.8h1.2V1576.2h1.2V1576.1h1.2V1576.1h1.2V1576h1.2V1576.2h1.2V1576h1.2V1576.1h1.2V1576.2h1.2V1576.2h1.2V1576.2h1.2V1576.1h1.2V1576.2h1.2V1576h1.2V1576.2h1.2V1576.1h1.2V1576.2h1.2V1576.2h1.2V1576.2h1.2V1575.9h1.2V1576.2h1.2V1576.2h1.2V1575.8h1.2V1576h1.2V1576.1h1.2V1576.2h1.2V1576h1.2V1576.2h1.2V1576.2h1.2V1576.2h1.2V1576.1h1.2V1576.1h1.2V1576.2h1.2V1576.1h1.2V1576h1.2V1576.2h1.2V1576.2h1.2V1576.1h1.2V1576.1h1.2V1575.9h1.2V1576.1h1.2V1576.1h1.2V1576.2h1.2V1576.1h1.2V1576.1h1.2V1576.2h1.2V1575.9h1.2V1576.1h1.2V1575.9h1.2V1576.1h1.2V1576.1h1.2V1575.8h1.2V1576.2h1.2V1576.1h1.2V1575.8h1.2V1576.2h1.2V1576.2h1.2V1576.2h1.2V1576.1h1.2V1576.1h1.2V1576.2h1.2V1575.8h1.2V1576.2h1.2V1576h1.2V1576.2h1.2V1576.2h1.2V1576.2h1.2V1576.2h1.2V1576h1.2V1576.2h1.2V1575.9h1.2V1576.2h1.2V1576.1h1.2V1576.1h1.2V1575.8h1.2V1576h1.2V1576.2h1.2V1576.1h1.2V1576h1.2V1576h1.2V1576.2h1.2V1576.2h1.2V1576.1h1.2V1576h1.2V1576.2h1.2V1576.2h1.2V1576.2h1.2V1576.2h1.2V1572.4h1.2V1575.8h1.2V1576.2h1.2V1576.1h1.2V1576h1.2V1576.2h1.2V1576.1h1.2V1576.2h1.2V1576.2h1.2V1576h1.2V1576.2h1.2V1576h1.2V1575.8h1.2V1576.1h1.2V1576h1.2V1576.2h1.2V1576.1h1.2V1576.2h1.2V1576.2h1.2V1572.1h1.2V1570.4h1.2V1570.1h1.2V1576.2h1.2V1568.1h1.2V1562.5h1.2V1570.8h1.2V1576.1h1.2V1576.2h1.2V1569.9h1.2V1568.3h1.2V1572.8h1.2V1576.2h1.2V1575.8h1.2V1575.9h1.2V1575.9h1.2V1576.2h1.2V1576.2h1.2V1576.2h1.2V1575.9h1.2V1576.2h1.2V1576.2h1.2V1576.1h1.2V1576.2h1.2V1576.2h1.2V1575.8h1.2V1576.2h1.2V1576h1.2V1575.8h1.2V1576.1h1.2V1576.2h1.2V1575.9h1.2V1576.2h1.2V1576.2h1.2V1575.9h1.2V1576.2h1.2V1576.2h1.2V1576h1.2V1576h1.2V1576.2h1.2V1576h1.2V1576.2h1.2V1576h1.2V1576.2h1.2V1576.1h1.2V1576.2h1.2V1576.2h1.2V1576.1h1.2V1576.1h1.2V1576.2h1.2V1576h1.2V1576h1.2V1576.1h1.2V1576.2h1.2V1576.2h1.2V1576.2h1.2V1576.1h1.2V1575.8h1.2V1576.2h1.2V1576.1h1.2V1575.8h1.2V1576.1h1.2V1575.8h1.2V1576.2h1.2V1576.2Z" stroke="none" stroke-width="1" fill="#e09c2e"/>
<line x1="1098.4" y1="1575.9" x2="1682.5" y2="1575.9" stroke="#e09c2e" stroke-width="2"/>
<path d="M1098.4 1623.9V1622.7h1.2V1622.7h1.2V1623.4h1.2V1622.9h1.2V1623.4h1.2V1623.1h1.2V1623.8h1.2V1623.7h1.2V1623h1.2V1622.1h1.2V1620.8h1.2V1622.8h1.2V1622.6h1.2V1621.7h1.2V1621.9h1.2V1620.6h1.2V1621.1h1.2V1621h1.2V1621.5h1.2V1622.3h1.2V1622.8h1.2V1623.8h1.2V1623.8h1.2V1623.9h1.2V1623.9h1.2V1623.2h1.2V1623.6h1.2V1623.1h1.2V1623.1h1.2V1623.4h1.2V1623.5h1.2V1623.9h1.2V1623.9h1.2V1623.8h1.2V1623.6h1.2V1623.1h1.2V1623.9h1.2V1623.1h1.2V1623.4h1.2V1623.9h1.2V1623.2h1.2V1622.8h1.2V1623.9h1.2V1622.5h1.2V1623.9h1.2V1623.9h1.2V1622.6h1.2V1623.4h1.2V1623.9h1.2V1623h1.2V1623.6h1.2V1623.9h1.2V1623.9h1.2V1623.5h1.2V1623.3h1.2V1623.9h1.2V1623.7h1.2V1622.2h1.2V1623.8h1.2V1622.6h1.2V1623.9h1.2V1622.9h1.2V1623.9h1.2V1623.9h1.2V1623.9h1.2V1623.6h1.2V1622.8h1.2V1622.2h1.2V1623.4h1.2V1622.8h1.2V1623.5h1.2V1620.7h1.2V1620.6h1.2V1619.7h1.2V1623.6h1.2V1623.5h1.2V1620.2h1.2V1613.6h1.2V1614.1h1.2V1618.6h1.2V1620.5h1.2V1623.9h1.2V1623.9h1.2V1621.8h1.2V1618.6h1.2V1619.7h1.2V1622.2h1.2V1622.8h1.2V1622.9h1.2V1623.3h1.2V1623.2h1.2V1622.5h1.2V1623.4h1.2V1623.8h1.2V1623.7h1.2V1623h1.2V1623.9h1.2V1622.6h1.2V1623.4h1.2V1622.8h1.2V1623.6h1.2V1623.6h1.2V1622.3h1.2V1623.9h1.2V1622.2h1.2V1623.1h1.2V1623.2h1.2V1622.4h1.2V1622.6h1.2V1623.9h1.2V1623.8h1.2V1623.9h1.2V1623.9h1.2V1623.1h1.2V1621.8h1.2V1622.6h1.2V1621.3h1.2V1621.7h1.2V1621.3h1.2V1621.4h1.2V1622.5h1.2V1621.1h1.2V1622.9h1.2V1620.4h1.2V1620h1.2V1621.7h1.2V1622.4h1.2V1620.8h1.2V1620.3h1.2V1622.6h1.2V1621.7h1.2V1621.3h1.2V1621.7h1.2V1620.8h1.2V1621.3h1.2V1622.2h1.2V1622.5h1.2V1622h1.2V1621.7h1.2V1623.8h1.2V1623.8h1.2V1621.9h1.2V1621.9h1.2V1622h1.2V1620.4h1.2V1620.3h1.2V1620.2h1.2V1620.6h1.2V1620.1h1.2V1621.8h1.2V1622.4h1.2V1621.8h1.2V1621.1h1.2V1621.8h1.2V1623.8h1.2V1623.5h1.2V1623.3h1.2V1623.9h1.2V1623.5h1.2V1622.9h1.2V1623.1h1.2V1623.9h1.2V1623.8h1.2V1623.8h1.2V1623.8h1.2V1623.8h1.2V1623.5h1.2V1623.9h1.2V1623.8h1.2V1622.4h1.2V1623.9h1.2V1623.9h1.2V1623.4h1.2V1622.2h1.2V1623.8h1.2V1623.9h1.2V1623.9h1.2V1623.5h1.2V1623.7h1.2V1623.9h1.2V1623.2h1.2V1623.9h1.2V1622.2h1.2V1623.3h1.2V1623.9h1.2V1623.5h1.2V1622.7h1.2V1622.8h1.2V1623.9h1.2V1622.4h1.2V1623h1.2V1623h1.2V1622.3h1.2V1623.4h1.2V1623.8h1.2V1623.2h1.2V1623.1h1.2V1623.6h1.2V1623.9h1.2V1623.8h1.2V1623.8h1.2V1623.8h1.2V1623.9h1.2V1623.5h1.2V1623.9h1.2V1622.8h1.2V1623.9h1.2V1623.2h1.2V1623.9h1.2V1622.7h1.2V1623.7h1.2V1623.9h1.2V1623.9h1.2V1623.8h1.2V1623h1.2V1622.6h1.2V1623.4h1.2V1623.8h1.2V1623.9h1.2V1623.4h1.2V1622.5h1.2V1622.9h1.2V1622.5h1.2V1623.2h1.2V1622.2h1.2V1623.9h1.2V1623.9h1.2V1623.9h1.2V1623.4h1.2V1623.3h1.2V1623.9h1.2V1623.9h1.2V1623.9h1.2V1623.8h1.2V1623.9h1.2V1623.9h1.2V1623.9h1.2V1622.9h1.2V1623.8h1.2V1623.5h1.2V1623.9h1.2V1623.7h1.2V1623.6h1.2V1622.6h1.2V1623.4h1.2V1623.5h1.2V1623.9h1.2V1623.6h1.2V1623.7h1.2V1623.6h1.2V1623.9h1.2V1622.6h1.2V1623.6h1.2V1623.9h1.2V1623.9h1.2V1623.8h1.2V1623.9h1.2V1623.6h1.2V1623.9h1.2V1623.9h1.2V1622.5h1.2V1622.6h1.2V1623.4h1.2V1623.7h1.2V1623.8h1.2V1622.9h1.2V1623.9h1.2V1623.8h1.2V1623.2h1.2V1623.6h1.2V1623.6h1.2V1623h1.2V1623.1h1.2V1622.4h1.2V1623h1.2V1623.5h1.2V1623.3h1.2V1623.3h1.2V1623.8h1.2V1623.9h1.2V1622.7h1.2V1622.9h1.2V1623.5h1.2V1623.8h1.2V1622.3h1.2V1622.4h1.2V1622.9h1.2V1623.6h1.2V1623.8h1.2V1622.5h1.2V1623.9h1.2V1623.7h1.2V1623.2h1.2V1623.2h1.2V1623.5h1.2V1622.7h1.2V1623.9h1.2V1623.9h1.2V1623.6h1.2V1623.5h1.2V1623.9h1.2V1623.8h1.2V1623.9h1.2V1623.8h1.2V1623.8h1.2V1622.6h1.2V1623.7h1.2V1623.7h1.2V1623.9h1.2V1623.9h1.2V1623.8h1.2V1623.6h1.2V1623.9h1.2V1622.3h1.2V1623.5h1.2V1623.6h1.2V1623.9h1.2V1623.7h1.2V1623.8h1.2V1623.8h1.2V1623.8h1.2V1623.3h1.2V1623.9h1.2V1623.9h1.2V1623.5h1.2V1623.9h1.2V1623.4h1.2V1623.9h1.2V1622.9h1.2V1623.5h1.2V1623.7h1.2V1623.8h1.2V1623.3h1.2V1623.9h1.2V1623.9h1.2V1622.9h1.2V1622.8h1.2V1623.9h1.2V1623.9h1.2V1623.9h1.2V1623.8h1.2V1623.9h1.2V1623.3h1.2V1623.7h1.2V1623.9h1.2V1623.8h1.2V1623.3h1.2V1623.7h1.2V1623.9h1.2V1622.8h1.2V1623.2h1.2V1623.6h1.2V1623.6h1.2V1623.5h1.2V1623.2h1.2V1622.6h1.2V1623.8h1.2V1623.9h1.2V1623.1h1.2V1623.8h1.2V1623.1h1.2V1623.2h1.2V1623.9h1.2V1623.9h1.2V1623.8h1.2V1623.2h1.2V1622.6h1.2V1623.9h1.2V1622.5h1.2V1623.9h1.2V1622.6h1.2V1623.9h1.2V1623.9h1.2V1623.9h1.2V1623.9h1.2V1622.8h1.2V1623.9h1.2V1623.8h1.2V1623.5h1.2V1623.8h1.2V1622.6h1.2V1623.5h1.2V1623.9h1.2V1623.9h1.2V1623.9h1.2V1623.3h1.2V1622.9h1.2V1623.7h1.2V1623.6h1.2V1619.5h1.2V1619.6h1.2V1621.9h1.2V1620.6h1.2V1618h1.2V1618.4h1.2V1621.1h1.2V1621.9h1.2V1623.7h1.2V1619.1h1.2V1620.6h1.2V1615.8h1.2V1615.6h1.2V1617h1.2V1616.5h1.2V1621.3h1.2V1615.9h1.2V1621h1.2V1619.1h1.2V1619.7h1.2V1621.6h1.2V1617.5h1.2V1621.5h1.2V1619.9h1.2V1623.7h1.2V1623.9h1.2V1622.3h1.2V1623.9h1.2V1622.3h1.2V1623.8h1.2V1623.7h1.2V1619.8h1.2V1621.3h1.2V1616.8h1.2V1616.7h1.2V1615.9h1.2V1622.6h1.2V1619.5h1.2V1620.5h1.2V1620.1h1.2V1609.5h1.2V1620h1.2V1623.9h1.2V1623.9h1.2V1615.8h1.2V1613h1.2V1616.6h1.2V1623.5h1.2V1623.9h1.2V1623.4h1.2V1623.6h1.2V1623.8h1.2V1623.9h1.2V1623.8h1.2V1623.9h1.2V1623.9h1.2V1622.1h1.2V1622.2h1.2V1623.2h1.2V1623.9h1.2V1623.7h1.2V1623.8h1.2V1622.9h1.2V1623.1h1.2V1623.7h1.2V1623.8h1.2V1623.8h1.2V1622.9h1.2V1623.9h1.2V1623.8h1.2V1623.8h1.2V1623.4h1.2V1623.9h1.2V1623.9h1.2V1622.9h1.2V1623.8h1.2V1623.8h1.2V1623.3h1.2V1623.9h1.2V1623.9h1.2V1622.9h1.2V1623.9h1.2V1623.5h1.2V1623.8h1.2V1623.8h1.2V1623.1h1.2V1623.8h1.2V1623.9h1.2V1623.5h1.2V1623.9h1.2V1623.9h1.2V1623.8h1.2V1623.7h1.2V1623.9h1.2V1623.9h1.2V1623.4h1.2V1623.9h1.2V1622.9h1.2V1623.9Z" stroke="none" stroke-width="1" fill="#3a7a32"/>
<line x1="1098.4" y1="1623.6" x2="1682.5" y2="1623.6" stroke="#3a7a32" stroke-width="1.6"/>
<text x="435" y="1663.6" font-size="23.5" text-anchor="middle">K562</text>
<line x1="41.4" y1="1675.3" x2="855.8" y2="1675.3" stroke="#000" stroke-width="2"/>
<text x="1303" y="1664" font-size="23.5" text-anchor="middle">HepG2</text>
<line x1="911.4" y1="1675.3" x2="1724.2" y2="1675.3" stroke="#000" stroke-width="2"/>
<g clip-path="url(#chk1)">
<rect x="41.4" y="1683" width="255" height="443" fill="url(#hk1)"/>
<path d="M138.7 1683L198.7 1683L182.7 2126L154.7 2126Z" fill="url(#hk1h)"/>
<use href="#rhk1" y="1683" fill="url(#nz14)" opacity="0.93"/>
<use href="#rhk1" y="1683" fill="#fff" opacity="0.03"/>
<use href="#rhk1" y="1686.1" fill="url(#nz14)" opacity="0.75"/>
<use href="#rhk1" y="1686.1" fill="#3848a8" opacity="0.03"/>
<use href="#rhk1" y="1689.2" fill="url(#nz6)" opacity="0.59"/>
<use href="#rhk1" y="1689.2" fill="#3848a8" opacity="0.04"/>
<use href="#rhk1" y="1692.4" fill="url(#nz5)" opacity="0.55"/>
<use href="#rhk1" y="1695.5" fill="url(#nz9)" opacity="0.57"/>
<use href="#rhk1" y="1695.5" fill="#3848a8" opacity="0.08"/>
<use href="#rhk1" y="1698.6" fill="url(#nz1)" opacity="0.80"/>
<use href="#rhk1" y="1701.7" fill="url(#nz12)" opacity="0.98"/>
<use href="#rhk1" y="1704.8" fill="url(#nz5)" opacity="0.81"/>
<use href="#rhk1" y="1704.8" fill="#3848a8" opacity="0.02"/>
<use href="#rhk1" y="1708" fill="url(#nz2)" opacity="0.53"/>
<use href="#rhk1" y="1711.1" fill="url(#nz0)" opacity="0.89"/>
<use href="#rhk1" y="1714.2" fill="url(#nz10)" opacity="0.72"/>
<use href="#rhk1" y="1717.3" fill="url(#nz9)" opacity="0.75"/>
<use href="#rhk1" y="1717.3" fill="#3848a8" opacity="0.01"/>
<use href="#rhk1" y="1720.4" fill="url(#nz2)" opacity="0.73"/>
<use href="#rhk1" y="1723.6" fill="url(#nz2)" opacity="0.85"/>
<use href="#rhk1" y="1723.6" fill="#fff" opacity="0.39"/>
<use href="#rhk1" y="1726.7" fill="url(#nz10)" opacity="0.88"/>
<use href="#rhk1" y="1729.8" fill="url(#nz3)" opacity="0.70"/>
<use href="#rhk1" y="1732.9" fill="url(#nz9)" opacity="0.69"/>
<use href="#rhk1" y="1732.9" fill="#fff" opacity="0.15"/>
<use href="#rhk1" y="1736" fill="url(#nz0)" opacity="0.61"/>
<use href="#rhk1" y="1739.2" fill="url(#nz1)" opacity="0.73"/>
<use href="#rhk1" y="1742.3" fill="url(#nz2)" opacity="0.78"/>
<use href="#rhk1" y="1745.4" fill="url(#nz6)" opacity="0.89"/>
<use href="#rhk1" y="1748.5" fill="url(#nz10)" opacity="0.51"/>
<use href="#rhk1" y="1751.6" fill="url(#nz13)" opacity="0.88"/>
<use href="#rhk1" y="1754.8" fill="url(#nz3)" opacity="0.51"/>
<use href="#rhk1" y="1757.9" fill="url(#nz14)" opacity="0.90"/>
<use href="#rhk1" y="1761" fill="url(#nz14)" opacity="0.75"/>
<use href="#rhk1" y="1761" fill="#fff" opacity="0.04"/>
<use href="#rhk1" y="1764.1" fill="url(#nz4)" opacity="0.71"/>
<use href="#rhk1" y="1767.2" fill="url(#nz6)" opacity="0.50"/>
<use href="#rhk1" y="1770.4" fill="url(#nz9)" opacity="1.00"/>
<use href="#rhk1" y="1773.5" fill="url(#nz3)" opacity="0.52"/>
<use href="#rhk1" y="1776.6" fill="url(#nz4)" opacity="0.61"/>
<use href="#rhk1" y="1779.7" fill="url(#nz10)" opacity="0.92"/>
<use href="#rhk1" y="1779.7" fill="#fff" opacity="0.13"/>
<use href="#rhk1" y="1782.8" fill="url(#nz12)" opacity="0.54"/>
<use href="#rhk1" y="1782.8" fill="#fff" opacity="0.03"/>
<use href="#rhk1" y="1786" fill="url(#nz7)" opacity="0.51"/>
<use href="#rhk1" y="1789.1" fill="url(#nz11)" opacity="0.69"/>
<use href="#rhk1" y="1789.1" fill="#3848a8" opacity="0.11"/>
<use href="#rhk1" y="1792.2" fill="url(#nz15)" opacity="0.92"/>
<use href="#rhk1" y="1795.3" fill="url(#nz4)" opacity="0.93"/>
<use href="#rhk1" y="1798.4" fill="url(#nz7)" opacity="0.91"/>
<use href="#rhk1" y="1801.5" fill="url(#nz7)" opacity="0.86"/>
<use href="#rhk1" y="1804.7" fill="url(#nz6)" opacity="0.84"/>
<use href="#rhk1" y="1804.7" fill="#fff" opacity="0.04"/>
<use href="#rhk1" y="1807.8" fill="url(#nz12)" opacity="0.94"/>
<use href="#rhk1" y="1810.9" fill="url(#nz3)" opacity="0.55"/>
<use href="#rhk1" y="1814" fill="url(#nz8)" opacity="0.62"/>
<use href="#rhk1" y="1817.1" fill="url(#nz15)" opacity="0.65"/>
<use href="#rhk1" y="1820.3" fill="url(#nz5)" opacity="0.96"/>
<use href="#rhk1" y="1823.4" fill="url(#nz15)" opacity="0.78"/>
<use href="#rhk1" y="1826.5" fill="url(#nz2)" opacity="0.64"/>
<use href="#rhk1" y="1829.6" fill="url(#nz0)" opacity="0.53"/>
<use href="#rhk1" y="1832.7" fill="url(#nz13)" opacity="0.72"/>
<use href="#rhk1" y="1835.9" fill="url(#nz11)" opacity="0.77"/>
<use href="#rhk1" y="1839" fill="url(#nz4)" opacity="0.55"/>
<use href="#rhk1" y="1842.1" fill="url(#nz10)" opacity="0.83"/>
<use href="#rhk1" y="1845.2" fill="url(#nz4)" opacity="0.79"/>
<use href="#rhk1" y="1845.2" fill="#fff" opacity="0.02"/>
<use href="#rhk1" y="1848.3" fill="url(#nz11)" opacity="0.85"/>
<use href="#rhk1" y="1851.5" fill="url(#nz1)" opacity="0.51"/>
<use href="#rhk1" y="1854.6" fill="url(#nz9)" opacity="0.66"/>
<use href="#rhk1" y="1857.7" fill="url(#nz2)" opacity="0.54"/>
<use href="#rhk1" y="1857.7" fill="#3848a8" opacity="0.05"/>
<use href="#rhk1" y="1860.8" fill="url(#nz4)" opacity="0.90"/>
<use href="#rhk1" y="1863.9" fill="url(#nz10)" opacity="0.68"/>
<use href="#rhk1" y="1867.1" fill="url(#nz13)" opacity="0.97"/>
<use href="#rhk1" y="1867.1" fill="#3848a8" opacity="0.08"/>
<use href="#rhk1" y="1870.2" fill="url(#nz0)" opacity="0.93"/>
<use href="#rhk1" y="1870.2" fill="#3848a8" opacity="0.03"/>
<use href="#rhk1" y="1873.3" fill="url(#nz12)" opacity="0.69"/>
<use href="#rhk1" y="1876.4" fill="url(#nz0)" opacity="0.80"/>
<use href="#rhk1" y="1876.4" fill="#fff" opacity="0.05"/>
<use href="#rhk1" y="1879.5" fill="url(#nz8)" opacity="0.94"/>
<use href="#rhk1" y="1882.7" fill="url(#nz10)" opacity="0.69"/>
<use href="#rhk1" y="1885.8" fill="url(#nz14)" opacity="0.73"/>
<use href="#rhk1" y="1885.8" fill="#3848a8" opacity="0.03"/>
<use href="#rhk1" y="1888.9" fill="url(#nz2)" opacity="0.76"/>
<use href="#rhk1" y="1892" fill="url(#nz2)" opacity="0.74"/>
<use href="#rhk1" y="1895.1" fill="url(#nz7)" opacity="0.98"/>
<use href="#rhk1" y="1895.1" fill="#fff" opacity="0.07"/>
<use href="#rhk1" y="1898.3" fill="url(#nz15)" opacity="0.63"/>
<use href="#rhk1" y="1898.3" fill="#fff" opacity="0.04"/>
<use href="#rhk1" y="1901.4" fill="url(#nz0)" opacity="0.68"/>
<use href="#rhk1" y="1904.5" fill="url(#nz5)" opacity="0.88"/>
<use href="#rhk1" y="1904.5" fill="#fff" opacity="0.03"/>
<use href="#rhk1" y="1907.6" fill="url(#nz10)" opacity="0.83"/>
<use href="#rhk1" y="1907.6" fill="#3848a8" opacity="0.08"/>
<use href="#rhk1" y="1910.7" fill="url(#nz10)" opacity="0.70"/>
<use href="#rhk1" y="1913.9" fill="url(#nz8)" opacity="0.60"/>
<use href="#rhk1" y="1913.9" fill="#3848a8" opacity="0.05"/>
<use href="#rhk1" y="1917" fill="url(#nz6)" opacity="0.94"/>
<use href="#rhk1" y="1920.1" fill="url(#nz12)" opacity="0.61"/>
<use href="#rhk1" y="1923.2" fill="url(#nz4)" opacity="0.75"/>
<use href="#rhk1" y="1926.3" fill="url(#nz1)" opacity="0.86"/>
<use href="#rhk1" y="1929.5" fill="url(#nz5)" opacity="0.56"/>
<use href="#rhk1" y="1932.6" fill="url(#nz15)" opacity="0.64"/>
<use href="#rhk1" y="1935.7" fill="url(#nz15)" opacity="0.84"/>
<use href="#rhk1" y="1935.7" fill="#fff" opacity="0.02"/>
<use href="#rhk1" y="1938.8" fill="url(#nz14)" opacity="0.66"/>
<use href="#rhk1" y="1941.9" fill="url(#nz1)" opacity="0.84"/>
<use href="#rhk1" y="1945.1" fill="url(#nz8)" opacity="0.79"/>
<use href="#rhk1" y="1948.2" fill="url(#nz0)" opacity="0.82"/>
<use href="#rhk1" y="1948.2" fill="#fff" opacity="0.12"/>
<use href="#rhk1" y="1951.3" fill="url(#nz12)" opacity="0.73"/>
<use href="#rhk1" y="1951.3" fill="#fff" opacity="0.15"/>
<use href="#rhk1" y="1954.4" fill="url(#nz7)" opacity="0.89"/>
<use href="#rhk1" y="1957.5" fill="url(#nz1)" opacity="0.99"/>
<use href="#rhk1" y="1960.7" fill="url(#nz11)" opacity="0.98"/>
<use href="#rhk1" y="1963.8" fill="url(#nz6)" opacity="0.60"/>
<use href="#rhk1" y="1966.9" fill="url(#nz0)" opacity="0.88"/>
<use href="#rhk1" y="1970" fill="url(#nz1)" opacity="0.59"/>
<use href="#rhk1" y="1973.1" fill="url(#nz5)" opacity="0.70"/>
<use href="#rhk1" y="1976.3" fill="url(#nz7)" opacity="0.54"/>
<use href="#rhk1" y="1976.3" fill="#fff" opacity="0.09"/>
<use href="#rhk1" y="1979.4" fill="url(#nz4)" opacity="0.73"/>
<use href="#rhk1" y="1982.5" fill="url(#nz6)" opacity="0.81"/>
<use href="#rhk1" y="1985.6" fill="url(#nz10)" opacity="0.73"/>
<use href="#rhk1" y="1988.7" fill="url(#nz6)" opacity="0.55"/>
<use href="#rhk1" y="1988.7" fill="#fff" opacity="0.05"/>
<use href="#rhk1" y="1991.9" fill="url(#nz3)" opacity="0.61"/>
<use href="#rhk1" y="1991.9" fill="#3848a8" opacity="0.03"/>
<use href="#rhk1" y="1995" fill="url(#nz12)" opacity="0.99"/>
<use href="#rhk1" y="1995" fill="#fff" opacity="0.05"/>
<use href="#rhk1" y="1998.1" fill="url(#nz10)" opacity="0.63"/>
<use href="#rhk1" y="2001.2" fill="url(#nz0)" opacity="0.67"/>
<use href="#rhk1" y="2004.3" fill="url(#nz13)" opacity="0.88"/>
<use href="#rhk1" y="2007.5" fill="url(#nz15)" opacity="0.96"/>
<use href="#rhk1" y="2010.6" fill="url(#nz13)" opacity="0.90"/>
<use href="#rhk1" y="2010.6" fill="#fff" opacity="0.17"/>
<use href="#rhk1" y="2013.7" fill="url(#nz5)" opacity="0.77"/>
<use href="#rhk1" y="2016.8" fill="url(#nz15)" opacity="0.57"/>
<use href="#rhk1" y="2016.8" fill="#3848a8" opacity="0.08"/>
<use href="#rhk1" y="2019.9" fill="url(#nz14)" opacity="0.97"/>
<use href="#rhk1" y="2019.9" fill="#3848a8" opacity="0.11"/>
<use href="#rhk1" y="2023" fill="url(#nz2)" opacity="0.88"/>
<use href="#rhk1" y="2026.2" fill="url(#nz14)" opacity="0.76"/>
<use href="#rhk1" y="2029.3" fill="url(#nz5)" opacity="0.76"/>
<use href="#rhk1" y="2029.3" fill="#fff" opacity="0.10"/>
<use href="#rhk1" y="2032.4" fill="url(#nz8)" opacity="0.66"/>
<use href="#rhk1" y="2032.4" fill="#3848a8" opacity="0.04"/>
<use href="#rhk1" y="2035.5" fill="url(#nz6)" opacity="0.65"/>
<use href="#rhk1" y="2035.5" fill="#fff" opacity="0.06"/>
<use href="#rhk1" y="2038.6" fill="url(#nz4)" opacity="0.98"/>
<use href="#rhk1" y="2038.6" fill="#3848a8" opacity="0.03"/>
<use href="#rhk1" y="2041.8" fill="url(#nz6)" opacity="0.71"/>
<use href="#rhk1" y="2044.9" fill="url(#nz3)" opacity="0.75"/>
<use href="#rhk1" y="2048" fill="url(#nz1)" opacity="0.76"/>
<use href="#rhk1" y="2051.1" fill="url(#nz12)" opacity="0.77"/>
<use href="#rhk1" y="2054.2" fill="url(#nz2)" opacity="0.85"/>
<use href="#rhk1" y="2057.4" fill="url(#nz2)" opacity="0.97"/>
<use href="#rhk1" y="2057.4" fill="#3848a8" opacity="0.09"/>
<use href="#rhk1" y="2060.5" fill="url(#nz12)" opacity="0.63"/>
<use href="#rhk1" y="2063.6" fill="url(#nz15)" opacity="0.75"/>
<use href="#rhk1" y="2063.6" fill="#3848a8" opacity="0.02"/>
<use href="#rhk1" y="2066.7" fill="url(#nz15)" opacity="0.76"/>
<use href="#rhk1" y="2066.7" fill="#fff" opacity="0.14"/>
<use href="#rhk1" y="2069.8" fill="url(#nz3)" opacity="0.60"/>
<use href="#rhk1" y="2069.8" fill="#3848a8" opacity="0.06"/>
<use href="#rhk1" y="2073" fill="url(#nz4)" opacity="0.85"/>
<use href="#rhk1" y="2073" fill="#3848a8" opacity="0.05"/>
<use href="#rhk1" y="2076.1" fill="url(#nz0)" opacity="0.52"/>
<use href="#rhk1" y="2079.2" fill="url(#nz9)" opacity="0.66"/>
<use href="#rhk1" y="2082.3" fill="url(#nz11)" opacity="0.62"/>
<use href="#rhk1" y="2082.3" fill="#3848a8" opacity="0.02"/>
<use href="#rhk1" y="2085.4" fill="url(#nz3)" opacity="0.93"/>
<use href="#rhk1" y="2088.6" fill="url(#nz8)" opacity="0.86"/>
<use href="#rhk1" y="2091.7" fill="url(#nz0)" opacity="0.69"/>
<use href="#rhk1" y="2091.7" fill="#3848a8" opacity="0.08"/>
<use href="#rhk1" y="2094.8" fill="url(#nz13)" opacity="0.91"/>
<use href="#rhk1" y="2097.9" fill="url(#nz6)" opacity="0.76"/>
<use href="#rhk1" y="2101" fill="url(#nz4)" opacity="0.62"/>
<use href="#rhk1" y="2104.2" fill="url(#nz5)" opacity="0.66"/>
<use href="#rhk1" y="2104.2" fill="#3848a8" opacity="0.07"/>
<use href="#rhk1" y="2107.3" fill="url(#nz10)" opacity="0.95"/>
<use href="#rhk1" y="2110.4" fill="url(#nz6)" opacity="0.94"/>
<use href="#rhk1" y="2110.4" fill="#fff" opacity="0.11"/>
<use href="#rhk1" y="2113.5" fill="url(#nz4)" opacity="0.94"/>
<use href="#rhk1" y="2116.6" fill="url(#nz12)" opacity="0.55"/>
<use href="#rhk1" y="2119.8" fill="url(#nz13)" opacity="0.77"/>
<use href="#rhk1" y="2122.9" fill="url(#nz0)" opacity="0.55"/>
<use href="#phk1" fill="url(#hk1s)"/>
<g clip-path="url(#khk1)">
<use href="#qhk1" y="1698.6" fill="#b01010" opacity="0.08"/>
<use href="#qhk1" y="1704.8" fill="#b01010" opacity="0.10"/>
<use href="#qhk1" y="1708" fill="#fff" opacity="0.06"/>
<use href="#qhk1" y="1714.2" fill="#b01010" opacity="0.07"/>
<use href="#qhk1" y="1723.6" fill="#b01010" opacity="0.07"/>
<use href="#qhk1" y="1726.7" fill="#fff" opacity="0.05"/>
<use href="#qhk1" y="1729.8" fill="#fff" opacity="0.07"/>
<use href="#qhk1" y="1748.5" fill="#b01010" opacity="0.30"/>
<use href="#qhk1" y="1764.1" fill="#b01010" opacity="0.11"/>
<use href="#qhk1" y="1770.4" fill="#fff" opacity="0.08"/>
<use href="#qhk1" y="1782.8" fill="#fff" opacity="0.20"/>
<use href="#qhk1" y="1786" fill="#b01010" opacity="0.09"/>
<use href="#qhk1" y="1792.2" fill="#fff" opacity="0.04"/>
<use href="#qhk1" y="1795.3" fill="#b01010" opacity="0.08"/>
<use href="#qhk1" y="1798.4" fill="#b01010" opacity="0.10"/>
<use href="#qhk1" y="1804.7" fill="#fff" opacity="0.07"/>
<use href="#qhk1" y="1807.8" fill="#b01010" opacity="0.06"/>
<use href="#qhk1" y="1814" fill="#fff" opacity="0.07"/>
<use href="#qhk1" y="1817.1" fill="#b01010" opacity="0.05"/>
<use href="#qhk1" y="1823.4" fill="#b01010" opacity="0.07"/>
<use href="#qhk1" y="1826.5" fill="#fff" opacity="0.11"/>
<use href="#qhk1" y="1829.6" fill="#fff" opacity="0.19"/>
<use href="#qhk1" y="1832.7" fill="#fff" opacity="0.13"/>
<use href="#qhk1" y="1835.9" fill="#b01010" opacity="0.07"/>
<use href="#qhk1" y="1839" fill="#fff" opacity="0.10"/>
<use href="#qhk1" y="1848.3" fill="#b01010" opacity="0.06"/>
<use href="#qhk1" y="1854.6" fill="#fff" opacity="0.07"/>
<use href="#qhk1" y="1857.7" fill="#b01010" opacity="0.10"/>
<use href="#qhk1" y="1860.8" fill="#b01010" opacity="0.05"/>
<use href="#qhk1" y="1863.9" fill="#b01010" opacity="0.10"/>
<use href="#qhk1" y="1870.2" fill="#b01010" opacity="0.20"/>
<use href="#qhk1" y="1873.3" fill="#fff" opacity="0.05"/>
<use href="#qhk1" y="1876.4" fill="#b01010" opacity="0.18"/>
<use href="#qhk1" y="1879.5" fill="#fff" opacity="0.12"/>
<use href="#qhk1" y="1882.7" fill="#fff" opacity="0.12"/>
<use href="#qhk1" y="1885.8" fill="#b01010" opacity="0.03"/>
<use href="#qhk1" y="1888.9" fill="#fff" opacity="0.11"/>
<use href="#qhk1" y="1895.1" fill="#fff" opacity="0.05"/>
<use href="#qhk1" y="1898.3" fill="#b01010" opacity="0.07"/>
<use href="#qhk1" y="1901.4" fill="#b01010" opacity="0.21"/>
<use href="#qhk1" y="1904.5" fill="#fff" opacity="0.14"/>
<use href="#qhk1" y="1907.6" fill="#8090d0" opacity="0.05"/>
<use href="#qhk1" y="1910.7" fill="#8090d0" opacity="0.09"/>
<use href="#qhk1" y="1913.9" fill="#fff" opacity="0.16"/>
<use href="#qhk1" y="1917" fill="#fff" opacity="0.10"/>
<use href="#qhk1" y="1920.1" fill="#8090d0" opacity="0.02"/>
<use href="#qhk1" y="1926.3" fill="#fff" opacity="0.11"/>
<use href="#qhk1" y="1929.5" fill="#fff" opacity="0.12"/>
<use href="#qhk1" y="1932.6" fill="#fff" opacity="0.18"/>
<use href="#qhk1" y="1941.9" fill="#8090d0" opacity="0.12"/>
<use href="#qhk1" y="1945.1" fill="#fff" opacity="0.22"/>
<use href="#qhk1" y="1948.2" fill="#fff" opacity="0.06"/>
<use href="#qhk1" y="1951.3" fill="#fff" opacity="0.15"/>
<use href="#qhk1" y="1954.4" fill="#8090d0" opacity="0.08"/>
<use href="#qhk1" y="1957.5" fill="#fff" opacity="0.07"/>
<use href="#qhk1" y="1960.7" fill="#8090d0" opacity="0.03"/>
<use href="#qhk1" y="1966.9" fill="#fff" opacity="0.09"/>
<use href="#qhk1" y="1970" fill="#fff" opacity="0.05"/>
<use href="#qhk1" y="1973.1" fill="#8090d0" opacity="0.03"/>
<use href="#qhk1" y="1979.4" fill="#8090d0" opacity="0.02"/>
<use href="#qhk1" y="1982.5" fill="#fff" opacity="0.15"/>
<use href="#qhk1" y="1985.6" fill="#8090d0" opacity="0.06"/>
<use href="#qhk1" y="1988.7" fill="#fff" opacity="0.10"/>
<use href="#qhk1" y="1991.9" fill="#fff" opacity="0.11"/>
<use href="#qhk1" y="1995" fill="#8090d0" opacity="0.05"/>
<use href="#qhk1" y="1998.1" fill="#8090d0" opacity="0.04"/>
<use href="#qhk1" y="2001.2" fill="#fff" opacity="0.11"/>
<use href="#qhk1" y="2010.6" fill="#fff" opacity="0.04"/>
<use href="#qhk1" y="2019.9" fill="#fff" opacity="0.04"/>
<use href="#qhk1" y="2023" fill="#fff" opacity="0.04"/>
<use href="#qhk1" y="2026.2" fill="#8090d0" opacity="0.05"/>
<use href="#qhk1" y="2029.3" fill="#8090d0" opacity="0.04"/>
<use href="#qhk1" y="2032.4" fill="#fff" opacity="0.11"/>
<use href="#qhk1" y="2035.5" fill="#8090d0" opacity="0.05"/>
<use href="#qhk1" y="2038.6" fill="#fff" opacity="0.14"/>
<use href="#qhk1" y="2041.8" fill="#fff" opacity="0.06"/>
<use href="#qhk1" y="2044.9" fill="#8090d0" opacity="0.07"/>
<use href="#qhk1" y="2051.1" fill="#fff" opacity="0.04"/>
<use href="#qhk1" y="2057.4" fill="#fff" opacity="0.03"/>
<use href="#qhk1" y="2060.5" fill="#fff" opacity="0.13"/>
<use href="#qhk1" y="2066.7" fill="#8090d0" opacity="0.06"/>
<use href="#qhk1" y="2069.8" fill="#fff" opacity="0.08"/>
<use href="#qhk1" y="2076.1" fill="#8090d0" opacity="0.17"/>
<use href="#qhk1" y="2082.3" fill="#fff" opacity="0.07"/>
<use href="#qhk1" y="2088.6" fill="#8090d0" opacity="0.06"/>
<use href="#qhk1" y="2091.7" fill="#fff" opacity="0.05"/>
<use href="#qhk1" y="2094.8" fill="#fff" opacity="0.14"/>
<use href="#qhk1" y="2107.3" fill="#fff" opacity="0.08"/>
<use href="#qhk1" y="2110.4" fill="#fff" opacity="0.10"/>
<use href="#qhk1" y="2113.5" fill="#8090d0" opacity="0.04"/>
<use href="#qhk1" y="2116.6" fill="#8090d0" opacity="0.09"/>
</g>
</g>
<g clip-path="url(#chk2)">
<rect x="469.8" y="1683" width="254.7" height="443" fill="url(#hk2)"/>
<path d="M569.2 1683L625.2 1683L611.2 2126L583.2 2126Z" fill="url(#hk2h)"/>
<use href="#rhk2" y="1683" fill="url(#nz15)" opacity="0.63"/>
<use href="#rhk2" y="1686.1" fill="url(#nz12)" opacity="0.51"/>
<use href="#rhk2" y="1689.2" fill="url(#nz11)" opacity="0.74"/>
<use href="#rhk2" y="1692.4" fill="url(#nz7)" opacity="0.78"/>
<use href="#rhk2" y="1695.5" fill="url(#nz4)" opacity="0.99"/>
<use href="#rhk2" y="1698.6" fill="url(#nz6)" opacity="0.53"/>
<use href="#rhk2" y="1701.7" fill="url(#nz6)" opacity="0.54"/>
<use href="#rhk2" y="1704.8" fill="url(#nz12)" opacity="0.90"/>
<use href="#rhk2" y="1708" fill="url(#nz2)" opacity="0.51"/>
<use href="#rhk2" y="1708" fill="#fff" opacity="0.53"/>
<use href="#rhk2" y="1711.1" fill="url(#nz7)" opacity="0.55"/>
<use href="#rhk2" y="1714.2" fill="url(#nz13)" opacity="0.97"/>
<use href="#rhk2" y="1717.3" fill="url(#nz4)" opacity="0.77"/>
<use href="#rhk2" y="1720.4" fill="url(#nz5)" opacity="0.99"/>
<use href="#rhk2" y="1723.6" fill="url(#nz2)" opacity="0.70"/>
<use href="#rhk2" y="1726.7" fill="url(#nz13)" opacity="0.83"/>
<use href="#rhk2" y="1726.7" fill="#3848a8" opacity="0.09"/>
<use href="#rhk2" y="1729.8" fill="url(#nz0)" opacity="0.82"/>
<use href="#rhk2" y="1732.9" fill="url(#nz2)" opacity="0.98"/>
<use href="#rhk2" y="1732.9" fill="#fff" opacity="0.25"/>
<use href="#rhk2" y="1736" fill="url(#nz11)" opacity="0.97"/>
<use href="#rhk2" y="1739.2" fill="url(#nz12)" opacity="0.84"/>
<use href="#rhk2" y="1742.3" fill="url(#nz11)" opacity="0.69"/>
<use href="#rhk2" y="1745.4" fill="url(#nz5)" opacity="0.51"/>
<use href="#rhk2" y="1748.5" fill="url(#nz0)" opacity="0.61"/>
<use href="#rhk2" y="1751.6" fill="url(#nz13)" opacity="0.52"/>
<use href="#rhk2" y="1754.8" fill="url(#nz7)" opacity="0.59"/>
<use href="#rhk2" y="1754.8" fill="#fff" opacity="0.19"/>
<use href="#rhk2" y="1757.9" fill="url(#nz8)" opacity="0.52"/>
<use href="#rhk2" y="1761" fill="url(#nz1)" opacity="0.76"/>
<use href="#rhk2" y="1764.1" fill="url(#nz11)" opacity="0.60"/>
<use href="#rhk2" y="1767.2" fill="url(#nz15)" opacity="0.62"/>
<use href="#rhk2" y="1767.2" fill="#fff" opacity="0.10"/>
<use href="#rhk2" y="1770.4" fill="url(#nz5)" opacity="0.73"/>
<use href="#rhk2" y="1773.5" fill="url(#nz7)" opacity="0.96"/>
<use href="#rhk2" y="1776.6" fill="url(#nz0)" opacity="0.97"/>
<use href="#rhk2" y="1776.6" fill="#fff" opacity="0.30"/>
<use href="#rhk2" y="1779.7" fill="url(#nz5)" opacity="0.62"/>
<use href="#rhk2" y="1782.8" fill="url(#nz0)" opacity="0.75"/>
<use href="#rhk2" y="1786" fill="url(#nz11)" opacity="1.00"/>
<use href="#rhk2" y="1789.1" fill="url(#nz4)" opacity="0.51"/>
<use href="#rhk2" y="1792.2" fill="url(#nz8)" opacity="0.82"/>
<use href="#rhk2" y="1792.2" fill="#fff" opacity="0.31"/>
<use href="#rhk2" y="1795.3" fill="url(#nz7)" opacity="0.89"/>
<use href="#rhk2" y="1795.3" fill="#3848a8" opacity="0.05"/>
<use href="#rhk2" y="1798.4" fill="url(#nz11)" opacity="0.63"/>
<use href="#rhk2" y="1801.5" fill="url(#nz14)" opacity="0.95"/>
<use href="#rhk2" y="1804.7" fill="url(#nz1)" opacity="0.64"/>
<use href="#rhk2" y="1807.8" fill="url(#nz14)" opacity="0.85"/>
<use href="#rhk2" y="1810.9" fill="url(#nz8)" opacity="0.51"/>
<use href="#rhk2" y="1814" fill="url(#nz0)" opacity="0.85"/>
<use href="#rhk2" y="1814" fill="#fff" opacity="0.23"/>
<use href="#rhk2" y="1817.1" fill="url(#nz13)" opacity="0.57"/>
<use href="#rhk2" y="1817.1" fill="#fff" opacity="0.29"/>
<use href="#rhk2" y="1820.3" fill="url(#nz6)" opacity="0.72"/>
<use href="#rhk2" y="1820.3" fill="#fff" opacity="0.17"/>
<use href="#rhk2" y="1823.4" fill="url(#nz8)" opacity="0.88"/>
<use href="#rhk2" y="1826.5" fill="url(#nz13)" opacity="0.72"/>
<use href="#rhk2" y="1829.6" fill="url(#nz6)" opacity="0.79"/>
<use href="#rhk2" y="1832.7" fill="url(#nz11)" opacity="0.99"/>
<use href="#rhk2" y="1835.9" fill="url(#nz5)" opacity="0.51"/>
<use href="#rhk2" y="1839" fill="url(#nz4)" opacity="0.95"/>
<use href="#rhk2" y="1842.1" fill="url(#nz13)" opacity="0.77"/>
<use href="#rhk2" y="1842.1" fill="#3848a8" opacity="0.24"/>
<use href="#rhk2" y="1845.2" fill="url(#nz12)" opacity="0.90"/>
<use href="#rhk2" y="1848.3" fill="url(#nz8)" opacity="0.97"/>
<use href="#rhk2" y="1851.5" fill="url(#nz15)" opacity="0.81"/>
<use href="#rhk2" y="1854.6" fill="url(#nz12)" opacity="0.79"/>
<use href="#rhk2" y="1857.7" fill="url(#nz2)" opacity="0.70"/>
<use href="#rhk2" y="1860.8" fill="url(#nz4)" opacity="0.84"/>
<use href="#rhk2" y="1860.8" fill="#fff" opacity="0.21"/>
<use href="#rhk2" y="1863.9" fill="url(#nz9)" opacity="0.66"/>
<use href="#rhk2" y="1867.1" fill="url(#nz13)" opacity="0.68"/>
<use href="#rhk2" y="1867.1" fill="#fff" opacity="0.21"/>
<use href="#rhk2" y="1870.2" fill="url(#nz0)" opacity="0.60"/>
<use href="#rhk2" y="1873.3" fill="url(#nz1)" opacity="0.83"/>
<use href="#rhk2" y="1876.4" fill="url(#nz10)" opacity="0.73"/>
<use href="#rhk2" y="1879.5" fill="url(#nz7)" opacity="0.50"/>
<use href="#rhk2" y="1882.7" fill="url(#nz11)" opacity="0.68"/>
<use href="#rhk2" y="1885.8" fill="url(#nz9)" opacity="0.61"/>
<use href="#rhk2" y="1885.8" fill="#3848a8" opacity="0.07"/>
<use href="#rhk2" y="1888.9" fill="url(#nz4)" opacity="0.75"/>
<use href="#rhk2" y="1892" fill="url(#nz14)" opacity="0.69"/>
<use href="#rhk2" y="1895.1" fill="url(#nz7)" opacity="0.73"/>
<use href="#rhk2" y="1898.3" fill="url(#nz7)" opacity="0.70"/>
<use href="#rhk2" y="1901.4" fill="url(#nz12)" opacity="0.76"/>
<use href="#rhk2" y="1904.5" fill="url(#nz3)" opacity="0.78"/>
<use href="#rhk2" y="1907.6" fill="url(#nz9)" opacity="0.68"/>
<use href="#rhk2" y="1910.7" fill="url(#nz15)" opacity="0.95"/>
<use href="#rhk2" y="1913.9" fill="url(#nz9)" opacity="0.59"/>
<use href="#rhk2" y="1913.9" fill="#3848a8" opacity="0.18"/>
<use href="#rhk2" y="1917" fill="url(#nz4)" opacity="0.63"/>
<use href="#rhk2" y="1920.1" fill="url(#nz1)" opacity="0.71"/>
<use href="#rhk2" y="1923.2" fill="url(#nz9)" opacity="0.69"/>
<use href="#rhk2" y="1926.3" fill="url(#nz10)" opacity="0.57"/>
<use href="#rhk2" y="1929.5" fill="url(#nz12)" opacity="0.71"/>
<use href="#rhk2" y="1932.6" fill="url(#nz8)" opacity="0.67"/>
<use href="#rhk2" y="1935.7" fill="url(#nz12)" opacity="0.91"/>
<use href="#rhk2" y="1935.7" fill="#3848a8" opacity="0.05"/>
<use href="#rhk2" y="1938.8" fill="url(#nz5)" opacity="0.58"/>
<use href="#rhk2" y="1941.9" fill="url(#nz8)" opacity="0.76"/>
<use href="#rhk2" y="1945.1" fill="url(#nz1)" opacity="0.93"/>
<use href="#rhk2" y="1948.2" fill="url(#nz11)" opacity="0.99"/>
<use href="#rhk2" y="1948.2" fill="#3848a8" opacity="0.09"/>
<use href="#rhk2" y="1951.3" fill="url(#nz9)" opacity="0.89"/>
<use href="#rhk2" y="1954.4" fill="url(#nz6)" opacity="0.87"/>
<use href="#rhk2" y="1957.5" fill="url(#nz0)" opacity="0.78"/>
<use href="#rhk2" y="1957.5" fill="#fff" opacity="0.39"/>
<use href="#rhk2" y="1960.7" fill="url(#nz6)" opacity="0.58"/>
<use href="#rhk2" y="1963.8" fill="url(#nz9)" opacity="0.96"/>
<use href="#rhk2" y="1963.8" fill="#fff" opacity="0.37"/>
<use href="#rhk2" y="1966.9" fill="url(#nz0)" opacity="0.80"/>
<use href="#rhk2" y="1970" fill="url(#nz3)" opacity="0.68"/>
<use href="#rhk2" y="1973.1" fill="url(#nz3)" opacity="0.76"/>
<use href="#rhk2" y="1976.3" fill="url(#nz4)" opacity="0.90"/>
<use href="#rhk2" y="1976.3" fill="#3848a8" opacity="0.11"/>
<use href="#rhk2" y="1979.4" fill="url(#nz14)" opacity="0.68"/>
<use href="#rhk2" y="1982.5" fill="url(#nz12)" opacity="0.93"/>
<use href="#rhk2" y="1985.6" fill="url(#nz8)" opacity="0.51"/>
<use href="#rhk2" y="1988.7" fill="url(#nz4)" opacity="0.75"/>
<use href="#rhk2" y="1991.9" fill="url(#nz13)" opacity="0.77"/>
<use href="#rhk2" y="1991.9" fill="#3848a8" opacity="0.06"/>
<use href="#rhk2" y="1995" fill="url(#nz11)" opacity="0.88"/>
<use href="#rhk2" y="1998.1" fill="url(#nz1)" opacity="0.62"/>
<use href="#rhk2" y="2001.2" fill="url(#nz13)" opacity="0.54"/>
<use href="#rhk2" y="2004.3" fill="url(#nz7)" opacity="0.52"/>
<use href="#rhk2" y="2007.5" fill="url(#nz0)" opacity="0.80"/>
<use href="#rhk2" y="2007.5" fill="#3848a8" opacity="0.13"/>
<use href="#rhk2" y="2010.6" fill="url(#nz6)" opacity="0.73"/>
<use href="#rhk2" y="2013.7" fill="url(#nz10)" opacity="0.71"/>
<use href="#rhk2" y="2016.8" fill="url(#nz7)" opacity="0.70"/>
<use href="#rhk2" y="2019.9" fill="url(#nz10)" opacity="0.98"/>
<use href="#rhk2" y="2019.9" fill="#fff" opacity="0.36"/>
<use href="#rhk2" y="2023" fill="url(#nz11)" opacity="0.57"/>
<use href="#rhk2" y="2026.2" fill="url(#nz3)" opacity="0.96"/>
<use href="#rhk2" y="2026.2" fill="#3848a8" opacity="0.06"/>
<use href="#rhk2" y="2029.3" fill="url(#nz0)" opacity="0.60"/>
<use href="#rhk2" y="2032.4" fill="url(#nz3)" opacity="0.74"/>
<use href="#rhk2" y="2035.5" fill="url(#nz10)" opacity="0.67"/>
<use href="#rhk2" y="2035.5" fill="#3848a8" opacity="0.20"/>
<use href="#rhk2" y="2038.6" fill="url(#nz12)" opacity="0.88"/>
<use href="#rhk2" y="2038.6" fill="#fff" opacity="0.20"/>
<use href="#rhk2" y="2041.8" fill="url(#nz10)" opacity="0.60"/>
<use href="#rhk2" y="2041.8" fill="#3848a8" opacity="0.07"/>
<use href="#rhk2" y="2044.9" fill="url(#nz11)" opacity="0.53"/>
<use href="#rhk2" y="2048" fill="url(#nz4)" opacity="0.92"/>
<use href="#rhk2" y="2051.1" fill="url(#nz14)" opacity="0.87"/>
<use href="#rhk2" y="2054.2" fill="url(#nz3)" opacity="0.56"/>
<use href="#rhk2" y="2054.2" fill="#fff" opacity="0.06"/>
<use href="#rhk2" y="2057.4" fill="url(#nz15)" opacity="0.59"/>
<use href="#rhk2" y="2057.4" fill="#3848a8" opacity="0.08"/>
<use href="#rhk2" y="2060.5" fill="url(#nz8)" opacity="0.69"/>
<use href="#rhk2" y="2063.6" fill="url(#nz9)" opacity="0.69"/>
<use href="#rhk2" y="2063.6" fill="#fff" opacity="0.43"/>
<use href="#rhk2" y="2066.7" fill="url(#nz14)" opacity="0.54"/>
<use href="#rhk2" y="2066.7" fill="#3848a8" opacity="0.07"/>
<use href="#rhk2" y="2069.8" fill="url(#nz12)" opacity="0.94"/>
<use href="#rhk2" y="2069.8" fill="#fff" opacity="0.18"/>
<use href="#rhk2" y="2073" fill="url(#nz11)" opacity="0.93"/>
<use href="#rhk2" y="2076.1" fill="url(#nz4)" opacity="0.65"/>
<use href="#rhk2" y="2079.2" fill="url(#nz12)" opacity="0.52"/>
<use href="#rhk2" y="2079.2" fill="#fff" opacity="0.17"/>
<use href="#rhk2" y="2082.3" fill="url(#nz10)" opacity="0.82"/>
<use href="#rhk2" y="2082.3" fill="#fff" opacity="0.20"/>
<use href="#rhk2" y="2085.4" fill="url(#nz3)" opacity="0.93"/>
<use href="#rhk2" y="2088.6" fill="url(#nz5)" opacity="0.90"/>
<use href="#rhk2" y="2088.6" fill="#fff" opacity="0.27"/>
<use href="#rhk2" y="2091.7" fill="url(#nz5)" opacity="0.90"/>
<use href="#rhk2" y="2094.8" fill="url(#nz7)" opacity="0.64"/>
<use href="#rhk2" y="2097.9" fill="url(#nz6)" opacity="0.64"/>
<use href="#rhk2" y="2101" fill="url(#nz3)" opacity="0.82"/>
<use href="#rhk2" y="2104.2" fill="url(#nz9)" opacity="0.73"/>
<use href="#rhk2" y="2107.3" fill="url(#nz15)" opacity="0.70"/>
<use href="#rhk2" y="2110.4" fill="url(#nz6)" opacity="0.62"/>
<use href="#rhk2" y="2113.5" fill="url(#nz15)" opacity="0.75"/>
<use href="#rhk2" y="2116.6" fill="url(#nz10)" opacity="0.68"/>
<use href="#rhk2" y="2116.6" fill="#3848a8" opacity="0.06"/>
<use href="#rhk2" y="2119.8" fill="url(#nz9)" opacity="0.57"/>
<use href="#rhk2" y="2119.8" fill="#fff" opacity="0.20"/>
<use href="#rhk2" y="2122.9" fill="url(#nz9)" opacity="0.70"/>
<use href="#phk2" fill="url(#hk2s)"/>
<g clip-path="url(#khk2)">
<use href="#qhk2" y="1695.5" fill="#b01010" opacity="0.22"/>
<use href="#qhk2" y="1698.6" fill="#b01010" opacity="0.22"/>
<use href="#qhk2" y="1701.7" fill="#fff" opacity="0.10"/>
<use href="#qhk2" y="1708" fill="#b01010" opacity="0.03"/>
<use href="#qhk2" y="1711.1" fill="#fff" opacity="0.05"/>
<use href="#qhk2" y="1720.4" fill="#b01010" opacity="0.05"/>
<use href="#qhk2" y="1726.7" fill="#fff" opacity="0.02"/>
<use href="#qhk2" y="1732.9" fill="#fff" opacity="0.14"/>
<use href="#qhk2" y="1736" fill="#b01010" opacity="0.05"/>
<use href="#qhk2" y="1739.2" fill="#fff" opacity="0.18"/>
<use href="#qhk2" y="1748.5" fill="#b01010" opacity="0.05"/>
<use href="#qhk2" y="1751.6" fill="#fff" opacity="0.23"/>
<use href="#qhk2" y="1754.8" fill="#fff" opacity="0.18"/>
<use href="#qhk2" y="1757.9" fill="#b01010" opacity="0.04"/>
<use href="#qhk2" y="1761" fill="#b01010" opacity="0.14"/>
<use href="#qhk2" y="1764.1" fill="#fff" opacity="0.10"/>
<use href="#qhk2" y="1767.2" fill="#fff" opacity="0.13"/>
<use href="#qhk2" y="1776.6" fill="#fff" opacity="0.04"/>
<use href="#qhk2" y="1779.7" fill="#fff" opacity="0.27"/>
<use href="#qhk2" y="1789.1" fill="#fff" opacity="0.14"/>
<use href="#qhk2" y="1792.2" fill="#fff" opacity="0.06"/>
<use href="#qhk2" y="1795.3" fill="#b01010" opacity="0.05"/>
<use href="#qhk2" y="1798.4" fill="#fff" opacity="0.07"/>
<use href="#qhk2" y="1807.8" fill="#b01010" opacity="0.09"/>
<use href="#qhk2" y="1817.1" fill="#fff" opacity="0.03"/>
<use href="#qhk2" y="1826.5" fill="#fff" opacity="0.09"/>
<use href="#qhk2" y="1832.7" fill="#fff" opacity="0.15"/>
<use href="#qhk2" y="1835.9" fill="#fff" opacity="0.03"/>
<use href="#qhk2" y="1842.1" fill="#b01010" opacity="0.15"/>
<use href="#qhk2" y="1845.2" fill="#fff" opacity="0.03"/>
<use href="#qhk2" y="1851.5" fill="#b01010" opacity="0.07"/>
<use href="#qhk2" y="1857.7" fill="#fff" opacity="0.18"/>
<use href="#qhk2" y="1860.8" fill="#fff" opacity="0.07"/>
<use href="#qhk2" y="1863.9" fill="#fff" opacity="0.30"/>
<use href="#qhk2" y="1867.1" fill="#fff" opacity="0.05"/>
<use href="#qhk2" y="1870.2" fill="#b01010" opacity="0.12"/>
<use href="#qhk2" y="1873.3" fill="#b01010" opacity="0.27"/>
<use href="#qhk2" y="1876.4" fill="#fff" opacity="0.20"/>
<use href="#qhk2" y="1879.5" fill="#fff" opacity="0.06"/>
<use href="#qhk2" y="1882.7" fill="#fff" opacity="0.17"/>
<use href="#qhk2" y="1888.9" fill="#b01010" opacity="0.12"/>
<use href="#qhk2" y="1892" fill="#b01010" opacity="0.05"/>
<use href="#qhk2" y="1895.1" fill="#b01010" opacity="0.20"/>
<use href="#qhk2" y="1901.4" fill="#b01010" opacity="0.10"/>
<use href="#qhk2" y="1904.5" fill="#8090d0" opacity="0.02"/>
<use href="#qhk2" y="1907.6" fill="#8090d0" opacity="0.07"/>
<use href="#qhk2" y="1910.7" fill="#fff" opacity="0.06"/>
<use href="#qhk2" y="1913.9" fill="#8090d0" opacity="0.14"/>
<use href="#qhk2" y="1917" fill="#8090d0" opacity="0.07"/>
<use href="#qhk2" y="1923.2" fill="#8090d0" opacity="0.05"/>
<use href="#qhk2" y="1929.5" fill="#8090d0" opacity="0.03"/>
<use href="#qhk2" y="1932.6" fill="#8090d0" opacity="0.07"/>
<use href="#qhk2" y="1948.2" fill="#fff" opacity="0.02"/>
<use href="#qhk2" y="1957.5" fill="#8090d0" opacity="0.13"/>
<use href="#qhk2" y="1960.7" fill="#8090d0" opacity="0.04"/>
<use href="#qhk2" y="1963.8" fill="#8090d0" opacity="0.03"/>
<use href="#qhk2" y="1970" fill="#8090d0" opacity="0.04"/>
<use href="#qhk2" y="1973.1" fill="#8090d0" opacity="0.02"/>
<use href="#qhk2" y="1976.3" fill="#8090d0" opacity="0.02"/>
<use href="#qhk2" y="1985.6" fill="#8090d0" opacity="0.04"/>
<use href="#qhk2" y="1988.7" fill="#fff" opacity="0.10"/>
<use href="#qhk2" y="1995" fill="#8090d0" opacity="0.05"/>
<use href="#qhk2" y="1998.1" fill="#8090d0" opacity="0.14"/>
<use href="#qhk2" y="2013.7" fill="#fff" opacity="0.16"/>
<use href="#qhk2" y="2016.8" fill="#8090d0" opacity="0.02"/>
<use href="#qhk2" y="2023" fill="#fff" opacity="0.15"/>
<use href="#qhk2" y="2026.2" fill="#8090d0" opacity="0.06"/>
<use href="#qhk2" y="2032.4" fill="#8090d0" opacity="0.04"/>
<use href="#qhk2" y="2035.5" fill="#8090d0" opacity="0.04"/>
<use href="#qhk2" y="2038.6" fill="#8090d0" opacity="0.04"/>
<use href="#qhk2" y="2041.8" fill="#8090d0" opacity="0.08"/>
<use href="#qhk2" y="2044.9" fill="#fff" opacity="0.14"/>
<use href="#qhk2" y="2051.1" fill="#8090d0" opacity="0.02"/>
<use href="#qhk2" y="2054.2" fill="#8090d0" opacity="0.13"/>
<use href="#qhk2" y="2057.4" fill="#8090d0" opacity="0.07"/>
<use href="#qhk2" y="2066.7" fill="#fff" opacity="0.03"/>
<use href="#qhk2" y="2082.3" fill="#8090d0" opacity="0.06"/>
<use href="#qhk2" y="2085.4" fill="#fff" opacity="0.08"/>
<use href="#qhk2" y="2088.6" fill="#fff" opacity="0.09"/>
<use href="#qhk2" y="2097.9" fill="#8090d0" opacity="0.05"/>
<use href="#qhk2" y="2113.5" fill="#8090d0" opacity="0.03"/>
<use href="#qhk2" y="2116.6" fill="#8090d0" opacity="0.08"/>
<use href="#qhk2" y="2122.9" fill="#fff" opacity="0.11"/>
</g>
</g>
<g clip-path="url(#chl1)">
<rect x="908" y="1683" width="255" height="443" fill="url(#hl1)"/>
<path d="M1021.4 1683L1049.4 1683L1045.4 2126L1025.4 2126Z" fill="url(#hl1h)"/>
<use href="#rhl1" y="1683" fill="url(#nz8)" opacity="0.65"/>
<use href="#rhl1" y="1683" fill="#fff" opacity="0.08"/>
<use href="#rhl1" y="1686.1" fill="url(#nz5)" opacity="0.83"/>
<use href="#rhl1" y="1689.2" fill="url(#nz4)" opacity="0.93"/>
<use href="#rhl1" y="1692.4" fill="url(#nz2)" opacity="0.77"/>
<use href="#rhl1" y="1695.5" fill="url(#nz6)" opacity="0.87"/>
<use href="#rhl1" y="1698.6" fill="url(#nz0)" opacity="1.00"/>
<use href="#rhl1" y="1701.7" fill="url(#nz4)" opacity="0.54"/>
<use href="#rhl1" y="1704.8" fill="url(#nz8)" opacity="0.91"/>
<use href="#rhl1" y="1704.8" fill="#3848a8" opacity="0.07"/>
<use href="#rhl1" y="1708" fill="url(#nz13)" opacity="0.97"/>
<use href="#rhl1" y="1711.1" fill="url(#nz7)" opacity="0.74"/>
<use href="#rhl1" y="1714.2" fill="url(#nz13)" opacity="0.84"/>
<use href="#rhl1" y="1714.2" fill="#fff" opacity="0.02"/>
<use href="#rhl1" y="1717.3" fill="url(#nz3)" opacity="0.67"/>
<use href="#rhl1" y="1720.4" fill="url(#nz8)" opacity="0.85"/>
<use href="#rhl1" y="1720.4" fill="#3848a8" opacity="0.04"/>
<use href="#rhl1" y="1723.6" fill="url(#nz4)" opacity="0.72"/>
<use href="#rhl1" y="1726.7" fill="url(#nz14)" opacity="0.77"/>
<use href="#rhl1" y="1729.8" fill="url(#nz11)" opacity="0.63"/>
<use href="#rhl1" y="1732.9" fill="url(#nz14)" opacity="0.63"/>
<use href="#rhl1" y="1736" fill="url(#nz15)" opacity="0.78"/>
<use href="#rhl1" y="1736" fill="#fff" opacity="0.15"/>
<use href="#rhl1" y="1739.2" fill="url(#nz7)" opacity="0.94"/>
<use href="#rhl1" y="1742.3" fill="url(#nz13)" opacity="0.83"/>
<use href="#rhl1" y="1745.4" fill="url(#nz14)" opacity="0.69"/>
<use href="#rhl1" y="1748.5" fill="url(#nz1)" opacity="0.61"/>
<use href="#rhl1" y="1748.5" fill="#3848a8" opacity="0.08"/>
<use href="#rhl1" y="1751.6" fill="url(#nz15)" opacity="0.90"/>
<use href="#rhl1" y="1754.8" fill="url(#nz5)" opacity="0.87"/>
<use href="#rhl1" y="1754.8" fill="#3848a8" opacity="0.02"/>
<use href="#rhl1" y="1757.9" fill="url(#nz8)" opacity="0.94"/>
<use href="#rhl1" y="1761" fill="url(#nz11)" opacity="0.76"/>
<use href="#rhl1" y="1764.1" fill="url(#nz4)" opacity="0.95"/>
<use href="#rhl1" y="1767.2" fill="url(#nz15)" opacity="0.61"/>
<use href="#rhl1" y="1770.4" fill="url(#nz1)" opacity="0.79"/>
<use href="#rhl1" y="1773.5" fill="url(#nz10)" opacity="0.59"/>
<use href="#rhl1" y="1776.6" fill="url(#nz6)" opacity="0.58"/>
<use href="#rhl1" y="1779.7" fill="url(#nz7)" opacity="0.58"/>
<use href="#rhl1" y="1782.8" fill="url(#nz13)" opacity="0.82"/>
<use href="#rhl1" y="1782.8" fill="#3848a8" opacity="0.02"/>
<use href="#rhl1" y="1786" fill="url(#nz1)" opacity="0.99"/>
<use href="#rhl1" y="1789.1" fill="url(#nz10)" opacity="0.82"/>
<use href="#rhl1" y="1792.2" fill="url(#nz9)" opacity="0.56"/>
<use href="#rhl1" y="1795.3" fill="url(#nz9)" opacity="0.95"/>
<use href="#rhl1" y="1795.3" fill="#3848a8" opacity="0.03"/>
<use href="#rhl1" y="1798.4" fill="url(#nz15)" opacity="0.76"/>
<use href="#rhl1" y="1801.5" fill="url(#nz1)" opacity="0.50"/>
<use href="#rhl1" y="1804.7" fill="url(#nz15)" opacity="0.61"/>
<use href="#rhl1" y="1804.7" fill="#fff" opacity="0.01"/>
<use href="#rhl1" y="1807.8" fill="url(#nz6)" opacity="0.65"/>
<use href="#rhl1" y="1807.8" fill="#fff" opacity="0.03"/>
<use href="#rhl1" y="1810.9" fill="url(#nz5)" opacity="0.87"/>
<use href="#rhl1" y="1814" fill="url(#nz8)" opacity="0.71"/>
<use href="#rhl1" y="1817.1" fill="url(#nz13)" opacity="0.79"/>
<use href="#rhl1" y="1820.3" fill="url(#nz11)" opacity="0.89"/>
<use href="#rhl1" y="1823.4" fill="url(#nz11)" opacity="0.71"/>
<use href="#rhl1" y="1826.5" fill="url(#nz10)" opacity="0.70"/>
<use href="#rhl1" y="1826.5" fill="#fff" opacity="0.07"/>
<use href="#rhl1" y="1829.6" fill="url(#nz0)" opacity="0.83"/>
<use href="#rhl1" y="1832.7" fill="url(#nz9)" opacity="0.60"/>
<use href="#rhl1" y="1832.7" fill="#3848a8" opacity="0.02"/>
<use href="#rhl1" y="1835.9" fill="url(#nz10)" opacity="0.53"/>
<use href="#rhl1" y="1839" fill="url(#nz13)" opacity="0.98"/>
<use href="#rhl1" y="1842.1" fill="url(#nz11)" opacity="0.91"/>
<use href="#rhl1" y="1845.2" fill="url(#nz6)" opacity="0.65"/>
<use href="#rhl1" y="1848.3" fill="url(#nz11)" opacity="0.56"/>
<use href="#rhl1" y="1851.5" fill="url(#nz11)" opacity="0.75"/>
<use href="#rhl1" y="1851.5" fill="#3848a8" opacity="0.01"/>
<use href="#rhl1" y="1854.6" fill="url(#nz13)" opacity="0.52"/>
<use href="#rhl1" y="1857.7" fill="url(#nz9)" opacity="0.56"/>
<use href="#rhl1" y="1860.8" fill="url(#nz4)" opacity="0.95"/>
<use href="#rhl1" y="1863.9" fill="url(#nz7)" opacity="0.96"/>
<use href="#rhl1" y="1867.1" fill="url(#nz11)" opacity="0.54"/>
<use href="#rhl1" y="1870.2" fill="url(#nz8)" opacity="0.90"/>
<use href="#rhl1" y="1873.3" fill="url(#nz7)" opacity="0.76"/>
<use href="#rhl1" y="1873.3" fill="#fff" opacity="0.08"/>
<use href="#rhl1" y="1876.4" fill="url(#nz14)" opacity="0.60"/>
<use href="#rhl1" y="1879.5" fill="url(#nz1)" opacity="0.56"/>
<use href="#rhl1" y="1882.7" fill="url(#nz4)" opacity="0.97"/>
<use href="#rhl1" y="1885.8" fill="url(#nz12)" opacity="0.65"/>
<use href="#rhl1" y="1888.9" fill="url(#nz9)" opacity="0.63"/>
<use href="#rhl1" y="1888.9" fill="#3848a8" opacity="0.04"/>
<use href="#rhl1" y="1892" fill="url(#nz5)" opacity="0.86"/>
<use href="#rhl1" y="1892" fill="#fff" opacity="0.10"/>
<use href="#rhl1" y="1895.1" fill="url(#nz3)" opacity="0.76"/>
<use href="#rhl1" y="1898.3" fill="url(#nz10)" opacity="0.90"/>
<use href="#rhl1" y="1901.4" fill="url(#nz13)" opacity="0.58"/>
<use href="#rhl1" y="1901.4" fill="#fff" opacity="0.08"/>
<use href="#rhl1" y="1904.5" fill="url(#nz9)" opacity="0.96"/>
<use href="#rhl1" y="1907.6" fill="url(#nz1)" opacity="0.55"/>
<use href="#rhl1" y="1907.6" fill="#3848a8" opacity="0.02"/>
<use href="#rhl1" y="1910.7" fill="url(#nz15)" opacity="0.70"/>
<use href="#rhl1" y="1910.7" fill="#fff" opacity="0.29"/>
<use href="#rhl1" y="1913.9" fill="url(#nz4)" opacity="0.89"/>
<use href="#rhl1" y="1917" fill="url(#nz0)" opacity="0.77"/>
<use href="#rhl1" y="1920.1" fill="url(#nz8)" opacity="0.67"/>
<use href="#rhl1" y="1923.2" fill="url(#nz11)" opacity="0.71"/>
<use href="#rhl1" y="1926.3" fill="url(#nz15)" opacity="0.70"/>
<use href="#rhl1" y="1929.5" fill="url(#nz14)" opacity="0.60"/>
<use href="#rhl1" y="1929.5" fill="#fff" opacity="0.02"/>
<use href="#rhl1" y="1932.6" fill="url(#nz12)" opacity="0.86"/>
<use href="#rhl1" y="1935.7" fill="url(#nz1)" opacity="0.74"/>
<use href="#rhl1" y="1938.8" fill="url(#nz5)" opacity="0.56"/>
<use href="#rhl1" y="1941.9" fill="url(#nz2)" opacity="0.94"/>
<use href="#rhl1" y="1945.1" fill="url(#nz15)" opacity="0.79"/>
<use href="#rhl1" y="1948.2" fill="url(#nz13)" opacity="0.51"/>
<use href="#rhl1" y="1951.3" fill="url(#nz0)" opacity="0.89"/>
<use href="#rhl1" y="1954.4" fill="url(#nz4)" opacity="0.83"/>
<use href="#rhl1" y="1957.5" fill="url(#nz13)" opacity="0.96"/>
<use href="#rhl1" y="1960.7" fill="url(#nz3)" opacity="0.62"/>
<use href="#rhl1" y="1960.7" fill="#fff" opacity="0.03"/>
<use href="#rhl1" y="1963.8" fill="url(#nz0)" opacity="0.79"/>
<use href="#rhl1" y="1963.8" fill="#fff" opacity="0.10"/>
<use href="#rhl1" y="1966.9" fill="url(#nz7)" opacity="0.80"/>
<use href="#rhl1" y="1966.9" fill="#3848a8" opacity="0.03"/>
<use href="#rhl1" y="1970" fill="url(#nz13)" opacity="0.62"/>
<use href="#rhl1" y="1973.1" fill="url(#nz11)" opacity="0.96"/>
<use href="#rhl1" y="1976.3" fill="url(#nz14)" opacity="0.91"/>
<use href="#rhl1" y="1979.4" fill="url(#nz7)" opacity="0.83"/>
<use href="#rhl1" y="1979.4" fill="#3848a8" opacity="0.03"/>
<use href="#rhl1" y="1982.5" fill="url(#nz2)" opacity="0.63"/>
<use href="#rhl1" y="1982.5" fill="#fff" opacity="0.02"/>
<use href="#rhl1" y="1985.6" fill="url(#nz3)" opacity="0.53"/>
<use href="#rhl1" y="1985.6" fill="#fff" opacity="0.04"/>
<use href="#rhl1" y="1988.7" fill="url(#nz4)" opacity="0.81"/>
<use href="#rhl1" y="1988.7" fill="#3848a8" opacity="0.05"/>
<use href="#rhl1" y="1991.9" fill="url(#nz11)" opacity="0.69"/>
<use href="#rhl1" y="1995" fill="url(#nz15)" opacity="0.90"/>
<use href="#rhl1" y="1998.1" fill="url(#nz14)" opacity="0.76"/>
<use href="#rhl1" y="2001.2" fill="url(#nz8)" opacity="0.67"/>
<use href="#rhl1" y="2001.2" fill="#3848a8" opacity="0.01"/>
<use href="#rhl1" y="2004.3" fill="url(#nz10)" opacity="0.69"/>
<use href="#rhl1" y="2004.3" fill="#3848a8" opacity="0.06"/>
<use href="#rhl1" y="2007.5" fill="url(#nz2)" opacity="0.88"/>
<use href="#rhl1" y="2010.6" fill="url(#nz0)" opacity="0.99"/>
<use href="#rhl1" y="2013.7" fill="url(#nz14)" opacity="0.69"/>
<use href="#rhl1" y="2013.7" fill="#3848a8" opacity="0.07"/>
<use href="#rhl1" y="2016.8" fill="url(#nz1)" opacity="0.54"/>
<use href="#rhl1" y="2019.9" fill="url(#nz6)" opacity="0.50"/>
<use href="#rhl1" y="2019.9" fill="#3848a8" opacity="0.12"/>
<use href="#rhl1" y="2023" fill="url(#nz6)" opacity="0.72"/>
<use href="#rhl1" y="2026.2" fill="url(#nz9)" opacity="0.51"/>
<use href="#rhl1" y="2026.2" fill="#3848a8" opacity="0.03"/>
<use href="#rhl1" y="2029.3" fill="url(#nz3)" opacity="0.83"/>
<use href="#rhl1" y="2029.3" fill="#3848a8" opacity="0.03"/>
<use href="#rhl1" y="2032.4" fill="url(#nz2)" opacity="0.78"/>
<use href="#rhl1" y="2035.5" fill="url(#nz0)" opacity="0.58"/>
<use href="#rhl1" y="2038.6" fill="url(#nz5)" opacity="0.52"/>
<use href="#rhl1" y="2041.8" fill="url(#nz5)" opacity="0.83"/>
<use href="#rhl1" y="2041.8" fill="#fff" opacity="0.05"/>
<use href="#rhl1" y="2044.9" fill="url(#nz13)" opacity="0.85"/>
<use href="#rhl1" y="2048" fill="url(#nz4)" opacity="0.56"/>
<use href="#rhl1" y="2048" fill="#3848a8" opacity="0.06"/>
<use href="#rhl1" y="2051.1" fill="url(#nz11)" opacity="0.81"/>
<use href="#rhl1" y="2051.1" fill="#3848a8" opacity="0.02"/>
<use href="#rhl1" y="2054.2" fill="url(#nz5)" opacity="0.55"/>
<use href="#rhl1" y="2057.4" fill="url(#nz13)" opacity="0.65"/>
<use href="#rhl1" y="2060.5" fill="url(#nz13)" opacity="0.95"/>
<use href="#rhl1" y="2063.6" fill="url(#nz8)" opacity="0.87"/>
<use href="#rhl1" y="2066.7" fill="url(#nz2)" opacity="0.58"/>
<use href="#rhl1" y="2066.7" fill="#fff" opacity="0.12"/>
<use href="#rhl1" y="2069.8" fill="url(#nz3)" opacity="0.98"/>
<use href="#rhl1" y="2073" fill="url(#nz7)" opacity="0.81"/>
<use href="#rhl1" y="2073" fill="#fff" opacity="0.12"/>
<use href="#rhl1" y="2076.1" fill="url(#nz3)" opacity="0.55"/>
<use href="#rhl1" y="2079.2" fill="url(#nz13)" opacity="0.57"/>
<use href="#rhl1" y="2082.3" fill="url(#nz15)" opacity="0.62"/>
<use href="#rhl1" y="2085.4" fill="url(#nz0)" opacity="0.86"/>
<use href="#rhl1" y="2088.6" fill="url(#nz15)" opacity="0.54"/>
<use href="#rhl1" y="2088.6" fill="#fff" opacity="0.07"/>
<use href="#rhl1" y="2091.7" fill="url(#nz8)" opacity="0.72"/>
<use href="#rhl1" y="2091.7" fill="#fff" opacity="0.02"/>
<use href="#rhl1" y="2094.8" fill="url(#nz13)" opacity="0.96"/>
<use href="#rhl1" y="2097.9" fill="url(#nz4)" opacity="0.62"/>
<use href="#rhl1" y="2097.9" fill="#3848a8" opacity="0.03"/>
<use href="#rhl1" y="2101" fill="url(#nz4)" opacity="0.71"/>
<use href="#rhl1" y="2104.2" fill="url(#nz10)" opacity="0.88"/>
<use href="#rhl1" y="2107.3" fill="url(#nz6)" opacity="0.55"/>
<use href="#rhl1" y="2110.4" fill="url(#nz13)" opacity="0.97"/>
<use href="#rhl1" y="2110.4" fill="#3848a8" opacity="0.02"/>
<use href="#rhl1" y="2113.5" fill="url(#nz13)" opacity="0.88"/>
<use href="#rhl1" y="2113.5" fill="#3848a8" opacity="0.02"/>
<use href="#rhl1" y="2116.6" fill="url(#nz4)" opacity="0.81"/>
<use href="#rhl1" y="2119.8" fill="url(#nz12)" opacity="0.90"/>
<use href="#rhl1" y="2122.9" fill="url(#nz13)" opacity="0.70"/>
<use href="#sphl15" x="917.4" y="1876.4" fill="#f6d4d2" opacity="0.54"/>
<use href="#sphl19" x="977.7" y="1720.4" fill="#b8c0e6" opacity="0.29"/>
<use href="#sphl113" x="1008.1" y="2091.7" fill="#b8c0e6" opacity="0.30"/>
<use href="#sphl15" x="999.5" y="1717.3" fill="#ffffff" opacity="0.33"/>
<use href="#sphl19" x="959" y="2079.2" fill="#f0b4b0" opacity="0.26"/>
<use href="#sphl113" x="949" y="2048" fill="#f6d4d2" opacity="0.31"/>
<use href="#sphl15" x="998.5" y="2026.2" fill="#f6d4d2" opacity="0.39"/>
<use href="#sphl15" x="934" y="1832.7" fill="#f6d4d2" opacity="0.26"/>
<use href="#sphl19" x="990.1" y="2038.6" fill="#f6d4d2" opacity="0.57"/>
<use href="#sphl19" x="967.2" y="2044.9" fill="#ffffff" opacity="0.59"/>
<use href="#sphl113" x="976.9" y="2038.6" fill="#ffffff" opacity="0.43"/>
<use href="#sphl113" x="967.7" y="1729.8" fill="#b8c0e6" opacity="0.31"/>
<use href="#sphl113" x="992.9" y="1704.8" fill="#f6d4d2" opacity="0.58"/>
<use href="#sphl15" x="1010.2" y="2054.2" fill="#b8c0e6" opacity="0.40"/>
<use href="#sphl113" x="912.9" y="1901.4" fill="#b8c0e6" opacity="0.59"/>
<use href="#sphl113" x="925.3" y="1695.5" fill="#ffffff" opacity="0.27"/>
<use href="#sphl113" x="927.8" y="2060.5" fill="#ffffff" opacity="0.60"/>
<use href="#sphl19" x="908.2" y="1879.5" fill="#ffffff" opacity="0.52"/>
<use href="#sphl113" x="915.6" y="1732.9" fill="#f6d4d2" opacity="0.49"/>
<use href="#sphl19" x="930.5" y="1726.7" fill="#ffffff" opacity="0.47"/>
<use href="#sphl15" x="992.5" y="2041.8" fill="#eba09c" opacity="0.41"/>
<use href="#sphl15" x="978.5" y="1820.3" fill="#ffffff" opacity="0.45"/>
<use href="#sphl113" x="1018.1" y="1742.3" fill="#f6d4d2" opacity="0.53"/>
<use href="#sphl19" x="954.9" y="2010.6" fill="#ffffff" opacity="0.35"/>
<use href="#sphl19" x="998.6" y="1686.1" fill="#ffffff" opacity="0.41"/>
<use href="#sphl15" x="991.7" y="1829.6" fill="#f0b4b0" opacity="0.50"/>
<use href="#sphl113" x="962.5" y="1854.6" fill="#f0b4b0" opacity="0.44"/>
<use href="#sphl19" x="1002.7" y="1683" fill="#ffffff" opacity="0.37"/>
<use href="#sphl19" x="1023.5" y="1695.5" fill="#f6d4d2" opacity="0.29"/>
<use href="#sphl15" x="912.2" y="1945.1" fill="#b8c0e6" opacity="0.27"/>
<use href="#sphl15" x="1012.6" y="1770.4" fill="#eba09c" opacity="0.47"/>
<use href="#sphl113" x="986" y="1823.4" fill="#b8c0e6" opacity="0.41"/>
<use href="#sphl113" x="991.9" y="2054.2" fill="#ffffff" opacity="0.37"/>
<use href="#sphl19" x="994.5" y="1957.5" fill="#ffffff" opacity="0.52"/>
<use href="#sphl19" x="1008.7" y="1748.5" fill="#ffffff" opacity="0.30"/>
<use href="#sphl113" x="975.4" y="1742.3" fill="#f6d4d2" opacity="0.35"/>
<use href="#sphl19" x="966.2" y="2013.7" fill="#ffffff" opacity="0.32"/>
<use href="#sphl15" x="975.9" y="1988.7" fill="#f0b4b0" opacity="0.28"/>
<use href="#sphl15" x="961" y="1839" fill="#b8c0e6" opacity="0.49"/>
<use href="#sphl113" x="958.1" y="1739.2" fill="#b8c0e6" opacity="0.36"/>
<use href="#sphl19" x="983.3" y="1938.8" fill="#ffffff" opacity="0.58"/>
<use href="#sphl15" x="910.4" y="1814" fill="#eba09c" opacity="0.53"/>
<use href="#sphl19" x="995.2" y="2026.2" fill="#ffffff" opacity="0.30"/>
<use href="#sphl15" x="1020.8" y="1720.4" fill="#eba09c" opacity="0.31"/>
<use href="#sphl19" x="950.8" y="1988.7" fill="#ffffff" opacity="0.55"/>
<use href="#sphl15" x="968.5" y="1845.2" fill="#ffffff" opacity="0.36"/>
<use href="#sphl19" x="927.8" y="1879.5" fill="#ffffff" opacity="0.37"/>
<use href="#sphl15" x="1012.9" y="2001.2" fill="#f0b4b0" opacity="0.26"/>
<use href="#sphl113" x="1015.6" y="1888.9" fill="#ffffff" opacity="0.51"/>
<use href="#sphl19" x="936.4" y="1764.1" fill="#f6d4d2" opacity="0.40"/>
<use href="#sphl113" x="942.6" y="1885.8" fill="#ffffff" opacity="0.40"/>
<use href="#sphl19" x="984.2" y="2029.3" fill="#ffffff" opacity="0.56"/>
<use href="#sphl19" x="920.4" y="1845.2" fill="#ffffff" opacity="0.33"/>
<use href="#sphl15" x="987.6" y="1957.5" fill="#f6d4d2" opacity="0.32"/>
<use href="#sphl113" x="968.4" y="1779.7" fill="#ffffff" opacity="0.36"/>
<use href="#sphl19" x="956.4" y="2016.8" fill="#f6d4d2" opacity="0.28"/>
<use href="#sphl19" x="974.6" y="2088.6" fill="#ffffff" opacity="0.35"/>
<use href="#sphl113" x="989.1" y="2063.6" fill="#ffffff" opacity="0.30"/>
<use href="#sphl113" x="1006.7" y="1963.8" fill="#ffffff" opacity="0.37"/>
<use href="#sphl15" x="957" y="2013.7" fill="#f6d4d2" opacity="0.29"/>
<use href="#sphl113" x="933.1" y="1998.1" fill="#ffffff" opacity="0.50"/>
<use href="#sphl19" x="922.6" y="1998.1" fill="#f6d4d2" opacity="0.49"/>
<use href="#sphl19" x="1009.7" y="2004.3" fill="#ffffff" opacity="0.41"/>
<use href="#sphl19" x="959.5" y="1973.1" fill="#ffffff" opacity="0.42"/>
<use href="#sphl113" x="940.3" y="1826.5" fill="#eba09c" opacity="0.35"/>
<use href="#sphl15" x="947.6" y="1892" fill="#ffffff" opacity="0.36"/>
<use href="#sphl113" x="918.2" y="1798.4" fill="#ffffff" opacity="0.55"/>
<use href="#sphl15" x="1013.3" y="1917" fill="#eba09c" opacity="0.42"/>
<use href="#sphl19" x="928.8" y="1985.6" fill="#b8c0e6" opacity="0.37"/>
<use href="#sphl15" x="956.8" y="1698.6" fill="#f0b4b0" opacity="0.59"/>
<use href="#sphl15" x="1001.1" y="1689.2" fill="#ffffff" opacity="0.40"/>
<use href="#sphl113" x="928.2" y="1845.2" fill="#b8c0e6" opacity="0.59"/>
<use href="#sphl113" x="1021.3" y="1945.1" fill="#ffffff" opacity="0.53"/>
<use href="#sphl113" x="969.7" y="1776.6" fill="#f6d4d2" opacity="0.46"/>
<use href="#sphl19" x="954.8" y="1723.6" fill="#b8c0e6" opacity="0.27"/>
<use href="#sphl15" x="981.8" y="1929.5" fill="#f0b4b0" opacity="0.57"/>
<use href="#sphl15" x="964.3" y="1739.2" fill="#b8c0e6" opacity="0.55"/>
<use href="#sphl19" x="993.9" y="2035.5" fill="#ffffff" opacity="0.42"/>
<use href="#sphl19" x="1006.8" y="1839" fill="#f0b4b0" opacity="0.43"/>
<use href="#sphl19" x="956.7" y="1935.7" fill="#f0b4b0" opacity="0.30"/>
<use href="#sphl15" x="1016.4" y="2122.9" fill="#ffffff" opacity="0.42"/>
<use href="#sphl19" x="1004.7" y="2110.4" fill="#f0b4b0" opacity="0.40"/>
<use href="#sphl19" x="1019.2" y="1991.9" fill="#ffffff" opacity="0.39"/>
<use href="#sphl19" x="1012.4" y="1689.2" fill="#eba09c" opacity="0.56"/>
<use href="#sphl15" x="1015.5" y="1742.3" fill="#f6d4d2" opacity="0.44"/>
<use href="#sphl15" x="943.8" y="1873.3" fill="#ffffff" opacity="0.44"/>
<use href="#sphl15" x="910.3" y="2051.1" fill="#b8c0e6" opacity="0.25"/>
<use href="#sphl113" x="920.6" y="1826.5" fill="#ffffff" opacity="0.29"/>
<use href="#sphl113" x="1008.4" y="1711.1" fill="#b8c0e6" opacity="0.41"/>
<use href="#sphl15" x="942.8" y="1867.1" fill="#ffffff" opacity="0.42"/>
<use href="#sphl15" x="999.8" y="2063.6" fill="#ffffff" opacity="0.31"/>
<use href="#sphl15" x="911.6" y="1954.4" fill="#ffffff" opacity="0.34"/>
<use href="#sphl19" x="927.2" y="1935.7" fill="#f6d4d2" opacity="0.33"/>
<use href="#sphl19" x="941.2" y="1860.8" fill="#eba09c" opacity="0.28"/>
<use href="#sphl113" x="928.7" y="1714.2" fill="#ffffff" opacity="0.32"/>
<use href="#sphl113" x="1015.9" y="2054.2" fill="#b8c0e6" opacity="0.34"/>
<use href="#sphl19" x="917.9" y="1739.2" fill="#f0b4b0" opacity="0.28"/>
<use href="#sphl19" x="983.8" y="1957.5" fill="#f0b4b0" opacity="0.58"/>
<use href="#sphl113" x="911" y="1782.8" fill="#eba09c" opacity="0.35"/>
<use href="#sphl19" x="942" y="1882.7" fill="#eba09c" opacity="0.41"/>
<use href="#sphl15" x="955.6" y="1854.6" fill="#ffffff" opacity="0.52"/>
<use href="#sphl15" x="936.2" y="2094.8" fill="#f6d4d2" opacity="0.54"/>
<use href="#sphl15" x="979.9" y="1717.3" fill="#eba09c" opacity="0.60"/>
<use href="#sphl19" x="947.8" y="1764.1" fill="#b8c0e6" opacity="0.43"/>
<use href="#sphl113" x="950.8" y="1848.3" fill="#ffffff" opacity="0.43"/>
<use href="#sphl15" x="957.2" y="1920.1" fill="#f6d4d2" opacity="0.34"/>
<use href="#sphl113" x="1007.2" y="1723.6" fill="#f6d4d2" opacity="0.33"/>
<use href="#sphl15" x="1006.9" y="1770.4" fill="#ffffff" opacity="0.47"/>
<use href="#sphl19" x="1015.7" y="1820.3" fill="#ffffff" opacity="0.31"/>
<use href="#sphl15" x="975.8" y="1851.5" fill="#ffffff" opacity="0.39"/>
<use href="#sphl19" x="988.6" y="1873.3" fill="#b8c0e6" opacity="0.48"/>
<use href="#sphl19" x="942.5" y="2073" fill="#ffffff" opacity="0.59"/>
<use href="#sphl113" x="992.1" y="1898.3" fill="#ffffff" opacity="0.37"/>
<use href="#sphl15" x="945.8" y="2041.8" fill="#b8c0e6" opacity="0.36"/>
<use href="#sphl15" x="923" y="1863.9" fill="#f0b4b0" opacity="0.36"/>
<use href="#sphl19" x="928.7" y="2107.3" fill="#eba09c" opacity="0.56"/>
<use href="#sphl19" x="912.4" y="2051.1" fill="#f6d4d2" opacity="0.57"/>
<use href="#sphl113" x="1008.3" y="1995" fill="#ffffff" opacity="0.58"/>
<use href="#sphl15" x="1013.8" y="2073" fill="#ffffff" opacity="0.59"/>
<use href="#sphl15" x="919.2" y="2122.9" fill="#b8c0e6" opacity="0.33"/>
<use href="#sphl19" x="913.2" y="2044.9" fill="#ffffff" opacity="0.60"/>
<use href="#sphl113" x="971.7" y="1779.7" fill="#ffffff" opacity="0.60"/>
<use href="#sphl113" x="948.1" y="1714.2" fill="#f0b4b0" opacity="0.37"/>
<use href="#sphl113" x="922.3" y="1898.3" fill="#ffffff" opacity="0.29"/>
<use href="#sphl15" x="1015.4" y="2001.2" fill="#ffffff" opacity="0.31"/>
<use href="#sphl113" x="975.8" y="1823.4" fill="#f0b4b0" opacity="0.45"/>
<use href="#sphl19" x="968.7" y="1842.1" fill="#eba09c" opacity="0.41"/>
<use href="#sphl15" x="920.9" y="1761" fill="#eba09c" opacity="0.33"/>
<use href="#sphl19" x="946.8" y="1704.8" fill="#ffffff" opacity="0.56"/>
<use href="#sphl19" x="911.3" y="2107.3" fill="#ffffff" opacity="0.27"/>
<use href="#sphl15" x="937.3" y="1717.3" fill="#b8c0e6" opacity="0.37"/>
<use href="#sphl113" x="915.8" y="2107.3" fill="#ffffff" opacity="0.48"/>
<use href="#sphl19" x="953.6" y="1854.6" fill="#eba09c" opacity="0.31"/>
<use href="#sphl19" x="913.7" y="1963.8" fill="#ffffff" opacity="0.60"/>
<use href="#sphl19" x="908.1" y="1720.4" fill="#ffffff" opacity="0.29"/>
<use href="#sphl19" x="919" y="1882.7" fill="#ffffff" opacity="0.49"/>
<use href="#sphl19" x="963.5" y="1923.2" fill="#ffffff" opacity="0.48"/>
<use href="#sphl113" x="967.1" y="1782.8" fill="#eba09c" opacity="0.55"/>
<use href="#sphl113" x="960.9" y="1767.2" fill="#b8c0e6" opacity="0.29"/>
<use href="#sphl19" x="970.8" y="2054.2" fill="#b8c0e6" opacity="0.51"/>
<use href="#sphl15" x="985.6" y="1876.4" fill="#f0b4b0" opacity="0.42"/>
<use href="#sphl19" x="964.6" y="1920.1" fill="#ffffff" opacity="0.43"/>
<use href="#sphl19" x="913.1" y="2048" fill="#ffffff" opacity="0.47"/>
<use href="#sphl19" x="949.1" y="1863.9" fill="#ffffff" opacity="0.43"/>
<use href="#sphl15" x="931.2" y="1848.3" fill="#ffffff" opacity="0.35"/>
<use href="#sphl113" x="1016.2" y="1848.3" fill="#ffffff" opacity="0.42"/>
<use href="#sphl19" x="940.2" y="1920.1" fill="#ffffff" opacity="0.38"/>
<use href="#sphl15" x="991.7" y="1923.2" fill="#ffffff" opacity="0.37"/>
<use href="#sphl113" x="938.7" y="1807.8" fill="#b8c0e6" opacity="0.44"/>
<use href="#sphl19" x="963.4" y="2088.6" fill="#ffffff" opacity="0.30"/>
<use href="#sphl19" x="937.1" y="1817.1" fill="#ffffff" opacity="0.25"/>
<use href="#sphl15" x="1024.1" y="2076.1" fill="#f0b4b0" opacity="0.44"/>
<use href="#sphl15" x="913.5" y="2088.6" fill="#ffffff" opacity="0.49"/>
<use href="#sphl19" x="926.3" y="1945.1" fill="#b8c0e6" opacity="0.43"/>
<use href="#sphl19" x="1022.4" y="2104.2" fill="#ffffff" opacity="0.34"/>
<use href="#sphl19" x="1003.9" y="1795.3" fill="#ffffff" opacity="0.35"/>
<use href="#sphl15" x="970.9" y="1745.4" fill="#ffffff" opacity="0.43"/>
<use href="#sphl113" x="980" y="1917" fill="#f0b4b0" opacity="0.36"/>
<use href="#sphl15" x="969" y="2060.5" fill="#f6d4d2" opacity="0.53"/>
<use href="#sphl19" x="980.9" y="1970" fill="#ffffff" opacity="0.45"/>
<use href="#sphl19" x="956.3" y="1910.7" fill="#eba09c" opacity="0.36"/>
<use href="#sphl19" x="967.5" y="1757.9" fill="#b8c0e6" opacity="0.48"/>
<use href="#sphl15" x="981.7" y="2032.4" fill="#b8c0e6" opacity="0.60"/>
<use href="#sphl113" x="1006.6" y="1692.4" fill="#ffffff" opacity="0.27"/>
<use href="#sphl15" x="990" y="1804.7" fill="#ffffff" opacity="0.49"/>
<use href="#sphl19" x="917.7" y="1848.3" fill="#ffffff" opacity="0.58"/>
<use href="#sphl19" x="961" y="1948.2" fill="#eba09c" opacity="0.55"/>
<use href="#sphl19" x="911.3" y="1835.9" fill="#f6d4d2" opacity="0.54"/>
<use href="#sphl113" x="927.8" y="1988.7" fill="#eba09c" opacity="0.29"/>
<use href="#sphl113" x="982.9" y="1748.5" fill="#eba09c" opacity="0.41"/>
<use href="#sphl15" x="978.4" y="2104.2" fill="#ffffff" opacity="0.32"/>
<use href="#sphl19" x="946.5" y="1751.6" fill="#ffffff" opacity="0.51"/>
<use href="#sphl15" x="933.8" y="1708" fill="#ffffff" opacity="0.46"/>
<use href="#sphl113" x="910.7" y="1829.6" fill="#f6d4d2" opacity="0.48"/>
<use href="#sphl19" x="1015.6" y="1988.7" fill="#b8c0e6" opacity="0.37"/>
<use href="#sphl15" x="1022.7" y="1717.3" fill="#b8c0e6" opacity="0.53"/>
<use href="#sphl113" x="976.6" y="1779.7" fill="#ffffff" opacity="0.27"/>
<use href="#sphl15" x="1018.4" y="1926.3" fill="#f6d4d2" opacity="0.27"/>
<use href="#sphl113" x="984.3" y="1998.1" fill="#f6d4d2" opacity="0.53"/>
<use href="#sphl19" x="1018.2" y="1910.7" fill="#b8c0e6" opacity="0.43"/>
<use href="#sphl113" x="966.8" y="2010.6" fill="#eba09c" opacity="0.27"/>
<use href="#sphl113" x="941.5" y="1938.8" fill="#eba09c" opacity="0.43"/>
<use href="#sphl113" x="965.7" y="1698.6" fill="#eba09c" opacity="0.33"/>
<use href="#sphl19" x="1018.1" y="1804.7" fill="#eba09c" opacity="0.26"/>
<use href="#sphl113" x="926" y="1938.8" fill="#f6d4d2" opacity="0.30"/>
<use href="#sphl113" x="969.7" y="1851.5" fill="#f0b4b0" opacity="0.28"/>
<use href="#sphl19" x="1016.3" y="2032.4" fill="#ffffff" opacity="0.48"/>
<use href="#sphl19" x="939.3" y="2069.8" fill="#b8c0e6" opacity="0.35"/>
<use href="#sphl15" x="1003.4" y="1907.6" fill="#ffffff" opacity="0.39"/>
<use href="#sphl113" x="968.9" y="1860.8" fill="#b8c0e6" opacity="0.48"/>
<use href="#sphl15" x="961.1" y="1761" fill="#ffffff" opacity="0.45"/>
<use href="#sphl15" x="961.8" y="1870.2" fill="#eba09c" opacity="0.43"/>
<use href="#sphl19" x="986.7" y="1917" fill="#ffffff" opacity="0.40"/>
<use href="#sphl113" x="958.6" y="1848.3" fill="#ffffff" opacity="0.49"/>
<use href="#sphl113" x="921.2" y="1745.4" fill="#eba09c" opacity="0.26"/>
<use href="#sphl15" x="932.9" y="1970" fill="#ffffff" opacity="0.41"/>
<use href="#sphl19" x="974" y="1782.8" fill="#b8c0e6" opacity="0.53"/>
<use href="#sphl15" x="978.4" y="1792.2" fill="#ffffff" opacity="0.53"/>
<use href="#sphl19" x="955.3" y="1704.8" fill="#eba09c" opacity="0.55"/>
<use href="#sphl15" x="940.8" y="2010.6" fill="#b8c0e6" opacity="0.32"/>
<use href="#sphl15" x="985.8" y="1754.8" fill="#ffffff" opacity="0.58"/>
<use href="#sphl15" x="986.3" y="1966.9" fill="#eba09c" opacity="0.30"/>
<use href="#sphl19" x="1022.3" y="1901.4" fill="#eba09c" opacity="0.35"/>
<use href="#sphl15" x="981.9" y="1876.4" fill="#ffffff" opacity="0.55"/>
<use href="#sphl15" x="970.2" y="1782.8" fill="#eba09c" opacity="0.57"/>
<use href="#sphl113" x="1012.7" y="1817.1" fill="#ffffff" opacity="0.26"/>
<use href="#sphl113" x="920.5" y="1848.3" fill="#ffffff" opacity="0.25"/>
<use href="#sphl19" x="927.8" y="1910.7" fill="#f0b4b0" opacity="0.51"/>
<use href="#sphl15" x="940.6" y="2066.7" fill="#eba09c" opacity="0.49"/>
<use href="#sphl19" x="954.1" y="1970" fill="#f0b4b0" opacity="0.32"/>
<use href="#sphl19" x="915.1" y="1970" fill="#f6d4d2" opacity="0.36"/>
<use href="#sphl15" x="942.2" y="1789.1" fill="#f6d4d2" opacity="0.25"/>
<use href="#sphl113" x="914.1" y="1820.3" fill="#ffffff" opacity="0.37"/>
<use href="#sphl19" x="945.2" y="1935.7" fill="#f6d4d2" opacity="0.47"/>
<use href="#sphl15" x="995.4" y="2122.9" fill="#ffffff" opacity="0.55"/>
<use href="#sphl15" x="914.3" y="2032.4" fill="#ffffff" opacity="0.52"/>
<use href="#sphl113" x="963.4" y="2032.4" fill="#ffffff" opacity="0.33"/>
<use href="#sphl15" x="984.8" y="1739.2" fill="#ffffff" opacity="0.37"/>
<use href="#sphl15" x="993.8" y="1966.9" fill="#eba09c" opacity="0.39"/>
<use href="#sphl113" x="956.2" y="1761" fill="#b8c0e6" opacity="0.35"/>
<use href="#sphl15" x="956.2" y="1814" fill="#b8c0e6" opacity="0.44"/>
<use href="#sphl113" x="983.1" y="1963.8" fill="#b8c0e6" opacity="0.37"/>
<use href="#sphl19" x="1020.8" y="2091.7" fill="#ffffff" opacity="0.33"/>
<use href="#sphl19" x="941.8" y="1907.6" fill="#f0b4b0" opacity="0.29"/>
<use href="#sphl15" x="1015.2" y="1995" fill="#ffffff" opacity="0.49"/>
<use href="#sphl19" x="956.8" y="2041.8" fill="#ffffff" opacity="0.45"/>
<use href="#sphl113" x="1023.4" y="1988.7" fill="#ffffff" opacity="0.38"/>
<use href="#sphl15" x="965.8" y="1845.2" fill="#ffffff" opacity="0.46"/>
<use href="#sphl15" x="965.6" y="1804.7" fill="#ffffff" opacity="0.54"/>
<use href="#sphl15" x="1022" y="2073" fill="#ffffff" opacity="0.48"/>
<use href="#sphl15" x="1006.4" y="1898.3" fill="#eba09c" opacity="0.42"/>
<use href="#sphl15" x="953.4" y="1910.7" fill="#ffffff" opacity="0.40"/>
<use href="#sphl113" x="944.3" y="1885.8" fill="#ffffff" opacity="0.54"/>
<use href="#sphl113" x="931.9" y="1920.1" fill="#ffffff" opacity="0.52"/>
<use href="#sphl19" x="943.5" y="2013.7" fill="#eba09c" opacity="0.55"/>
<use href="#sphl15" x="914.3" y="2023" fill="#f0b4b0" opacity="0.37"/>
<use href="#sphl15" x="942.5" y="1770.4" fill="#ffffff" opacity="0.53"/>
<use href="#sphl15" x="995.4" y="1804.7" fill="#f6d4d2" opacity="0.27"/>
<use href="#sphl15" x="1007.2" y="1867.1" fill="#ffffff" opacity="0.52"/>
<use href="#sphl19" x="937" y="1804.7" fill="#f6d4d2" opacity="0.56"/>
<use href="#sphl113" x="960.8" y="2122.9" fill="#eba09c" opacity="0.48"/>
<use href="#sphl19" x="914.1" y="2041.8" fill="#ffffff" opacity="0.60"/>
<use href="#sphl19" x="957.3" y="2116.6" fill="#f6d4d2" opacity="0.34"/>
<use href="#sphl19" x="930.4" y="1761" fill="#ffffff" opacity="0.38"/>
<use href="#sphl15" x="980.3" y="1736" fill="#ffffff" opacity="0.38"/>
<use href="#sphl113" x="958.3" y="1963.8" fill="#ffffff" opacity="0.34"/>
<use href="#sphl15" x="915.7" y="1873.3" fill="#eba09c" opacity="0.42"/>
<use href="#sphl15" x="923.3" y="1736" fill="#eba09c" opacity="0.38"/>
<use href="#sphl19" x="932.8" y="1960.7" fill="#ffffff" opacity="0.54"/>
<use href="#sphl19" x="932.7" y="2048" fill="#b8c0e6" opacity="0.34"/>
<use href="#sphl19" x="938.6" y="1810.9" fill="#b8c0e6" opacity="0.39"/>
<use href="#sphl113" x="1001.1" y="1941.9" fill="#ffffff" opacity="0.31"/>
<use href="#sphl19" x="991.2" y="1807.8" fill="#ffffff" opacity="0.28"/>
<use href="#sphl19" x="971.8" y="1945.1" fill="#eba09c" opacity="0.55"/>
<use href="#sphl113" x="936.6" y="1985.6" fill="#ffffff" opacity="0.49"/>
<use href="#sphl19" x="965.6" y="2023" fill="#ffffff" opacity="0.40"/>
<use href="#sphl113" x="924.1" y="1757.9" fill="#f0b4b0" opacity="0.37"/>
<use href="#sphl113" x="1005" y="1792.2" fill="#eba09c" opacity="0.35"/>
<use href="#sphl113" x="929.6" y="1720.4" fill="#ffffff" opacity="0.56"/>
<use href="#sphl19" x="927.1" y="2088.6" fill="#ffffff" opacity="0.47"/>
<ellipse cx="1035.4" cy="2091" rx="32" ry="70" fill="url(#hl1b)"/>
<use href="#phl1" fill="url(#hl1s)"/>
<g clip-path="url(#khl1)">
<use href="#qhl1" y="1686.1" fill="#fff" opacity="0.06"/>
<use href="#qhl1" y="1692.4" fill="#fff" opacity="0.23"/>
<use href="#qhl1" y="1695.5" fill="#b01010" opacity="0.10"/>
<use href="#qhl1" y="1701.7" fill="#b01010" opacity="0.09"/>
<use href="#qhl1" y="1704.8" fill="#b01010" opacity="0.06"/>
<use href="#qhl1" y="1708" fill="#fff" opacity="0.15"/>
<use href="#qhl1" y="1711.1" fill="#b01010" opacity="0.16"/>
<use href="#qhl1" y="1720.4" fill="#b01010" opacity="0.08"/>
<use href="#qhl1" y="1723.6" fill="#fff" opacity="0.03"/>
<use href="#qhl1" y="1726.7" fill="#b01010" opacity="0.19"/>
<use href="#qhl1" y="1729.8" fill="#b01010" opacity="0.07"/>
<use href="#qhl1" y="1732.9" fill="#fff" opacity="0.05"/>
<use href="#qhl1" y="1742.3" fill="#b01010" opacity="0.08"/>
<use href="#qhl1" y="1751.6" fill="#b01010" opacity="0.11"/>
<use href="#qhl1" y="1761" fill="#b01010" opacity="0.14"/>
<use href="#qhl1" y="1764.1" fill="#b01010" opacity="0.04"/>
<use href="#qhl1" y="1767.2" fill="#b01010" opacity="0.12"/>
<use href="#qhl1" y="1770.4" fill="#fff" opacity="0.10"/>
<use href="#qhl1" y="1776.6" fill="#fff" opacity="0.04"/>
<use href="#qhl1" y="1779.7" fill="#fff" opacity="0.26"/>
<use href="#qhl1" y="1786" fill="#b01010" opacity="0.16"/>
<use href="#qhl1" y="1789.1" fill="#fff" opacity="0.18"/>
<use href="#qhl1" y="1792.2" fill="#fff" opacity="0.05"/>
<use href="#qhl1" y="1798.4" fill="#fff" opacity="0.14"/>
<use href="#qhl1" y="1804.7" fill="#b01010" opacity="0.13"/>
<use href="#qhl1" y="1807.8" fill="#b01010" opacity="0.07"/>
<use href="#qhl1" y="1814" fill="#fff" opacity="0.07"/>
<use href="#qhl1" y="1817.1" fill="#fff" opacity="0.07"/>
<use href="#qhl1" y="1823.4" fill="#fff" opacity="0.10"/>
<use href="#qhl1" y="1829.6" fill="#b01010" opacity="0.08"/>
<use href="#qhl1" y="1842.1" fill="#fff" opacity="0.16"/>
<use href="#qhl1" y="1845.2" fill="#fff" opacity="0.04"/>
<use href="#qhl1" y="1848.3" fill="#b01010" opacity="0.05"/>
<use href="#qhl1" y="1851.5" fill="#fff" opacity="0.14"/>
<use href="#qhl1" y="1854.6" fill="#b01010" opacity="0.12"/>
<use href="#qhl1" y="1860.8" fill="#b01010" opacity="0.19"/>
<use href="#qhl1" y="1882.7" fill="#fff" opacity="0.04"/>
<use href="#qhl1" y="1895.1" fill="#b01010" opacity="0.07"/>
<use href="#qhl1" y="1901.4" fill="#b01010" opacity="0.06"/>
<use href="#qhl1" y="1907.6" fill="#fff" opacity="0.08"/>
<use href="#qhl1" y="1910.7" fill="#fff" opacity="0.08"/>
<use href="#qhl1" y="1923.2" fill="#8090d0" opacity="0.09"/>
<use href="#qhl1" y="1929.5" fill="#fff" opacity="0.14"/>
<use href="#qhl1" y="1935.7" fill="#fff" opacity="0.08"/>
<use href="#qhl1" y="1938.8" fill="#fff" opacity="0.20"/>
<use href="#qhl1" y="1941.9" fill="#8090d0" opacity="0.05"/>
<use href="#qhl1" y="1945.1" fill="#8090d0" opacity="0.02"/>
<use href="#qhl1" y="1954.4" fill="#8090d0" opacity="0.08"/>
<use href="#qhl1" y="1957.5" fill="#fff" opacity="0.03"/>
<use href="#qhl1" y="1973.1" fill="#8090d0" opacity="0.02"/>
<use href="#qhl1" y="1985.6" fill="#fff" opacity="0.17"/>
<use href="#qhl1" y="1988.7" fill="#fff" opacity="0.09"/>
<use href="#qhl1" y="1991.9" fill="#fff" opacity="0.07"/>
<use href="#qhl1" y="1995" fill="#8090d0" opacity="0.02"/>
<use href="#qhl1" y="1998.1" fill="#fff" opacity="0.09"/>
<use href="#qhl1" y="2004.3" fill="#fff" opacity="0.25"/>
<use href="#qhl1" y="2010.6" fill="#8090d0" opacity="0.03"/>
<use href="#qhl1" y="2013.7" fill="#8090d0" opacity="0.16"/>
<use href="#qhl1" y="2016.8" fill="#8090d0" opacity="0.05"/>
<use href="#qhl1" y="2019.9" fill="#8090d0" opacity="0.03"/>
<use href="#qhl1" y="2023" fill="#fff" opacity="0.10"/>
<use href="#qhl1" y="2026.2" fill="#8090d0" opacity="0.16"/>
<use href="#qhl1" y="2029.3" fill="#fff" opacity="0.06"/>
<use href="#qhl1" y="2035.5" fill="#fff" opacity="0.02"/>
<use href="#qhl1" y="2038.6" fill="#8090d0" opacity="0.05"/>
<use href="#qhl1" y="2041.8" fill="#8090d0" opacity="0.04"/>
<use href="#qhl1" y="2044.9" fill="#fff" opacity="0.13"/>
<use href="#qhl1" y="2048" fill="#fff" opacity="0.25"/>
<use href="#qhl1" y="2051.1" fill="#fff" opacity="0.05"/>
<use href="#qhl1" y="2054.2" fill="#fff" opacity="0.04"/>
<use href="#qhl1" y="2057.4" fill="#8090d0" opacity="0.07"/>
<use href="#qhl1" y="2060.5" fill="#fff" opacity="0.16"/>
<use href="#qhl1" y="2066.7" fill="#fff" opacity="0.07"/>
<use href="#qhl1" y="2073" fill="#8090d0" opacity="0.03"/>
<use href="#qhl1" y="2076.1" fill="#fff" opacity="0.09"/>
<use href="#qhl1" y="2079.2" fill="#fff" opacity="0.08"/>
<use href="#qhl1" y="2082.3" fill="#fff" opacity="0.08"/>
<use href="#qhl1" y="2088.6" fill="#fff" opacity="0.11"/>
<use href="#qhl1" y="2091.7" fill="#fff" opacity="0.06"/>
<use href="#qhl1" y="2097.9" fill="#8090d0" opacity="0.08"/>
<use href="#qhl1" y="2101" fill="#fff" opacity="0.11"/>
<use href="#qhl1" y="2104.2" fill="#fff" opacity="0.08"/>
<use href="#qhl1" y="2107.3" fill="#fff" opacity="0.13"/>
<use href="#qhl1" y="2113.5" fill="#fff" opacity="0.04"/>
<use href="#qhl1" y="2116.6" fill="#fff" opacity="0.03"/>
<use href="#qhl1" y="2119.8" fill="#8090d0" opacity="0.05"/>
</g>
</g>
<g clip-path="url(#chl2)">
<rect x="1339.6" y="1683" width="254.5" height="443" fill="url(#hl2)"/>
<path d="M1437.9 1683L1493.9 1683L1479.9 2126L1451.9 2126Z" fill="url(#hl2h)"/>
<use href="#rhl2" y="1683" fill="url(#nz3)" opacity="0.81"/>
<use href="#rhl2" y="1686.1" fill="url(#nz7)" opacity="0.64"/>
<use href="#rhl2" y="1686.1" fill="#3848a8" opacity="0.09"/>
<use href="#rhl2" y="1689.2" fill="url(#nz8)" opacity="0.65"/>
<use href="#rhl2" y="1692.4" fill="url(#nz14)" opacity="0.84"/>
<use href="#rhl2" y="1695.5" fill="url(#nz12)" opacity="0.70"/>
<use href="#rhl2" y="1698.6" fill="url(#nz10)" opacity="0.68"/>
<use href="#rhl2" y="1701.7" fill="url(#nz8)" opacity="0.68"/>
<use href="#rhl2" y="1704.8" fill="url(#nz5)" opacity="0.78"/>
<use href="#rhl2" y="1708" fill="url(#nz8)" opacity="0.58"/>
<use href="#rhl2" y="1711.1" fill="url(#nz10)" opacity="0.51"/>
<use href="#rhl2" y="1714.2" fill="url(#nz8)" opacity="0.60"/>
<use href="#rhl2" y="1714.2" fill="#fff" opacity="0.06"/>
<use href="#rhl2" y="1717.3" fill="url(#nz14)" opacity="0.95"/>
<use href="#rhl2" y="1720.4" fill="url(#nz3)" opacity="0.94"/>
<use href="#rhl2" y="1723.6" fill="url(#nz11)" opacity="0.59"/>
<use href="#rhl2" y="1726.7" fill="url(#nz3)" opacity="0.87"/>
<use href="#rhl2" y="1726.7" fill="#3848a8" opacity="0.16"/>
<use href="#rhl2" y="1729.8" fill="url(#nz8)" opacity="0.73"/>
<use href="#rhl2" y="1732.9" fill="url(#nz6)" opacity="0.74"/>
<use href="#rhl2" y="1736" fill="url(#nz3)" opacity="0.91"/>
<use href="#rhl2" y="1739.2" fill="url(#nz2)" opacity="0.64"/>
<use href="#rhl2" y="1742.3" fill="url(#nz13)" opacity="0.56"/>
<use href="#rhl2" y="1745.4" fill="url(#nz2)" opacity="0.71"/>
<use href="#rhl2" y="1748.5" fill="url(#nz12)" opacity="0.73"/>
<use href="#rhl2" y="1751.6" fill="url(#nz15)" opacity="0.73"/>
<use href="#rhl2" y="1751.6" fill="#3848a8" opacity="0.20"/>
<use href="#rhl2" y="1754.8" fill="url(#nz8)" opacity="0.74"/>
<use href="#rhl2" y="1757.9" fill="url(#nz7)" opacity="0.72"/>
<use href="#rhl2" y="1761" fill="url(#nz4)" opacity="0.74"/>
<use href="#rhl2" y="1764.1" fill="url(#nz8)" opacity="0.79"/>
<use href="#rhl2" y="1764.1" fill="#fff" opacity="0.38"/>
<use href="#rhl2" y="1767.2" fill="url(#nz13)" opacity="0.51"/>
<use href="#rhl2" y="1770.4" fill="url(#nz11)" opacity="0.97"/>
<use href="#rhl2" y="1773.5" fill="url(#nz6)" opacity="0.52"/>
<use href="#rhl2" y="1776.6" fill="url(#nz15)" opacity="0.90"/>
<use href="#rhl2" y="1779.7" fill="url(#nz6)" opacity="0.66"/>
<use href="#rhl2" y="1782.8" fill="url(#nz0)" opacity="0.79"/>
<use href="#rhl2" y="1786" fill="url(#nz11)" opacity="0.99"/>
<use href="#rhl2" y="1786" fill="#fff" opacity="0.60"/>
<use href="#rhl2" y="1789.1" fill="url(#nz3)" opacity="0.52"/>
<use href="#rhl2" y="1792.2" fill="url(#nz7)" opacity="0.63"/>
<use href="#rhl2" y="1795.3" fill="url(#nz8)" opacity="0.59"/>
<use href="#rhl2" y="1798.4" fill="url(#nz10)" opacity="0.65"/>
<use href="#rhl2" y="1798.4" fill="#fff" opacity="0.33"/>
<use href="#rhl2" y="1801.5" fill="url(#nz11)" opacity="0.52"/>
<use href="#rhl2" y="1801.5" fill="#fff" opacity="0.32"/>
<use href="#rhl2" y="1804.7" fill="url(#nz5)" opacity="0.75"/>
<use href="#rhl2" y="1807.8" fill="url(#nz6)" opacity="0.68"/>
<use href="#rhl2" y="1807.8" fill="#3848a8" opacity="0.27"/>
<use href="#rhl2" y="1810.9" fill="url(#nz10)" opacity="0.74"/>
<use href="#rhl2" y="1810.9" fill="#fff" opacity="0.46"/>
<use href="#rhl2" y="1814" fill="url(#nz1)" opacity="0.62"/>
<use href="#rhl2" y="1814" fill="#fff" opacity="0.08"/>
<use href="#rhl2" y="1817.1" fill="url(#nz10)" opacity="0.54"/>
<use href="#rhl2" y="1820.3" fill="url(#nz3)" opacity="0.56"/>
<use href="#rhl2" y="1820.3" fill="#fff" opacity="0.60"/>
<use href="#rhl2" y="1823.4" fill="url(#nz6)" opacity="0.63"/>
<use href="#rhl2" y="1826.5" fill="url(#nz14)" opacity="0.56"/>
<use href="#rhl2" y="1829.6" fill="url(#nz3)" opacity="0.63"/>
<use href="#rhl2" y="1832.7" fill="url(#nz11)" opacity="0.77"/>
<use href="#rhl2" y="1835.9" fill="url(#nz2)" opacity="0.57"/>
<use href="#rhl2" y="1839" fill="url(#nz5)" opacity="0.57"/>
<use href="#rhl2" y="1842.1" fill="url(#nz11)" opacity="1.00"/>
<use href="#rhl2" y="1845.2" fill="url(#nz1)" opacity="0.79"/>
<use href="#rhl2" y="1845.2" fill="#3848a8" opacity="0.30"/>
<use href="#rhl2" y="1848.3" fill="url(#nz10)" opacity="0.97"/>
<use href="#rhl2" y="1851.5" fill="url(#nz11)" opacity="0.53"/>
<use href="#rhl2" y="1854.6" fill="url(#nz3)" opacity="0.96"/>
<use href="#rhl2" y="1854.6" fill="#3848a8" opacity="0.30"/>
<use href="#rhl2" y="1857.7" fill="url(#nz2)" opacity="0.71"/>
<use href="#rhl2" y="1857.7" fill="#fff" opacity="0.60"/>
<use href="#rhl2" y="1860.8" fill="url(#nz5)" opacity="0.53"/>
<use href="#rhl2" y="1863.9" fill="url(#nz9)" opacity="0.52"/>
<use href="#rhl2" y="1863.9" fill="#fff" opacity="0.60"/>
<use href="#rhl2" y="1867.1" fill="url(#nz4)" opacity="0.50"/>
<use href="#rhl2" y="1870.2" fill="url(#nz14)" opacity="0.73"/>
<use href="#rhl2" y="1870.2" fill="#fff" opacity="0.09"/>
<use href="#rhl2" y="1873.3" fill="url(#nz0)" opacity="0.65"/>
<use href="#rhl2" y="1873.3" fill="#3848a8" opacity="0.08"/>
<use href="#rhl2" y="1876.4" fill="url(#nz8)" opacity="0.62"/>
<use href="#rhl2" y="1879.5" fill="url(#nz0)" opacity="0.77"/>
<use href="#rhl2" y="1879.5" fill="#3848a8" opacity="0.11"/>
<use href="#rhl2" y="1882.7" fill="url(#nz7)" opacity="0.86"/>
<use href="#rhl2" y="1885.8" fill="url(#nz3)" opacity="0.93"/>
<use href="#rhl2" y="1888.9" fill="url(#nz12)" opacity="0.69"/>
<use href="#rhl2" y="1892" fill="url(#nz10)" opacity="0.51"/>
<use href="#rhl2" y="1892" fill="#fff" opacity="0.38"/>
<use href="#rhl2" y="1895.1" fill="url(#nz4)" opacity="0.64"/>
<use href="#rhl2" y="1895.1" fill="#3848a8" opacity="0.18"/>
<use href="#rhl2" y="1898.3" fill="url(#nz9)" opacity="0.98"/>
<use href="#rhl2" y="1901.4" fill="url(#nz14)" opacity="0.51"/>
<use href="#rhl2" y="1901.4" fill="#3848a8" opacity="0.30"/>
<use href="#rhl2" y="1904.5" fill="url(#nz10)" opacity="0.79"/>
<use href="#rhl2" y="1904.5" fill="#3848a8" opacity="0.30"/>
<use href="#rhl2" y="1907.6" fill="url(#nz13)" opacity="0.63"/>
<use href="#rhl2" y="1910.7" fill="url(#nz6)" opacity="0.89"/>
<use href="#rhl2" y="1910.7" fill="#3848a8" opacity="0.30"/>
<use href="#rhl2" y="1913.9" fill="url(#nz12)" opacity="0.93"/>
<use href="#rhl2" y="1917" fill="url(#nz3)" opacity="0.88"/>
<use href="#rhl2" y="1920.1" fill="url(#nz7)" opacity="0.60"/>
<use href="#rhl2" y="1923.2" fill="url(#nz2)" opacity="0.73"/>
<use href="#rhl2" y="1926.3" fill="url(#nz1)" opacity="0.51"/>
<use href="#rhl2" y="1929.5" fill="url(#nz9)" opacity="0.89"/>
<use href="#rhl2" y="1929.5" fill="#3848a8" opacity="0.12"/>
<use href="#rhl2" y="1932.6" fill="url(#nz13)" opacity="0.73"/>
<use href="#rhl2" y="1935.7" fill="url(#nz2)" opacity="0.85"/>
<use href="#rhl2" y="1938.8" fill="url(#nz5)" opacity="0.86"/>
<use href="#rhl2" y="1941.9" fill="url(#nz3)" opacity="0.80"/>
<use href="#rhl2" y="1945.1" fill="url(#nz15)" opacity="0.61"/>
<use href="#rhl2" y="1948.2" fill="url(#nz9)" opacity="0.52"/>
<use href="#rhl2" y="1951.3" fill="url(#nz14)" opacity="0.57"/>
<use href="#rhl2" y="1954.4" fill="url(#nz9)" opacity="0.77"/>
<use href="#rhl2" y="1957.5" fill="url(#nz4)" opacity="0.53"/>
<use href="#rhl2" y="1960.7" fill="url(#nz11)" opacity="0.82"/>
<use href="#rhl2" y="1963.8" fill="url(#nz11)" opacity="0.84"/>
<use href="#rhl2" y="1966.9" fill="url(#nz0)" opacity="0.60"/>
<use href="#rhl2" y="1970" fill="url(#nz2)" opacity="1.00"/>
<use href="#rhl2" y="1973.1" fill="url(#nz9)" opacity="0.92"/>
<use href="#rhl2" y="1976.3" fill="url(#nz15)" opacity="0.91"/>
<use href="#rhl2" y="1979.4" fill="url(#nz7)" opacity="0.93"/>
<use href="#rhl2" y="1982.5" fill="url(#nz11)" opacity="0.67"/>
<use href="#rhl2" y="1982.5" fill="#3848a8" opacity="0.30"/>
<use href="#rhl2" y="1985.6" fill="url(#nz3)" opacity="0.51"/>
<use href="#rhl2" y="1988.7" fill="url(#nz9)" opacity="0.94"/>
<use href="#rhl2" y="1991.9" fill="url(#nz6)" opacity="0.56"/>
<use href="#rhl2" y="1995" fill="url(#nz7)" opacity="0.97"/>
<use href="#rhl2" y="1998.1" fill="url(#nz12)" opacity="0.89"/>
<use href="#rhl2" y="1998.1" fill="#fff" opacity="0.09"/>
<use href="#rhl2" y="2001.2" fill="url(#nz14)" opacity="0.99"/>
<use href="#rhl2" y="2001.2" fill="#3848a8" opacity="0.15"/>
<use href="#rhl2" y="2004.3" fill="url(#nz7)" opacity="0.53"/>
<use href="#rhl2" y="2004.3" fill="#3848a8" opacity="0.06"/>
<use href="#rhl2" y="2007.5" fill="url(#nz6)" opacity="0.77"/>
<use href="#rhl2" y="2007.5" fill="#fff" opacity="0.25"/>
<use href="#rhl2" y="2010.6" fill="url(#nz6)" opacity="0.77"/>
<use href="#rhl2" y="2013.7" fill="url(#nz4)" opacity="0.68"/>
<use href="#rhl2" y="2013.7" fill="#fff" opacity="0.14"/>
<use href="#rhl2" y="2016.8" fill="url(#nz3)" opacity="0.54"/>
<use href="#rhl2" y="2019.9" fill="url(#nz2)" opacity="0.94"/>
<use href="#rhl2" y="2023" fill="url(#nz3)" opacity="0.57"/>
<use href="#rhl2" y="2026.2" fill="url(#nz15)" opacity="0.66"/>
<use href="#rhl2" y="2026.2" fill="#3848a8" opacity="0.14"/>
<use href="#rhl2" y="2029.3" fill="url(#nz11)" opacity="0.56"/>
<use href="#rhl2" y="2032.4" fill="url(#nz10)" opacity="0.92"/>
<use href="#rhl2" y="2035.5" fill="url(#nz3)" opacity="0.82"/>
<use href="#rhl2" y="2038.6" fill="url(#nz1)" opacity="0.77"/>
<use href="#rhl2" y="2041.8" fill="url(#nz12)" opacity="0.60"/>
<use href="#rhl2" y="2041.8" fill="#fff" opacity="0.36"/>
<use href="#rhl2" y="2044.9" fill="url(#nz3)" opacity="0.68"/>
<use href="#rhl2" y="2048" fill="url(#nz5)" opacity="0.96"/>
<use href="#rhl2" y="2048" fill="#3848a8" opacity="0.30"/>
<use href="#rhl2" y="2051.1" fill="url(#nz13)" opacity="0.52"/>
<use href="#rhl2" y="2054.2" fill="url(#nz10)" opacity="0.74"/>
<use href="#rhl2" y="2057.4" fill="url(#nz6)" opacity="0.78"/>
<use href="#rhl2" y="2057.4" fill="#fff" opacity="0.34"/>
<use href="#rhl2" y="2060.5" fill="url(#nz13)" opacity="0.58"/>
<use href="#rhl2" y="2063.6" fill="url(#nz13)" opacity="0.65"/>
<use href="#rhl2" y="2066.7" fill="url(#nz5)" opacity="0.85"/>
<use href="#rhl2" y="2069.8" fill="url(#nz3)" opacity="0.63"/>
<use href="#rhl2" y="2073" fill="url(#nz4)" opacity="0.61"/>
<use href="#rhl2" y="2076.1" fill="url(#nz8)" opacity="0.56"/>
<use href="#rhl2" y="2079.2" fill="url(#nz9)" opacity="0.52"/>
<use href="#rhl2" y="2082.3" fill="url(#nz8)" opacity="0.78"/>
<use href="#rhl2" y="2085.4" fill="url(#nz7)" opacity="0.53"/>
<use href="#rhl2" y="2085.4" fill="#fff" opacity="0.60"/>
<use href="#rhl2" y="2088.6" fill="url(#nz8)" opacity="0.91"/>
<use href="#rhl2" y="2088.6" fill="#fff" opacity="0.60"/>
<use href="#rhl2" y="2091.7" fill="url(#nz13)" opacity="0.82"/>
<use href="#rhl2" y="2094.8" fill="url(#nz8)" opacity="0.97"/>
<use href="#rhl2" y="2097.9" fill="url(#nz1)" opacity="0.75"/>
<use href="#rhl2" y="2101" fill="url(#nz4)" opacity="0.73"/>
<use href="#rhl2" y="2104.2" fill="url(#nz6)" opacity="0.75"/>
<use href="#rhl2" y="2104.2" fill="#3848a8" opacity="0.13"/>
<use href="#rhl2" y="2107.3" fill="url(#nz9)" opacity="0.96"/>
<use href="#rhl2" y="2107.3" fill="#3848a8" opacity="0.03"/>
<use href="#rhl2" y="2110.4" fill="url(#nz15)" opacity="0.99"/>
<use href="#rhl2" y="2113.5" fill="url(#nz10)" opacity="0.99"/>
<use href="#rhl2" y="2116.6" fill="url(#nz2)" opacity="0.90"/>
<use href="#rhl2" y="2116.6" fill="#fff" opacity="0.14"/>
<use href="#rhl2" y="2119.8" fill="url(#nz0)" opacity="0.99"/>
<use href="#rhl2" y="2122.9" fill="url(#nz6)" opacity="0.72"/>
<use href="#phl2" fill="url(#hl2s)"/>
<g clip-path="url(#khl2)">
<use href="#qhl2" y="1708" fill="#fff" opacity="0.10"/>
<use href="#qhl2" y="1717.3" fill="#fff" opacity="0.03"/>
<use href="#qhl2" y="1726.7" fill="#fff" opacity="0.04"/>
<use href="#qhl2" y="1729.8" fill="#b01010" opacity="0.22"/>
<use href="#qhl2" y="1739.2" fill="#b01010" opacity="0.15"/>
<use href="#qhl2" y="1742.3" fill="#b01010" opacity="0.11"/>
<use href="#qhl2" y="1745.4" fill="#b01010" opacity="0.13"/>
<use href="#qhl2" y="1748.5" fill="#fff" opacity="0.09"/>
<use href="#qhl2" y="1751.6" fill="#fff" opacity="0.11"/>
<use href="#qhl2" y="1761" fill="#b01010" opacity="0.09"/>
<use href="#qhl2" y="1764.1" fill="#fff" opacity="0.22"/>
<use href="#qhl2" y="1767.2" fill="#fff" opacity="0.15"/>
<use href="#qhl2" y="1773.5" fill="#b01010" opacity="0.05"/>
<use href="#qhl2" y="1779.7" fill="#b01010" opacity="0.04"/>
<use href="#qhl2" y="1782.8" fill="#b01010" opacity="0.11"/>
<use href="#qhl2" y="1786" fill="#b01010" opacity="0.09"/>
<use href="#qhl2" y="1789.1" fill="#b01010" opacity="0.07"/>
<use href="#qhl2" y="1792.2" fill="#b01010" opacity="0.04"/>
<use href="#qhl2" y="1798.4" fill="#b01010" opacity="0.07"/>
<use href="#qhl2" y="1801.5" fill="#fff" opacity="0.03"/>
<use href="#qhl2" y="1807.8" fill="#fff" opacity="0.09"/>
<use href="#qhl2" y="1810.9" fill="#fff" opacity="0.13"/>
<use href="#qhl2" y="1814" fill="#fff" opacity="0.25"/>
<use href="#qhl2" y="1817.1" fill="#fff" opacity="0.09"/>
<use href="#qhl2" y="1826.5" fill="#fff" opacity="0.30"/>
<use href="#qhl2" y="1829.6" fill="#b01010" opacity="0.09"/>
<use href="#qhl2" y="1835.9" fill="#fff" opacity="0.12"/>
<use href="#qhl2" y="1842.1" fill="#fff" opacity="0.03"/>
<use href="#qhl2" y="1845.2" fill="#fff" opacity="0.19"/>
<use href="#qhl2" y="1848.3" fill="#fff" opacity="0.08"/>
<use href="#qhl2" y="1854.6" fill="#fff" opacity="0.04"/>
<use href="#qhl2" y="1860.8" fill="#fff" opacity="0.05"/>
<use href="#qhl2" y="1863.9" fill="#fff" opacity="0.04"/>
<use href="#qhl2" y="1882.7" fill="#fff" opacity="0.08"/>
<use href="#qhl2" y="1885.8" fill="#b01010" opacity="0.22"/>
<use href="#qhl2" y="1892" fill="#fff" opacity="0.10"/>
<use href="#qhl2" y="1898.3" fill="#b01010" opacity="0.10"/>
<use href="#qhl2" y="1901.4" fill="#b01010" opacity="0.07"/>
<use href="#qhl2" y="1904.5" fill="#fff" opacity="0.21"/>
<use href="#qhl2" y="1907.6" fill="#fff" opacity="0.05"/>
<use href="#qhl2" y="1923.2" fill="#8090d0" opacity="0.04"/>
<use href="#qhl2" y="1935.7" fill="#fff" opacity="0.08"/>
<use href="#qhl2" y="1938.8" fill="#8090d0" opacity="0.11"/>
<use href="#qhl2" y="1957.5" fill="#fff" opacity="0.10"/>
<use href="#qhl2" y="1966.9" fill="#fff" opacity="0.07"/>
<use href="#qhl2" y="1973.1" fill="#fff" opacity="0.10"/>
<use href="#qhl2" y="1976.3" fill="#8090d0" opacity="0.03"/>
<use href="#qhl2" y="1979.4" fill="#fff" opacity="0.12"/>
<use href="#qhl2" y="1985.6" fill="#fff" opacity="0.14"/>
<use href="#qhl2" y="1988.7" fill="#fff" opacity="0.14"/>
<use href="#qhl2" y="1991.9" fill="#8090d0" opacity="0.04"/>
<use href="#qhl2" y="1995" fill="#fff" opacity="0.08"/>
<use href="#qhl2" y="1998.1" fill="#fff" opacity="0.03"/>
<use href="#qhl2" y="2026.2" fill="#8090d0" opacity="0.08"/>
<use href="#qhl2" y="2032.4" fill="#8090d0" opacity="0.20"/>
<use href="#qhl2" y="2051.1" fill="#fff" opacity="0.03"/>
<use href="#qhl2" y="2057.4" fill="#8090d0" opacity="0.02"/>
<use href="#qhl2" y="2060.5" fill="#8090d0" opacity="0.05"/>
<use href="#qhl2" y="2063.6" fill="#8090d0" opacity="0.07"/>
<use href="#qhl2" y="2073" fill="#fff" opacity="0.14"/>
<use href="#qhl2" y="2076.1" fill="#8090d0" opacity="0.09"/>
<use href="#qhl2" y="2079.2" fill="#8090d0" opacity="0.06"/>
<use href="#qhl2" y="2091.7" fill="#8090d0" opacity="0.04"/>
<use href="#qhl2" y="2094.8" fill="#fff" opacity="0.12"/>
<use href="#qhl2" y="2104.2" fill="#fff" opacity="0.10"/>
<use href="#qhl2" y="2107.3" fill="#8090d0" opacity="0.07"/>
<use href="#qhl2" y="2113.5" fill="#8090d0" opacity="0.06"/>
<use href="#qhl2" y="2116.6" fill="#fff" opacity="0.07"/>
<use href="#qhl2" y="2119.8" fill="#8090d0" opacity="0.11"/>
</g>
</g>
<path d="M299.2 1683L345.2 1683L345.2 1840L337.7 1840L299.2 1734Z" fill="url(#wk1)"/>
<path d="M728.1 1683L774.1 1683L774.1 1840L770.9 1840L728.1 1734Z" fill="url(#wk2)"/>
<path d="M1166.4 1683L1212.4 1683L1212.4 1840L1203.6 1840L1166.4 1734Z" fill="url(#wl1)"/>
<path d="M1598.2 1683L1644.2 1683L1644.2 1840L1637.4 1840L1598.2 1734Z" fill="url(#wl2)"/>
<text x="347.4" y="1696.7" font-size="17.5">HNRNPK</text>
<text x="347.4" y="1714.2" font-size="17.5">YBX3</text>
<text x="347.4" y="1731.7" font-size="17.5">AKAP8L</text>
<text x="347.4" y="1749.2" font-size="17.5">MTPAP</text>
<text x="347.4" y="1766.7" font-size="17.5">AGGF1</text>
<text x="347.4" y="1784.2" font-size="17.5">HNRNPL</text>
<text x="347.4" y="1801.7" font-size="17.5">ILF3</text>
<text x="347.4" y="1819.2" font-size="17.5">TIA1</text>
<text x="347.4" y="1836.7" font-size="17.5">SND1</text>
<text x="347.4" y="1854.2" font-size="17.5">U2AF2</text>
<text x="347.4" y="1871.7" font-size="17.5">HNRNPC</text>
<text x="347.4" y="1889.2" font-size="17.5">PTBP1</text>
<text x="347.4" y="1906.7" font-size="17.5">XRN2</text>
<text x="347.4" y="1924.2" font-size="17.5">RBFOX2</text>
<text x="347.4" y="1941.7" font-size="17.5">FUS</text>
<text x="775" y="1696.7" font-size="17.5">HNRNPK</text>
<text x="775" y="1714.2" font-size="17.5">HNRNPC</text>
<text x="775" y="1731.7" font-size="17.5">TIA1</text>
<text x="775" y="1749.2" font-size="17.5">SAFB</text>
<text x="775" y="1766.7" font-size="17.5">HNRNPU</text>
<text x="775" y="1784.2" font-size="17.5">FUS</text>
<text x="775" y="1801.7" font-size="17.5">RBFOX2</text>
<text x="775" y="1819.2" font-size="17.5">CSTF2T</text>
<text x="775" y="1836.7" font-size="17.5">BUD13</text>
<text x="775" y="1854.2" font-size="17.5">SND1</text>
<text x="775" y="1871.7" font-size="17.5">UCHL5</text>
<text x="775" y="1889.2" font-size="17.5">ILF3</text>
<text x="775" y="1906.7" font-size="17.5">HNRNPL</text>
<text x="775" y="1924.2" font-size="17.5">DROSHA</text>
<text x="775" y="1941.7" font-size="17.5">AKAP8L</text>
<text x="1214.6" y="1696.7" font-size="17.5">XRN2</text>
<text x="1214.6" y="1714.2" font-size="17.5">SRSF1</text>
<text x="1214.6" y="1731.7" font-size="17.5">HNRNPK</text>
<text x="1214.6" y="1749.2" font-size="17.5">SLTM</text>
<text x="1214.6" y="1766.7" font-size="17.5">IGF2BP1</text>
<text x="1214.6" y="1784.2" font-size="17.5">ILF3</text>
<text x="1214.6" y="1801.7" font-size="17.5">PRPF8</text>
<text x="1214.6" y="1819.2" font-size="17.5">FAM120A</text>
<text x="1214.6" y="1836.7" font-size="17.5">IGF2BP3</text>
<text x="1214.6" y="1854.2" font-size="17.5">YBX3</text>
<text x="1214.6" y="1871.7" font-size="17.5">PCBP2</text>
<text x="1214.6" y="1889.2" font-size="17.5">STAU2</text>
<text x="1214.6" y="1906.7" font-size="17.5">GRWD1</text>
<text x="1214.6" y="1924.2" font-size="17.5">AQR</text>
<text x="1214.6" y="1941.7" font-size="17.5">CSTF2T</text>
<text x="1647" y="1696.7" font-size="17.5">XRN2</text>
<text x="1647" y="1714.2" font-size="17.5">NKRF</text>
<text x="1647" y="1731.7" font-size="17.5">DROSHA</text>
<text x="1647" y="1749.2" font-size="17.5">GRWD1</text>
<text x="1647" y="1766.7" font-size="17.5">HNRNPK</text>
<text x="1647" y="1784.2" font-size="17.5">CSTF2T</text>
<text x="1647" y="1801.7" font-size="17.5">PCBP2</text>
<text x="1647" y="1819.2" font-size="17.5">U2AF1</text>
<text x="1647" y="1836.7" font-size="17.5">EIF3D</text>
<text x="1647" y="1854.2" font-size="17.5">GTF2F1</text>
<text x="1647" y="1871.7" font-size="17.5">DGCR8</text>
<text x="1647" y="1889.2" font-size="17.5">LARP4</text>
<text x="1647" y="1906.7" font-size="17.5">UCHL5</text>
<text x="1647" y="1924.2" font-size="17.5">SLTM</text>
<text x="1647" y="1941.7" font-size="17.5">RBM15</text>
<rect x="375.5" y="1956" width="11" height="234" fill="url(#cb1)"/>
<text x="391.8" y="1961.5" font-size="16.5">20</text>
<text x="391.8" y="2007.3" font-size="16.5">15</text>
<text x="391.8" y="2053.2" font-size="16.5">10</text>
<text x="391.8" y="2099.1" font-size="16.5">5</text>
<text x="391.8" y="2144.9" font-size="16.5">0</text>
<text x="391.8" y="2190.8" font-size="16.5">-5</text>
<text transform="translate(344.7 2073.5) rotate(-90)" text-anchor="middle">Normalized complexity</text>
<text transform="translate(364.6 2073.5) rotate(-90)" text-anchor="middle">(<tspan fill="#c8302c">Enrichment</tspan> / <tspan fill="#5262b2">depletion</tspan>)</text>
<rect x="810.3" y="1956" width="11" height="234" fill="url(#cb2)"/>
<text x="826" y="1977.8" font-size="16.5">50</text>
<text x="826" y="2010.6" font-size="16.5">40</text>
<text x="826" y="2043.4" font-size="16.5">30</text>
<text x="826" y="2076.2" font-size="16.5">20</text>
<text x="826" y="2109" font-size="16.5">10</text>
<text x="826" y="2141.8" font-size="16.5">0</text>
<text x="826" y="2174.6" font-size="16.5">-10</text>
<text transform="translate(775.5 2073.5) rotate(-90)" text-anchor="middle">Normalized complexity</text>
<text transform="translate(796 2073.5) rotate(-90)" text-anchor="middle">(<tspan fill="#c8302c">Enrichment</tspan> / <tspan fill="#5262b2">depletion</tspan>)</text>
<rect x="1247.5" y="1956" width="11" height="234" fill="url(#cb3)"/>
<text x="1263.7" y="1961.4" font-size="16.5">15</text>
<text x="1263.7" y="2012" font-size="16.5">10</text>
<text x="1263.7" y="2062.6" font-size="16.5">5</text>
<text x="1263.7" y="2113.2" font-size="16.5">0</text>
<text x="1263.7" y="2163.8" font-size="16.5">-5</text>
<text transform="translate(1213.5 2073.5) rotate(-90)" text-anchor="middle">Normalized complexity</text>
<text transform="translate(1234.2 2073.5) rotate(-90)" text-anchor="middle">(<tspan fill="#c8302c">Enrichment</tspan> / <tspan fill="#5262b2">depletion</tspan>)</text>
<rect x="1678.2" y="1956" width="11" height="234" fill="url(#cb4)"/>
<text x="1693.9" y="1982.1" font-size="16.5">40</text>
<text x="1693.9" y="2021.8" font-size="16.5">30</text>
<text x="1693.9" y="2061.5" font-size="16.5">20</text>
<text x="1693.9" y="2101.2" font-size="16.5">10</text>
<text x="1693.9" y="2140.9" font-size="16.5">0</text>
<text x="1693.9" y="2180.6" font-size="16.5">-10</text>
<text transform="translate(1644.5 2073.5) rotate(-90)" text-anchor="middle">Normalized complexity</text>
<text transform="translate(1665.2 2073.5) rotate(-90)" text-anchor="middle">(<tspan fill="#c8302c">Enrichment</tspan> / <tspan fill="#5262b2">depletion</tspan>)</text>
<line x1="37.6" y1="2135" x2="293.2" y2="2135" stroke="#000" stroke-width="2"/>
<line x1="38.6" y1="2135" x2="38.6" y2="2144.5" stroke="#000" stroke-width="2"/>
<line x1="165.4" y1="2135" x2="165.4" y2="2144.5" stroke="#000" stroke-width="2"/>
<line x1="292.2" y1="2135" x2="292.2" y2="2144.5" stroke="#000" stroke-width="2"/>
<text x="38.6" y="2165.5" text-anchor="middle">-2.5 Kb</text>
<text x="165.4" y="2165.5" text-anchor="middle">Chimeric fragments</text>
<text x="292.2" y="2165.5" text-anchor="middle">2.5 Kb</text>
<text x="165.4" y="2191" text-anchor="middle">in enhancer</text>
<line x1="468.8" y1="2135" x2="725" y2="2135" stroke="#000" stroke-width="2"/>
<line x1="469.8" y1="2135" x2="469.8" y2="2144.5" stroke="#000" stroke-width="2"/>
<line x1="596.9" y1="2135" x2="596.9" y2="2144.5" stroke="#000" stroke-width="2"/>
<line x1="724" y1="2135" x2="724" y2="2144.5" stroke="#000" stroke-width="2"/>
<text x="469.8" y="2165.5" text-anchor="middle">-2.5 Kb</text>
<text x="596.9" y="2165.5" text-anchor="middle">Chimeric fragments</text>
<text x="724" y="2165.5" text-anchor="middle">2.5 Kb</text>
<text x="596.9" y="2191" text-anchor="middle">in promoter</text>
<line x1="907.6" y1="2135" x2="1163.2" y2="2135" stroke="#000" stroke-width="2"/>
<line x1="908.6" y1="2135" x2="908.6" y2="2144.5" stroke="#000" stroke-width="2"/>
<line x1="1035.4" y1="2135" x2="1035.4" y2="2144.5" stroke="#000" stroke-width="2"/>
<line x1="1162.2" y1="2135" x2="1162.2" y2="2144.5" stroke="#000" stroke-width="2"/>
<text x="908.6" y="2165.5" text-anchor="middle">-2.5 Kb</text>
<text x="1035.4" y="2165.5" text-anchor="middle">Chimeric fragments</text>
<text x="1162.2" y="2165.5" text-anchor="middle">2.5 Kb</text>
<text x="1035.4" y="2191" text-anchor="middle">in enhancer</text>
<line x1="1339.4" y1="2135" x2="1594.3" y2="2135" stroke="#000" stroke-width="2"/>
<line x1="1340.4" y1="2135" x2="1340.4" y2="2144.5" stroke="#000" stroke-width="2"/>
<line x1="1466.8" y1="2135" x2="1466.8" y2="2144.5" stroke="#000" stroke-width="2"/>
<line x1="1593.3" y1="2135" x2="1593.3" y2="2144.5" stroke="#000" stroke-width="2"/>
<text x="1340.4" y="2165.5" text-anchor="middle">-2.5 Kb</text>
<text x="1466.8" y="2165.5" text-anchor="middle">Chimeric fragments</text>
<text x="1593.3" y="2165.5" text-anchor="middle">2.5 Kb</text>
<text x="1466.8" y="2191" text-anchor="middle">in promoter</text>
<text x="52.7" y="2241">eRNA</text>
<path d="M52.7 2257.6C55.2 2256.8 63 2253.9 68 2253C73 2252.1 76.7 2252.1 82.7 2252.4C88.7 2252.7 97.1 2254.3 104 2255C110.9 2255.7 117.7 2257 124 2256.5C130.3 2256 135.8 2253.7 142 2252C148.2 2250.3 155 2247.6 161.3 2246.2C167.6 2244.8 173.8 2243.8 180 2243.5C186.2 2243.2 195.4 2244 198.5 2244.1" stroke="#e0962a" stroke-width="2.6" fill="none"/>
<path d="M80.6 2277.2C83.8 2277.1 92.8 2276.9 100 2276.5C107.2 2276.1 116.5 2275.8 124 2275C131.5 2274.2 138.1 2272.5 145 2271.5C151.9 2270.5 158.6 2269.3 165.4 2269C172.2 2268.7 179.1 2269 186 2269.5C192.9 2270 199.8 2270.5 206.8 2272C213.8 2273.5 221.1 2276.4 228 2278.5C234.9 2280.6 241.2 2283.1 248 2284.4C254.8 2285.7 265.3 2286.2 268.8 2286.5" stroke="#2e6a34" stroke-width="2.6" fill="none"/>
<path d="M100 2258V2274M105 2257V2275M113 2257V2275M118 2258V2275M132 2256V2274M136 2256V2274M141 2254V2273M146 2253V2272M152 2251V2271M169 2247V2269M175 2246V2269" stroke="#222" stroke-width="1.1" fill="none"/>
<path d="M12 0C11.9 0.5 12.4 2.3 11.8 3.2C11.2 4.1 9.5 4.8 8.2 5.3C6.9 5.8 5.3 5.8 3.9 6.1C2.5 6.4 1.4 6.9 0 7.1C-1.4 7.3 -3.1 7.5 -4.6 7.2C-6.1 7 -7.9 6.6 -9 5.9C-10.1 5.1 -10.9 4 -11.1 3C-11.3 2 -10.5 0.9 -10.2 0C-9.9 -0.9 -9.6 -1.6 -9.3 -2.5C-9.1 -3.5 -9.3 -4.8 -8.6 -5.6C-7.8 -6.4 -6.2 -7.1 -4.8 -7.5C-3.3 -7.9 -1.5 -8.3 0 -8.1C1.5 -7.9 2.7 -6.8 4 -6.2C5.2 -5.7 6.2 -5.4 7.4 -4.8C8.5 -4.3 9.9 -3.7 10.7 -2.9C11.5 -2.1 11.8 -1 12 0C12.1 1 11.8 2.7 11.8 3.2Z" fill="url(#bg1)" stroke="#8cc08a" stroke-opacity="0.5" stroke-width="0.8" transform="translate(71 2259) rotate(-20)"/>
<path d="M14.1 0C13.7 1 13.1 4.6 12 6.2C11 7.8 9 8.4 7.7 9.5C6.4 10.7 5.6 11.7 4.3 12.8C3 14 1.6 16.1 0 16.6C-1.6 17.1 -3.8 16.8 -5.3 15.9C-6.9 15.1 -8.4 13.2 -9.3 11.5C-10.1 9.7 -10.2 7.3 -10.6 5.4C-11 3.5 -11.4 1.9 -11.6 0C-11.8 -1.9 -12 -4 -11.7 -6C-11.4 -8 -10.8 -10.5 -9.7 -12C-8.5 -13.4 -6.5 -14.2 -4.9 -14.7C-3.3 -15.2 -1.5 -15.1 0 -14.8C1.5 -14.5 2.8 -13.5 4.3 -12.9C5.8 -12.2 7.3 -11.9 8.8 -10.9C10.2 -9.8 12 -8.4 12.9 -6.6C13.8 -4.8 14.2 -2.1 14.1 0C14 2.1 12.4 5.1 12 6.2Z" fill="url(#bp1)" stroke="#c890d0" stroke-opacity="0.5" stroke-width="0.8" transform="translate(111.5 2266.5) rotate(0)"/>
<path d="M10.4 0C10.1 1.2 9.6 4.8 9 6.9C8.4 9 7.6 10.7 6.8 12.6C6 14.6 5.3 17.1 4.1 18.6C3 20.1 1.4 21.6 0 21.5C-1.4 21.4 -2.9 19.6 -4 18.1C-5.1 16.5 -5.8 14.2 -6.7 12.4C-7.5 10.5 -8.6 9.1 -9.2 7.1C-9.8 5 -9.9 2.5 -10.1 0C-10.3 -2.5 -10.5 -5.3 -10.2 -7.8C-9.9 -10.4 -9.4 -13.8 -8.3 -15.5C-7.3 -17.1 -5.3 -17.1 -3.9 -17.6C-2.5 -18.1 -1.3 -18.5 0 -18.4C1.3 -18.4 2.5 -17.8 3.8 -17.1C5.1 -16.5 6.9 -16.3 7.9 -14.7C9 -13.2 9.8 -10.3 10.2 -7.9C10.6 -5.4 10.6 -2.5 10.4 0C10.2 2.5 9.2 5.8 9 6.9Z" fill="url(#bo1)" stroke="#e0a88e" stroke-opacity="0.5" stroke-width="0.8" transform="translate(142.5 2265.7) rotate(0)"/>
<path d="M10.4 0C10.2 1.2 9.7 4.5 9.3 6.9C9 9.3 8.9 12.3 8.1 14.4C7.3 16.6 6 18.8 4.6 19.9C3.3 21 1.5 21.1 0 20.8C-1.5 20.5 -2.9 19.2 -4.2 18C-5.5 16.8 -6.7 15.5 -7.7 13.8C-8.8 12.1 -9.8 10.2 -10.6 7.9C-11.5 5.6 -12.5 2.7 -12.6 0C-12.7 -2.7 -11.9 -5.8 -11.2 -8.3C-10.4 -10.7 -9.3 -13 -8.1 -14.5C-6.9 -15.9 -5.3 -16.2 -3.9 -16.9C-2.6 -17.6 -1.4 -18.3 0 -18.6C1.4 -19 3 -19.5 4.4 -19C5.8 -18.4 7.5 -17.1 8.6 -15.4C9.8 -13.6 11.1 -11 11.4 -8.4C11.7 -5.8 10.8 -2.6 10.4 0C10.1 2.6 9.5 5.8 9.3 6.9Z" fill="url(#bb1)" stroke="#98a8d0" stroke-opacity="0.5" stroke-width="0.8" transform="translate(174.5 2255.5) rotate(0)"/>
<path d="M15.7 0C15.8 0.6 16.3 2.4 15.9 3.7C15.5 4.9 14.8 6.4 13.3 7.4C11.9 8.5 9.5 9.4 7.2 9.8C5 10.1 2.2 9.7 0 9.5C-2.2 9.2 -4.4 8.9 -6.2 8.4C-8 7.8 -9.2 6.9 -10.9 6.1C-12.7 5.4 -15.2 4.8 -16.5 3.8C-17.9 2.8 -19.3 1.3 -19.2 0C-19.1 -1.3 -17.4 -2.6 -16.1 -3.7C-14.8 -4.8 -13.3 -5.8 -11.6 -6.5C-9.8 -7.1 -7.7 -7.3 -5.8 -7.8C-3.9 -8.4 -2.1 -9.5 0 -9.7C2.1 -10 4.8 -9.8 6.9 -9.3C9 -8.9 11.3 -8 12.6 -7C13.9 -6.1 14.4 -4.6 14.9 -3.5C15.5 -2.3 15.6 -1.2 15.7 0C15.9 1.2 15.9 3.1 15.9 3.7Z" fill="url(#bu1)" stroke="#4a8ae6" stroke-opacity="0.5" stroke-width="0.8" transform="translate(216.6 2273.7) rotate(10)"/>
<text x="238.8" y="2308.2">uaRNA</text>
<text x="47.6" y="2319.6">RBPs on eRNA (E)</text>
<circle cx="136.8" cy="2376.2" r="50" fill="none" stroke="#111" stroke-width="1.8"/>
<circle cx="173.7" cy="2387.5" r="52.5" fill="none" stroke="#111" stroke-width="1.8"/>
<path d="M10.5 0C10.6 0.5 11.1 2.1 10.7 3C10.3 3.8 9.1 4.8 8 5.3C6.9 5.9 5.2 6.1 3.9 6.2C2.5 6.4 1.3 6.1 0 6C-1.3 6 -2.6 6.4 -3.9 6.2C-5.1 6.1 -6.6 5.7 -7.7 5.1C-8.9 4.6 -10.3 3.8 -10.8 3C-11.3 2.1 -10.9 0.9 -10.6 0C-10.4 -0.9 -9.9 -1.8 -9.3 -2.6C-8.6 -3.3 -7.5 -3.8 -6.7 -4.4C-5.8 -5.1 -5.3 -6.2 -4.2 -6.7C-3.1 -7.3 -1.4 -7.8 0 -7.8C1.4 -7.8 3 -7.3 4.2 -6.8C5.4 -6.3 6.3 -5.5 7.1 -4.8C7.9 -4 8.4 -3.3 9 -2.5C9.6 -1.7 10.3 -0.9 10.5 0C10.8 0.9 10.7 2.5 10.7 3Z" fill="url(#bg2)" stroke="#8cc08a" stroke-opacity="0.5" stroke-width="0.8" transform="translate(106.5 2353.7) rotate(-25)"/>
<path d="M9.9 0C9.8 0.6 9.7 2.7 9.2 3.8C8.7 5 7.9 6.2 6.9 6.9C5.9 7.5 4.3 7.4 3.2 7.7C2 8 1.1 8.7 0 8.9C-1.1 9.1 -2.5 9.2 -3.7 8.9C-4.9 8.6 -6.1 7.9 -7 7C-7.9 6.2 -8.9 5 -9.1 3.8C-9.4 2.6 -8.7 1.2 -8.5 0C-8.3 -1.2 -8.3 -2.2 -8 -3.3C-7.6 -4.4 -7.1 -5.4 -6.4 -6.4C-5.7 -7.4 -4.8 -8.5 -3.8 -9.1C-2.7 -9.7 -1.2 -10.1 0 -10.1C1.2 -10 2.7 -9.5 3.7 -8.8C4.6 -8.1 5.1 -6.8 5.9 -5.9C6.6 -5 7.5 -4.4 8.2 -3.4C8.9 -2.4 9.7 -1.2 9.9 0C10.1 1.2 9.3 3.2 9.2 3.8Z" fill="url(#bo2)" stroke="#e0a88e" stroke-opacity="0.5" stroke-width="0.8" transform="translate(147 2363) rotate(0)"/>
<path d="M11.1 0C11 0.6 11.1 2.9 10.4 3.9C9.6 4.9 7.7 5.2 6.6 6C5.5 6.7 4.9 7.7 3.8 8.3C2.7 8.8 1.3 9.1 0 9.2C-1.3 9.4 -2.9 9.6 -4.3 9.3C-5.6 9 -7.4 8.4 -8.2 7.4C-9 6.4 -8.7 4.6 -9 3.4C-9.2 2.1 -9.6 1.2 -9.7 0C-9.8 -1.2 -9.7 -2.3 -9.4 -3.5C-9.1 -4.7 -8.8 -6.2 -7.9 -7.2C-7.1 -8.2 -5.6 -9.1 -4.3 -9.5C-3 -9.8 -1.4 -9.3 0 -9.1C1.4 -8.9 2.7 -8.8 3.8 -8.3C4.9 -7.8 5.7 -6.8 6.7 -6.1C7.7 -5.3 9.2 -4.7 9.9 -3.7C10.6 -2.7 11.1 -1.3 11.1 0C11.2 1.3 10.5 3.2 10.4 3.9Z" fill="url(#bb2)" stroke="#98a8d0" stroke-opacity="0.5" stroke-width="0.8" transform="translate(165.9 2387.7) rotate(30)"/>
<path d="M10.9 0C10.5 0.5 9.7 2.1 9 2.9C8.3 3.8 7.3 4.3 6.5 5.2C5.7 6 5.2 7.4 4.2 7.9C3.1 8.5 1.4 8.5 0 8.6C-1.4 8.6 -3 8.6 -4.3 8.2C-5.5 7.7 -6.8 6.8 -7.5 5.9C-8.2 5 -8 3.7 -8.4 2.8C-8.9 1.8 -9.8 1 -10.2 0C-10.5 -1 -10.8 -2.4 -10.4 -3.4C-10 -4.4 -8.8 -5.4 -7.7 -6.1C-6.6 -6.8 -5.3 -7.3 -4 -7.6C-2.7 -7.9 -1.3 -7.9 0 -7.8C1.3 -7.7 2.4 -7.4 3.7 -7.1C5 -6.9 6.7 -6.8 7.8 -6.2C8.9 -5.6 9.7 -4.4 10.2 -3.4C10.7 -2.3 11.1 -1 10.9 0C10.6 1 9.3 2.5 9 2.9Z" fill="url(#bp2)" stroke="#c890d0" stroke-opacity="0.5" stroke-width="0.8" transform="translate(135.4 2396.1) rotate(0)"/>
<path d="M14.4 0C14.1 0.5 13.2 2 12.5 3C11.9 4.1 11.6 5.2 10.5 6.2C9.4 7.1 7.7 7.9 6 8.5C4.2 9.1 2 9.8 0 9.7C-2 9.7 -4.2 8.9 -5.8 8.3C-7.5 7.6 -8.7 6.6 -9.8 5.8C-11 4.9 -11.7 4 -12.7 3.1C-13.7 2.1 -15.4 1.1 -15.8 0C-16.1 -1.1 -15.7 -2.6 -14.8 -3.6C-14 -4.6 -12.1 -5.5 -10.5 -6.2C-9 -6.9 -7.3 -7.5 -5.6 -7.9C-3.8 -8.3 -1.9 -8.6 0 -8.6C1.9 -8.6 3.6 -8.2 5.6 -7.9C7.6 -7.6 10.4 -7.7 11.9 -7C13.4 -6.3 14.3 -4.7 14.7 -3.6C15.1 -2.4 14.7 -1.1 14.4 0C14 1.1 12.8 2.5 12.5 3Z" fill="url(#bu2)" stroke="#4a8ae6" stroke-opacity="0.5" stroke-width="0.8" transform="translate(199 2412.2) rotate(5)"/>
<text x="106.5" y="2455">RBPs on uaRNA (P)</text>
<text x="64.1" y="2494.3">Jaccard index =</text>
<line x1="211" y1="2487.5" x2="283.3" y2="2487.5" stroke="#111" stroke-width="1.5"/>
<text x="228" y="2480.9" text-anchor="middle">E</text>
<text x="247.1" y="2480.9" text-anchor="middle" font-family="DejaVu Sans" font-size="27" fill="#3a3a3a">∩</text>
<text x="265.2" y="2480.9" text-anchor="middle">P</text>
<text x="228" y="2508.8" text-anchor="middle">E</text>
<text x="247.1" y="2508.8" text-anchor="middle" font-family="DejaVu Sans" font-size="27" fill="#3a3a3a">∪</text>
<text x="265.2" y="2508.8" text-anchor="middle">P</text>
<text x="496" y="2242.7" font-size="23" text-anchor="middle">K562</text>
<text x="455.4" y="2270.9"><tspan font-style="italic">P</tspan> &lt; 1e-4</text>
<path d="M465.9 2284.5V2276.3H524V2322.7" stroke="#000" stroke-width="2" fill="none"/>
<line x1="427.2" y1="2281.7" x2="427.2" y2="2484.4" stroke="#000" stroke-width="2"/>
<line x1="420.7" y1="2282.7" x2="427.2" y2="2282.7" stroke="#000" stroke-width="2"/>
<text x="415.4" y="2289.9" text-anchor="end">1.0</text>
<line x1="420.7" y1="2377.2" x2="427.2" y2="2377.2" stroke="#000" stroke-width="2"/>
<text x="415.4" y="2384.4" text-anchor="end">0.5</text>
<line x1="420.7" y1="2471.7" x2="427.2" y2="2471.7" stroke="#000" stroke-width="2"/>
<text x="415.4" y="2478.9" text-anchor="end">0</text>
<line x1="426.2" y1="2484.4" x2="563.5" y2="2484.4" stroke="#000" stroke-width="2"/>
<line x1="466.1" y1="2292.7" x2="466.1" y2="2393.2" stroke="#000" stroke-width="2"/>
<line x1="466.1" y1="2461.7" x2="466.1" y2="2471.7" stroke="#000" stroke-width="2"/>
<line x1="456.8" y1="2292.7" x2="475.4" y2="2292.7" stroke="#000" stroke-width="2"/>
<line x1="456.8" y1="2471.7" x2="475.4" y2="2471.7" stroke="#000" stroke-width="2"/>
<rect x="446.8" y="2393.2" width="38.6" height="68.5" fill="#a64f4f" stroke="#000" stroke-width="2"/>
<line x1="446.8" y1="2437.2" x2="485.4" y2="2437.2" stroke="#000" stroke-width="2.2"/>
<line x1="466.1" y1="2484.4" x2="466.1" y2="2490" stroke="#000" stroke-width="2"/>
<line x1="524" y1="2328.1" x2="524" y2="2409.5" stroke="#000" stroke-width="2"/>
<line x1="524" y1="2464" x2="524" y2="2471.7" stroke="#000" stroke-width="2"/>
<line x1="514.4" y1="2328.1" x2="533.5" y2="2328.1" stroke="#000" stroke-width="2"/>
<line x1="514.4" y1="2471.7" x2="533.5" y2="2471.7" stroke="#000" stroke-width="2"/>
<rect x="504.5" y="2409.5" width="39" height="54.5" fill="#5b7cc2" stroke="#000" stroke-width="2"/>
<line x1="504.5" y1="2446.2" x2="543.5" y2="2446.2" stroke="#000" stroke-width="2.2"/>
<line x1="524" y1="2484.4" x2="524" y2="2490" stroke="#000" stroke-width="2"/>
<text x="460.8" y="2506.2" text-anchor="middle">EPRI</text>
<text x="529.3" y="2506.2" text-anchor="middle">Shuffle</text>
<text transform="translate(380.5 2375) rotate(-90)" font-size="23.5" text-anchor="middle">Jaccard index</text>
<text x="729.5" y="2242.7" font-size="23" text-anchor="middle">HepG2</text>
<text x="690.7" y="2270.9"><tspan font-style="italic">P</tspan> &lt; 1e-4</text>
<path d="M701.2 2284.5V2276.3H759.4V2331.7" stroke="#000" stroke-width="2" fill="none"/>
<line x1="662.7" y1="2281.7" x2="662.7" y2="2484.4" stroke="#000" stroke-width="2"/>
<line x1="656.2" y1="2282.7" x2="662.7" y2="2282.7" stroke="#000" stroke-width="2"/>
<text x="652.7" y="2289.9" text-anchor="end">0.8</text>
<line x1="656.2" y1="2330" x2="662.7" y2="2330" stroke="#000" stroke-width="2"/>
<text x="652.7" y="2337.2" text-anchor="end">0.6</text>
<line x1="656.2" y1="2377.2" x2="662.7" y2="2377.2" stroke="#000" stroke-width="2"/>
<text x="652.7" y="2384.4" text-anchor="end">0.4</text>
<line x1="656.2" y1="2424.4" x2="662.7" y2="2424.4" stroke="#000" stroke-width="2"/>
<text x="652.7" y="2431.6" text-anchor="end">0.2</text>
<line x1="656.2" y1="2471.7" x2="662.7" y2="2471.7" stroke="#000" stroke-width="2"/>
<text x="652.7" y="2478.9" text-anchor="end">0</text>
<line x1="661.7" y1="2484.4" x2="798" y2="2484.4" stroke="#000" stroke-width="2"/>
<line x1="701.3" y1="2298.7" x2="701.3" y2="2402.3" stroke="#000" stroke-width="2"/>
<line x1="701.3" y1="2471.7" x2="701.3" y2="2471.7" stroke="#000" stroke-width="2"/>
<line x1="691.8" y1="2298.7" x2="710.8" y2="2298.7" stroke="#000" stroke-width="2"/>
<line x1="691.8" y1="2471.7" x2="710.8" y2="2471.7" stroke="#000" stroke-width="2"/>
<rect x="681.8" y="2402.3" width="39" height="69.4" fill="#a64f4f" stroke="#000" stroke-width="2"/>
<line x1="681.8" y1="2450.8" x2="720.8" y2="2450.8" stroke="#000" stroke-width="2.2"/>
<line x1="701.3" y1="2484.4" x2="701.3" y2="2490" stroke="#000" stroke-width="2"/>
<line x1="759.5" y1="2344.5" x2="759.5" y2="2420.8" stroke="#000" stroke-width="2"/>
<line x1="759.5" y1="2471.7" x2="759.5" y2="2471.7" stroke="#000" stroke-width="2"/>
<line x1="750" y1="2344.5" x2="769" y2="2344.5" stroke="#000" stroke-width="2"/>
<line x1="750" y1="2471.7" x2="769" y2="2471.7" stroke="#000" stroke-width="2"/>
<rect x="739.9" y="2420.8" width="39.1" height="50.9" fill="#5b7cc2" stroke="#000" stroke-width="2"/>
<line x1="739.9" y1="2456.8" x2="779" y2="2456.8" stroke="#000" stroke-width="2.2"/>
<line x1="759.5" y1="2484.4" x2="759.5" y2="2490" stroke="#000" stroke-width="2"/>
<text x="696" y="2506.2" text-anchor="middle">EPRI</text>
<text x="766.8" y="2506.2" text-anchor="middle">Shuffle</text>
<text transform="translate(617.5 2375) rotate(-90)" font-size="23.5" text-anchor="middle">Jaccard index</text>
<text x="1070.3" y="2241.8" font-size="23" text-anchor="middle">K562</text>
<line x1="909.8" y1="2262" x2="909.8" y2="2484.8" stroke="#000" stroke-width="2"/>
<line x1="903.3" y1="2263" x2="909.8" y2="2263" stroke="#000" stroke-width="2"/>
<text x="898" y="2270.2" text-anchor="end">17.4</text>
<line x1="903.3" y1="2307.2" x2="909.8" y2="2307.2" stroke="#000" stroke-width="2"/>
<text x="898" y="2314.4" text-anchor="end">17.2</text>
<line x1="903.3" y1="2352" x2="909.8" y2="2352" stroke="#000" stroke-width="2"/>
<text x="898" y="2359.2" text-anchor="end">17.0</text>
<line x1="903.3" y1="2396.1" x2="909.8" y2="2396.1" stroke="#000" stroke-width="2"/>
<text x="898" y="2403.3" text-anchor="end">16.8</text>
<line x1="903.3" y1="2440.3" x2="909.8" y2="2440.3" stroke="#000" stroke-width="2"/>
<text x="898" y="2447.5" text-anchor="end">16.6</text>
<line x1="903.3" y1="2484.8" x2="909.8" y2="2484.8" stroke="#000" stroke-width="2"/>
<text x="898" y="2492" text-anchor="end">16.4</text>
<line x1="908.8" y1="2484.8" x2="1235.6" y2="2484.8" stroke="#000" stroke-width="2"/>
<line x1="909.8" y1="2484.8" x2="909.8" y2="2490.5" stroke="#000" stroke-width="2"/>
<line x1="1072.2" y1="2484.8" x2="1072.2" y2="2490.5" stroke="#000" stroke-width="2"/>
<line x1="1234.6" y1="2484.8" x2="1234.6" y2="2490.5" stroke="#000" stroke-width="2"/>
<text x="909.8" y="2508" text-anchor="middle">-0.5 Kb</text>
<text x="1073.2" y="2508" text-anchor="middle">eCLIP peaks</text>
<text x="1235.6" y="2508" text-anchor="middle">0.5 Kb</text>
<text transform="translate(849.8 2374) rotate(-90)" font-size="23.2" text-anchor="middle">SNVs per Kb</text>
<path d="M909.8 2435.3C911 2436.1 914.5 2438.6 917.2 2440.3C919.9 2442 922.6 2443.3 926 2445.6C929.5 2447.8 933.9 2452 937.8 2453.8C941.7 2455.7 945.2 2455.1 949.6 2456.8C954 2458.5 960.4 2463.3 964.3 2463.9C968.2 2464.4 969.7 2463.9 973.1 2460.3C976.6 2456.8 981.5 2448 984.9 2442.6C988.4 2437.2 990.8 2430.9 993.7 2427.9C996.7 2425 997.7 2424.7 1002.6 2425C1007.5 2425.2 1017.6 2427.3 1023.2 2429.4C1028.8 2431.5 1033.5 2437.6 1036.5 2437.3C1039.4 2437.1 1039.1 2434.4 1040.9 2427.9C1042.6 2421.4 1044.3 2411.7 1046.8 2398.5C1049.2 2385.2 1052.6 2362.2 1055.6 2348.4C1058.5 2334.7 1061.7 2323.3 1064.4 2316C1067.1 2308.8 1069.3 2304.8 1071.8 2304.8C1074.2 2304.8 1076.5 2310.2 1079.2 2316C1081.9 2321.8 1085 2329.8 1088 2339.6C1090.9 2349.4 1094.1 2361.2 1096.8 2374.9C1099.5 2388.7 1101.7 2411.8 1104.2 2422C1106.6 2432.2 1109.3 2434.9 1111.5 2436.2C1113.8 2437.4 1115.2 2430.8 1117.4 2429.4C1119.6 2428 1122.3 2426.7 1124.8 2427.9C1127.3 2429.1 1129.5 2432.3 1132.2 2436.8C1134.9 2441.2 1137.6 2449.1 1141 2454.4C1144.4 2459.7 1149.3 2467.3 1152.8 2468.6C1156.2 2469.8 1158.7 2464.2 1161.6 2461.8C1164.6 2459.3 1167.5 2454.6 1170.4 2453.8C1173.4 2453.1 1176.3 2457.8 1179.3 2457.4C1182.2 2457 1185.2 2455.4 1188.1 2451.5C1191.1 2447.6 1194 2439 1196.9 2433.8C1199.9 2428.7 1202.8 2422.4 1205.8 2420.6C1208.7 2418.7 1211.7 2422.4 1214.6 2422.6C1217.6 2422.9 1220.5 2423 1223.5 2422C1226.4 2421.1 1230.8 2417.6 1232.3 2416.7" stroke="#5672a8" stroke-width="2" fill="none" stroke-linejoin="round"/>
<text x="1510.1" y="2241.8" font-size="23" text-anchor="middle">HepG2</text>
<line x1="1345.2" y1="2262" x2="1345.2" y2="2484.8" stroke="#000" stroke-width="2"/>
<line x1="1338.7" y1="2263" x2="1345.2" y2="2263" stroke="#000" stroke-width="2"/>
<text x="1334.3" y="2270.2" text-anchor="end">16.6</text>
<line x1="1338.7" y1="2318.4" x2="1345.2" y2="2318.4" stroke="#000" stroke-width="2"/>
<text x="1334.3" y="2325.6" text-anchor="end">16.2</text>
<line x1="1338.7" y1="2373.6" x2="1345.2" y2="2373.6" stroke="#000" stroke-width="2"/>
<text x="1334.3" y="2380.8" text-anchor="end">15.8</text>
<line x1="1338.7" y1="2429" x2="1345.2" y2="2429" stroke="#000" stroke-width="2"/>
<text x="1334.3" y="2436.2" text-anchor="end">15.4</text>
<line x1="1338.7" y1="2484.5" x2="1345.2" y2="2484.5" stroke="#000" stroke-width="2"/>
<text x="1334.3" y="2491.7" text-anchor="end">15.0</text>
<line x1="1344.2" y1="2484.8" x2="1671" y2="2484.8" stroke="#000" stroke-width="2"/>
<line x1="1345.2" y1="2484.8" x2="1345.2" y2="2490.5" stroke="#000" stroke-width="2"/>
<line x1="1507.6" y1="2484.8" x2="1507.6" y2="2490.5" stroke="#000" stroke-width="2"/>
<line x1="1670" y1="2484.8" x2="1670" y2="2490.5" stroke="#000" stroke-width="2"/>
<text x="1345.2" y="2508" text-anchor="middle">-0.5 Kb</text>
<text x="1508.6" y="2508" text-anchor="middle">eCLIP peaks</text>
<text x="1671" y="2508" text-anchor="middle">0.5 Kb</text>
<text transform="translate(1285 2374) rotate(-90)" font-size="23.2" text-anchor="middle">SNVs per Kb</text>
<path d="M1346.1 2426.5C1347.8 2427.4 1352.7 2431.8 1356.4 2432.3C1360.1 2432.8 1364.7 2429.1 1368.2 2429.4C1371.6 2429.6 1373.6 2431.1 1377 2433.8C1380.5 2436.5 1384.4 2442.4 1388.8 2445.6C1393.2 2448.8 1399.1 2452.5 1403.5 2453C1407.9 2453.4 1411.4 2451.2 1415.3 2448.5C1419.2 2445.8 1423.2 2441.4 1427.1 2436.8C1431 2432.1 1435.7 2423.9 1438.9 2420.6C1442 2417.2 1443.8 2416.7 1446.2 2416.7C1448.7 2416.7 1450.4 2418.2 1453.6 2420.6C1456.8 2422.9 1462.4 2429.1 1465.4 2430.9C1468.3 2432.6 1468.8 2433.3 1471.3 2430.9C1473.7 2428.4 1477.1 2423.5 1480.1 2416.1C1483 2408.8 1486 2400.4 1488.9 2386.7C1491.9 2373 1494.8 2348.2 1497.8 2333.7C1500.7 2319.2 1503.6 2303.3 1506.6 2299.8C1509.5 2296.4 1513 2306 1515.4 2313.1C1517.9 2320.2 1519.4 2330.3 1521.3 2342.5C1523.3 2354.8 1525.2 2374.4 1527.2 2386.7C1529.2 2399 1531.1 2408.5 1533.1 2416.1C1535.1 2423.8 1536 2428.9 1539 2432.3C1541.9 2435.8 1547.3 2436.3 1550.8 2436.8C1554.2 2437.2 1556.7 2436.5 1559.6 2435.3C1562.5 2434.1 1566 2430.4 1568.4 2429.4C1570.9 2428.4 1571.9 2428.2 1574.3 2429.4C1576.8 2430.6 1579.7 2434.1 1583.2 2436.8C1586.6 2439.5 1591 2442.4 1594.9 2445.6C1598.9 2448.8 1603.5 2453.4 1606.7 2455.9C1609.9 2458.4 1611.6 2460.3 1614.1 2460.3C1616.5 2460.3 1618.7 2458.4 1621.4 2455.9C1624.1 2453.4 1626.8 2448.3 1630.3 2445.6C1633.7 2442.9 1638.6 2440.9 1642.1 2439.7C1645.5 2438.5 1647.9 2439.5 1650.9 2438.2C1653.8 2437 1656.8 2434.5 1659.7 2432.3C1662.7 2430.1 1667.1 2426.2 1668.6 2425" stroke="#5672a8" stroke-width="2" fill="none" stroke-linejoin="round"/>
<text x="16.2" y="20.5" font-size="27" font-weight="bold">a</text>
<text x="896.5" y="25.5" font-size="27" font-weight="bold">b</text>
<text x="16.2" y="305.7" font-size="27" font-weight="bold">c</text>
<text x="455.5" y="305.5" font-size="27" font-weight="bold">d</text>
<text x="895.5" y="305.5" font-size="27" font-weight="bold">e</text>
<text x="1316.5" y="305.5" font-size="27" font-weight="bold">f</text>
<text x="16" y="669" font-size="27" font-weight="bold">g</text>
<text x="877" y="668" font-size="27" font-weight="bold">h</text>
<text x="17" y="1262" font-size="27" font-weight="bold">i</text>
<text x="885" y="1262.5" font-size="27" font-weight="bold">j</text>
<text x="9.5" y="1649" font-size="27" font-weight="bold">k</text>
<text x="887" y="1648" font-size="27" font-weight="bold">l</text>
<text x="10" y="2226.5" font-size="27" font-weight="bold">m</text>
<text x="364" y="2226.5" font-size="27" font-weight="bold">n</text>
<text x="596" y="2226.5" font-size="27" font-weight="bold">o</text>
<text x="829.5" y="2226.7" font-size="27" font-weight="bold">p</text>
<text x="1255.5" y="2226.7" font-size="27" font-weight="bold">q</text></svg>
</body></html>
